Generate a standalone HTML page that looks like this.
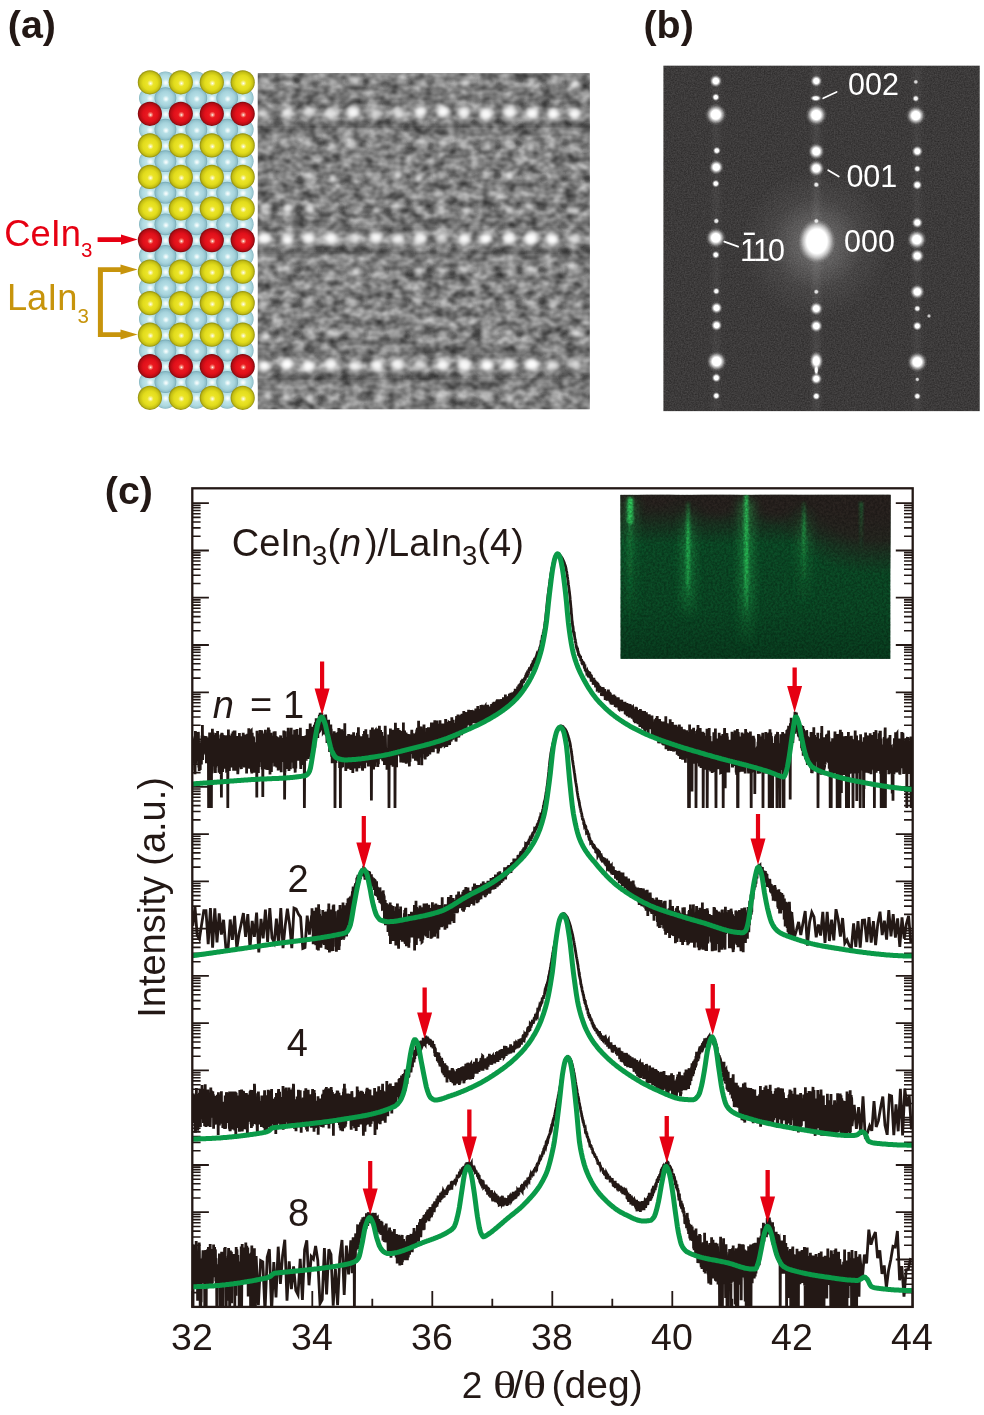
<!DOCTYPE html>
<html lang="en"><head><meta charset="utf-8"><title>CeIn3/LaIn3 superlattice figure</title>
<style>html,body{margin:0;padding:0;background:#fff}body{width:984px;height:1415px;overflow:hidden}svg{display:block;font-family:"Liberation Sans",sans-serif}</style>
</head><body>
<svg width="984" height="1415" viewBox="0 0 984 1415">
<defs>
<radialGradient id="gY" cx="0.5" cy="0.5" r="0.5" fx="0.53" fy="0.55">
<stop offset="0" stop-color="#ffffff"/><stop offset="0.1" stop-color="#f8f4a0"/><stop offset="0.26" stop-color="#ece52a"/><stop offset="0.6" stop-color="#e2dc1c"/><stop offset="0.85" stop-color="#c4bf14"/><stop offset="1" stop-color="#8f8c10"/></radialGradient>
<radialGradient id="gR" cx="0.5" cy="0.5" r="0.5" fx="0.53" fy="0.55">
<stop offset="0" stop-color="#ffffff"/><stop offset="0.1" stop-color="#f69080"/><stop offset="0.26" stop-color="#ea1a20"/><stop offset="0.6" stop-color="#e0101a"/><stop offset="0.85" stop-color="#b80c14"/><stop offset="1" stop-color="#7a0a0e"/></radialGradient>
<radialGradient id="gI" cx="0.5" cy="0.5" r="0.5" fx="0.53" fy="0.55">
<stop offset="0" stop-color="#ffffff"/><stop offset="0.13" stop-color="#e2f4f6"/><stop offset="0.3" stop-color="#b6dfe6"/><stop offset="0.65" stop-color="#a6d3dc"/><stop offset="0.88" stop-color="#8fc0cb"/><stop offset="1" stop-color="#74a6b2"/></radialGradient>
<radialGradient id="gIb" cx="0.5" cy="0.5" r="0.5" fx="0.52" fy="0.53">
<stop offset="0" stop-color="#ffffff"/><stop offset="0.14" stop-color="#eaf7f9"/><stop offset="0.34" stop-color="#c0e5ea"/><stop offset="0.7" stop-color="#afdae1"/><stop offset="0.9" stop-color="#9ccad3"/><stop offset="1" stop-color="#80b2bd"/></radialGradient>

<filter id="fTem" x="0" y="0" width="100%" height="100%" color-interpolation-filters="sRGB">
<feTurbulence type="fractalNoise" baseFrequency="0.085 0.11" numOctaves="2" seed="11"/>
<feColorMatrix type="matrix" values="0.7 0 0 0 0.14  0.7 0 0 0 0.14  0.7 0 0 0 0.14  0 0 0 0 1"/>
</filter>
<filter id="fBlur4" x="-5%" y="-5%" width="110%" height="110%"><feGaussianBlur stdDeviation="3.5"/></filter>
<filter id="fBlur2" x="-5%" y="-5%" width="110%" height="110%"><feGaussianBlur stdDeviation="1.9"/></filter>

<radialGradient id="gSpot"><stop offset="0" stop-color="#fff" stop-opacity="1"/><stop offset="0.42" stop-color="#fff" stop-opacity="1"/><stop offset="0.62" stop-color="#fff" stop-opacity="0.55"/><stop offset="0.82" stop-color="#fff" stop-opacity="0.15"/><stop offset="1" stop-color="#fff" stop-opacity="0"/></radialGradient>
<radialGradient id="gSpotC"><stop offset="0" stop-color="#fff" stop-opacity="1"/><stop offset="0.55" stop-color="#fff" stop-opacity="1"/><stop offset="0.72" stop-color="#fff" stop-opacity="0.6"/><stop offset="0.88" stop-color="#fff" stop-opacity="0.18"/><stop offset="1" stop-color="#fff" stop-opacity="0"/></radialGradient>
<radialGradient id="gGlow"><stop offset="0" stop-color="#fff" stop-opacity="0.5"/><stop offset="0.25" stop-color="#fff" stop-opacity="0.2"/><stop offset="0.6" stop-color="#fff" stop-opacity="0.06"/><stop offset="1" stop-color="#fff" stop-opacity="0"/></radialGradient>
<filter id="fDif" x="0" y="0" width="100%" height="100%" color-interpolation-filters="sRGB">
<feTurbulence type="fractalNoise" baseFrequency="0.7" numOctaves="3" seed="5"/>
<feColorMatrix type="matrix" values="0.5 0 0 0 0.0  0.5 0 0 0 0.0  0.5 0 0 0 0.0  0 0 0 0 1"/>
</filter>

<linearGradient id="gInsBase" x1="0" y1="0" x2="0" y2="1"><stop offset="0" stop-color="#0a3e20"/><stop offset="0.3" stop-color="#0c4e28"/><stop offset="0.7" stop-color="#0b4b26"/><stop offset="1" stop-color="#093f20"/></linearGradient>
<linearGradient id="gInsTop" x1="0" y1="0" x2="0" y2="1"><stop offset="0" stop-color="#2a2320" stop-opacity="1"/><stop offset="0.1" stop-color="#2a2320" stop-opacity="0.85"/><stop offset="0.3" stop-color="#2a2320" stop-opacity="0"/></linearGradient>
<radialGradient id="gInsDark"><stop offset="0" stop-color="#2a2320" stop-opacity="1"/><stop offset="0.55" stop-color="#2a2320" stop-opacity="0.85"/><stop offset="1" stop-color="#2a2320" stop-opacity="0"/></radialGradient>
<linearGradient id="gSt1" x1="0" y1="0" x2="0" y2="1"><stop offset="0" stop-color="#22b050" stop-opacity="0.9"/><stop offset="1" stop-color="#22b050" stop-opacity="0"/></linearGradient>
<linearGradient id="gSt2" x1="0" y1="0" x2="0" y2="1"><stop offset="0" stop-color="#28c058" stop-opacity="0.2"/><stop offset="0.3" stop-color="#28c058" stop-opacity="0.9"/><stop offset="0.8" stop-color="#28c058" stop-opacity="0.7"/><stop offset="1" stop-color="#28c058" stop-opacity="0"/></linearGradient>
<linearGradient id="gSt3" x1="0" y1="0" x2="0" y2="1"><stop offset="0" stop-color="#30d060" stop-opacity="0.9"/><stop offset="0.6" stop-color="#2cc85c" stop-opacity="0.85"/><stop offset="1" stop-color="#28c058" stop-opacity="0"/></linearGradient>
<linearGradient id="gSt4" x1="0" y1="0" x2="0" y2="1"><stop offset="0" stop-color="#22a84c" stop-opacity="0.2"/><stop offset="0.3" stop-color="#22a84c" stop-opacity="0.8"/><stop offset="1" stop-color="#22a84c" stop-opacity="0"/></linearGradient>
<linearGradient id="gSt5" x1="0" y1="0" x2="0" y2="1"><stop offset="0" stop-color="#1c8840" stop-opacity="0.6"/><stop offset="1" stop-color="#1c8840" stop-opacity="0"/></linearGradient>
<filter id="fBlurS" x="-5%" y="-5%" width="110%" height="110%"><feGaussianBlur stdDeviation="1.1"/></filter>
<filter id="fBlurW" x="-5%" y="-5%" width="110%" height="110%"><feGaussianBlur stdDeviation="5"/></filter>
<filter id="fIns" x="0" y="0" width="100%" height="100%" color-interpolation-filters="sRGB">
<feTurbulence type="fractalNoise" baseFrequency="0.45" numOctaves="2" seed="9"/>
<feColorMatrix type="matrix" values="0 0 0 0 0  0 0 0 0 0  0 0 0 0 0  2.4 0 0 0 -0.75"/>
</filter>
</defs>
<rect width="984" height="1415" fill="#fff"/>
<g fill="#231815" font-weight="bold" font-size="39.4"><text x="7.8" y="38">(a)</text><text x="643.5" y="38">(b)</text><text x="104.8" y="504.2">(c)</text></g>
<g id="lattice">
<circle cx="165.4" cy="82.3" r="10.9" fill="url(#gIb)"/>
<circle cx="196.3" cy="82.3" r="10.9" fill="url(#gIb)"/>
<circle cx="227.2" cy="82.3" r="10.9" fill="url(#gIb)"/>
<circle cx="165.4" cy="113.8" r="10.9" fill="url(#gIb)"/>
<circle cx="196.3" cy="113.8" r="10.9" fill="url(#gIb)"/>
<circle cx="227.2" cy="113.8" r="10.9" fill="url(#gIb)"/>
<circle cx="165.4" cy="145.4" r="10.9" fill="url(#gIb)"/>
<circle cx="196.3" cy="145.4" r="10.9" fill="url(#gIb)"/>
<circle cx="227.2" cy="145.4" r="10.9" fill="url(#gIb)"/>
<circle cx="165.4" cy="176.9" r="10.9" fill="url(#gIb)"/>
<circle cx="196.3" cy="176.9" r="10.9" fill="url(#gIb)"/>
<circle cx="227.2" cy="176.9" r="10.9" fill="url(#gIb)"/>
<circle cx="165.4" cy="208.5" r="10.9" fill="url(#gIb)"/>
<circle cx="196.3" cy="208.5" r="10.9" fill="url(#gIb)"/>
<circle cx="227.2" cy="208.5" r="10.9" fill="url(#gIb)"/>
<circle cx="165.4" cy="240.1" r="10.9" fill="url(#gIb)"/>
<circle cx="196.3" cy="240.1" r="10.9" fill="url(#gIb)"/>
<circle cx="227.2" cy="240.1" r="10.9" fill="url(#gIb)"/>
<circle cx="165.4" cy="271.6" r="10.9" fill="url(#gIb)"/>
<circle cx="196.3" cy="271.6" r="10.9" fill="url(#gIb)"/>
<circle cx="227.2" cy="271.6" r="10.9" fill="url(#gIb)"/>
<circle cx="165.4" cy="303.1" r="10.9" fill="url(#gIb)"/>
<circle cx="196.3" cy="303.1" r="10.9" fill="url(#gIb)"/>
<circle cx="227.2" cy="303.1" r="10.9" fill="url(#gIb)"/>
<circle cx="165.4" cy="334.7" r="10.9" fill="url(#gIb)"/>
<circle cx="196.3" cy="334.7" r="10.9" fill="url(#gIb)"/>
<circle cx="227.2" cy="334.7" r="10.9" fill="url(#gIb)"/>
<circle cx="165.4" cy="366.2" r="10.9" fill="url(#gIb)"/>
<circle cx="196.3" cy="366.2" r="10.9" fill="url(#gIb)"/>
<circle cx="227.2" cy="366.2" r="10.9" fill="url(#gIb)"/>
<circle cx="165.4" cy="397.8" r="10.9" fill="url(#gIb)"/>
<circle cx="196.3" cy="397.8" r="10.9" fill="url(#gIb)"/>
<circle cx="227.2" cy="397.8" r="10.9" fill="url(#gIb)"/>
<circle cx="149.9" cy="98.1" r="10.9" fill="url(#gIb)"/>
<circle cx="180.8" cy="98.1" r="10.9" fill="url(#gIb)"/>
<circle cx="211.8" cy="98.1" r="10.9" fill="url(#gIb)"/>
<circle cx="242.7" cy="98.1" r="10.9" fill="url(#gIb)"/>
<circle cx="149.9" cy="129.6" r="10.9" fill="url(#gIb)"/>
<circle cx="180.8" cy="129.6" r="10.9" fill="url(#gIb)"/>
<circle cx="211.8" cy="129.6" r="10.9" fill="url(#gIb)"/>
<circle cx="242.7" cy="129.6" r="10.9" fill="url(#gIb)"/>
<circle cx="149.9" cy="161.2" r="10.9" fill="url(#gIb)"/>
<circle cx="180.8" cy="161.2" r="10.9" fill="url(#gIb)"/>
<circle cx="211.8" cy="161.2" r="10.9" fill="url(#gIb)"/>
<circle cx="242.7" cy="161.2" r="10.9" fill="url(#gIb)"/>
<circle cx="149.9" cy="192.7" r="10.9" fill="url(#gIb)"/>
<circle cx="180.8" cy="192.7" r="10.9" fill="url(#gIb)"/>
<circle cx="211.8" cy="192.7" r="10.9" fill="url(#gIb)"/>
<circle cx="242.7" cy="192.7" r="10.9" fill="url(#gIb)"/>
<circle cx="149.9" cy="224.3" r="10.9" fill="url(#gIb)"/>
<circle cx="180.8" cy="224.3" r="10.9" fill="url(#gIb)"/>
<circle cx="211.8" cy="224.3" r="10.9" fill="url(#gIb)"/>
<circle cx="242.7" cy="224.3" r="10.9" fill="url(#gIb)"/>
<circle cx="149.9" cy="255.8" r="10.9" fill="url(#gIb)"/>
<circle cx="180.8" cy="255.8" r="10.9" fill="url(#gIb)"/>
<circle cx="211.8" cy="255.8" r="10.9" fill="url(#gIb)"/>
<circle cx="242.7" cy="255.8" r="10.9" fill="url(#gIb)"/>
<circle cx="149.9" cy="287.4" r="10.9" fill="url(#gIb)"/>
<circle cx="180.8" cy="287.4" r="10.9" fill="url(#gIb)"/>
<circle cx="211.8" cy="287.4" r="10.9" fill="url(#gIb)"/>
<circle cx="242.7" cy="287.4" r="10.9" fill="url(#gIb)"/>
<circle cx="149.9" cy="318.9" r="10.9" fill="url(#gIb)"/>
<circle cx="180.8" cy="318.9" r="10.9" fill="url(#gIb)"/>
<circle cx="211.8" cy="318.9" r="10.9" fill="url(#gIb)"/>
<circle cx="242.7" cy="318.9" r="10.9" fill="url(#gIb)"/>
<circle cx="149.9" cy="350.5" r="10.9" fill="url(#gIb)"/>
<circle cx="180.8" cy="350.5" r="10.9" fill="url(#gIb)"/>
<circle cx="211.8" cy="350.5" r="10.9" fill="url(#gIb)"/>
<circle cx="242.7" cy="350.5" r="10.9" fill="url(#gIb)"/>
<circle cx="149.9" cy="382.0" r="10.9" fill="url(#gIb)"/>
<circle cx="180.8" cy="382.0" r="10.9" fill="url(#gIb)"/>
<circle cx="211.8" cy="382.0" r="10.9" fill="url(#gIb)"/>
<circle cx="242.7" cy="382.0" r="10.9" fill="url(#gIb)"/>
<circle cx="165.4" cy="98.1" r="10.9" fill="url(#gI)"/>
<circle cx="196.3" cy="98.1" r="10.9" fill="url(#gI)"/>
<circle cx="227.2" cy="98.1" r="10.9" fill="url(#gI)"/>
<circle cx="165.4" cy="129.6" r="10.9" fill="url(#gI)"/>
<circle cx="196.3" cy="129.6" r="10.9" fill="url(#gI)"/>
<circle cx="227.2" cy="129.6" r="10.9" fill="url(#gI)"/>
<circle cx="165.4" cy="161.2" r="10.9" fill="url(#gI)"/>
<circle cx="196.3" cy="161.2" r="10.9" fill="url(#gI)"/>
<circle cx="227.2" cy="161.2" r="10.9" fill="url(#gI)"/>
<circle cx="165.4" cy="192.7" r="10.9" fill="url(#gI)"/>
<circle cx="196.3" cy="192.7" r="10.9" fill="url(#gI)"/>
<circle cx="227.2" cy="192.7" r="10.9" fill="url(#gI)"/>
<circle cx="165.4" cy="224.3" r="10.9" fill="url(#gI)"/>
<circle cx="196.3" cy="224.3" r="10.9" fill="url(#gI)"/>
<circle cx="227.2" cy="224.3" r="10.9" fill="url(#gI)"/>
<circle cx="165.4" cy="255.8" r="10.9" fill="url(#gI)"/>
<circle cx="196.3" cy="255.8" r="10.9" fill="url(#gI)"/>
<circle cx="227.2" cy="255.8" r="10.9" fill="url(#gI)"/>
<circle cx="165.4" cy="287.4" r="10.9" fill="url(#gI)"/>
<circle cx="196.3" cy="287.4" r="10.9" fill="url(#gI)"/>
<circle cx="227.2" cy="287.4" r="10.9" fill="url(#gI)"/>
<circle cx="165.4" cy="318.9" r="10.9" fill="url(#gI)"/>
<circle cx="196.3" cy="318.9" r="10.9" fill="url(#gI)"/>
<circle cx="227.2" cy="318.9" r="10.9" fill="url(#gI)"/>
<circle cx="165.4" cy="350.5" r="10.9" fill="url(#gI)"/>
<circle cx="196.3" cy="350.5" r="10.9" fill="url(#gI)"/>
<circle cx="227.2" cy="350.5" r="10.9" fill="url(#gI)"/>
<circle cx="165.4" cy="382.0" r="10.9" fill="url(#gI)"/>
<circle cx="196.3" cy="382.0" r="10.9" fill="url(#gI)"/>
<circle cx="227.2" cy="382.0" r="10.9" fill="url(#gI)"/>
<circle cx="149.9" cy="82.3" r="12.1" fill="url(#gY)"/>
<circle cx="180.8" cy="82.3" r="12.1" fill="url(#gY)"/>
<circle cx="211.8" cy="82.3" r="12.1" fill="url(#gY)"/>
<circle cx="242.7" cy="82.3" r="12.1" fill="url(#gY)"/>
<circle cx="149.9" cy="113.8" r="12.1" fill="url(#gR)"/>
<circle cx="180.8" cy="113.8" r="12.1" fill="url(#gR)"/>
<circle cx="211.8" cy="113.8" r="12.1" fill="url(#gR)"/>
<circle cx="242.7" cy="113.8" r="12.1" fill="url(#gR)"/>
<circle cx="149.9" cy="145.4" r="12.1" fill="url(#gY)"/>
<circle cx="180.8" cy="145.4" r="12.1" fill="url(#gY)"/>
<circle cx="211.8" cy="145.4" r="12.1" fill="url(#gY)"/>
<circle cx="242.7" cy="145.4" r="12.1" fill="url(#gY)"/>
<circle cx="149.9" cy="176.9" r="12.1" fill="url(#gY)"/>
<circle cx="180.8" cy="176.9" r="12.1" fill="url(#gY)"/>
<circle cx="211.8" cy="176.9" r="12.1" fill="url(#gY)"/>
<circle cx="242.7" cy="176.9" r="12.1" fill="url(#gY)"/>
<circle cx="149.9" cy="208.5" r="12.1" fill="url(#gY)"/>
<circle cx="180.8" cy="208.5" r="12.1" fill="url(#gY)"/>
<circle cx="211.8" cy="208.5" r="12.1" fill="url(#gY)"/>
<circle cx="242.7" cy="208.5" r="12.1" fill="url(#gY)"/>
<circle cx="149.9" cy="240.1" r="12.1" fill="url(#gR)"/>
<circle cx="180.8" cy="240.1" r="12.1" fill="url(#gR)"/>
<circle cx="211.8" cy="240.1" r="12.1" fill="url(#gR)"/>
<circle cx="242.7" cy="240.1" r="12.1" fill="url(#gR)"/>
<circle cx="149.9" cy="271.6" r="12.1" fill="url(#gY)"/>
<circle cx="180.8" cy="271.6" r="12.1" fill="url(#gY)"/>
<circle cx="211.8" cy="271.6" r="12.1" fill="url(#gY)"/>
<circle cx="242.7" cy="271.6" r="12.1" fill="url(#gY)"/>
<circle cx="149.9" cy="303.1" r="12.1" fill="url(#gY)"/>
<circle cx="180.8" cy="303.1" r="12.1" fill="url(#gY)"/>
<circle cx="211.8" cy="303.1" r="12.1" fill="url(#gY)"/>
<circle cx="242.7" cy="303.1" r="12.1" fill="url(#gY)"/>
<circle cx="149.9" cy="334.7" r="12.1" fill="url(#gY)"/>
<circle cx="180.8" cy="334.7" r="12.1" fill="url(#gY)"/>
<circle cx="211.8" cy="334.7" r="12.1" fill="url(#gY)"/>
<circle cx="242.7" cy="334.7" r="12.1" fill="url(#gY)"/>
<circle cx="149.9" cy="366.2" r="12.1" fill="url(#gR)"/>
<circle cx="180.8" cy="366.2" r="12.1" fill="url(#gR)"/>
<circle cx="211.8" cy="366.2" r="12.1" fill="url(#gR)"/>
<circle cx="242.7" cy="366.2" r="12.1" fill="url(#gR)"/>
<circle cx="149.9" cy="397.8" r="12.1" fill="url(#gY)"/>
<circle cx="180.8" cy="397.8" r="12.1" fill="url(#gY)"/>
<circle cx="211.8" cy="397.8" r="12.1" fill="url(#gY)"/>
<circle cx="242.7" cy="397.8" r="12.1" fill="url(#gY)"/>
</g>
<text x="4.3" y="245.9" font-size="36.3" fill="#e60012">CeIn<tspan font-size="20.5" dy="11.3">3</tspan></text>
<text x="6.9" y="310.1" font-size="36.3" fill="#c7940c">LaIn<tspan font-size="20.5" dy="12.5">3</tspan></text>
<path d="M97.6 237.3H121V234.4L137.6 239.6L121 244.8V241.9H97.6Z" fill="#e60012"/>
<path d="M97.9 267.3H120.5V264.6L137.6 269.6L120.5 274.6V271.9H102.9V332.3H120.5V329.6L137.6 334.6L120.5 339.6V336.9H97.9Z" fill="#c7940c"/>
<clipPath id="cTem"><rect x="257.8" y="73.2" width="331.9" height="336.1"/></clipPath>
<g clip-path="url(#cTem)">
<rect x="257.8" y="73.2" width="331.9" height="336.1" fill="#7d7d7d"/>
<rect x="257.8" y="73.2" width="331.9" height="336.1" filter="url(#fTem)"/>
<g filter="url(#fBlur4)">
<rect x="247.8" y="107.5" width="351.9" height="11" fill="#fff" opacity="0.1"/>
<rect x="247.8" y="120.0" width="351.9" height="11" fill="#000" opacity="0.2"/>
<rect x="247.8" y="96.0" width="351.9" height="9" fill="#000" opacity="0.1"/>
<rect x="247.8" y="135.0" width="351.9" height="12" fill="#fff" opacity="0.08"/>
<rect x="247.8" y="233.1" width="351.9" height="11" fill="#fff" opacity="0.1"/>
<rect x="247.8" y="245.6" width="351.9" height="11" fill="#000" opacity="0.2"/>
<rect x="247.8" y="221.6" width="351.9" height="9" fill="#000" opacity="0.1"/>
<rect x="247.8" y="260.6" width="351.9" height="12" fill="#fff" opacity="0.08"/>
<rect x="247.8" y="359.7" width="351.9" height="11" fill="#fff" opacity="0.1"/>
<rect x="247.8" y="372.2" width="351.9" height="11" fill="#000" opacity="0.2"/>
<rect x="247.8" y="348.2" width="351.9" height="9" fill="#000" opacity="0.1"/>
<rect x="247.8" y="387.2" width="351.9" height="12" fill="#fff" opacity="0.08"/>
</g>
<g filter="url(#fBlur2)">
<ellipse cx="265.6" cy="80.6" rx="4.0" ry="3.4" fill="#fff" opacity="0.30"/>
<ellipse cx="285.3" cy="82.0" rx="3.3" ry="3.1" fill="#fff" opacity="0.18"/>
<ellipse cx="307.8" cy="81.2" rx="4.1" ry="4.1" fill="#fff" opacity="0.34"/>
<ellipse cx="333.4" cy="80.5" rx="4.4" ry="3.3" fill="#fff" opacity="0.41"/>
<ellipse cx="354.9" cy="81.0" rx="4.0" ry="3.8" fill="#fff" opacity="0.69"/>
<ellipse cx="374.1" cy="80.5" rx="3.5" ry="3.8" fill="#fff" opacity="0.32"/>
<ellipse cx="398.4" cy="82.1" rx="3.6" ry="4.0" fill="#fff" opacity="0.34"/>
<ellipse cx="420.5" cy="82.4" rx="4.4" ry="3.9" fill="#fff" opacity="0.46"/>
<ellipse cx="440.8" cy="82.0" rx="4.3" ry="3.2" fill="#fff" opacity="0.28"/>
<ellipse cx="465.6" cy="82.6" rx="4.4" ry="3.4" fill="#fff" opacity="0.80"/>
<ellipse cx="487.0" cy="82.1" rx="4.4" ry="4.1" fill="#fff" opacity="0.46"/>
<ellipse cx="507.1" cy="83.1" rx="4.1" ry="4.2" fill="#fff" opacity="0.36"/>
<ellipse cx="530.6" cy="83.0" rx="3.2" ry="3.6" fill="#fff" opacity="0.52"/>
<ellipse cx="554.3" cy="80.8" rx="3.5" ry="3.5" fill="#fff" opacity="0.62"/>
<ellipse cx="575.6" cy="83.8" rx="4.3" ry="4.0" fill="#fff" opacity="0.73"/>
<circle cx="275.7" cy="81.5" r="4.3" fill="#222" opacity="0.28"/>
<circle cx="296.9" cy="80.4" r="3.3" fill="#222" opacity="0.58"/>
<circle cx="320.4" cy="82.8" r="3.4" fill="#222" opacity="0.26"/>
<circle cx="342.3" cy="81.5" r="3.8" fill="#222" opacity="0.15"/>
<circle cx="365.5" cy="82.4" r="3.9" fill="#222" opacity="0.58"/>
<circle cx="385.2" cy="84.7" r="4.2" fill="#222" opacity="0.45"/>
<circle cx="410.3" cy="81.7" r="3.6" fill="#222" opacity="0.54"/>
<circle cx="431.8" cy="79.7" r="3.1" fill="#222" opacity="0.20"/>
<circle cx="452.1" cy="81.3" r="3.1" fill="#222" opacity="0.24"/>
<circle cx="474.2" cy="79.9" r="3.5" fill="#222" opacity="0.15"/>
<circle cx="499.3" cy="83.0" r="3.2" fill="#222" opacity="0.16"/>
<circle cx="519.3" cy="81.5" r="3.2" fill="#222" opacity="0.26"/>
<circle cx="544.1" cy="82.1" r="3.7" fill="#222" opacity="0.53"/>
<circle cx="562.7" cy="81.4" r="3.4" fill="#222" opacity="0.19"/>
<circle cx="585.1" cy="79.4" r="4.4" fill="#222" opacity="0.52"/>
<ellipse cx="265.2" cy="143.5" rx="3.9" ry="4.2" fill="#fff" opacity="0.39"/>
<ellipse cx="286.2" cy="144.9" rx="3.4" ry="3.9" fill="#fff" opacity="0.54"/>
<ellipse cx="308.7" cy="144.3" rx="4.3" ry="4.2" fill="#fff" opacity="0.39"/>
<ellipse cx="332.8" cy="146.4" rx="3.5" ry="3.6" fill="#fff" opacity="0.53"/>
<ellipse cx="352.8" cy="144.4" rx="4.2" ry="4.1" fill="#fff" opacity="0.61"/>
<ellipse cx="377.8" cy="147.2" rx="3.7" ry="3.3" fill="#fff" opacity="0.35"/>
<ellipse cx="396.8" cy="145.9" rx="4.5" ry="4.0" fill="#fff" opacity="0.25"/>
<ellipse cx="421.4" cy="143.7" rx="4.1" ry="4.1" fill="#fff" opacity="0.37"/>
<ellipse cx="442.3" cy="144.1" rx="4.3" ry="3.4" fill="#fff" opacity="0.50"/>
<ellipse cx="464.1" cy="145.0" rx="4.5" ry="3.9" fill="#fff" opacity="0.51"/>
<ellipse cx="488.3" cy="146.6" rx="3.4" ry="4.0" fill="#fff" opacity="0.65"/>
<ellipse cx="508.3" cy="145.6" rx="3.4" ry="3.0" fill="#fff" opacity="0.59"/>
<ellipse cx="531.1" cy="147.1" rx="3.8" ry="4.0" fill="#fff" opacity="0.59"/>
<ellipse cx="552.2" cy="144.6" rx="3.5" ry="3.7" fill="#fff" opacity="0.52"/>
<ellipse cx="573.9" cy="147.0" rx="3.7" ry="3.5" fill="#fff" opacity="0.27"/>
<circle cx="277.7" cy="144.9" r="4.4" fill="#222" opacity="0.41"/>
<circle cx="298.4" cy="145.5" r="3.0" fill="#222" opacity="0.38"/>
<circle cx="319.2" cy="142.4" r="4.2" fill="#222" opacity="0.35"/>
<circle cx="342.5" cy="146.8" r="3.8" fill="#222" opacity="0.23"/>
<circle cx="364.8" cy="145.7" r="4.2" fill="#222" opacity="0.30"/>
<circle cx="387.2" cy="143.9" r="3.4" fill="#222" opacity="0.20"/>
<circle cx="409.1" cy="145.8" r="4.1" fill="#222" opacity="0.50"/>
<circle cx="431.0" cy="146.1" r="3.8" fill="#222" opacity="0.56"/>
<circle cx="454.2" cy="145.1" r="3.8" fill="#222" opacity="0.38"/>
<circle cx="477.4" cy="146.6" r="4.3" fill="#222" opacity="0.37"/>
<circle cx="496.8" cy="145.8" r="4.4" fill="#222" opacity="0.57"/>
<circle cx="518.5" cy="143.1" r="3.7" fill="#222" opacity="0.53"/>
<circle cx="541.1" cy="142.8" r="4.0" fill="#222" opacity="0.18"/>
<circle cx="565.9" cy="143.3" r="4.1" fill="#222" opacity="0.50"/>
<circle cx="585.0" cy="147.7" r="4.5" fill="#222" opacity="0.45"/>
<ellipse cx="264.6" cy="176.9" rx="4.6" ry="4.0" fill="#fff" opacity="0.25"/>
<ellipse cx="287.2" cy="176.3" rx="3.5" ry="3.4" fill="#fff" opacity="0.22"/>
<ellipse cx="309.1" cy="175.0" rx="3.7" ry="3.7" fill="#fff" opacity="0.77"/>
<ellipse cx="332.7" cy="178.8" rx="3.3" ry="3.3" fill="#fff" opacity="0.90"/>
<ellipse cx="352.8" cy="175.5" rx="3.8" ry="4.1" fill="#fff" opacity="0.17"/>
<ellipse cx="374.4" cy="178.6" rx="4.0" ry="3.8" fill="#fff" opacity="0.52"/>
<ellipse cx="397.7" cy="175.2" rx="4.5" ry="3.8" fill="#fff" opacity="0.81"/>
<ellipse cx="418.5" cy="178.4" rx="3.8" ry="3.4" fill="#fff" opacity="0.86"/>
<ellipse cx="441.4" cy="175.5" rx="3.9" ry="3.3" fill="#fff" opacity="0.40"/>
<ellipse cx="462.7" cy="175.8" rx="3.6" ry="3.4" fill="#fff" opacity="0.20"/>
<ellipse cx="486.7" cy="175.7" rx="3.7" ry="3.0" fill="#fff" opacity="0.49"/>
<ellipse cx="509.1" cy="175.7" rx="3.9" ry="4.1" fill="#fff" opacity="0.82"/>
<ellipse cx="530.8" cy="176.9" rx="4.4" ry="3.5" fill="#fff" opacity="0.20"/>
<ellipse cx="555.1" cy="176.3" rx="4.4" ry="3.8" fill="#fff" opacity="0.38"/>
<ellipse cx="574.8" cy="175.2" rx="3.4" ry="3.1" fill="#fff" opacity="0.44"/>
<circle cx="275.1" cy="174.9" r="3.1" fill="#222" opacity="0.48"/>
<circle cx="299.7" cy="178.0" r="3.4" fill="#222" opacity="0.53"/>
<circle cx="319.6" cy="176.7" r="3.2" fill="#222" opacity="0.26"/>
<circle cx="341.6" cy="179.7" r="4.5" fill="#222" opacity="0.35"/>
<circle cx="363.7" cy="179.7" r="3.5" fill="#222" opacity="0.40"/>
<circle cx="384.9" cy="176.2" r="3.7" fill="#222" opacity="0.31"/>
<circle cx="407.9" cy="177.0" r="3.0" fill="#222" opacity="0.38"/>
<circle cx="429.6" cy="176.3" r="3.1" fill="#222" opacity="0.27"/>
<circle cx="452.7" cy="175.3" r="3.9" fill="#222" opacity="0.16"/>
<circle cx="476.6" cy="177.9" r="4.1" fill="#222" opacity="0.39"/>
<circle cx="497.3" cy="175.9" r="4.5" fill="#222" opacity="0.55"/>
<circle cx="520.9" cy="177.8" r="3.1" fill="#222" opacity="0.22"/>
<circle cx="543.7" cy="177.7" r="4.1" fill="#222" opacity="0.53"/>
<circle cx="562.9" cy="177.1" r="3.8" fill="#222" opacity="0.52"/>
<circle cx="587.7" cy="178.9" r="3.9" fill="#222" opacity="0.53"/>
<ellipse cx="265.8" cy="207.4" rx="3.2" ry="3.2" fill="#fff" opacity="0.55"/>
<ellipse cx="287.4" cy="209.0" rx="4.1" ry="3.8" fill="#fff" opacity="0.85"/>
<ellipse cx="310.3" cy="208.5" rx="3.9" ry="3.8" fill="#fff" opacity="0.84"/>
<ellipse cx="330.5" cy="206.8" rx="3.6" ry="3.9" fill="#fff" opacity="0.18"/>
<ellipse cx="355.6" cy="208.5" rx="3.7" ry="3.6" fill="#fff" opacity="0.24"/>
<ellipse cx="376.3" cy="209.1" rx="3.3" ry="3.2" fill="#fff" opacity="0.46"/>
<ellipse cx="397.2" cy="208.8" rx="3.2" ry="3.1" fill="#fff" opacity="0.26"/>
<ellipse cx="421.0" cy="209.2" rx="3.6" ry="3.6" fill="#fff" opacity="0.27"/>
<ellipse cx="440.8" cy="210.1" rx="3.5" ry="4.2" fill="#fff" opacity="0.36"/>
<ellipse cx="465.8" cy="210.4" rx="3.8" ry="3.3" fill="#fff" opacity="0.74"/>
<ellipse cx="485.5" cy="208.8" rx="3.4" ry="3.6" fill="#fff" opacity="0.24"/>
<ellipse cx="508.9" cy="210.0" rx="4.2" ry="3.3" fill="#fff" opacity="0.85"/>
<ellipse cx="529.1" cy="206.5" rx="3.9" ry="3.5" fill="#fff" opacity="0.55"/>
<ellipse cx="552.6" cy="207.8" rx="4.4" ry="3.0" fill="#fff" opacity="0.29"/>
<ellipse cx="573.9" cy="210.2" rx="4.2" ry="4.1" fill="#fff" opacity="0.49"/>
<circle cx="275.6" cy="207.9" r="4.5" fill="#222" opacity="0.28"/>
<circle cx="297.7" cy="208.1" r="3.4" fill="#222" opacity="0.42"/>
<circle cx="318.8" cy="210.5" r="3.4" fill="#222" opacity="0.17"/>
<circle cx="341.6" cy="207.1" r="3.8" fill="#222" opacity="0.57"/>
<circle cx="364.3" cy="211.2" r="4.3" fill="#222" opacity="0.24"/>
<circle cx="387.5" cy="211.0" r="4.4" fill="#222" opacity="0.52"/>
<circle cx="410.0" cy="205.8" r="4.1" fill="#222" opacity="0.40"/>
<circle cx="432.3" cy="209.4" r="3.4" fill="#222" opacity="0.35"/>
<circle cx="455.2" cy="206.3" r="3.7" fill="#222" opacity="0.17"/>
<circle cx="474.8" cy="209.9" r="4.5" fill="#222" opacity="0.30"/>
<circle cx="498.4" cy="207.3" r="3.8" fill="#222" opacity="0.27"/>
<circle cx="518.6" cy="206.5" r="3.3" fill="#222" opacity="0.33"/>
<circle cx="542.1" cy="206.8" r="4.4" fill="#222" opacity="0.56"/>
<circle cx="564.1" cy="206.3" r="3.3" fill="#222" opacity="0.60"/>
<circle cx="585.8" cy="206.0" r="3.4" fill="#222" opacity="0.19"/>
<ellipse cx="266.5" cy="272.6" rx="3.8" ry="3.5" fill="#fff" opacity="0.27"/>
<ellipse cx="286.5" cy="269.8" rx="3.6" ry="4.2" fill="#fff" opacity="0.39"/>
<ellipse cx="309.9" cy="273.1" rx="3.5" ry="3.3" fill="#fff" opacity="0.21"/>
<ellipse cx="331.3" cy="273.4" rx="4.4" ry="4.0" fill="#fff" opacity="0.26"/>
<ellipse cx="355.3" cy="271.5" rx="4.0" ry="3.0" fill="#fff" opacity="0.81"/>
<ellipse cx="377.2" cy="273.0" rx="4.6" ry="3.3" fill="#fff" opacity="0.33"/>
<ellipse cx="398.1" cy="272.3" rx="4.5" ry="3.9" fill="#fff" opacity="0.20"/>
<ellipse cx="420.0" cy="271.8" rx="3.3" ry="3.9" fill="#fff" opacity="0.44"/>
<ellipse cx="442.9" cy="270.8" rx="3.4" ry="3.3" fill="#fff" opacity="0.25"/>
<ellipse cx="463.0" cy="269.9" rx="3.9" ry="3.7" fill="#fff" opacity="0.44"/>
<ellipse cx="487.1" cy="269.6" rx="3.6" ry="3.6" fill="#fff" opacity="0.32"/>
<ellipse cx="510.4" cy="271.5" rx="3.5" ry="3.3" fill="#fff" opacity="0.58"/>
<ellipse cx="530.3" cy="269.7" rx="3.9" ry="3.8" fill="#fff" opacity="0.58"/>
<ellipse cx="553.9" cy="273.3" rx="3.5" ry="3.0" fill="#fff" opacity="0.34"/>
<ellipse cx="576.1" cy="270.4" rx="4.3" ry="3.9" fill="#fff" opacity="0.30"/>
<circle cx="274.9" cy="274.4" r="3.5" fill="#222" opacity="0.38"/>
<circle cx="297.2" cy="269.9" r="4.1" fill="#222" opacity="0.52"/>
<circle cx="322.2" cy="271.6" r="3.3" fill="#222" opacity="0.28"/>
<circle cx="342.3" cy="272.6" r="4.4" fill="#222" opacity="0.25"/>
<circle cx="364.3" cy="269.9" r="4.5" fill="#222" opacity="0.22"/>
<circle cx="385.1" cy="269.0" r="3.6" fill="#222" opacity="0.21"/>
<circle cx="410.6" cy="273.0" r="4.5" fill="#222" opacity="0.55"/>
<circle cx="430.6" cy="269.7" r="4.4" fill="#222" opacity="0.57"/>
<circle cx="451.6" cy="272.6" r="3.6" fill="#222" opacity="0.49"/>
<circle cx="474.9" cy="269.6" r="3.0" fill="#222" opacity="0.32"/>
<circle cx="497.2" cy="274.3" r="3.2" fill="#222" opacity="0.28"/>
<circle cx="518.8" cy="270.7" r="4.2" fill="#222" opacity="0.58"/>
<circle cx="541.9" cy="268.9" r="3.7" fill="#222" opacity="0.52"/>
<circle cx="566.0" cy="269.8" r="3.5" fill="#222" opacity="0.32"/>
<circle cx="584.6" cy="271.1" r="4.2" fill="#222" opacity="0.55"/>
<ellipse cx="263.3" cy="304.8" rx="3.6" ry="3.9" fill="#fff" opacity="0.61"/>
<ellipse cx="286.3" cy="305.0" rx="4.1" ry="3.3" fill="#fff" opacity="0.55"/>
<ellipse cx="308.4" cy="301.2" rx="4.3" ry="4.1" fill="#fff" opacity="0.47"/>
<ellipse cx="329.6" cy="302.1" rx="3.9" ry="4.1" fill="#fff" opacity="0.44"/>
<ellipse cx="352.7" cy="302.9" rx="3.9" ry="4.1" fill="#fff" opacity="0.58"/>
<ellipse cx="376.8" cy="304.4" rx="4.3" ry="3.7" fill="#fff" opacity="0.23"/>
<ellipse cx="397.5" cy="304.3" rx="3.3" ry="3.2" fill="#fff" opacity="0.30"/>
<ellipse cx="418.4" cy="301.3" rx="4.0" ry="3.4" fill="#fff" opacity="0.49"/>
<ellipse cx="444.3" cy="302.2" rx="3.3" ry="3.1" fill="#fff" opacity="0.59"/>
<ellipse cx="464.3" cy="302.1" rx="3.8" ry="3.7" fill="#fff" opacity="0.37"/>
<ellipse cx="488.1" cy="303.8" rx="3.4" ry="4.0" fill="#fff" opacity="0.45"/>
<ellipse cx="508.4" cy="304.1" rx="3.5" ry="3.3" fill="#fff" opacity="0.28"/>
<ellipse cx="532.6" cy="303.5" rx="3.7" ry="3.5" fill="#fff" opacity="0.26"/>
<ellipse cx="552.1" cy="304.4" rx="4.1" ry="4.2" fill="#fff" opacity="0.60"/>
<ellipse cx="576.7" cy="304.5" rx="4.5" ry="3.0" fill="#fff" opacity="0.20"/>
<circle cx="274.6" cy="301.3" r="4.5" fill="#222" opacity="0.28"/>
<circle cx="300.0" cy="302.4" r="4.3" fill="#222" opacity="0.41"/>
<circle cx="319.5" cy="304.8" r="4.4" fill="#222" opacity="0.35"/>
<circle cx="343.0" cy="303.9" r="3.3" fill="#222" opacity="0.20"/>
<circle cx="363.3" cy="301.4" r="3.4" fill="#222" opacity="0.32"/>
<circle cx="387.5" cy="301.4" r="3.0" fill="#222" opacity="0.42"/>
<circle cx="409.8" cy="301.3" r="3.5" fill="#222" opacity="0.30"/>
<circle cx="432.5" cy="303.4" r="3.1" fill="#222" opacity="0.24"/>
<circle cx="453.0" cy="303.5" r="4.0" fill="#222" opacity="0.20"/>
<circle cx="474.3" cy="304.3" r="3.6" fill="#222" opacity="0.19"/>
<circle cx="497.0" cy="305.9" r="3.5" fill="#222" opacity="0.28"/>
<circle cx="519.4" cy="302.6" r="4.3" fill="#222" opacity="0.40"/>
<circle cx="541.6" cy="301.3" r="4.1" fill="#222" opacity="0.60"/>
<circle cx="562.3" cy="305.6" r="3.6" fill="#222" opacity="0.24"/>
<circle cx="586.1" cy="305.4" r="3.7" fill="#222" opacity="0.52"/>
<ellipse cx="265.6" cy="336.3" rx="3.3" ry="3.7" fill="#fff" opacity="0.77"/>
<ellipse cx="285.8" cy="333.8" rx="3.9" ry="4.1" fill="#fff" opacity="0.32"/>
<ellipse cx="310.6" cy="336.6" rx="3.5" ry="3.2" fill="#fff" opacity="0.20"/>
<ellipse cx="331.4" cy="332.9" rx="4.5" ry="3.5" fill="#fff" opacity="0.57"/>
<ellipse cx="355.0" cy="333.3" rx="4.3" ry="3.3" fill="#fff" opacity="0.56"/>
<ellipse cx="377.2" cy="333.4" rx="3.5" ry="3.5" fill="#fff" opacity="0.33"/>
<ellipse cx="396.5" cy="333.7" rx="4.2" ry="4.1" fill="#fff" opacity="0.38"/>
<ellipse cx="421.2" cy="332.9" rx="4.4" ry="3.1" fill="#fff" opacity="0.17"/>
<ellipse cx="442.9" cy="333.9" rx="3.8" ry="3.7" fill="#fff" opacity="0.42"/>
<ellipse cx="464.3" cy="334.5" rx="3.2" ry="3.7" fill="#fff" opacity="0.34"/>
<ellipse cx="487.8" cy="335.8" rx="3.8" ry="3.2" fill="#fff" opacity="0.37"/>
<ellipse cx="508.6" cy="333.1" rx="3.8" ry="3.6" fill="#fff" opacity="0.64"/>
<ellipse cx="529.4" cy="335.6" rx="4.3" ry="3.6" fill="#fff" opacity="0.17"/>
<ellipse cx="552.7" cy="336.5" rx="3.4" ry="4.0" fill="#fff" opacity="0.17"/>
<ellipse cx="576.6" cy="333.5" rx="4.6" ry="3.6" fill="#fff" opacity="0.60"/>
<circle cx="277.7" cy="332.7" r="4.2" fill="#222" opacity="0.58"/>
<circle cx="296.5" cy="333.8" r="4.1" fill="#222" opacity="0.57"/>
<circle cx="322.0" cy="333.3" r="4.2" fill="#222" opacity="0.22"/>
<circle cx="342.6" cy="337.2" r="3.3" fill="#222" opacity="0.21"/>
<circle cx="364.8" cy="333.6" r="3.1" fill="#222" opacity="0.27"/>
<circle cx="385.6" cy="337.3" r="4.0" fill="#222" opacity="0.23"/>
<circle cx="407.8" cy="336.4" r="3.2" fill="#222" opacity="0.55"/>
<circle cx="431.8" cy="333.9" r="4.3" fill="#222" opacity="0.39"/>
<circle cx="453.8" cy="337.0" r="3.2" fill="#222" opacity="0.40"/>
<circle cx="476.1" cy="334.1" r="4.2" fill="#222" opacity="0.60"/>
<circle cx="499.7" cy="335.2" r="3.5" fill="#222" opacity="0.27"/>
<circle cx="519.7" cy="332.8" r="4.1" fill="#222" opacity="0.49"/>
<circle cx="543.4" cy="333.2" r="4.0" fill="#222" opacity="0.17"/>
<circle cx="564.6" cy="335.7" r="3.5" fill="#222" opacity="0.59"/>
<circle cx="584.6" cy="332.6" r="3.9" fill="#222" opacity="0.15"/>
<ellipse cx="266.6" cy="396.3" rx="3.5" ry="3.8" fill="#fff" opacity="0.34"/>
<ellipse cx="285.6" cy="397.2" rx="3.5" ry="3.7" fill="#fff" opacity="0.71"/>
<ellipse cx="309.8" cy="397.7" rx="3.4" ry="4.1" fill="#fff" opacity="0.42"/>
<ellipse cx="329.9" cy="398.4" rx="4.4" ry="3.9" fill="#fff" opacity="0.26"/>
<ellipse cx="351.7" cy="398.4" rx="4.0" ry="3.4" fill="#fff" opacity="0.33"/>
<ellipse cx="377.6" cy="398.7" rx="3.5" ry="4.1" fill="#fff" opacity="0.44"/>
<ellipse cx="397.6" cy="396.8" rx="3.3" ry="3.9" fill="#fff" opacity="0.17"/>
<ellipse cx="422.0" cy="396.4" rx="3.5" ry="3.7" fill="#fff" opacity="0.16"/>
<ellipse cx="443.6" cy="396.5" rx="3.6" ry="3.4" fill="#fff" opacity="0.38"/>
<ellipse cx="465.7" cy="398.7" rx="3.2" ry="4.0" fill="#fff" opacity="0.17"/>
<ellipse cx="487.7" cy="397.6" rx="3.5" ry="3.1" fill="#fff" opacity="0.49"/>
<ellipse cx="509.9" cy="398.6" rx="4.4" ry="3.9" fill="#fff" opacity="0.70"/>
<ellipse cx="530.8" cy="399.0" rx="3.9" ry="3.3" fill="#fff" opacity="0.27"/>
<ellipse cx="552.1" cy="399.3" rx="3.2" ry="3.3" fill="#fff" opacity="0.44"/>
<ellipse cx="577.2" cy="398.8" rx="3.7" ry="4.1" fill="#fff" opacity="0.26"/>
<circle cx="275.0" cy="400.2" r="3.9" fill="#222" opacity="0.30"/>
<circle cx="298.9" cy="400.7" r="3.7" fill="#222" opacity="0.46"/>
<circle cx="321.2" cy="399.9" r="3.7" fill="#222" opacity="0.53"/>
<circle cx="342.9" cy="396.6" r="3.3" fill="#222" opacity="0.48"/>
<circle cx="363.1" cy="400.3" r="3.2" fill="#222" opacity="0.43"/>
<circle cx="385.4" cy="400.4" r="3.5" fill="#222" opacity="0.16"/>
<circle cx="407.2" cy="395.0" r="4.0" fill="#222" opacity="0.21"/>
<circle cx="432.1" cy="399.2" r="3.1" fill="#222" opacity="0.44"/>
<circle cx="452.9" cy="399.7" r="4.2" fill="#222" opacity="0.42"/>
<circle cx="473.9" cy="400.0" r="4.4" fill="#222" opacity="0.55"/>
<circle cx="496.2" cy="396.0" r="3.2" fill="#222" opacity="0.57"/>
<circle cx="521.3" cy="399.7" r="4.0" fill="#222" opacity="0.17"/>
<circle cx="542.7" cy="396.5" r="3.1" fill="#222" opacity="0.52"/>
<circle cx="565.3" cy="396.0" r="3.5" fill="#222" opacity="0.19"/>
<circle cx="584.5" cy="396.3" r="3.4" fill="#222" opacity="0.34"/>
<circle cx="275.6" cy="97.4" r="4.0" fill="#fff" opacity="0.30"/>
<circle cx="299.7" cy="98.6" r="3.0" fill="#fff" opacity="0.23"/>
<circle cx="320.2" cy="99.2" r="3.3" fill="#fff" opacity="0.19"/>
<circle cx="342.7" cy="97.0" r="3.9" fill="#fff" opacity="0.30"/>
<circle cx="366.0" cy="96.8" r="3.0" fill="#fff" opacity="0.08"/>
<circle cx="388.0" cy="100.0" r="3.0" fill="#fff" opacity="0.12"/>
<circle cx="409.1" cy="99.3" r="3.2" fill="#fff" opacity="0.22"/>
<circle cx="430.7" cy="99.4" r="3.3" fill="#fff" opacity="0.22"/>
<circle cx="452.6" cy="97.0" r="3.7" fill="#fff" opacity="0.38"/>
<circle cx="474.1" cy="98.6" r="3.1" fill="#fff" opacity="0.22"/>
<circle cx="498.6" cy="99.2" r="3.6" fill="#fff" opacity="0.33"/>
<circle cx="519.6" cy="97.7" r="3.9" fill="#fff" opacity="0.17"/>
<circle cx="543.7" cy="96.2" r="3.2" fill="#fff" opacity="0.08"/>
<circle cx="565.9" cy="98.1" r="3.4" fill="#fff" opacity="0.14"/>
<circle cx="585.4" cy="97.9" r="3.5" fill="#fff" opacity="0.36"/>
<circle cx="277.1" cy="130.2" r="3.3" fill="#fff" opacity="0.31"/>
<circle cx="296.9" cy="131.0" r="3.7" fill="#fff" opacity="0.16"/>
<circle cx="319.1" cy="129.4" r="3.8" fill="#fff" opacity="0.31"/>
<circle cx="341.1" cy="129.5" r="3.9" fill="#fff" opacity="0.25"/>
<circle cx="363.5" cy="128.9" r="3.7" fill="#fff" opacity="0.13"/>
<circle cx="385.6" cy="128.3" r="3.2" fill="#fff" opacity="0.35"/>
<circle cx="409.2" cy="128.3" r="3.3" fill="#fff" opacity="0.16"/>
<circle cx="433.2" cy="130.6" r="3.1" fill="#fff" opacity="0.12"/>
<circle cx="451.9" cy="129.2" r="4.0" fill="#fff" opacity="0.39"/>
<circle cx="476.5" cy="129.4" r="3.2" fill="#fff" opacity="0.33"/>
<circle cx="496.2" cy="128.5" r="3.4" fill="#fff" opacity="0.27"/>
<circle cx="519.6" cy="130.8" r="3.7" fill="#fff" opacity="0.06"/>
<circle cx="542.7" cy="129.5" r="3.1" fill="#fff" opacity="0.23"/>
<circle cx="563.9" cy="130.6" r="3.9" fill="#fff" opacity="0.26"/>
<circle cx="586.8" cy="130.6" r="3.4" fill="#fff" opacity="0.20"/>
<circle cx="277.0" cy="162.7" r="3.8" fill="#fff" opacity="0.13"/>
<circle cx="299.7" cy="161.9" r="3.6" fill="#fff" opacity="0.30"/>
<circle cx="319.7" cy="161.7" r="3.1" fill="#fff" opacity="0.21"/>
<circle cx="343.7" cy="162.1" r="3.6" fill="#fff" opacity="0.20"/>
<circle cx="364.5" cy="161.0" r="3.6" fill="#fff" opacity="0.14"/>
<circle cx="387.6" cy="162.9" r="3.2" fill="#fff" opacity="0.19"/>
<circle cx="410.2" cy="160.8" r="3.5" fill="#fff" opacity="0.28"/>
<circle cx="429.4" cy="161.4" r="3.2" fill="#fff" opacity="0.39"/>
<circle cx="455.2" cy="161.3" r="3.1" fill="#fff" opacity="0.32"/>
<circle cx="475.8" cy="162.1" r="3.5" fill="#fff" opacity="0.25"/>
<circle cx="499.1" cy="161.3" r="3.4" fill="#fff" opacity="0.27"/>
<circle cx="518.8" cy="161.9" r="3.4" fill="#fff" opacity="0.38"/>
<circle cx="540.6" cy="163.1" r="3.4" fill="#fff" opacity="0.32"/>
<circle cx="563.4" cy="160.8" r="3.0" fill="#fff" opacity="0.07"/>
<circle cx="586.1" cy="162.0" r="3.4" fill="#fff" opacity="0.20"/>
<circle cx="275.0" cy="193.7" r="3.9" fill="#fff" opacity="0.14"/>
<circle cx="297.1" cy="194.0" r="3.4" fill="#fff" opacity="0.23"/>
<circle cx="318.9" cy="193.9" r="3.8" fill="#fff" opacity="0.12"/>
<circle cx="342.5" cy="193.0" r="3.2" fill="#fff" opacity="0.27"/>
<circle cx="364.2" cy="193.3" r="3.8" fill="#fff" opacity="0.39"/>
<circle cx="386.8" cy="191.9" r="3.5" fill="#fff" opacity="0.34"/>
<circle cx="410.4" cy="192.2" r="3.9" fill="#fff" opacity="0.09"/>
<circle cx="430.8" cy="191.8" r="3.4" fill="#fff" opacity="0.14"/>
<circle cx="451.5" cy="193.6" r="3.3" fill="#fff" opacity="0.12"/>
<circle cx="474.8" cy="192.7" r="3.4" fill="#fff" opacity="0.14"/>
<circle cx="498.4" cy="192.2" r="3.9" fill="#fff" opacity="0.27"/>
<circle cx="518.2" cy="194.1" r="3.9" fill="#fff" opacity="0.35"/>
<circle cx="540.7" cy="194.1" r="3.6" fill="#fff" opacity="0.32"/>
<circle cx="562.3" cy="194.6" r="3.7" fill="#fff" opacity="0.06"/>
<circle cx="584.9" cy="191.3" r="3.2" fill="#fff" opacity="0.14"/>
<circle cx="275.5" cy="222.9" r="3.9" fill="#fff" opacity="0.32"/>
<circle cx="296.9" cy="225.9" r="3.6" fill="#fff" opacity="0.33"/>
<circle cx="321.1" cy="225.9" r="3.8" fill="#fff" opacity="0.32"/>
<circle cx="341.4" cy="225.1" r="3.5" fill="#fff" opacity="0.34"/>
<circle cx="364.5" cy="225.8" r="3.6" fill="#fff" opacity="0.31"/>
<circle cx="385.9" cy="222.9" r="3.5" fill="#fff" opacity="0.14"/>
<circle cx="409.0" cy="222.9" r="3.5" fill="#fff" opacity="0.07"/>
<circle cx="431.4" cy="225.8" r="3.0" fill="#fff" opacity="0.22"/>
<circle cx="453.3" cy="224.6" r="3.7" fill="#fff" opacity="0.34"/>
<circle cx="475.1" cy="224.0" r="4.0" fill="#fff" opacity="0.34"/>
<circle cx="498.3" cy="224.8" r="3.0" fill="#fff" opacity="0.08"/>
<circle cx="520.7" cy="226.0" r="3.3" fill="#fff" opacity="0.26"/>
<circle cx="542.2" cy="224.2" r="3.9" fill="#fff" opacity="0.39"/>
<circle cx="565.2" cy="224.8" r="3.3" fill="#fff" opacity="0.06"/>
<circle cx="585.9" cy="224.2" r="3.5" fill="#fff" opacity="0.35"/>
<circle cx="274.9" cy="255.6" r="3.4" fill="#fff" opacity="0.32"/>
<circle cx="299.6" cy="255.0" r="3.8" fill="#fff" opacity="0.24"/>
<circle cx="320.4" cy="254.9" r="3.5" fill="#fff" opacity="0.19"/>
<circle cx="343.2" cy="257.0" r="3.3" fill="#fff" opacity="0.39"/>
<circle cx="364.0" cy="256.2" r="3.6" fill="#fff" opacity="0.16"/>
<circle cx="385.1" cy="256.7" r="3.9" fill="#fff" opacity="0.32"/>
<circle cx="407.3" cy="255.1" r="3.0" fill="#fff" opacity="0.24"/>
<circle cx="433.0" cy="256.3" r="3.7" fill="#fff" opacity="0.12"/>
<circle cx="455.1" cy="256.3" r="3.6" fill="#fff" opacity="0.33"/>
<circle cx="476.4" cy="256.2" r="3.7" fill="#fff" opacity="0.27"/>
<circle cx="498.5" cy="255.7" r="3.8" fill="#fff" opacity="0.12"/>
<circle cx="518.7" cy="254.0" r="3.8" fill="#fff" opacity="0.09"/>
<circle cx="542.7" cy="255.3" r="3.8" fill="#fff" opacity="0.37"/>
<circle cx="564.5" cy="254.9" r="3.3" fill="#fff" opacity="0.33"/>
<circle cx="585.7" cy="255.6" r="3.6" fill="#fff" opacity="0.20"/>
<circle cx="274.3" cy="287.7" r="3.0" fill="#fff" opacity="0.38"/>
<circle cx="299.5" cy="287.7" r="3.9" fill="#fff" opacity="0.09"/>
<circle cx="318.5" cy="286.9" r="3.6" fill="#fff" opacity="0.21"/>
<circle cx="344.5" cy="287.3" r="3.4" fill="#fff" opacity="0.38"/>
<circle cx="365.3" cy="286.2" r="3.2" fill="#fff" opacity="0.09"/>
<circle cx="385.0" cy="288.1" r="3.1" fill="#fff" opacity="0.06"/>
<circle cx="407.5" cy="288.9" r="3.1" fill="#fff" opacity="0.39"/>
<circle cx="432.2" cy="286.4" r="3.7" fill="#fff" opacity="0.06"/>
<circle cx="451.6" cy="288.5" r="3.7" fill="#fff" opacity="0.12"/>
<circle cx="476.5" cy="285.7" r="3.6" fill="#fff" opacity="0.35"/>
<circle cx="497.6" cy="289.1" r="3.3" fill="#fff" opacity="0.30"/>
<circle cx="520.8" cy="285.4" r="3.0" fill="#fff" opacity="0.39"/>
<circle cx="543.4" cy="285.7" r="3.3" fill="#fff" opacity="0.28"/>
<circle cx="563.0" cy="288.8" r="3.5" fill="#fff" opacity="0.31"/>
<circle cx="585.9" cy="287.7" r="3.4" fill="#fff" opacity="0.07"/>
<circle cx="274.7" cy="320.1" r="3.4" fill="#fff" opacity="0.29"/>
<circle cx="298.8" cy="318.6" r="3.4" fill="#fff" opacity="0.28"/>
<circle cx="322.2" cy="320.1" r="3.6" fill="#fff" opacity="0.33"/>
<circle cx="340.8" cy="320.8" r="3.7" fill="#fff" opacity="0.15"/>
<circle cx="364.1" cy="319.4" r="4.0" fill="#fff" opacity="0.34"/>
<circle cx="387.3" cy="318.2" r="3.4" fill="#fff" opacity="0.34"/>
<circle cx="408.6" cy="319.7" r="3.6" fill="#fff" opacity="0.36"/>
<circle cx="432.5" cy="318.1" r="3.0" fill="#fff" opacity="0.36"/>
<circle cx="453.1" cy="319.3" r="3.8" fill="#fff" opacity="0.14"/>
<circle cx="473.8" cy="320.3" r="3.8" fill="#fff" opacity="0.36"/>
<circle cx="498.1" cy="318.0" r="3.9" fill="#fff" opacity="0.35"/>
<circle cx="520.7" cy="320.6" r="3.3" fill="#fff" opacity="0.33"/>
<circle cx="542.3" cy="320.1" r="3.2" fill="#fff" opacity="0.08"/>
<circle cx="566.0" cy="317.9" r="3.6" fill="#fff" opacity="0.31"/>
<circle cx="586.3" cy="317.8" r="3.3" fill="#fff" opacity="0.29"/>
<circle cx="277.3" cy="350.3" r="3.1" fill="#fff" opacity="0.31"/>
<circle cx="299.3" cy="349.4" r="3.6" fill="#fff" opacity="0.33"/>
<circle cx="322.0" cy="350.6" r="3.5" fill="#fff" opacity="0.36"/>
<circle cx="341.4" cy="349.3" r="3.2" fill="#fff" opacity="0.26"/>
<circle cx="364.2" cy="350.8" r="3.4" fill="#fff" opacity="0.30"/>
<circle cx="385.5" cy="348.7" r="4.0" fill="#fff" opacity="0.23"/>
<circle cx="407.5" cy="351.0" r="3.8" fill="#fff" opacity="0.18"/>
<circle cx="431.7" cy="349.9" r="3.5" fill="#fff" opacity="0.10"/>
<circle cx="451.6" cy="352.5" r="3.9" fill="#fff" opacity="0.06"/>
<circle cx="475.9" cy="349.5" r="3.8" fill="#fff" opacity="0.22"/>
<circle cx="499.6" cy="351.6" r="3.8" fill="#fff" opacity="0.20"/>
<circle cx="519.0" cy="348.7" r="3.2" fill="#fff" opacity="0.39"/>
<circle cx="540.5" cy="348.7" r="3.6" fill="#fff" opacity="0.11"/>
<circle cx="564.1" cy="352.3" r="3.9" fill="#fff" opacity="0.35"/>
<circle cx="586.9" cy="350.1" r="3.1" fill="#fff" opacity="0.07"/>
<circle cx="275.1" cy="382.3" r="3.6" fill="#fff" opacity="0.39"/>
<circle cx="298.9" cy="381.6" r="3.4" fill="#fff" opacity="0.38"/>
<circle cx="322.3" cy="384.0" r="3.2" fill="#fff" opacity="0.11"/>
<circle cx="341.6" cy="381.5" r="3.9" fill="#fff" opacity="0.06"/>
<circle cx="366.1" cy="380.2" r="3.8" fill="#fff" opacity="0.37"/>
<circle cx="387.5" cy="384.0" r="3.1" fill="#fff" opacity="0.30"/>
<circle cx="410.1" cy="383.8" r="3.7" fill="#fff" opacity="0.10"/>
<circle cx="431.6" cy="383.1" r="3.1" fill="#fff" opacity="0.15"/>
<circle cx="452.5" cy="380.5" r="3.5" fill="#fff" opacity="0.16"/>
<circle cx="474.6" cy="380.6" r="3.7" fill="#fff" opacity="0.11"/>
<circle cx="498.7" cy="380.8" r="3.0" fill="#fff" opacity="0.05"/>
<circle cx="518.8" cy="383.8" r="3.9" fill="#fff" opacity="0.37"/>
<circle cx="540.7" cy="381.8" r="3.1" fill="#fff" opacity="0.36"/>
<circle cx="565.7" cy="382.6" r="3.5" fill="#fff" opacity="0.38"/>
<circle cx="587.8" cy="382.0" r="3.6" fill="#fff" opacity="0.17"/>
<ellipse cx="263.9" cy="113.5" rx="5.4" ry="4.8" fill="#fff" opacity="0.66"/>
<circle cx="276.3" cy="124.1" r="4.8" fill="#1a1a1a" opacity="0.41"/>
<circle cx="275.7" cy="100.6" r="3.8" fill="#1a1a1a" opacity="0.40"/>
<ellipse cx="287.1" cy="112.6" rx="5.4" ry="4.8" fill="#fff" opacity="0.71"/>
<circle cx="299.9" cy="124.0" r="5.0" fill="#1a1a1a" opacity="0.32"/>
<circle cx="299.8" cy="102.7" r="3.7" fill="#1a1a1a" opacity="0.29"/>
<ellipse cx="308.6" cy="112.7" rx="5.5" ry="4.9" fill="#fff" opacity="0.70"/>
<circle cx="322.4" cy="127.5" r="4.9" fill="#1a1a1a" opacity="0.34"/>
<circle cx="319.6" cy="103.6" r="3.6" fill="#1a1a1a" opacity="0.37"/>
<ellipse cx="330.3" cy="113.7" rx="6.2" ry="5.6" fill="#fff" opacity="0.70"/>
<circle cx="342.0" cy="124.1" r="3.5" fill="#1a1a1a" opacity="0.63"/>
<circle cx="342.7" cy="100.7" r="3.9" fill="#1a1a1a" opacity="0.42"/>
<ellipse cx="352.8" cy="112.2" rx="6.6" ry="6.0" fill="#fff" opacity="0.92"/>
<circle cx="365.8" cy="126.3" r="3.8" fill="#1a1a1a" opacity="0.33"/>
<circle cx="363.1" cy="102.4" r="4.0" fill="#1a1a1a" opacity="0.23"/>
<ellipse cx="376.3" cy="113.7" rx="5.8" ry="5.2" fill="#fff" opacity="0.68"/>
<circle cx="387.3" cy="124.3" r="3.6" fill="#1a1a1a" opacity="0.59"/>
<circle cx="386.6" cy="102.9" r="3.6" fill="#1a1a1a" opacity="0.39"/>
<ellipse cx="398.9" cy="113.0" rx="6.0" ry="5.4" fill="#fff" opacity="0.71"/>
<circle cx="407.2" cy="127.1" r="4.2" fill="#1a1a1a" opacity="0.65"/>
<circle cx="408.2" cy="100.7" r="4.3" fill="#1a1a1a" opacity="0.26"/>
<ellipse cx="420.4" cy="111.8" rx="6.4" ry="5.8" fill="#fff" opacity="0.92"/>
<circle cx="431.4" cy="125.3" r="4.3" fill="#1a1a1a" opacity="0.35"/>
<circle cx="432.1" cy="103.3" r="4.4" fill="#1a1a1a" opacity="0.25"/>
<ellipse cx="443.0" cy="111.9" rx="6.4" ry="5.8" fill="#fff" opacity="0.97"/>
<circle cx="454.9" cy="127.3" r="4.2" fill="#1a1a1a" opacity="0.51"/>
<circle cx="453.6" cy="102.1" r="3.5" fill="#1a1a1a" opacity="0.44"/>
<ellipse cx="463.6" cy="112.4" rx="6.2" ry="5.6" fill="#fff" opacity="0.92"/>
<circle cx="476.9" cy="123.6" r="3.6" fill="#1a1a1a" opacity="0.58"/>
<circle cx="474.4" cy="100.1" r="4.1" fill="#1a1a1a" opacity="0.32"/>
<ellipse cx="485.7" cy="113.9" rx="6.7" ry="6.1" fill="#fff" opacity="0.95"/>
<circle cx="498.7" cy="123.7" r="3.7" fill="#1a1a1a" opacity="0.50"/>
<circle cx="497.8" cy="101.1" r="3.6" fill="#1a1a1a" opacity="0.27"/>
<ellipse cx="509.7" cy="112.2" rx="6.6" ry="6.0" fill="#fff" opacity="0.91"/>
<circle cx="520.2" cy="126.5" r="3.7" fill="#1a1a1a" opacity="0.63"/>
<circle cx="521.7" cy="101.6" r="3.9" fill="#1a1a1a" opacity="0.40"/>
<ellipse cx="532.1" cy="113.7" rx="6.4" ry="5.8" fill="#fff" opacity="0.95"/>
<circle cx="541.5" cy="124.5" r="4.0" fill="#1a1a1a" opacity="0.47"/>
<circle cx="544.0" cy="103.2" r="4.4" fill="#1a1a1a" opacity="0.39"/>
<ellipse cx="553.3" cy="114.1" rx="6.1" ry="5.5" fill="#fff" opacity="0.98"/>
<circle cx="566.0" cy="124.5" r="4.1" fill="#1a1a1a" opacity="0.55"/>
<circle cx="563.8" cy="102.1" r="3.6" fill="#1a1a1a" opacity="0.28"/>
<ellipse cx="574.5" cy="114.1" rx="6.0" ry="5.4" fill="#fff" opacity="0.95"/>
<circle cx="587.6" cy="127.2" r="4.4" fill="#1a1a1a" opacity="0.62"/>
<circle cx="588.0" cy="103.5" r="3.5" fill="#1a1a1a" opacity="0.34"/>
<ellipse cx="264.5" cy="238.7" rx="6.7" ry="6.1" fill="#fff" opacity="0.93"/>
<circle cx="277.8" cy="251.6" r="3.9" fill="#1a1a1a" opacity="0.51"/>
<circle cx="275.8" cy="229.4" r="3.8" fill="#1a1a1a" opacity="0.24"/>
<ellipse cx="287.4" cy="239.7" rx="6.1" ry="5.5" fill="#fff" opacity="0.96"/>
<circle cx="298.3" cy="250.2" r="4.2" fill="#1a1a1a" opacity="0.51"/>
<circle cx="296.8" cy="226.1" r="3.6" fill="#1a1a1a" opacity="0.24"/>
<ellipse cx="308.7" cy="237.6" rx="6.3" ry="5.7" fill="#fff" opacity="0.94"/>
<circle cx="320.6" cy="252.5" r="4.4" fill="#1a1a1a" opacity="0.53"/>
<circle cx="321.0" cy="226.4" r="4.2" fill="#1a1a1a" opacity="0.29"/>
<ellipse cx="331.4" cy="238.1" rx="6.6" ry="6.0" fill="#fff" opacity="0.95"/>
<circle cx="341.6" cy="250.0" r="4.3" fill="#1a1a1a" opacity="0.45"/>
<circle cx="342.9" cy="225.6" r="3.9" fill="#1a1a1a" opacity="0.41"/>
<ellipse cx="353.7" cy="238.1" rx="5.8" ry="5.2" fill="#fff" opacity="0.69"/>
<circle cx="366.7" cy="250.3" r="4.7" fill="#1a1a1a" opacity="0.36"/>
<circle cx="363.0" cy="229.1" r="3.9" fill="#1a1a1a" opacity="0.17"/>
<ellipse cx="376.4" cy="237.7" rx="6.4" ry="5.8" fill="#fff" opacity="0.94"/>
<circle cx="385.8" cy="252.9" r="4.6" fill="#1a1a1a" opacity="0.36"/>
<circle cx="386.3" cy="227.0" r="4.2" fill="#1a1a1a" opacity="0.33"/>
<ellipse cx="398.1" cy="239.2" rx="6.0" ry="5.4" fill="#fff" opacity="0.86"/>
<circle cx="410.1" cy="252.1" r="4.2" fill="#1a1a1a" opacity="0.61"/>
<circle cx="409.9" cy="229.3" r="3.6" fill="#1a1a1a" opacity="0.41"/>
<ellipse cx="420.4" cy="238.6" rx="6.8" ry="6.2" fill="#fff" opacity="0.90"/>
<circle cx="433.1" cy="251.4" r="4.1" fill="#1a1a1a" opacity="0.61"/>
<circle cx="432.8" cy="228.0" r="3.9" fill="#1a1a1a" opacity="0.29"/>
<ellipse cx="441.9" cy="238.3" rx="5.9" ry="5.3" fill="#fff" opacity="0.75"/>
<circle cx="453.7" cy="250.6" r="4.0" fill="#1a1a1a" opacity="0.61"/>
<circle cx="454.8" cy="227.6" r="3.9" fill="#1a1a1a" opacity="0.21"/>
<ellipse cx="464.7" cy="238.8" rx="6.1" ry="5.5" fill="#fff" opacity="0.93"/>
<circle cx="474.0" cy="252.8" r="4.0" fill="#1a1a1a" opacity="0.64"/>
<circle cx="477.0" cy="229.4" r="3.7" fill="#1a1a1a" opacity="0.28"/>
<ellipse cx="485.6" cy="238.8" rx="6.0" ry="5.4" fill="#fff" opacity="0.99"/>
<circle cx="497.8" cy="252.8" r="4.7" fill="#1a1a1a" opacity="0.52"/>
<circle cx="499.8" cy="227.7" r="4.0" fill="#1a1a1a" opacity="0.36"/>
<ellipse cx="509.1" cy="238.2" rx="6.4" ry="5.8" fill="#fff" opacity="0.94"/>
<circle cx="521.7" cy="251.8" r="4.3" fill="#1a1a1a" opacity="0.34"/>
<circle cx="519.5" cy="227.2" r="4.1" fill="#1a1a1a" opacity="0.32"/>
<ellipse cx="531.0" cy="238.5" rx="7.0" ry="6.4" fill="#fff" opacity="0.99"/>
<circle cx="542.6" cy="253.1" r="4.0" fill="#1a1a1a" opacity="0.51"/>
<circle cx="543.4" cy="226.3" r="3.8" fill="#1a1a1a" opacity="0.44"/>
<ellipse cx="552.3" cy="239.5" rx="6.5" ry="5.9" fill="#fff" opacity="0.98"/>
<circle cx="565.1" cy="252.4" r="5.0" fill="#1a1a1a" opacity="0.66"/>
<circle cx="564.0" cy="226.2" r="3.8" fill="#1a1a1a" opacity="0.30"/>
<ellipse cx="574.6" cy="238.9" rx="5.4" ry="4.8" fill="#fff" opacity="0.76"/>
<circle cx="586.9" cy="250.5" r="5.0" fill="#1a1a1a" opacity="0.55"/>
<circle cx="584.6" cy="227.2" r="4.3" fill="#1a1a1a" opacity="0.24"/>
<ellipse cx="264.5" cy="366.0" rx="6.0" ry="5.4" fill="#fff" opacity="0.97"/>
<circle cx="276.4" cy="378.4" r="3.8" fill="#1a1a1a" opacity="0.50"/>
<circle cx="276.3" cy="353.3" r="4.1" fill="#1a1a1a" opacity="0.31"/>
<ellipse cx="287.0" cy="364.3" rx="6.6" ry="6.0" fill="#fff" opacity="1.00"/>
<circle cx="296.9" cy="378.7" r="3.7" fill="#1a1a1a" opacity="0.34"/>
<circle cx="296.9" cy="354.3" r="4.3" fill="#1a1a1a" opacity="0.33"/>
<ellipse cx="308.2" cy="365.8" rx="6.1" ry="5.5" fill="#fff" opacity="0.98"/>
<circle cx="319.7" cy="378.6" r="4.0" fill="#1a1a1a" opacity="0.37"/>
<circle cx="319.5" cy="352.6" r="4.4" fill="#1a1a1a" opacity="0.32"/>
<ellipse cx="331.2" cy="364.1" rx="6.4" ry="5.8" fill="#fff" opacity="0.93"/>
<circle cx="344.2" cy="378.0" r="4.9" fill="#1a1a1a" opacity="0.48"/>
<circle cx="343.1" cy="353.2" r="3.5" fill="#1a1a1a" opacity="0.43"/>
<ellipse cx="354.6" cy="366.0" rx="5.5" ry="4.9" fill="#fff" opacity="0.86"/>
<circle cx="364.0" cy="378.1" r="4.9" fill="#1a1a1a" opacity="0.50"/>
<circle cx="366.6" cy="353.2" r="3.9" fill="#1a1a1a" opacity="0.37"/>
<ellipse cx="376.8" cy="365.2" rx="6.3" ry="5.7" fill="#fff" opacity="0.92"/>
<circle cx="388.1" cy="376.7" r="3.8" fill="#1a1a1a" opacity="0.44"/>
<circle cx="385.7" cy="356.1" r="3.8" fill="#1a1a1a" opacity="0.32"/>
<ellipse cx="397.7" cy="365.0" rx="6.5" ry="5.9" fill="#fff" opacity="0.91"/>
<circle cx="407.4" cy="376.2" r="4.7" fill="#1a1a1a" opacity="0.44"/>
<circle cx="408.1" cy="353.0" r="3.8" fill="#1a1a1a" opacity="0.22"/>
<ellipse cx="419.8" cy="364.4" rx="5.9" ry="5.3" fill="#fff" opacity="0.63"/>
<circle cx="432.1" cy="376.1" r="3.9" fill="#1a1a1a" opacity="0.63"/>
<circle cx="429.8" cy="354.0" r="4.3" fill="#1a1a1a" opacity="0.39"/>
<ellipse cx="442.9" cy="364.9" rx="6.4" ry="5.8" fill="#fff" opacity="0.92"/>
<circle cx="455.3" cy="376.5" r="4.9" fill="#1a1a1a" opacity="0.50"/>
<circle cx="452.4" cy="354.0" r="3.6" fill="#1a1a1a" opacity="0.36"/>
<ellipse cx="464.7" cy="364.9" rx="6.9" ry="6.3" fill="#fff" opacity="0.93"/>
<circle cx="474.6" cy="378.1" r="3.8" fill="#1a1a1a" opacity="0.65"/>
<circle cx="474.1" cy="354.3" r="4.0" fill="#1a1a1a" opacity="0.23"/>
<ellipse cx="487.1" cy="365.4" rx="6.4" ry="5.8" fill="#fff" opacity="0.98"/>
<circle cx="497.0" cy="377.3" r="3.6" fill="#1a1a1a" opacity="0.37"/>
<circle cx="499.2" cy="353.5" r="4.2" fill="#1a1a1a" opacity="0.18"/>
<ellipse cx="508.9" cy="364.7" rx="6.4" ry="5.8" fill="#fff" opacity="0.96"/>
<circle cx="518.2" cy="376.9" r="3.8" fill="#1a1a1a" opacity="0.35"/>
<circle cx="520.8" cy="353.3" r="3.9" fill="#1a1a1a" opacity="0.42"/>
<ellipse cx="531.9" cy="364.3" rx="6.9" ry="6.3" fill="#fff" opacity="0.98"/>
<circle cx="541.2" cy="375.8" r="4.5" fill="#1a1a1a" opacity="0.57"/>
<circle cx="541.5" cy="353.9" r="4.2" fill="#1a1a1a" opacity="0.36"/>
<ellipse cx="552.9" cy="365.5" rx="6.0" ry="5.4" fill="#fff" opacity="0.69"/>
<circle cx="563.0" cy="376.2" r="4.9" fill="#1a1a1a" opacity="0.59"/>
<circle cx="565.1" cy="352.4" r="3.5" fill="#1a1a1a" opacity="0.20"/>
<ellipse cx="575.1" cy="364.1" rx="5.5" ry="4.9" fill="#fff" opacity="0.68"/>
<circle cx="585.7" cy="378.3" r="3.8" fill="#1a1a1a" opacity="0.64"/>
<circle cx="586.7" cy="355.1" r="3.8" fill="#1a1a1a" opacity="0.28"/>
</g>
</g>
<clipPath id="cDif"><rect x="663.3" y="65.6" width="316.5" height="345.6"/></clipPath>
<g clip-path="url(#cDif)">
<rect x="663.3" y="65.6" width="316.5" height="345.6" fill="#3b3938"/>
<rect x="663.3" y="65.6" width="316.5" height="345.6" filter="url(#fDif)" opacity="0.32"/>
<circle cx="816.3" cy="244" r="75" fill="url(#gGlow)"/>
<g filter="url(#fBlur2)" fill="#fff">
<rect x="713.9" y="65.6" width="4.4" height="345.6" opacity="0.05"/>
<rect x="710.1" y="65.6" width="12" height="345.6" opacity="0.017"/>
<rect x="814.1" y="65.6" width="4.4" height="345.6" opacity="0.07"/>
<rect x="810.3" y="65.6" width="12" height="345.6" opacity="0.025"/>
<rect x="914.8" y="65.6" width="4.4" height="345.6" opacity="0.05"/>
<rect x="911.0" y="65.6" width="12" height="345.6" opacity="0.017"/>
</g>
<circle cx="715.8" cy="81.0" r="6.5" fill="url(#gSpot)"/>
<circle cx="715.8" cy="97.2" r="4.1" fill="url(#gSpot)"/>
<circle cx="715.8" cy="114.6" r="10.9" fill="url(#gSpot)"/>
<circle cx="716.8" cy="150.6" r="4.1" fill="url(#gSpot)"/>
<circle cx="716.3" cy="167.2" r="7.5" fill="url(#gSpot)"/>
<circle cx="715.8" cy="183.6" r="4.1" fill="url(#gSpot)"/>
<circle cx="716.3" cy="221.0" r="3.2" fill="url(#gSpot)" opacity="0.88"/>
<circle cx="715.8" cy="237.8" r="10.2" fill="url(#gSpot)"/>
<circle cx="715.8" cy="254.8" r="4.1" fill="url(#gSpot)"/>
<circle cx="716.3" cy="291.2" r="3.7" fill="url(#gSpot)" opacity="0.97"/>
<circle cx="716.6" cy="307.9" r="6.1" fill="url(#gSpot)"/>
<circle cx="716.6" cy="325.3" r="5.8" fill="url(#gSpot)"/>
<circle cx="716.6" cy="361.4" r="10.2" fill="url(#gSpot)"/>
<circle cx="716.3" cy="377.8" r="4.8" fill="url(#gSpot)"/>
<circle cx="716.3" cy="395.8" r="3.9" fill="url(#gSpot)"/>
<circle cx="816.3" cy="81.0" r="6.1" fill="url(#gSpot)"/>
<circle cx="816.3" cy="115.0" r="10.9" fill="url(#gSpot)"/>
<circle cx="816.3" cy="151.4" r="8.3" fill="url(#gSpot)"/>
<circle cx="816.3" cy="168.4" r="8.3" fill="url(#gSpot)"/>
<circle cx="816.3" cy="184.7" r="3.2" fill="url(#gSpot)" opacity="0.88"/>
<circle cx="816.3" cy="221.0" r="2.9" fill="url(#gSpot)" opacity="0.83"/>
<circle cx="816.3" cy="291.8" r="2.9" fill="url(#gSpot)" opacity="0.83"/>
<circle cx="816.3" cy="308.6" r="6.8" fill="url(#gSpot)"/>
<circle cx="816.3" cy="326.0" r="6.6" fill="url(#gSpot)"/>
<circle cx="816.3" cy="378.8" r="6.0" fill="url(#gSpot)"/>
<circle cx="816.3" cy="396.2" r="4.1" fill="url(#gSpot)"/>
<circle cx="915.8" cy="81.9" r="2.7" fill="url(#gSpot)" opacity="0.80"/>
<circle cx="915.8" cy="98.5" r="3.6" fill="url(#gSpot)" opacity="0.94"/>
<circle cx="915.8" cy="115.6" r="9.9" fill="url(#gSpot)"/>
<circle cx="917.3" cy="151.3" r="5.8" fill="url(#gSpot)"/>
<circle cx="917.3" cy="168.8" r="3.7" fill="url(#gSpot)" opacity="0.97"/>
<circle cx="917.3" cy="185.0" r="5.1" fill="url(#gSpot)"/>
<circle cx="917.3" cy="222.6" r="5.8" fill="url(#gSpot)"/>
<circle cx="916.8" cy="239.6" r="9.9" fill="url(#gSpot)"/>
<circle cx="917.3" cy="255.9" r="7.1" fill="url(#gSpot)"/>
<circle cx="917.3" cy="291.8" r="7.5" fill="url(#gSpot)"/>
<circle cx="917.3" cy="308.6" r="3.6" fill="url(#gSpot)" opacity="0.94"/>
<circle cx="917.3" cy="326.0" r="4.8" fill="url(#gSpot)"/>
<circle cx="917.3" cy="362.0" r="10.2" fill="url(#gSpot)"/>
<circle cx="917.3" cy="379.4" r="2.5" fill="url(#gSpot)" opacity="0.77"/>
<circle cx="917.3" cy="396.2" r="3.7" fill="url(#gSpot)" opacity="0.97"/>
<circle cx="929.0" cy="316.0" r="2.4" fill="url(#gSpot)" opacity="0.74"/>
<ellipse cx="815.8" cy="98.2" rx="6" ry="3.4" fill="url(#gSpot)"/>
<ellipse cx="816.3" cy="361" rx="7.2" ry="10" fill="url(#gSpot)"/>
<ellipse cx="816.3" cy="370" rx="2.6" ry="6" fill="url(#gSpot)"/>
<ellipse cx="816.9" cy="241.2" rx="18.5" ry="22" fill="url(#gSpotC)"/>
<g fill="#fff" font-size="30.5">
<text x="848.1" y="94.9">002</text>
<text x="846.4" y="186.5">001</text>
<text x="844.1" y="252">000</text>
<text y="260.6"><tspan x="740.1">1</tspan><tspan x="752.9">1</tspan><tspan x="768.1">0</tspan></text>
</g>
<g stroke="#fff" stroke-width="1.7" stroke-linecap="round">
<path d="M823.2 98.3L836.6 91.9M828.2 170.2L838.8 176.5M724.3 241.6L738.2 246.6" fill="none"/>
<path d="M743.9 233.8H754.8" stroke-width="2.4" stroke-linecap="butt"/>
</g>
</g>
<clipPath id="cPlot"><rect x="192.3" y="488.3" width="720.4" height="818.6"/></clipPath>
<path d="M192.3 503.2H208.9M912.7 503.2H895.8M192.3 550.5H208.9M912.7 550.5H895.8M192.3 597.7H208.9M912.7 597.7H895.8M192.3 645.0H208.9M912.7 645.0H895.8M192.3 692.3H208.9M912.7 692.3H895.8M192.3 739.5H208.9M912.7 739.5H895.8M192.3 786.8H208.9M912.7 786.8H895.8M192.3 834.1H208.9M912.7 834.1H895.8M192.3 881.4H208.9M912.7 881.4H895.8M192.3 928.6H208.9M912.7 928.6H895.8M192.3 975.9H208.9M912.7 975.9H895.8M192.3 1023.2H208.9M912.7 1023.2H895.8M192.3 1070.4H208.9M912.7 1070.4H895.8M192.3 1117.7H208.9M912.7 1117.7H895.8M192.3 1165.0H208.9M912.7 1165.0H895.8M192.3 1212.2H208.9M912.7 1212.2H895.8M192.3 1259.5H208.9M912.7 1259.5H895.8" stroke="#231815" stroke-width="1.8" fill="none"/>
<path d="M192.3 536.2H200.6M912.7 536.2H904.0M192.3 527.9H200.6M912.7 527.9H904.0M192.3 522.0H200.6M912.7 522.0H904.0M192.3 517.4H200.6M912.7 517.4H904.0M192.3 513.7H200.6M912.7 513.7H904.0M192.3 510.5H200.6M912.7 510.5H904.0M192.3 507.8H200.6M912.7 507.8H904.0M192.3 505.4H200.6M912.7 505.4H904.0M192.3 583.5H200.6M912.7 583.5H904.0M192.3 575.2H200.6M912.7 575.2H904.0M192.3 569.3H200.6M912.7 569.3H904.0M192.3 564.7H200.6M912.7 564.7H904.0M192.3 561.0H200.6M912.7 561.0H904.0M192.3 557.8H200.6M912.7 557.8H904.0M192.3 555.1H200.6M912.7 555.1H904.0M192.3 552.6H200.6M912.7 552.6H904.0M192.3 630.8H200.6M912.7 630.8H904.0M192.3 622.5H200.6M912.7 622.5H904.0M192.3 616.6H200.6M912.7 616.6H904.0M192.3 612.0H200.6M912.7 612.0H904.0M192.3 608.2H200.6M912.7 608.2H904.0M192.3 605.1H200.6M912.7 605.1H904.0M192.3 602.3H200.6M912.7 602.3H904.0M192.3 599.9H200.6M912.7 599.9H904.0M192.3 678.1H200.6M912.7 678.1H904.0M192.3 669.7H200.6M912.7 669.7H904.0M192.3 663.8H200.6M912.7 663.8H904.0M192.3 659.2H200.6M912.7 659.2H904.0M192.3 655.5H200.6M912.7 655.5H904.0M192.3 652.3H200.6M912.7 652.3H904.0M192.3 649.6H200.6M912.7 649.6H904.0M192.3 647.2H200.6M912.7 647.2H904.0M192.3 725.3H200.6M912.7 725.3H904.0M192.3 717.0H200.6M912.7 717.0H904.0M192.3 711.1H200.6M912.7 711.1H904.0M192.3 706.5H200.6M912.7 706.5H904.0M192.3 702.8H200.6M912.7 702.8H904.0M192.3 699.6H200.6M912.7 699.6H904.0M192.3 696.9H200.6M912.7 696.9H904.0M192.3 694.4H200.6M912.7 694.4H904.0M192.3 772.6H200.6M912.7 772.6H904.0M192.3 764.3H200.6M912.7 764.3H904.0M192.3 758.4H200.6M912.7 758.4H904.0M192.3 753.8H200.6M912.7 753.8H904.0M192.3 750.0H200.6M912.7 750.0H904.0M192.3 746.9H200.6M912.7 746.9H904.0M192.3 744.1H200.6M912.7 744.1H904.0M192.3 741.7H200.6M912.7 741.7H904.0M192.3 819.9H200.6M912.7 819.9H904.0M192.3 811.5H200.6M912.7 811.5H904.0M192.3 805.6H200.6M912.7 805.6H904.0M192.3 801.0H200.6M912.7 801.0H904.0M192.3 797.3H200.6M912.7 797.3H904.0M192.3 794.1H200.6M912.7 794.1H904.0M192.3 791.4H200.6M912.7 791.4H904.0M192.3 789.0H200.6M912.7 789.0H904.0M192.3 867.1H200.6M912.7 867.1H904.0M192.3 858.8H200.6M912.7 858.8H904.0M192.3 852.9H200.6M912.7 852.9H904.0M192.3 848.3H200.6M912.7 848.3H904.0M192.3 844.6H200.6M912.7 844.6H904.0M192.3 841.4H200.6M912.7 841.4H904.0M192.3 838.7H200.6M912.7 838.7H904.0M192.3 836.3H200.6M912.7 836.3H904.0M192.3 914.4H200.6M912.7 914.4H904.0M192.3 906.1H200.6M912.7 906.1H904.0M192.3 900.2H200.6M912.7 900.2H904.0M192.3 895.6H200.6M912.7 895.6H904.0M192.3 891.8H200.6M912.7 891.8H904.0M192.3 888.7H200.6M912.7 888.7H904.0M192.3 885.9H200.6M912.7 885.9H904.0M192.3 883.5H200.6M912.7 883.5H904.0M192.3 961.7H200.6M912.7 961.7H904.0M192.3 953.3H200.6M912.7 953.3H904.0M192.3 947.4H200.6M912.7 947.4H904.0M192.3 942.9H200.6M912.7 942.9H904.0M192.3 939.1H200.6M912.7 939.1H904.0M192.3 936.0H200.6M912.7 936.0H904.0M192.3 933.2H200.6M912.7 933.2H904.0M192.3 930.8H200.6M912.7 930.8H904.0M192.3 1008.9H200.6M912.7 1008.9H904.0M192.3 1000.6H200.6M912.7 1000.6H904.0M192.3 994.7H200.6M912.7 994.7H904.0M192.3 990.1H200.6M912.7 990.1H904.0M192.3 986.4H200.6M912.7 986.4H904.0M192.3 983.2H200.6M912.7 983.2H904.0M192.3 980.5H200.6M912.7 980.5H904.0M192.3 978.1H200.6M912.7 978.1H904.0M192.3 1056.2H200.6M912.7 1056.2H904.0M192.3 1047.9H200.6M912.7 1047.9H904.0M192.3 1042.0H200.6M912.7 1042.0H904.0M192.3 1037.4H200.6M912.7 1037.4H904.0M192.3 1033.7H200.6M912.7 1033.7H904.0M192.3 1030.5H200.6M912.7 1030.5H904.0M192.3 1027.8H200.6M912.7 1027.8H904.0M192.3 1025.3H200.6M912.7 1025.3H904.0M192.3 1103.5H200.6M912.7 1103.5H904.0M192.3 1095.2H200.6M912.7 1095.2H904.0M192.3 1089.3H200.6M912.7 1089.3H904.0M192.3 1084.7H200.6M912.7 1084.7H904.0M192.3 1080.9H200.6M912.7 1080.9H904.0M192.3 1077.8H200.6M912.7 1077.8H904.0M192.3 1075.0H200.6M912.7 1075.0H904.0M192.3 1072.6H200.6M912.7 1072.6H904.0M192.3 1150.8H200.6M912.7 1150.8H904.0M192.3 1142.4H200.6M912.7 1142.4H904.0M192.3 1136.5H200.6M912.7 1136.5H904.0M192.3 1131.9H200.6M912.7 1131.9H904.0M192.3 1128.2H200.6M912.7 1128.2H904.0M192.3 1125.0H200.6M912.7 1125.0H904.0M192.3 1122.3H200.6M912.7 1122.3H904.0M192.3 1119.9H200.6M912.7 1119.9H904.0M192.3 1198.0H200.6M912.7 1198.0H904.0M192.3 1189.7H200.6M912.7 1189.7H904.0M192.3 1183.8H200.6M912.7 1183.8H904.0M192.3 1179.2H200.6M912.7 1179.2H904.0M192.3 1175.5H200.6M912.7 1175.5H904.0M192.3 1172.3H200.6M912.7 1172.3H904.0M192.3 1169.6H200.6M912.7 1169.6H904.0M192.3 1167.1H200.6M912.7 1167.1H904.0M192.3 1245.3H200.6M912.7 1245.3H904.0M192.3 1237.0H200.6M912.7 1237.0H904.0M192.3 1231.1H200.6M912.7 1231.1H904.0M192.3 1226.5H200.6M912.7 1226.5H904.0M192.3 1222.7H200.6M912.7 1222.7H904.0M192.3 1219.6H200.6M912.7 1219.6H904.0M192.3 1216.8H200.6M912.7 1216.8H904.0M192.3 1214.4H200.6M912.7 1214.4H904.0M192.3 1292.6H200.6M912.7 1292.6H904.0M192.3 1284.2H200.6M912.7 1284.2H904.0M192.3 1278.3H200.6M912.7 1278.3H904.0M192.3 1273.7H200.6M912.7 1273.7H904.0M192.3 1270.0H200.6M912.7 1270.0H904.0M192.3 1266.8H200.6M912.7 1266.8H904.0M192.3 1264.1H200.6M912.7 1264.1H904.0M192.3 1261.7H200.6M912.7 1261.7H904.0" stroke="#231815" stroke-width="1.6" fill="none"/>
<path d="M192.3 1306.9V1291.1M252.3 1306.9V1298.7M312.3 1306.9V1291.1M372.3 1306.9V1298.7M432.3 1306.9V1291.1M492.3 1306.9V1298.7M552.3 1306.9V1291.1M612.3 1306.9V1298.7M672.3 1306.9V1291.1M732.3 1306.9V1298.7M792.3 1306.9V1291.1M852.3 1306.9V1298.7M912.3 1306.9V1291.1" stroke="#231815" stroke-width="1.8" fill="none"/>
<clipPath id="cIns"><rect x="620.3" y="494.7" width="270.3" height="164.2"/></clipPath>
<g clip-path="url(#cIns)">
<rect x="620.3" y="494.7" width="270.3" height="164.2" fill="url(#gInsBase)"/>
<rect x="620.3" y="494.7" width="270.3" height="164.2" fill="url(#gInsTop)"/>
<ellipse cx="880" cy="500" rx="110" ry="75" fill="url(#gInsDark)"/>
<ellipse cx="717" cy="492" rx="26" ry="30" fill="url(#gInsDark)"/>
<ellipse cx="775" cy="492" rx="26" ry="34" fill="url(#gInsDark)"/>
<ellipse cx="659" cy="490" rx="22" ry="22" fill="url(#gInsDark)"/>
<g filter="url(#fBlurS)">
<rect x="627.2" y="497" width="6" height="27" rx="3" fill="#35d060"/>
<rect x="628" y="520" width="4.5" height="100" fill="url(#gSt1)" opacity="0.35"/>
<rect x="686.3" y="502" width="3.6" height="95" fill="url(#gSt2)"/>
<rect x="744.4" y="495" width="3.8" height="125" fill="url(#gSt3)"/>
<rect x="802.2" y="502" width="3.4" height="85" fill="url(#gSt4)"/>
<rect x="859.5" y="502" width="3.4" height="50" fill="url(#gSt5)"/>
</g>
<g filter="url(#fBlurW)" opacity="0.42">
<rect x="623" y="500" width="14" height="130" fill="url(#gSt1)"/>
<rect x="681" y="510" width="14" height="110" fill="url(#gSt2)"/>
<rect x="739" y="500" width="15" height="150" fill="url(#gSt3)"/>
<rect x="797" y="510" width="14" height="100" fill="url(#gSt4)"/>
</g>
<rect x="620.3" y="494.7" width="270.3" height="164.2" filter="url(#fIns)" opacity="0.28"/>
</g>
<g clip-path="url(#cPlot)" fill="none" stroke-linejoin="miter">
<path d="M192.8 738.8L193.0 746.8L193.2 763.6L193.4 754.1L193.6 747.9L193.8 747.7L194.0 757.5L194.2 740.2L194.4 756.0L194.6 770.6L194.8 736.4L195.0 774.3L195.2 762.7L195.4 731.0L195.6 747.5L195.8 763.8L196.0 757.2L196.2 742.5L196.4 757.5L196.6 738.0L196.8 735.4L197.0 735.9L197.2 746.5L197.4 749.1L197.6 741.6L197.8 760.7L198.0 740.9L198.2 732.1L198.4 732.8L198.6 751.5L198.8 767.5L199.0 752.3L199.2 771.0L199.4 766.3L199.6 767.3L199.8 762.5L200.0 756.0L200.2 770.1L200.4 752.7L200.6 742.8L200.8 752.5L201.0 761.1L201.2 743.8L201.4 764.5L201.6 740.7L201.8 746.7L202.0 735.5L202.2 745.5L202.4 725.0L202.6 759.9L202.8 747.5L203.0 735.6L203.2 754.8L203.4 739.9L203.6 746.9L203.8 753.7L204.0 740.7L204.2 742.5L204.4 747.2L204.6 749.9L204.8 742.3L205.0 742.8L205.2 736.1L205.4 740.6L205.6 748.4L205.8 739.7L206.0 752.0L206.2 736.2L206.4 763.2L206.6 738.2L206.8 763.3L207.0 737.5L207.2 759.2L207.4 753.7L207.6 741.5L207.8 761.7L208.0 738.9L208.2 738.2L208.4 755.2L208.6 808.0L208.8 756.8L209.0 746.4L209.2 742.4L209.4 761.5L209.6 732.4L209.8 769.4L210.0 751.5L210.2 752.7L210.4 744.6L210.6 742.5L210.8 735.9L211.0 739.7L211.2 773.6L211.4 808.0L211.6 751.8L211.8 747.7L212.0 738.6L212.2 773.2L212.4 728.8L212.6 745.4L212.8 737.0L213.0 736.7L213.2 766.5L213.4 737.4L213.6 749.7L213.8 746.4L214.0 751.5L214.2 741.0L214.4 740.4L214.6 744.7L214.8 736.2L215.0 745.8L215.2 770.2L215.4 772.9L215.6 734.7L215.8 767.4L216.0 733.0L216.2 761.4L216.4 766.0L216.6 736.5L216.8 742.4L217.0 745.3L217.2 743.3L217.4 752.0L217.6 731.0L217.8 747.2L218.0 765.5L218.2 738.6L218.4 753.3L218.6 751.9L218.8 760.5L219.0 772.7L219.2 759.5L219.4 743.5L219.6 759.1L219.8 752.3L220.0 762.6L220.2 755.6L220.4 774.1L220.6 770.1L220.8 736.1L221.0 734.7L221.2 763.7L221.4 797.5L221.6 739.8L221.8 732.8L222.0 764.2L222.2 733.4L222.4 736.7L222.6 772.0L222.8 767.4L223.0 767.4L223.2 741.8L223.4 736.2L223.6 750.3L223.8 748.9L224.0 735.6L224.2 736.0L224.4 744.9L224.6 767.4L224.8 767.4L225.0 760.3L225.2 762.3L225.4 760.4L225.6 751.7L225.8 735.6L226.0 762.9L226.2 764.7L226.4 756.6L226.6 772.8L226.8 770.4L227.0 755.3L227.2 761.4L227.4 753.1L227.6 735.3L227.8 808.0L228.0 736.7L228.2 761.2L228.4 729.5L228.6 753.7L228.8 735.1L229.0 736.4L229.2 736.0L229.4 771.0L229.6 754.4L229.8 738.1L230.0 767.4L230.2 750.5L230.4 742.4L230.6 745.0L230.8 757.6L231.0 736.7L231.2 764.4L231.4 767.4L231.6 749.0L231.8 748.4L232.0 733.4L232.2 750.1L232.4 764.6L232.6 744.6L232.8 760.3L233.0 731.6L233.2 741.6L233.4 738.5L233.6 770.7L233.8 733.9L234.0 736.1L234.2 730.5L234.4 753.3L234.6 758.9L234.8 743.8L235.0 730.5L235.2 746.7L235.4 739.0L235.6 748.7L235.8 745.0L236.0 737.8L236.2 770.7L236.4 763.5L236.6 746.4L236.8 750.3L237.0 736.1L237.2 756.2L237.4 752.4L237.6 764.0L237.8 774.3L238.0 770.1L238.2 766.6L238.4 750.8L238.6 746.1L238.8 748.1L239.0 753.9L239.2 764.3L239.4 733.1L239.6 753.7L239.8 766.1L240.0 737.5L240.2 741.0L240.4 767.2L240.6 756.1L240.8 765.7L241.0 761.2L241.2 768.1L241.4 768.9L241.6 759.0L241.8 739.5L242.0 736.3L242.2 766.5L242.4 742.8L242.6 758.6L242.8 749.6L243.0 748.0L243.2 732.8L243.4 760.3L243.6 739.8L243.8 745.3L244.0 734.4L244.2 759.3L244.4 767.4L244.6 752.7L244.8 752.2L245.0 763.1L245.2 734.4L245.4 752.4L245.6 761.8L245.8 743.7L246.0 766.4L246.2 751.5L246.4 736.3L246.6 773.4L246.8 747.7L247.0 760.6L247.2 734.5L247.4 761.5L247.6 733.7L247.8 737.0L248.0 740.6L248.2 750.3L248.4 750.6L248.6 746.6L248.8 728.2L249.0 758.5L249.2 760.9L249.4 768.4L249.6 748.7L249.8 765.4L250.0 768.7L250.2 742.4L250.4 729.9L250.6 737.8L250.8 761.8L251.0 730.9L251.2 730.7L251.4 771.8L251.6 752.4L251.8 773.4L252.0 743.6L252.2 732.8L252.4 740.9L252.6 769.0L252.8 741.2L253.0 764.1L253.2 736.3L253.4 769.3L253.6 737.3L253.8 749.5L254.0 743.1L254.2 772.6L254.4 764.0L254.6 744.1L254.8 751.5L255.0 755.5L255.2 764.0L255.4 762.7L255.6 754.7L255.8 753.6L256.0 766.9L256.2 743.1L256.4 742.3L256.6 746.6L256.8 797.5L257.0 730.8L257.2 746.3L257.4 738.5L257.6 739.8L257.8 733.6L258.0 761.3L258.2 747.7L258.4 773.0L258.6 745.8L258.8 751.3L259.0 744.1L259.2 767.1L259.4 738.8L259.6 745.0L259.8 745.0L260.0 730.1L260.2 760.6L260.4 746.3L260.6 739.6L260.8 755.4L261.0 750.5L261.2 752.6L261.4 762.3L261.6 730.3L261.8 749.8L262.0 731.5L262.2 769.5L262.4 756.5L262.6 737.5L262.8 796.9L263.0 733.6L263.2 746.9L263.4 736.2L263.6 750.8L263.8 755.2L264.0 735.9L264.2 759.8L264.4 746.0L264.6 762.7L264.8 738.1L265.0 769.3L265.2 753.0L265.4 729.8L265.6 753.0L265.8 732.7L266.0 755.2L266.2 742.0L266.4 759.8L266.6 769.8L266.8 742.2L267.0 760.4L267.2 747.3L267.4 744.8L267.6 758.8L267.8 769.9L268.0 755.0L268.2 736.9L268.4 727.6L268.6 738.6L268.8 739.7L269.0 734.1L269.2 729.8L269.4 767.4L269.6 736.6L269.8 741.9L270.0 774.5L270.2 755.9L270.4 755.3L270.6 743.2L270.8 762.1L271.0 732.8L271.2 742.9L271.4 772.1L271.6 757.8L271.8 750.9L272.0 748.6L272.2 761.3L272.4 743.2L272.6 747.5L272.8 752.1L273.0 758.3L273.2 750.8L273.4 755.3L273.6 735.8L273.8 762.7L274.0 731.6L274.2 760.6L274.4 750.9L274.6 766.5L274.8 742.2L275.0 758.8L275.2 731.2L275.4 746.0L275.6 736.0L275.8 756.5L276.0 735.9L276.2 751.8L276.4 739.3L276.6 738.3L276.8 767.5L277.0 738.4L277.2 736.7L277.4 745.4L277.6 740.9L277.8 759.4L278.0 754.4L278.2 770.4L278.4 762.0L278.6 737.6L278.8 765.6L279.0 739.4L279.2 762.1L279.4 741.9L279.6 769.8L279.8 751.1L280.0 750.3L280.2 748.1L280.4 744.2L280.6 735.4L280.8 750.6L281.0 745.2L281.2 772.2L281.4 738.1L281.6 752.3L281.8 752.4L282.0 757.0L282.2 759.7L282.4 748.3L282.6 759.7L282.8 758.5L283.0 748.4L283.2 749.4L283.4 743.0L283.6 761.9L283.8 730.6L284.0 760.3L284.2 756.0L284.4 743.8L284.6 799.6L284.8 770.6L285.0 772.9L285.2 731.3L285.4 749.2L285.6 767.5L285.8 737.1L286.0 745.2L286.2 749.6L286.4 737.0L286.6 755.8L286.8 753.8L287.0 764.5L287.2 737.4L287.4 760.0L287.6 745.4L287.8 769.0L288.0 764.3L288.2 727.7L288.4 745.4L288.6 735.6L288.8 753.4L289.0 771.0L289.2 750.4L289.4 734.7L289.6 762.6L289.8 736.5L290.0 745.1L290.2 756.1L290.4 769.3L290.6 745.7L290.8 760.2L291.0 733.5L291.2 727.7L291.4 747.7L291.6 748.8L291.8 744.3L292.0 761.9L292.2 745.8L292.4 741.0L292.6 758.8L292.8 757.7L293.0 762.4L293.2 734.5L293.4 741.1L293.6 768.3L293.8 740.4L294.0 768.6L294.2 754.9L294.4 753.1L294.6 729.7L294.8 754.3L295.0 764.7L295.2 772.6L295.4 749.2L295.6 739.0L295.8 768.4L296.0 746.5L296.2 750.7L296.4 747.7L296.6 750.7L296.8 735.8L297.0 729.1L297.2 757.8L297.4 758.7L297.6 748.3L297.8 760.4L298.0 759.3L298.2 745.2L298.4 745.7L298.6 737.0L298.8 734.8L299.0 755.2L299.2 757.4L299.4 754.6L299.6 741.1L299.8 755.3L300.0 747.1L300.2 748.3L300.4 727.8L300.6 763.4L300.8 769.0L301.0 736.0L301.2 742.8L301.4 752.6L301.6 747.5L301.8 739.5L302.0 761.4L302.2 760.8L302.4 745.4L302.6 758.1L302.8 757.5L303.0 747.8L303.2 736.8L303.4 765.0L303.6 736.1L303.8 758.7L304.0 759.7L304.2 739.2L304.4 808.0L304.6 774.9L304.8 742.9L305.0 753.0L305.2 744.5L305.4 743.9L305.6 759.1L305.8 750.5L306.0 735.3L306.2 760.6L306.4 749.5L306.6 737.4L306.8 754.1L307.0 759.1L307.2 729.0L307.4 732.6L307.6 744.4L307.8 736.3L308.0 749.9L308.2 733.1L308.4 759.0L308.6 751.2L308.8 740.9L309.0 731.4L309.2 729.6L309.4 756.8L309.6 746.7L309.8 746.3L310.0 738.7L310.2 723.6L310.4 753.6L310.6 735.6L310.8 738.3L311.0 732.3L311.2 745.0L311.4 740.6L311.6 729.1L311.8 751.8L312.0 726.7L312.2 730.2L312.4 748.4L312.6 735.6L312.8 755.2L313.0 748.6L313.2 735.3L313.4 728.2L313.6 730.7L313.8 739.9L314.0 731.8L314.2 733.7L314.4 724.8L314.6 734.0L314.8 747.8L315.0 735.5L315.2 726.2L315.4 722.3L315.6 733.2L315.8 732.5L316.0 736.0L316.2 718.3L316.4 720.7L316.6 730.8L316.8 731.3L317.0 733.8L317.2 735.3L317.4 733.1L317.6 726.8L317.8 738.1L318.0 723.7L318.2 723.7L318.4 720.6L318.6 729.5L318.8 718.5L319.0 723.4L319.2 717.8L319.4 714.8L319.6 731.0L319.8 730.7L320.0 717.8L320.2 712.7L320.4 722.5L320.6 716.7L320.8 725.7L321.0 719.2L321.2 730.4L321.4 717.4L321.6 722.2L321.8 712.6L322.0 720.5L322.2 729.3L322.4 715.2L322.6 729.2L322.8 721.7L323.0 722.5L323.2 732.2L323.4 731.9L323.6 720.5L323.8 734.6L324.0 719.2L324.2 719.5L324.4 727.0L324.6 727.7L324.8 727.3L325.0 718.8L325.2 726.6L325.4 728.1L325.6 714.6L325.8 717.6L326.0 718.8L326.2 735.7L326.4 730.9L326.6 727.0L326.8 734.2L327.0 743.0L327.2 720.3L327.4 721.3L327.6 725.0L327.8 729.9L328.0 726.4L328.2 742.6L328.4 736.5L328.6 719.8L328.8 730.2L329.0 732.9L329.2 740.9L329.4 736.4L329.6 751.9L329.8 731.1L330.0 740.7L330.2 745.4L330.4 735.2L330.6 728.7L330.8 724.6L331.0 740.8L331.2 728.7L331.4 742.2L331.6 755.9L331.8 756.3L332.0 748.2L332.2 763.3L332.4 744.8L332.6 733.6L332.8 746.4L333.0 747.4L333.2 748.4L333.4 735.5L333.6 748.3L333.8 745.5L334.0 759.1L334.2 731.2L334.4 747.1L334.6 758.8L334.8 733.2L335.0 808.0L335.2 763.1L335.4 756.7L335.6 755.6L335.8 735.7L336.0 763.1L336.2 732.8L336.4 741.2L336.6 733.5L336.8 744.3L337.0 755.9L337.2 747.2L337.4 736.5L337.6 752.8L337.8 755.9L338.0 732.0L338.2 744.5L338.4 735.5L338.6 748.5L338.8 728.1L339.0 746.8L339.2 728.6L339.4 743.2L339.6 768.0L339.8 730.5L340.0 732.9L340.2 738.0L340.4 808.0L340.6 731.9L340.8 764.7L341.0 756.8L341.2 768.1L341.4 761.2L341.6 751.9L341.8 729.3L342.0 763.0L342.2 754.1L342.4 735.0L342.6 767.2L342.8 736.9L343.0 737.5L343.2 756.4L343.4 761.7L343.6 731.2L343.8 743.4L344.0 750.6L344.2 747.2L344.4 750.9L344.6 745.5L344.8 723.3L345.0 761.7L345.2 751.2L345.4 757.3L345.6 763.4L345.8 771.0L346.0 754.3L346.2 746.6L346.4 755.9L346.6 737.2L346.8 753.7L347.0 765.5L347.2 751.0L347.4 760.0L347.6 735.7L347.8 762.5L348.0 768.6L348.2 765.2L348.4 745.7L348.6 734.1L348.8 752.8L349.0 746.9L349.2 756.6L349.4 744.0L349.6 756.3L349.8 740.8L350.0 751.7L350.2 767.6L350.4 749.8L350.6 734.9L350.8 769.9L351.0 734.4L351.2 747.2L351.4 761.4L351.6 735.9L351.8 763.0L352.0 752.7L352.2 759.1L352.4 745.0L352.6 741.8L352.8 773.0L353.0 764.1L353.2 751.9L353.4 745.1L353.6 732.3L353.8 735.5L354.0 740.7L354.2 763.4L354.4 740.9L354.6 738.4L354.8 750.7L355.0 763.4L355.2 768.4L355.4 766.9L355.6 752.8L355.8 757.2L356.0 747.1L356.2 737.2L356.4 758.1L356.6 735.7L356.8 771.5L357.0 742.1L357.2 755.3L357.4 732.8L357.6 757.6L357.8 738.9L358.0 755.8L358.2 762.2L358.4 727.3L358.6 742.6L358.8 735.2L359.0 743.7L359.2 745.7L359.4 768.2L359.6 742.8L359.8 753.7L360.0 742.7L360.2 740.1L360.4 747.5L360.6 756.9L360.8 755.3L361.0 745.7L361.2 736.3L361.4 760.8L361.6 750.6L361.8 755.0L362.0 765.6L362.2 737.1L362.4 768.9L362.6 770.7L362.8 762.2L363.0 759.0L363.2 738.0L363.4 755.3L363.6 734.0L363.8 753.3L364.0 760.7L364.2 749.5L364.4 730.9L364.6 760.8L364.8 768.3L365.0 759.7L365.2 753.8L365.4 733.0L365.6 739.9L365.8 729.3L366.0 742.0L366.2 752.5L366.4 762.7L366.6 740.1L366.8 744.5L367.0 737.3L367.2 734.3L367.4 755.0L367.6 743.9L367.8 752.0L368.0 756.2L368.2 737.8L368.4 766.5L368.6 749.0L368.8 751.0L369.0 759.5L369.2 742.0L369.4 757.6L369.6 744.2L369.8 761.4L370.0 757.5L370.2 763.9L370.4 745.5L370.6 756.9L370.8 729.7L371.0 762.0L371.2 751.6L371.4 800.6L371.6 760.3L371.8 741.8L372.0 748.2L372.2 756.4L372.4 727.6L372.6 750.0L372.8 733.0L373.0 764.6L373.2 737.8L373.4 752.7L373.6 769.5L373.8 741.8L374.0 729.4L374.2 746.0L374.4 753.1L374.6 753.5L374.8 766.8L375.0 731.3L375.2 731.0L375.4 746.4L375.6 742.6L375.8 760.1L376.0 735.5L376.2 731.3L376.4 755.8L376.6 743.9L376.8 731.9L377.0 762.5L377.2 728.4L377.4 742.1L377.6 743.4L377.8 766.9L378.0 740.6L378.2 736.3L378.4 764.2L378.6 747.4L378.8 730.3L379.0 733.6L379.2 754.0L379.4 725.8L379.6 744.5L379.8 755.3L380.0 759.3L380.2 751.7L380.4 736.5L380.6 730.0L380.8 756.2L381.0 743.6L381.2 752.9L381.4 733.0L381.6 732.8L381.8 732.1L382.0 752.3L382.2 736.7L382.4 735.8L382.6 760.3L382.8 742.3L383.0 761.2L383.2 748.2L383.4 749.5L383.6 744.5L383.8 752.6L384.0 741.8L384.2 748.6L384.4 764.9L384.6 750.7L384.8 753.9L385.0 751.2L385.2 725.7L385.4 734.8L385.6 747.5L385.8 761.2L386.0 757.8L386.2 758.3L386.4 752.2L386.6 763.5L386.8 748.4L387.0 769.7L387.2 767.1L387.4 757.6L387.6 748.9L387.8 759.1L388.0 763.7L388.2 749.7L388.4 754.7L388.6 734.4L388.8 753.9L389.0 808.0L389.2 760.1L389.4 741.5L389.6 752.7L389.8 755.3L390.0 765.3L390.2 759.0L390.4 728.5L390.6 763.6L390.8 758.4L391.0 734.9L391.2 760.4L391.4 765.1L391.6 740.8L391.8 747.8L392.0 737.3L392.2 746.7L392.4 747.5L392.6 747.4L392.8 734.3L393.0 766.7L393.2 729.7L393.4 737.8L393.6 736.4L393.8 738.4L394.0 733.4L394.2 745.1L394.4 739.7L394.6 734.8L394.8 730.4L395.0 808.0L395.2 756.8L395.4 722.8L395.6 732.5L395.8 754.8L396.0 733.6L396.2 740.8L396.4 747.1L396.6 767.2L396.8 734.7L397.0 739.4L397.2 755.8L397.4 751.4L397.6 744.9L397.8 746.6L398.0 727.9L398.2 743.1L398.4 755.1L398.6 732.4L398.8 748.0L399.0 737.4L399.2 730.1L399.4 736.0L399.6 732.2L399.8 730.5L400.0 739.8L400.2 756.4L400.4 751.5L400.6 755.3L400.8 762.4L401.0 757.4L401.2 731.1L401.4 739.5L401.6 737.5L401.8 758.4L402.0 753.2L402.2 756.4L402.4 756.7L402.6 737.3L402.8 737.9L403.0 751.7L403.2 759.4L403.4 722.6L403.6 762.8L403.8 736.6L404.0 736.5L404.2 755.5L404.4 760.2L404.6 730.6L404.8 743.3L405.0 753.9L405.2 744.9L405.4 750.9L405.6 751.6L405.8 752.3L406.0 732.4L406.2 763.8L406.4 735.8L406.6 741.3L406.8 761.3L407.0 736.8L407.2 741.0L407.4 754.5L407.6 741.4L407.8 739.0L408.0 746.0L408.2 741.5L408.4 750.3L408.6 734.9L408.8 734.2L409.0 762.7L409.2 759.1L409.4 766.4L409.6 746.2L409.8 736.4L410.0 761.7L410.2 744.2L410.4 745.7L410.6 754.0L410.8 736.6L411.0 744.9L411.2 753.5L411.4 746.8L411.6 735.2L411.8 729.7L412.0 741.3L412.2 746.1L412.4 733.0L412.6 742.4L412.8 735.9L413.0 737.8L413.2 758.5L413.4 756.3L413.6 753.5L413.8 735.7L414.0 747.3L414.2 740.5L414.4 736.0L414.6 735.7L414.8 752.1L415.0 740.5L415.2 750.1L415.4 760.7L415.6 753.0L415.8 757.0L416.0 758.0L416.2 754.7L416.4 740.0L416.6 733.5L416.8 729.6L417.0 737.4L417.2 731.5L417.4 727.8L417.6 737.4L417.8 738.2L418.0 761.6L418.2 729.4L418.4 743.2L418.6 720.8L418.8 765.1L419.0 726.3L419.2 737.5L419.4 739.1L419.6 757.1L419.8 744.4L420.0 737.6L420.2 750.8L420.4 735.3L420.6 757.4L420.8 751.2L421.0 726.4L421.2 753.1L421.4 755.1L421.6 730.4L421.8 765.2L422.0 736.7L422.2 758.2L422.4 742.4L422.6 737.2L422.8 736.2L423.0 750.4L423.2 752.2L423.4 751.9L423.6 750.6L423.8 730.1L424.0 724.5L424.2 734.6L424.4 736.2L424.6 740.4L424.8 745.6L425.0 735.2L425.2 759.6L425.4 735.5L425.6 734.6L425.8 737.1L426.0 739.2L426.2 741.8L426.4 732.3L426.6 737.7L426.8 756.8L427.0 727.9L427.2 749.5L427.4 733.2L427.6 733.0L427.8 756.0L428.0 737.6L428.2 753.2L428.4 727.3L428.6 738.5L428.8 728.5L429.0 740.4L429.2 748.5L429.4 728.9L429.6 728.8L429.8 754.4L430.0 749.0L430.2 743.4L430.4 744.2L430.6 732.0L430.8 740.6L431.0 749.8L431.2 734.2L431.4 722.5L431.6 752.0L431.8 750.1L432.0 722.6L432.2 735.5L432.4 729.2L432.6 749.9L432.8 742.8L433.0 749.5L433.2 737.8L433.4 752.3L433.6 723.6L433.8 729.0L434.0 748.4L434.2 742.9L434.4 748.4L434.6 735.1L434.8 720.2L435.0 732.7L435.2 725.2L435.4 727.3L435.6 728.7L435.8 729.2L436.0 730.6L436.2 742.2L436.4 748.8L436.6 724.3L436.8 720.5L437.0 733.3L437.2 733.5L437.4 723.8L437.6 744.8L437.8 726.0L438.0 753.4L438.2 743.2L438.4 725.3L438.6 751.4L438.8 731.4L439.0 744.6L439.2 742.0L439.4 727.3L439.6 737.5L439.8 728.1L440.0 720.3L440.2 732.3L440.4 748.1L440.6 742.9L440.8 743.5L441.0 734.7L441.2 747.4L441.4 736.5L441.6 741.7L441.8 746.6L442.0 727.6L442.2 723.6L442.4 737.4L442.6 737.5L442.8 739.3L443.0 726.6L443.2 724.6L443.4 729.6L443.6 731.0L443.8 734.9L444.0 728.6L444.2 746.8L444.4 731.5L444.6 734.3L444.8 723.6L445.0 729.9L445.2 745.3L445.4 745.1L445.6 719.0L445.8 746.9L446.0 732.1L446.2 742.5L446.4 725.4L446.6 721.8L446.8 746.9L447.0 733.0L447.2 725.4L447.4 727.2L447.6 727.5L447.8 728.3L448.0 725.9L448.2 735.5L448.4 744.9L448.6 734.0L448.8 733.2L449.0 722.7L449.2 722.9L449.4 744.2L449.6 744.9L449.8 741.8L450.0 723.4L450.2 721.1L450.4 729.7L450.6 728.6L450.8 734.6L451.0 737.9L451.2 741.6L451.4 727.8L451.6 737.4L451.8 717.2L452.0 722.1L452.2 724.8L452.4 726.1L452.6 737.7L452.8 725.6L453.0 739.8L453.2 719.7L453.4 725.2L453.6 727.6L453.8 730.0L454.0 734.2L454.2 734.7L454.4 724.7L454.6 723.1L454.8 734.3L455.0 733.9L455.2 731.1L455.4 723.9L455.6 724.4L455.8 723.9L456.0 741.5L456.2 739.4L456.4 720.1L456.6 716.1L456.8 724.3L457.0 717.2L457.2 731.3L457.4 737.5L457.6 730.6L457.8 722.2L458.0 714.5L458.2 731.4L458.4 732.6L458.6 736.1L458.8 737.5L459.0 735.1L459.2 728.0L459.4 721.2L459.6 722.4L459.8 732.5L460.0 728.1L460.2 735.1L460.4 731.6L460.6 716.0L460.8 717.5L461.0 714.8L461.2 716.0L461.4 721.5L461.6 735.3L461.8 717.9L462.0 713.7L462.2 732.5L462.4 722.1L462.6 724.3L462.8 728.0L463.0 714.4L463.2 722.3L463.4 717.8L463.6 717.9L463.8 711.1L464.0 722.2L464.2 712.2L464.4 713.6L464.6 725.1L464.8 725.6L465.0 729.4L465.2 730.5L465.4 722.5L465.6 726.9L465.8 714.9L466.0 720.3L466.2 731.4L466.4 712.2L466.6 724.8L466.8 713.1L467.0 712.4L467.2 721.5L467.4 725.4L467.6 719.2L467.8 715.0L468.0 716.7L468.2 714.0L468.4 719.0L468.6 709.9L468.8 713.4L469.0 724.8L469.2 713.5L469.4 723.6L469.6 718.5L469.8 710.1L470.0 715.7L470.2 714.9L470.4 722.1L470.6 729.0L470.8 721.4L471.0 721.7L471.2 727.9L471.4 710.3L471.6 710.8L471.8 712.8L472.0 717.2L472.2 722.5L472.4 710.3L472.6 721.8L472.8 718.5L473.0 722.9L473.2 721.2L473.4 710.6L473.6 723.3L473.8 712.6L474.0 719.0L474.2 718.8L474.4 714.4L474.6 711.4L474.8 714.9L475.0 719.6L475.2 721.3L475.4 715.0L475.6 723.3L475.8 708.4L476.0 723.6L476.2 713.9L476.4 708.7L476.6 716.9L476.8 718.2L477.0 715.4L477.2 715.7L477.4 720.1L477.6 722.2L477.8 706.1L478.0 716.8L478.2 724.6L478.4 713.4L478.6 722.2L478.8 713.6L479.0 717.8L479.2 712.3L479.4 717.2L479.6 715.6L479.8 710.2L480.0 709.0L480.2 714.4L480.4 709.1L480.6 718.5L480.8 716.7L481.0 705.0L481.2 720.3L481.4 719.4L481.6 722.1L481.8 705.5L482.0 708.6L482.2 707.9L482.4 704.8L482.6 717.0L482.8 721.4L483.0 716.6L483.2 707.1L483.4 718.8L483.6 710.1L483.8 713.4L484.0 717.7L484.2 713.7L484.4 719.4L484.6 707.9L484.8 708.9L485.0 706.4L485.2 706.1L485.4 712.3L485.6 707.8L485.8 717.6L486.0 717.1L486.2 717.4L486.4 719.2L486.6 711.7L486.8 715.0L487.0 708.0L487.2 717.5L487.4 717.1L487.6 712.3L487.8 704.8L488.0 711.4L488.2 708.9L488.4 706.4L488.6 710.1L488.8 714.2L489.0 717.5L489.2 709.0L489.4 707.2L489.6 709.2L489.8 712.4L490.0 711.8L490.2 708.7L490.4 716.8L490.6 709.4L490.8 710.9L491.0 714.9L491.2 716.1L491.4 707.4L491.6 704.1L491.8 713.5L492.0 706.4L492.2 710.7L492.4 714.4L492.6 711.6L492.8 714.6L493.0 708.7L493.2 702.5L493.4 707.1L493.6 712.8L493.8 704.1L494.0 715.6L494.2 701.7L494.4 711.3L494.6 713.6L494.8 703.1L495.0 711.2L495.2 713.0L495.4 704.7L495.6 704.2L495.8 705.3L496.0 708.3L496.2 712.1L496.4 705.3L496.6 712.9L496.8 709.6L497.0 706.8L497.2 707.3L497.4 713.2L497.6 699.3L497.8 706.3L498.0 706.3L498.2 711.2L498.4 704.1L498.6 704.0L498.8 699.2L499.0 710.9L499.2 700.3L499.4 706.0L499.6 712.0L499.8 707.8L500.0 709.9L500.2 706.1L500.4 707.5L500.6 705.3L500.8 703.2L501.0 709.2L501.2 701.9L501.4 700.6L501.6 699.3L501.8 700.7L502.0 706.6L502.2 701.3L502.4 708.6L502.6 700.1L502.8 703.4L503.0 707.4L503.2 704.8L503.4 697.4L503.6 707.9L503.8 710.0L504.0 698.3L504.2 707.8L504.4 702.8L504.6 697.5L504.8 707.3L505.0 708.6L505.2 705.5L505.4 694.5L505.6 704.2L505.8 701.2L506.0 698.3L506.2 706.2L506.4 696.8L506.6 697.5L506.8 702.9L507.0 702.4L507.2 704.4L507.4 698.7L507.6 702.3L507.8 703.5L508.0 705.6L508.2 705.6L508.4 701.3L508.6 696.1L508.8 697.9L509.0 696.5L509.2 699.9L509.4 694.1L509.6 700.8L509.8 693.6L510.0 701.5L510.2 697.1L510.4 698.1L510.6 702.2L510.8 700.6L511.0 692.7L511.2 701.0L511.4 697.4L511.6 699.7L511.8 697.0L512.0 697.9L512.2 699.6L512.4 697.0L512.6 692.5L512.8 698.4L513.0 694.6L513.2 694.8L513.4 695.8L513.6 694.0L513.8 697.8L514.0 698.1L514.2 700.1L514.4 691.2L514.6 696.8L514.8 693.3L515.0 697.1L515.2 688.8L515.4 692.1L515.6 692.4L515.8 695.1L516.0 690.7L516.2 694.8L516.4 688.9L516.6 692.8L516.8 696.8L517.0 692.3L517.2 693.2L517.4 693.6L517.6 686.6L517.8 689.8L518.0 691.5L518.2 689.6L518.4 687.0L518.6 693.6L518.8 685.1L519.0 685.8L519.2 684.6L519.4 687.6L519.6 691.5L519.8 689.3L520.0 691.5L520.2 683.2L520.4 689.9L520.6 688.5L520.8 689.0L521.0 685.1L521.2 681.7L521.4 687.0L521.6 680.6L521.8 687.7L522.0 680.0L522.2 684.2L522.4 682.5L522.6 680.2L522.8 680.2L523.0 681.6L523.2 680.1L523.4 681.2L523.6 681.2L523.8 681.3L524.0 680.7L524.2 679.8L524.4 679.9L524.6 680.7L524.8 677.3L525.0 680.3L525.2 679.2L525.4 678.7L525.6 676.0L525.8 675.4L526.0 677.0L526.2 673.5L526.4 674.7L526.6 675.2L526.8 672.3L527.0 674.8L527.2 677.5L527.4 676.5L527.6 670.5L527.8 674.3L528.0 672.1L528.2 675.2L528.4 672.6L528.6 673.8L528.8 669.1L529.0 671.8L529.2 669.9L529.4 670.1L529.6 670.4L529.8 670.2L530.0 669.5L530.2 671.0L530.4 668.6L530.6 666.6L530.8 667.9L531.0 670.5L531.2 669.7L531.4 665.2L531.6 664.9L531.8 664.9L532.0 664.5L532.2 668.4L532.4 666.6L532.6 666.0L532.8 666.8L533.0 663.3L533.2 663.5L533.4 662.8L533.6 662.8L533.8 661.0L534.0 662.4L534.2 661.2L534.4 661.5L534.6 662.4L534.8 662.6L535.0 659.9L535.2 657.8L535.4 661.6L535.6 657.4L535.8 660.6L536.0 656.4L536.2 657.4L536.4 656.0L536.6 655.3L536.8 656.0L537.0 655.9L537.2 656.2L537.4 655.2L537.6 656.2L537.8 653.9L538.0 653.4L538.2 654.1L538.4 653.5L538.6 650.6L538.8 652.1L539.0 652.0L539.2 650.0L539.4 649.0L539.6 647.7L539.8 648.3L540.0 647.0L540.2 646.5L540.4 646.6L540.6 646.1L540.8 645.5L541.0 643.1L541.2 643.3L541.4 640.5L541.6 642.4L541.8 640.3L542.0 638.6L542.2 638.9L542.4 637.2L542.6 636.9L542.8 635.6L543.0 635.3L543.2 633.2L543.4 631.7L543.6 632.6L543.8 631.4L544.0 629.3L544.2 628.5L544.4 627.5L544.6 626.3L544.8 625.1L545.0 622.4L545.2 621.3L545.4 620.1L545.6 618.6L545.8 616.6L546.0 614.0L546.2 612.2L546.4 610.7L546.6 608.9L546.8 606.4L547.0 604.3L547.2 602.0L547.4 600.1L547.6 598.6L547.8 597.1L548.0 595.0L548.2 593.5L548.4 592.4L548.6 590.8L548.8 589.2L549.0 587.5L549.2 586.2L549.4 584.5L549.6 582.9L549.8 581.7L550.0 580.1L550.2 578.6L550.4 577.5L550.6 576.2L550.8 574.3L551.0 573.2L551.2 572.2L551.4 571.2L551.6 569.8L551.8 568.6L552.0 567.6L552.2 566.8L552.4 565.9L552.6 564.9L552.8 564.2L553.0 563.6L553.2 562.6L553.4 561.8L553.6 561.0L553.8 560.3L554.0 559.6L554.2 558.9L554.4 558.4L554.6 558.0L554.8 557.3L555.0 556.8L555.2 556.5L555.4 556.3L555.6 555.9L555.8 555.7L556.0 555.4L556.2 555.1L556.4 554.9L556.6 554.6L556.8 554.3L557.0 554.2L557.2 554.0L557.4 553.9L557.6 554.0L557.8 553.9L558.0 553.8L558.2 553.6L558.4 553.7L558.6 554.0L558.8 553.9L559.0 554.1L559.2 554.1L559.4 554.6L559.6 554.8L559.8 555.0L560.0 555.1L560.2 555.3L560.4 555.7L560.6 556.1L560.8 556.1L561.0 556.3L561.2 556.9L561.4 557.1L561.6 557.3L561.8 557.6L562.0 557.9L562.2 558.2L562.4 558.5L562.6 558.9L562.8 559.5L563.0 559.8L563.2 560.2L563.4 560.8L563.6 561.0L563.8 561.6L564.0 562.2L564.2 562.6L564.4 563.0L564.6 563.5L564.8 564.2L565.0 564.7L565.2 565.3L565.4 566.0L565.6 566.7L565.8 567.7L566.0 568.3L566.2 569.4L566.4 570.5L566.6 571.3L566.8 572.5L567.0 574.0L567.2 575.1L567.4 576.5L567.6 577.6L567.8 579.7L568.0 580.7L568.2 582.6L568.4 584.4L568.6 585.4L568.8 587.6L569.0 588.6L569.2 590.3L569.4 591.8L569.6 593.4L569.8 595.3L570.0 597.0L570.2 599.7L570.4 601.3L570.6 603.8L570.8 606.0L571.0 608.5L571.2 610.1L571.4 613.6L571.6 614.7L571.8 617.6L572.0 620.3L572.2 621.2L572.4 622.9L572.6 626.0L572.8 626.9L573.0 626.9L573.2 628.5L573.4 631.3L573.6 632.7L573.8 632.9L574.0 634.5L574.2 634.8L574.4 634.6L574.6 636.6L574.8 637.6L575.0 639.9L575.2 638.8L575.4 640.7L575.6 643.4L575.8 642.5L576.0 644.2L576.2 645.3L576.4 646.7L576.6 647.9L576.8 648.5L577.0 648.4L577.2 650.4L577.4 648.3L577.6 648.6L577.8 651.5L578.0 651.6L578.2 651.7L578.4 653.6L578.6 655.0L578.8 655.7L579.0 654.8L579.2 655.3L579.4 655.9L579.6 655.8L579.8 656.3L580.0 655.8L580.2 658.2L580.4 657.6L580.6 655.9L580.8 661.0L581.0 659.9L581.2 660.6L581.4 661.5L581.6 659.2L581.8 661.0L582.0 664.0L582.2 661.0L582.4 662.2L582.6 665.1L582.8 662.4L583.0 662.2L583.2 662.3L583.4 662.6L583.6 663.9L583.8 662.6L584.0 664.2L584.2 666.7L584.4 667.8L584.6 668.1L584.8 667.3L585.0 667.1L585.2 669.9L585.4 669.9L585.6 669.9L585.8 670.4L586.0 669.9L586.2 672.5L586.4 670.6L586.6 672.0L586.8 671.6L587.0 674.1L587.2 671.8L587.4 669.8L587.6 672.9L587.8 671.0L588.0 674.6L588.2 676.1L588.4 676.1L588.6 674.4L588.8 673.0L589.0 677.5L589.2 671.9L589.4 676.6L589.6 672.7L589.8 672.8L590.0 678.1L590.2 673.9L590.4 675.2L590.6 676.7L590.8 675.4L591.0 679.7L591.2 681.5L591.4 674.7L591.6 681.0L591.8 677.7L592.0 679.4L592.2 678.6L592.4 679.1L592.6 679.8L592.8 681.9L593.0 679.3L593.2 684.8L593.4 683.3L593.6 678.8L593.8 677.8L594.0 679.5L594.2 680.3L594.4 679.5L594.6 683.7L594.8 680.1L595.0 681.5L595.2 681.6L595.4 685.0L595.6 687.5L595.8 684.5L596.0 683.4L596.2 683.3L596.4 684.1L596.6 684.0L596.8 687.4L597.0 681.9L597.2 689.8L597.4 689.7L597.6 684.4L597.8 683.1L598.0 690.2L598.2 683.9L598.4 687.0L598.6 685.3L598.8 688.6L599.0 692.7L599.2 687.1L599.4 690.2L599.6 689.2L599.8 685.7L600.0 690.2L600.2 691.5L600.4 689.6L600.6 688.1L600.8 692.7L601.0 691.4L601.2 687.0L601.4 694.9L601.6 695.5L601.8 693.3L602.0 690.5L602.2 696.0L602.4 694.3L602.6 687.2L602.8 694.7L603.0 692.9L603.2 687.5L603.4 689.4L603.6 690.1L603.8 694.2L604.0 690.8L604.2 690.7L604.4 689.0L604.6 694.1L604.8 689.5L605.0 691.3L605.2 700.0L605.4 696.9L605.6 692.0L605.8 698.1L606.0 693.0L606.2 691.8L606.4 696.0L606.6 695.5L606.8 696.3L607.0 700.6L607.2 694.1L607.4 697.1L607.6 691.6L607.8 696.8L608.0 696.5L608.2 694.9L608.4 689.6L608.6 693.3L608.8 692.5L609.0 698.0L609.2 694.2L609.4 691.8L609.6 697.4L609.8 697.1L610.0 692.5L610.2 702.5L610.4 693.4L610.6 696.7L610.8 695.9L611.0 704.3L611.2 703.9L611.4 696.1L611.6 703.7L611.8 700.2L612.0 696.3L612.2 703.0L612.4 702.2L612.6 695.1L612.8 704.8L613.0 700.6L613.2 701.7L613.4 698.9L613.6 700.4L613.8 694.6L614.0 702.7L614.2 701.7L614.4 704.1L614.6 697.9L614.8 703.9L615.0 695.8L615.2 707.0L615.4 703.9L615.6 699.5L615.8 703.3L616.0 697.4L616.2 701.3L616.4 707.4L616.6 704.9L616.8 704.5L617.0 705.2L617.2 699.1L617.4 699.2L617.6 704.3L617.8 698.1L618.0 700.0L618.2 697.4L618.4 699.1L618.6 706.6L618.8 706.9L619.0 709.3L619.2 709.5L619.4 708.5L619.6 708.6L619.8 709.9L620.0 706.3L620.2 704.3L620.4 705.2L620.6 709.5L620.8 699.8L621.0 707.2L621.2 705.4L621.4 705.1L621.6 703.1L621.8 699.7L622.0 711.2L622.2 707.5L622.4 701.9L622.6 703.7L622.8 705.3L623.0 702.4L623.2 705.6L623.4 704.5L623.6 710.3L623.8 709.7L624.0 710.3L624.2 706.4L624.4 708.3L624.6 704.1L624.8 705.5L625.0 701.7L625.2 714.3L625.4 705.4L625.6 704.7L625.8 707.7L626.0 714.8L626.2 710.6L626.4 714.5L626.6 704.5L626.8 705.9L627.0 703.0L627.2 716.2L627.4 712.1L627.6 710.5L627.8 709.2L628.0 713.2L628.2 714.9L628.4 711.9L628.6 715.4L628.8 703.9L629.0 706.1L629.2 717.4L629.4 716.6L629.6 708.0L629.8 710.1L630.0 704.3L630.2 705.0L630.4 711.6L630.6 705.2L630.8 716.9L631.0 712.9L631.2 713.0L631.4 717.2L631.6 707.0L631.8 706.3L632.0 710.8L632.2 718.8L632.4 707.3L632.6 707.1L632.8 713.4L633.0 717.5L633.2 710.1L633.4 714.6L633.6 714.5L633.8 720.2L634.0 718.3L634.2 721.0L634.4 721.5L634.6 708.7L634.8 712.9L635.0 716.7L635.2 723.2L635.4 710.5L635.6 712.2L635.8 706.7L636.0 718.7L636.2 721.5L636.4 707.7L636.6 708.3L636.8 723.1L637.0 716.1L637.2 713.4L637.4 720.0L637.6 715.8L637.8 719.8L638.0 724.1L638.2 709.9L638.4 721.9L638.6 723.2L638.8 713.4L639.0 723.3L639.2 716.2L639.4 714.0L639.6 720.0L639.8 725.3L640.0 726.9L640.2 724.1L640.4 709.1L640.6 723.8L640.8 718.1L641.0 724.5L641.2 724.7L641.4 712.2L641.6 722.5L641.8 710.9L642.0 719.7L642.2 711.4L642.4 728.6L642.6 724.1L642.8 724.4L643.0 720.5L643.2 717.0L643.4 715.5L643.6 716.3L643.8 718.1L644.0 728.9L644.2 714.4L644.4 729.6L644.6 711.1L644.8 732.9L645.0 727.9L645.2 728.8L645.4 728.3L645.6 726.7L645.8 726.3L646.0 715.4L646.2 728.5L646.4 712.2L646.6 718.7L646.8 729.0L647.0 722.8L647.2 725.0L647.4 714.6L647.6 730.3L647.8 717.1L648.0 724.0L648.2 734.5L648.4 721.2L648.6 726.5L648.8 723.1L649.0 726.2L649.2 714.3L649.4 716.3L649.6 718.9L649.8 729.2L650.0 717.7L650.2 718.1L650.4 728.8L650.6 719.0L650.8 728.6L651.0 718.5L651.2 718.6L651.4 727.7L651.6 721.1L651.8 721.6L652.0 715.6L652.2 736.3L652.4 730.6L652.6 730.7L652.8 735.1L653.0 736.5L653.2 730.8L653.4 736.1L653.6 728.8L653.8 725.5L654.0 721.6L654.2 723.6L654.4 729.3L654.6 722.8L654.8 739.2L655.0 719.2L655.2 739.3L655.4 730.9L655.6 722.9L655.8 722.3L656.0 719.4L656.2 719.1L656.4 718.3L656.6 719.7L656.8 736.9L657.0 719.2L657.2 716.1L657.4 727.3L657.6 726.9L657.8 727.7L658.0 721.0L658.2 726.6L658.4 722.9L658.6 743.3L658.8 741.0L659.0 725.8L659.2 741.8L659.4 732.2L659.6 718.9L659.8 742.8L660.0 725.0L660.2 731.5L660.4 733.9L660.6 721.2L660.8 731.9L661.0 726.1L661.2 724.2L661.4 725.5L661.6 743.4L661.8 735.8L662.0 729.3L662.2 726.8L662.4 726.8L662.6 721.7L662.8 744.8L663.0 727.6L663.2 731.8L663.4 721.6L663.6 745.3L663.8 733.6L664.0 745.4L664.2 725.8L664.4 726.9L664.6 736.8L664.8 729.4L665.0 738.8L665.2 736.9L665.4 743.0L665.6 742.5L665.8 716.3L666.0 749.3L666.2 724.2L666.4 731.4L666.6 733.2L666.8 745.3L667.0 729.1L667.2 723.4L667.4 725.1L667.6 739.2L667.8 726.8L668.0 740.1L668.2 739.7L668.4 748.7L668.6 750.8L668.8 729.7L669.0 743.2L669.2 730.8L669.4 727.7L669.6 732.5L669.8 725.4L670.0 750.6L670.2 719.3L670.4 746.7L670.6 742.0L670.8 739.3L671.0 731.1L671.2 729.7L671.4 751.0L671.6 743.2L671.8 726.3L672.0 738.9L672.2 747.5L672.4 722.1L672.6 731.7L672.8 745.3L673.0 735.0L673.2 733.0L673.4 751.6L673.6 744.3L673.8 747.1L674.0 744.6L674.2 728.2L674.4 726.6L674.6 741.9L674.8 734.8L675.0 725.7L675.2 724.8L675.4 748.1L675.6 748.3L675.8 751.1L676.0 724.7L676.2 738.3L676.4 727.8L676.6 749.3L676.8 747.3L677.0 726.4L677.2 754.7L677.4 729.9L677.6 751.0L677.8 732.8L678.0 750.6L678.2 738.9L678.4 741.1L678.6 737.0L678.8 755.9L679.0 755.2L679.2 752.0L679.4 724.5L679.6 743.1L679.8 740.2L680.0 731.0L680.2 744.3L680.4 759.0L680.6 751.5L680.8 747.4L681.0 734.8L681.2 747.7L681.4 726.7L681.6 731.4L681.8 749.1L682.0 746.3L682.2 730.8L682.4 738.1L682.6 759.8L682.8 736.4L683.0 737.0L683.2 743.9L683.4 738.5L683.6 743.6L683.8 729.2L684.0 750.8L684.2 736.8L684.4 729.5L684.6 749.9L684.8 748.7L685.0 739.8L685.2 734.4L685.4 762.8L685.6 750.3L685.8 736.6L686.0 752.4L686.2 742.1L686.4 748.0L686.6 730.2L686.8 735.1L687.0 734.1L687.2 758.2L687.4 732.2L687.6 743.8L687.8 733.1L688.0 751.7L688.2 734.4L688.4 743.0L688.6 808.0L688.8 751.3L689.0 758.6L689.2 765.0L689.4 808.0L689.6 724.5L689.8 754.8L690.0 752.1L690.2 759.6L690.4 753.4L690.6 730.7L690.8 764.6L691.0 735.9L691.2 758.4L691.4 734.4L691.6 729.4L691.8 737.6L692.0 791.6L692.2 745.9L692.4 735.5L692.6 763.2L692.8 757.8L693.0 761.3L693.2 754.5L693.4 735.2L693.6 727.9L693.8 735.8L694.0 736.6L694.2 735.6L694.4 740.8L694.6 763.5L694.8 761.4L695.0 756.8L695.2 739.1L695.4 737.4L695.6 751.1L695.8 740.0L696.0 808.0L696.2 765.0L696.4 750.9L696.6 730.9L696.8 753.6L697.0 742.0L697.2 763.3L697.4 729.6L697.6 756.5L697.8 761.3L698.0 725.1L698.2 762.3L698.4 742.2L698.6 761.0L698.8 760.9L699.0 752.2L699.2 757.9L699.4 766.4L699.6 733.6L699.8 752.4L700.0 743.6L700.2 728.1L700.4 735.8L700.6 740.9L700.8 763.4L701.0 768.0L701.2 742.8L701.4 762.7L701.6 748.4L701.8 759.3L702.0 758.9L702.2 742.2L702.4 759.9L702.6 758.4L702.8 733.1L703.0 731.7L703.2 808.0L703.4 762.1L703.6 746.9L703.8 733.0L704.0 753.1L704.2 761.0L704.4 765.1L704.6 755.1L704.8 769.7L705.0 753.1L705.2 749.8L705.4 763.7L705.6 737.9L705.8 743.6L706.0 760.4L706.2 759.8L706.4 752.1L706.6 735.8L706.8 750.2L707.0 728.8L707.2 808.0L707.4 772.2L707.6 734.6L707.8 747.4L708.0 767.9L708.2 769.8L708.4 752.3L708.6 743.9L708.8 756.7L709.0 746.4L709.2 727.9L709.4 753.7L709.6 749.8L709.8 747.3L710.0 736.1L710.2 757.9L710.4 741.3L710.6 771.5L710.8 751.8L711.0 766.1L711.2 763.2L711.4 742.5L711.6 766.3L711.8 765.8L712.0 754.6L712.2 773.0L712.4 752.4L712.6 741.2L712.8 748.5L713.0 761.0L713.2 759.0L713.4 751.4L713.6 767.0L713.8 733.6L714.0 733.6L714.2 750.6L714.4 759.5L714.6 771.9L714.8 744.1L715.0 758.7L715.2 742.4L715.4 728.6L715.6 768.2L715.8 770.2L716.0 808.0L716.2 752.0L716.4 760.1L716.6 765.9L716.8 744.4L717.0 747.1L717.2 749.7L717.4 743.7L717.6 760.4L717.8 738.5L718.0 749.8L718.2 752.9L718.4 769.2L718.6 759.4L718.8 744.9L719.0 760.4L719.2 732.8L719.4 746.3L719.6 755.5L719.8 761.8L720.0 745.7L720.2 764.5L720.4 740.4L720.6 772.7L720.8 772.6L721.0 747.9L721.2 735.5L721.4 756.2L721.6 769.1L721.8 753.9L722.0 773.1L722.2 749.1L722.4 758.5L722.6 754.8L722.8 734.1L723.0 744.6L723.2 808.0L723.4 752.6L723.6 768.5L723.8 765.0L724.0 738.1L724.2 734.8L724.4 735.8L724.6 728.1L724.8 744.8L725.0 756.1L725.2 788.3L725.4 741.5L725.6 766.9L725.8 743.2L726.0 771.8L726.2 735.6L726.4 739.9L726.6 735.0L726.8 734.0L727.0 733.2L727.2 772.5L727.4 736.6L727.6 771.6L727.8 748.5L728.0 743.9L728.2 739.7L728.4 757.3L728.6 763.0L728.8 772.5L729.0 755.3L729.2 752.2L729.4 760.9L729.6 744.6L729.8 746.9L730.0 763.3L730.2 739.8L730.4 741.0L730.6 760.8L730.8 754.5L731.0 743.1L731.2 744.5L731.4 747.3L731.6 742.8L731.8 758.8L732.0 731.8L732.2 743.8L732.4 766.1L732.6 766.1L732.8 742.2L733.0 739.2L733.2 744.1L733.4 749.4L733.6 737.6L733.8 752.2L734.0 742.4L734.2 757.6L734.4 747.4L734.6 743.0L734.8 736.2L735.0 730.4L735.2 765.9L735.4 739.1L735.6 737.0L735.8 749.2L736.0 756.1L736.2 772.4L736.4 739.7L736.6 774.7L736.8 745.6L737.0 735.8L737.2 774.2L737.4 729.1L737.6 808.0L737.8 739.5L738.0 808.0L738.2 732.0L738.4 735.9L738.6 750.5L738.8 765.1L739.0 772.3L739.2 764.7L739.4 748.8L739.6 761.8L739.8 771.7L740.0 758.8L740.2 764.4L740.4 754.1L740.6 736.6L740.8 747.9L741.0 767.1L741.2 740.7L741.4 741.6L741.6 750.6L741.8 747.0L742.0 732.4L742.2 770.2L742.4 761.6L742.6 771.7L742.8 733.4L743.0 737.7L743.2 750.4L743.4 767.5L743.6 745.5L743.8 737.0L744.0 733.4L744.2 750.5L744.4 749.7L744.6 769.9L744.8 751.2L745.0 748.3L745.2 773.6L745.4 754.6L745.6 729.0L745.8 733.0L746.0 749.8L746.2 741.0L746.4 763.2L746.6 757.3L746.8 746.7L747.0 732.2L747.2 749.1L747.4 760.0L747.6 758.7L747.8 732.9L748.0 735.4L748.2 756.5L748.4 770.7L748.6 773.5L748.8 766.4L749.0 734.8L749.2 764.0L749.4 744.5L749.6 771.5L749.8 745.9L750.0 748.6L750.2 769.6L750.4 731.6L750.6 745.5L750.8 736.2L751.0 757.9L751.2 808.0L751.4 752.5L751.6 772.8L751.8 754.8L752.0 770.1L752.2 771.3L752.4 744.8L752.6 768.8L752.8 769.9L753.0 768.4L753.2 766.4L753.4 735.7L753.6 754.8L753.8 737.4L754.0 751.6L754.2 738.8L754.4 772.3L754.6 753.4L754.8 793.9L755.0 764.0L755.2 758.2L755.4 747.5L755.6 756.3L755.8 754.7L756.0 749.6L756.2 765.2L756.4 756.3L756.6 752.3L756.8 770.3L757.0 759.7L757.2 758.5L757.4 748.6L757.6 748.7L757.8 748.5L758.0 741.8L758.2 773.8L758.4 733.9L758.6 765.9L758.8 763.5L759.0 737.2L759.2 734.6L759.4 751.0L759.6 749.5L759.8 773.6L760.0 751.4L760.2 751.8L760.4 771.4L760.6 764.2L760.8 763.4L761.0 736.9L761.2 758.5L761.4 736.5L761.6 741.1L761.8 762.3L762.0 746.8L762.2 755.4L762.4 753.2L762.6 736.5L762.8 732.8L763.0 808.0L763.2 744.3L763.4 745.7L763.6 756.1L763.8 772.5L764.0 767.8L764.2 748.2L764.4 761.6L764.6 742.6L764.8 770.4L765.0 739.2L765.2 745.1L765.4 769.6L765.6 772.6L765.8 732.0L766.0 773.5L766.2 736.3L766.4 768.2L766.6 749.2L766.8 738.1L767.0 760.1L767.2 767.7L767.4 751.7L767.6 745.5L767.8 733.3L768.0 765.6L768.2 770.2L768.4 754.3L768.6 754.0L768.8 758.7L769.0 732.5L769.2 808.0L769.4 752.4L769.6 747.0L769.8 740.3L770.0 729.2L770.2 757.7L770.4 758.2L770.6 744.7L770.8 732.5L771.0 761.6L771.2 760.4L771.4 736.1L771.6 739.1L771.8 808.0L772.0 747.0L772.2 760.1L772.4 755.9L772.6 808.0L772.8 753.9L773.0 764.4L773.2 753.0L773.4 767.5L773.6 758.9L773.8 754.4L774.0 742.9L774.2 771.9L774.4 770.1L774.6 766.1L774.8 761.3L775.0 750.5L775.2 740.8L775.4 736.3L775.6 756.6L775.8 772.3L776.0 734.2L776.2 740.8L776.4 772.4L776.6 755.2L776.8 766.4L777.0 808.0L777.2 748.0L777.4 733.2L777.6 732.1L777.8 766.5L778.0 767.2L778.2 743.2L778.4 763.9L778.6 745.7L778.8 759.6L779.0 747.5L779.2 763.7L779.4 773.2L779.6 748.1L779.8 771.1L780.0 808.0L780.2 761.2L780.4 769.0L780.6 743.1L780.8 734.4L781.0 744.5L781.2 742.0L781.4 760.5L781.6 737.5L781.8 743.3L782.0 759.3L782.2 746.0L782.4 769.9L782.6 732.0L782.8 737.8L783.0 734.3L783.2 760.8L783.4 808.0L783.6 762.3L783.8 747.2L784.0 808.0L784.2 733.4L784.4 752.2L784.6 763.3L784.8 737.2L785.0 735.9L785.2 745.7L785.4 766.2L785.6 767.1L785.8 758.6L786.0 770.4L786.2 736.1L786.4 755.1L786.6 750.0L786.8 731.2L787.0 731.1L787.2 750.3L787.4 741.6L787.6 742.9L787.8 737.4L788.0 728.7L788.2 754.4L788.4 740.1L788.6 725.8L788.8 741.6L789.0 734.7L789.2 737.4L789.4 751.8L789.6 751.1L789.8 737.8L790.0 728.1L790.2 799.6L790.4 723.2L790.6 740.1L790.8 734.7L791.0 728.6L791.2 717.9L791.4 728.7L791.6 720.9L791.8 740.9L792.0 724.8L792.2 739.7L792.4 738.1L792.6 737.1L792.8 743.0L793.0 739.1L793.2 731.3L793.4 728.4L793.6 727.5L793.8 728.4L794.0 724.8L794.2 719.3L794.4 722.7L794.6 731.9L794.8 717.4L795.0 711.8L795.2 733.6L795.4 726.5L795.6 725.6L795.8 718.9L796.0 719.8L796.2 719.6L796.4 712.6L796.6 725.1L796.8 720.3L797.0 729.9L797.2 731.8L797.4 726.7L797.6 721.6L797.8 729.8L798.0 718.1L798.2 731.4L798.4 736.5L798.6 733.9L798.8 721.8L799.0 726.1L799.2 737.6L799.4 729.3L799.6 729.9L799.8 729.1L800.0 740.8L800.2 738.9L800.4 731.3L800.6 728.6L800.8 736.6L801.0 727.6L801.2 725.2L801.4 726.1L801.6 748.3L801.8 736.2L802.0 736.0L802.2 749.4L802.4 750.4L802.6 743.6L802.8 725.9L803.0 743.7L803.2 755.7L803.4 733.2L803.6 728.7L803.8 753.4L804.0 738.1L804.2 742.0L804.4 731.3L804.6 750.5L804.8 742.3L805.0 738.6L805.2 731.4L805.4 757.1L805.6 759.0L805.8 739.0L806.0 741.2L806.2 753.5L806.4 759.9L806.6 730.2L806.8 732.3L807.0 754.0L807.2 761.7L807.4 764.8L807.6 739.0L807.8 746.2L808.0 749.3L808.2 761.7L808.4 753.6L808.6 740.6L808.8 738.9L809.0 739.2L809.2 755.0L809.4 757.8L809.6 758.0L809.8 750.7L810.0 742.9L810.2 764.5L810.4 740.8L810.6 744.8L810.8 768.2L811.0 732.1L811.2 754.5L811.4 755.1L811.6 773.0L811.8 739.4L812.0 749.5L812.2 773.2L812.4 744.6L812.6 761.7L812.8 771.6L813.0 759.5L813.2 732.7L813.4 742.2L813.6 754.2L813.8 727.2L814.0 768.2L814.2 745.5L814.4 764.1L814.6 734.9L814.8 767.2L815.0 745.3L815.2 738.3L815.4 761.7L815.6 748.5L815.8 758.1L816.0 746.8L816.2 751.3L816.4 758.1L816.6 750.7L816.8 741.4L817.0 757.5L817.2 757.6L817.4 737.1L817.6 749.7L817.8 732.7L818.0 808.0L818.2 765.3L818.4 758.0L818.6 771.8L818.8 738.6L819.0 764.1L819.2 742.3L819.4 750.1L819.6 774.1L819.8 744.2L820.0 747.1L820.2 748.6L820.4 754.4L820.6 757.3L820.8 759.1L821.0 747.3L821.2 774.7L821.4 733.0L821.6 756.3L821.8 726.0L822.0 755.5L822.2 759.4L822.4 740.3L822.6 744.6L822.8 737.2L823.0 765.7L823.2 760.9L823.4 745.0L823.6 737.3L823.8 773.7L824.0 755.6L824.2 769.3L824.4 758.7L824.6 767.5L824.8 738.3L825.0 758.3L825.2 764.6L825.4 752.3L825.6 756.9L825.8 756.7L826.0 746.7L826.2 761.7L826.4 734.6L826.6 760.1L826.8 748.8L827.0 745.6L827.2 749.5L827.4 741.1L827.6 733.7L827.8 740.9L828.0 758.2L828.2 761.0L828.4 762.5L828.6 730.6L828.8 738.0L829.0 737.3L829.2 768.7L829.4 742.2L829.6 757.6L829.8 744.2L830.0 747.7L830.2 808.0L830.4 759.8L830.6 744.0L830.8 741.5L831.0 763.3L831.2 808.0L831.4 754.9L831.6 747.9L831.8 754.5L832.0 765.8L832.2 756.4L832.4 744.6L832.6 738.3L832.8 774.7L833.0 738.6L833.2 758.2L833.4 771.2L833.6 747.2L833.8 757.8L834.0 771.9L834.2 766.2L834.4 747.8L834.6 773.5L834.8 738.0L835.0 731.5L835.2 755.5L835.4 768.3L835.6 743.3L835.8 735.0L836.0 773.1L836.2 768.5L836.4 768.2L836.6 769.4L836.8 743.6L837.0 761.7L837.2 808.0L837.4 737.1L837.6 734.0L837.8 759.6L838.0 773.2L838.2 768.5L838.4 753.0L838.6 736.4L838.8 748.1L839.0 746.3L839.2 741.3L839.4 808.0L839.6 735.8L839.8 739.9L840.0 808.0L840.2 733.8L840.4 729.8L840.6 772.8L840.8 756.1L841.0 741.8L841.2 764.2L841.4 792.9L841.6 732.3L841.8 733.7L842.0 761.1L842.2 763.5L842.4 772.3L842.6 763.4L842.8 762.1L843.0 743.7L843.2 738.4L843.4 744.6L843.6 736.4L843.8 743.0L844.0 743.5L844.2 774.9L844.4 737.6L844.6 763.8L844.8 767.8L845.0 763.1L845.2 767.4L845.4 759.0L845.6 765.4L845.8 744.1L846.0 736.0L846.2 750.6L846.4 808.0L846.6 754.7L846.8 748.5L847.0 759.6L847.2 764.9L847.4 750.2L847.6 750.2L847.8 744.2L848.0 764.9L848.2 751.8L848.4 731.9L848.6 808.0L848.8 750.4L849.0 743.3L849.2 767.7L849.4 745.6L849.6 773.8L849.8 756.9L850.0 767.2L850.2 766.3L850.4 736.4L850.6 773.0L850.8 753.0L851.0 740.3L851.2 738.7L851.4 735.9L851.6 743.5L851.8 768.2L852.0 773.4L852.2 748.4L852.4 741.7L852.6 739.3L852.8 764.6L853.0 808.0L853.2 761.6L853.4 758.8L853.6 753.1L853.8 746.2L854.0 745.4L854.2 752.7L854.4 750.3L854.6 755.0L854.8 770.4L855.0 749.2L855.2 730.5L855.4 751.1L855.6 755.7L855.8 773.4L856.0 759.9L856.2 750.9L856.4 752.6L856.6 735.5L856.8 801.1L857.0 768.7L857.2 752.7L857.4 744.6L857.6 765.9L857.8 751.3L858.0 740.2L858.2 764.8L858.4 746.6L858.6 764.8L858.8 746.0L859.0 759.4L859.2 761.6L859.4 752.4L859.6 754.7L859.8 773.2L860.0 755.4L860.2 808.0L860.4 772.8L860.6 734.3L860.8 740.7L861.0 741.2L861.2 762.1L861.4 741.9L861.6 757.5L861.8 766.9L862.0 770.3L862.2 756.1L862.4 758.1L862.6 745.4L862.8 746.4L863.0 743.9L863.2 744.6L863.4 754.3L863.6 808.0L863.8 754.3L864.0 789.1L864.2 737.2L864.4 758.8L864.6 758.1L864.8 754.5L865.0 762.5L865.2 753.5L865.4 758.2L865.6 732.6L865.8 767.5L866.0 756.9L866.2 735.2L866.4 740.2L866.6 772.6L866.8 761.4L867.0 768.7L867.2 751.7L867.4 753.3L867.6 759.9L867.8 735.5L868.0 772.7L868.2 768.5L868.4 751.0L868.6 758.8L868.8 745.0L869.0 773.3L869.2 750.4L869.4 763.4L869.6 752.7L869.8 746.6L870.0 753.6L870.2 733.3L870.4 766.9L870.6 735.3L870.8 754.8L871.0 774.2L871.2 756.3L871.4 770.3L871.6 741.1L871.8 735.1L872.0 767.3L872.2 768.5L872.4 764.8L872.6 764.3L872.8 764.8L873.0 761.6L873.2 759.7L873.4 747.0L873.6 751.0L873.8 761.2L874.0 762.8L874.2 732.0L874.4 808.0L874.6 751.5L874.8 747.3L875.0 741.1L875.2 743.6L875.4 757.2L875.6 741.6L875.8 733.5L876.0 730.2L876.2 772.7L876.4 753.5L876.6 749.0L876.8 750.8L877.0 761.5L877.2 744.2L877.4 746.3L877.6 752.4L877.8 745.7L878.0 748.8L878.2 768.8L878.4 765.3L878.6 771.0L878.8 738.9L879.0 747.5L879.2 733.2L879.4 739.1L879.6 740.6L879.8 755.1L880.0 730.8L880.2 768.9L880.4 730.7L880.6 773.8L880.8 760.3L881.0 738.4L881.2 808.0L881.4 744.6L881.6 808.0L881.8 760.3L882.0 755.1L882.2 753.4L882.4 771.9L882.6 755.7L882.8 794.2L883.0 774.1L883.2 772.3L883.4 808.0L883.6 753.8L883.8 774.6L884.0 764.6L884.2 737.1L884.4 762.1L884.6 760.0L884.8 766.4L885.0 732.4L885.2 727.6L885.4 808.0L885.6 748.5L885.8 747.8L886.0 761.6L886.2 750.9L886.4 758.1L886.6 768.2L886.8 758.6L887.0 769.9L887.2 755.5L887.4 752.9L887.6 769.6L887.8 738.5L888.0 744.3L888.2 746.4L888.4 741.8L888.6 745.8L888.8 774.3L889.0 737.5L889.2 749.2L889.4 741.8L889.6 763.7L889.8 766.4L890.0 735.0L890.2 773.5L890.4 746.8L890.6 744.8L890.8 760.9L891.0 752.5L891.2 752.6L891.4 773.6L891.6 756.1L891.8 765.9L892.0 747.6L892.2 793.6L892.4 748.1L892.6 763.1L892.8 765.1L893.0 800.7L893.2 748.1L893.4 757.7L893.6 744.3L893.8 773.4L894.0 774.2L894.2 746.7L894.4 738.3L894.6 740.1L894.8 756.1L895.0 751.6L895.2 739.3L895.4 753.3L895.6 732.3L895.8 751.0L896.0 765.4L896.2 770.5L896.4 758.6L896.6 772.5L896.8 733.7L897.0 733.4L897.2 745.9L897.4 761.4L897.6 752.5L897.8 768.4L898.0 746.5L898.2 757.0L898.4 769.2L898.6 739.4L898.8 752.1L899.0 764.6L899.2 769.1L899.4 769.7L899.6 773.6L899.8 754.1L900.0 774.8L900.2 765.9L900.4 739.4L900.6 756.1L900.8 751.9L901.0 748.7L901.2 749.4L901.4 760.2L901.6 766.1L901.8 731.9L902.0 744.2L902.2 740.4L902.4 751.4L902.6 768.2L902.8 732.9L903.0 735.1L903.2 763.5L903.4 745.4L903.6 774.1L903.8 744.8L904.0 773.4L904.2 741.5L904.4 740.6L904.6 753.2L904.8 748.9L905.0 769.0L905.2 758.0L905.4 740.2L905.6 757.5L905.8 759.3L906.0 762.3L906.2 738.2L906.4 753.4L906.6 739.1L906.8 808.0L907.0 755.3L907.2 742.0L907.4 736.9L907.6 763.8L907.8 771.0L908.0 737.3L908.2 756.2L908.4 771.7L908.6 765.1L908.8 741.6L909.0 766.3L909.2 762.2L909.4 745.0L909.6 773.9L909.8 744.6L910.0 773.3L910.2 757.7L910.4 773.0L910.6 764.2L910.8 761.7L911.0 736.5L911.2 808.0L911.4 746.8L911.6 808.0L911.8 736.9L912.0 774.3L912.2 758.5" stroke="#231815" stroke-width="2.8"/>
<path d="M191.4 784.0L192.4 783.9L193.4 783.9L194.4 783.8L195.4 783.7L196.4 783.6L197.4 783.6L198.4 783.5L199.4 783.4L200.4 783.3L201.4 783.3L202.4 783.2L203.4 783.1L204.4 783.0L205.4 783.0L206.4 782.9L207.4 782.8L208.4 782.8L209.4 782.7L210.4 782.6L211.4 782.5L212.4 782.5L213.4 782.4L214.4 782.3L215.4 782.2L216.4 782.2L217.4 782.1L218.4 782.0L219.4 782.0L220.4 781.9L221.4 781.8L222.4 781.7L223.4 781.7L224.4 781.6L225.4 781.5L226.4 781.4L227.4 781.4L228.4 781.3L229.4 781.2L230.4 781.1L231.4 781.1L232.4 781.0L233.4 780.9L234.4 780.8L235.4 780.8L236.4 780.7L237.4 780.6L238.4 780.6L239.4 780.5L240.4 780.4L241.4 780.3L242.4 780.3L243.4 780.2L244.4 780.1L245.4 780.0L246.4 780.0L247.4 779.9L248.4 779.8L249.4 779.7L250.4 779.7L251.4 779.6L252.4 779.5L253.4 779.5L254.4 779.4L255.4 779.4L256.4 779.3L257.4 779.2L258.4 779.2L259.4 779.2L260.4 779.1L261.4 779.1L262.4 779.0L263.4 779.0L264.4 778.9L265.4 778.9L266.4 778.9L267.4 778.8L268.4 778.8L269.4 778.8L270.4 778.7L271.4 778.7L272.4 778.6L273.4 778.6L274.4 778.6L275.4 778.5L276.4 778.5L277.4 778.4L278.4 778.4L279.4 778.3L280.4 778.3L281.4 778.2L282.4 778.2L283.4 778.1L284.4 778.0L285.4 778.0L286.4 777.9L287.4 777.8L288.4 777.8L289.4 777.7L290.4 777.6L291.4 777.5L292.4 777.4L293.4 777.3L294.4 777.2L295.4 777.1L296.4 777.0L297.4 776.8L298.4 776.7L299.4 776.6L300.4 776.4L301.4 776.3L302.4 776.1L303.4 776.0L304.4 775.8L305.4 775.6L306.4 775.2L307.4 774.3L308.4 773.1L309.4 771.5L310.4 768.3L311.4 762.7L312.4 756.6L313.4 750.3L314.4 743.3L315.4 736.8L316.4 731.2L317.4 725.9L318.4 722.0L319.4 719.7L320.4 717.9L321.4 717.0L322.4 717.3L323.4 719.2L324.4 721.7L325.4 724.8L326.4 729.3L327.4 734.0L328.4 738.2L329.4 742.6L330.4 746.7L331.4 750.0L332.4 752.2L333.4 754.1L334.4 755.7L335.4 757.0L336.4 757.8L337.4 758.3L338.4 758.7L339.4 759.0L340.4 759.3L341.4 759.5L342.4 759.7L343.4 759.8L344.4 759.9L345.4 759.9L346.4 759.9L347.4 759.9L348.4 759.8L349.4 759.8L350.4 759.8L351.4 759.7L352.4 759.6L353.4 759.6L354.4 759.5L355.4 759.4L356.4 759.3L357.4 759.2L358.4 759.1L359.4 759.0L360.4 758.9L361.4 758.8L362.4 758.6L363.4 758.5L364.4 758.4L365.4 758.2L366.4 758.1L367.4 757.9L368.4 757.8L369.4 757.6L370.4 757.5L371.4 757.3L372.4 757.2L373.4 757.0L374.4 756.9L375.4 756.7L376.4 756.6L377.4 756.4L378.4 756.2L379.4 756.1L380.4 755.9L381.4 755.8L382.4 755.6L383.4 755.4L384.4 755.2L385.4 755.0L386.4 754.8L387.4 754.6L388.4 754.4L389.4 754.2L390.4 753.9L391.4 753.7L392.4 753.4L393.4 753.2L394.4 752.9L395.4 752.7L396.4 752.4L397.4 752.2L398.4 751.9L399.4 751.6L400.4 751.4L401.4 751.1L402.4 750.8L403.4 750.6L404.4 750.3L405.4 750.1L406.4 749.8L407.4 749.6L408.4 749.3L409.4 749.1L410.4 748.8L411.4 748.6L412.4 748.3L413.4 748.1L414.4 747.8L415.4 747.6L416.4 747.3L417.4 747.1L418.4 746.8L419.4 746.6L420.4 746.3L421.4 746.1L422.4 745.8L423.4 745.6L424.4 745.3L425.4 745.0L426.4 744.8L427.4 744.5L428.4 744.2L429.4 744.0L430.4 743.7L431.4 743.4L432.4 743.1L433.4 742.8L434.4 742.5L435.4 742.2L436.4 741.9L437.4 741.6L438.4 741.3L439.4 741.0L440.4 740.7L441.4 740.3L442.4 740.0L443.4 739.7L444.4 739.3L445.4 738.9L446.4 738.6L447.4 738.2L448.4 737.8L449.4 737.4L450.4 737.0L451.4 736.6L452.4 736.2L453.4 735.8L454.4 735.4L455.4 735.0L456.4 734.6L457.4 734.1L458.4 733.7L459.4 733.3L460.4 732.8L461.4 732.4L462.4 732.0L463.4 731.5L464.4 731.1L465.4 730.6L466.4 730.2L467.4 729.8L468.4 729.3L469.4 728.9L470.4 728.4L471.4 728.0L472.4 727.5L473.4 727.0L474.4 726.6L475.4 726.1L476.4 725.7L477.4 725.2L478.4 724.7L479.4 724.2L480.4 723.7L481.4 723.2L482.4 722.7L483.4 722.2L484.4 721.7L485.4 721.2L486.4 720.6L487.4 720.1L488.4 719.5L489.4 719.0L490.4 718.4L491.4 717.8L492.4 717.2L493.4 716.6L494.4 716.0L495.4 715.4L496.4 714.8L497.4 714.2L498.4 713.5L499.4 712.8L500.4 712.2L501.4 711.5L502.4 710.8L503.4 710.1L504.4 709.3L505.4 708.6L506.4 707.8L507.4 707.0L508.4 706.2L509.4 705.4L510.4 704.5L511.4 703.6L512.4 702.7L513.4 701.8L514.4 700.8L515.4 699.8L516.4 698.8L517.4 697.7L518.4 696.5L519.4 695.4L520.4 694.1L521.4 692.9L522.4 691.5L523.4 690.1L524.4 688.7L525.4 687.2L526.4 685.7L527.4 684.1L528.4 682.4L529.4 680.7L530.4 678.9L531.4 677.0L532.4 675.0L533.4 672.9L534.4 670.7L535.4 668.3L536.4 665.7L537.4 663.0L538.4 660.1L539.4 656.9L540.4 653.6L541.4 649.9L542.4 645.5L543.4 640.6L544.4 635.1L545.4 629.1L546.4 622.1L547.4 613.2L548.4 603.6L549.4 594.5L550.4 586.2L551.4 577.9L552.4 570.6L553.4 564.8L554.4 560.0L555.4 556.7L556.4 554.8L557.4 553.7L558.4 554.2L559.4 555.9L560.4 558.6L561.4 563.2L562.4 568.7L563.4 575.5L564.4 583.4L565.4 591.9L566.4 601.6L567.4 612.7L568.4 623.0L569.4 630.9L570.4 637.8L571.4 644.0L572.4 649.3L573.4 653.6L574.4 657.1L575.4 660.4L576.4 663.3L577.4 666.0L578.4 668.5L579.4 670.8L580.4 673.0L581.4 675.0L582.4 677.0L583.4 678.9L584.4 680.7L585.4 682.6L586.4 684.3L587.4 686.0L588.4 687.6L589.4 689.2L590.4 690.7L591.4 692.2L592.4 693.6L593.4 695.0L594.4 696.3L595.4 697.6L596.4 698.8L597.4 700.0L598.4 701.1L599.4 702.2L600.4 703.3L601.4 704.3L602.4 705.3L603.4 706.3L604.4 707.3L605.4 708.3L606.4 709.2L607.4 710.1L608.4 711.0L609.4 711.8L610.4 712.7L611.4 713.5L612.4 714.3L613.4 715.1L614.4 715.9L615.4 716.6L616.4 717.4L617.4 718.1L618.4 718.8L619.4 719.5L620.4 720.2L621.4 720.8L622.4 721.5L623.4 722.1L624.4 722.8L625.4 723.4L626.4 724.0L627.4 724.6L628.4 725.2L629.4 725.8L630.4 726.4L631.4 726.9L632.4 727.5L633.4 728.0L634.4 728.6L635.4 729.1L636.4 729.6L637.4 730.1L638.4 730.6L639.4 731.1L640.4 731.6L641.4 732.1L642.4 732.6L643.4 733.0L644.4 733.5L645.4 733.9L646.4 734.4L647.4 734.8L648.4 735.3L649.4 735.7L650.4 736.1L651.4 736.5L652.4 736.9L653.4 737.3L654.4 737.7L655.4 738.1L656.4 738.5L657.4 738.9L658.4 739.3L659.4 739.6L660.4 740.0L661.4 740.4L662.4 740.7L663.4 741.1L664.4 741.5L665.4 741.8L666.4 742.2L667.4 742.5L668.4 742.8L669.4 743.2L670.4 743.5L671.4 743.9L672.4 744.2L673.4 744.5L674.4 744.9L675.4 745.2L676.4 745.5L677.4 745.9L678.4 746.2L679.4 746.5L680.4 746.8L681.4 747.2L682.4 747.5L683.4 747.8L684.4 748.1L685.4 748.4L686.4 748.7L687.4 749.0L688.4 749.3L689.4 749.6L690.4 749.9L691.4 750.2L692.4 750.5L693.4 750.8L694.4 751.1L695.4 751.4L696.4 751.6L697.4 751.9L698.4 752.2L699.4 752.5L700.4 752.8L701.4 753.1L702.4 753.4L703.4 753.7L704.4 754.0L705.4 754.3L706.4 754.6L707.4 754.9L708.4 755.1L709.4 755.4L710.4 755.7L711.4 756.0L712.4 756.3L713.4 756.6L714.4 756.9L715.4 757.1L716.4 757.4L717.4 757.7L718.4 758.0L719.4 758.2L720.4 758.5L721.4 758.8L722.4 759.1L723.4 759.3L724.4 759.6L725.4 759.8L726.4 760.1L727.4 760.4L728.4 760.6L729.4 760.9L730.4 761.1L731.4 761.4L732.4 761.7L733.4 761.9L734.4 762.2L735.4 762.4L736.4 762.7L737.4 762.9L738.4 763.2L739.4 763.5L740.4 763.7L741.4 764.0L742.4 764.2L743.4 764.5L744.4 764.7L745.4 765.0L746.4 765.3L747.4 765.5L748.4 765.8L749.4 766.1L750.4 766.3L751.4 766.6L752.4 766.9L753.4 767.2L754.4 767.4L755.4 767.7L756.4 768.0L757.4 768.3L758.4 768.6L759.4 768.9L760.4 769.2L761.4 769.5L762.4 769.8L763.4 770.1L764.4 770.4L765.4 770.7L766.4 771.0L767.4 771.3L768.4 771.6L769.4 772.0L770.4 772.3L771.4 772.7L772.4 773.1L773.4 773.5L774.4 773.9L775.4 774.3L776.4 774.7L777.4 775.1L778.4 775.4L779.4 775.8L780.4 776.1L781.4 776.5L782.4 776.8L783.4 777.0L784.4 776.2L785.4 774.0L786.4 771.0L787.4 767.0L788.4 761.5L789.4 755.4L790.4 748.5L791.4 741.1L792.4 734.4L793.4 727.5L794.4 721.0L795.4 716.9L796.4 716.9L797.4 718.9L798.4 721.8L799.4 725.3L800.4 730.8L801.4 736.5L802.4 741.4L803.4 746.2L804.4 750.7L805.4 754.3L806.4 757.3L807.4 759.9L808.4 762.0L809.4 763.6L810.4 764.9L811.4 766.1L812.4 767.0L813.4 767.8L814.4 768.4L815.4 769.0L816.4 769.5L817.4 770.0L818.4 770.5L819.4 770.9L820.4 771.3L821.4 771.7L822.4 772.1L823.4 772.4L824.4 772.8L825.4 773.1L826.4 773.4L827.4 773.7L828.4 774.0L829.4 774.3L830.4 774.6L831.4 774.9L832.4 775.3L833.4 775.6L834.4 775.9L835.4 776.2L836.4 776.4L837.4 776.7L838.4 777.0L839.4 777.3L840.4 777.6L841.4 777.8L842.4 778.1L843.4 778.3L844.4 778.6L845.4 778.8L846.4 779.1L847.4 779.3L848.4 779.5L849.4 779.7L850.4 780.0L851.4 780.2L852.4 780.4L853.4 780.6L854.4 780.8L855.4 781.0L856.4 781.2L857.4 781.3L858.4 781.5L859.4 781.7L860.4 781.9L861.4 782.1L862.4 782.3L863.4 782.5L864.4 782.7L865.4 782.9L866.4 783.1L867.4 783.3L868.4 783.4L869.4 783.6L870.4 783.8L871.4 784.0L872.4 784.2L873.4 784.3L874.4 784.5L875.4 784.7L876.4 784.9L877.4 785.0L878.4 785.2L879.4 785.4L880.4 785.5L881.4 785.7L882.4 785.9L883.4 786.0L884.4 786.2L885.4 786.3L886.4 786.5L887.4 786.6L888.4 786.8L889.4 786.9L890.4 787.0L891.4 787.2L892.4 787.3L893.4 787.5L894.4 787.6L895.4 787.7L896.4 787.8L897.4 788.0L898.4 788.1L899.4 788.2L900.4 788.3L901.4 788.4L902.4 788.5L903.4 788.6L904.4 788.7L905.4 788.8L906.4 788.9L907.4 789.0L908.4 789.1L909.4 789.2L910.4 789.2L911.4 789.3L912.4 789.4" stroke="#0a9a48" stroke-width="5" stroke-linejoin="round" stroke-linecap="butt"/>
<path d="M192.8 925.8L195.0 906.9L197.2 935.3L199.4 939.1L201.6 924.6L203.8 910.7L206.0 910.6L208.2 944.2L210.4 908.1L212.6 947.6L214.8 908.4L217.0 942.3L219.2 913.3L221.4 934.5L223.6 919.8L225.8 947.5L228.0 949.8L230.2 919.5L232.4 939.8L234.6 915.8L236.8 948.5L239.0 934.0L241.2 923.7L243.4 913.1L245.6 936.8L247.8 914.1L250.0 948.5L252.2 920.9L254.4 936.8L256.6 912.6L258.8 952.5L261.0 918.9L263.2 938.4L265.4 909.5L267.6 941.9L269.8 908.1L272.0 938.0L274.2 942.6L276.4 918.7L278.6 944.6L280.8 908.0L283.0 948.1L285.2 925.8L287.4 908.7L289.6 924.4L291.8 948.2L294.0 908.1L296.2 909.0L298.4 914.0L300.6 917.1L302.8 948.4L305.0 947.5L307.2 915.6L309.4 934.7L311.6 915.3L311.8 923.3L312.0 908.2L312.2 926.5L312.4 922.0L312.6 913.1L312.8 917.2L313.0 925.0L313.2 944.2L313.4 920.4L313.6 931.8L313.8 930.2L314.0 931.2L314.2 918.3L314.4 919.0L314.6 922.6L314.8 910.7L315.0 942.2L315.2 921.6L315.4 943.7L315.6 936.5L315.8 945.3L316.0 937.0L316.2 907.6L316.4 928.3L316.6 931.5L316.8 926.2L317.0 921.1L317.2 949.8L317.4 933.0L317.6 944.7L317.8 942.3L318.0 931.4L318.2 932.7L318.4 950.6L318.6 904.2L318.8 938.0L319.0 909.6L319.2 910.1L319.4 921.3L319.6 914.1L319.8 921.1L320.0 920.7L320.2 947.4L320.4 932.9L320.6 929.9L320.8 933.3L321.0 947.8L321.2 915.7L321.4 943.8L321.6 924.9L321.8 939.7L322.0 939.7L322.2 940.5L322.4 921.7L322.6 928.9L322.8 910.0L323.0 921.3L323.2 925.3L323.4 932.6L323.6 936.8L323.8 936.6L324.0 941.8L324.2 944.8L324.4 943.9L324.6 911.8L324.8 940.2L325.0 941.1L325.2 944.1L325.4 934.0L325.6 915.6L325.8 930.7L326.0 949.3L326.2 921.1L326.4 911.6L326.6 917.8L326.8 947.8L327.0 918.6L327.2 919.9L327.4 928.4L327.6 915.9L327.8 941.9L328.0 950.0L328.2 909.2L328.4 941.5L328.6 940.1L328.8 903.4L329.0 949.7L329.2 934.0L329.4 952.5L329.6 926.9L329.8 927.2L330.0 914.7L330.2 925.6L330.4 927.1L330.6 921.3L330.8 909.6L331.0 939.6L331.2 951.2L331.4 930.8L331.6 927.9L331.8 933.9L332.0 913.3L332.2 921.7L332.4 944.1L332.6 945.1L332.8 916.1L333.0 951.0L333.2 905.5L333.4 946.8L333.6 920.0L333.8 904.6L334.0 917.1L334.2 919.4L334.4 920.0L334.6 935.9L334.8 923.1L335.0 911.3L335.2 927.1L335.4 926.1L335.6 926.4L335.8 923.7L336.0 920.2L336.2 928.5L336.4 951.8L336.6 937.5L336.8 918.0L337.0 932.8L337.2 943.8L337.4 926.3L337.6 940.9L337.8 923.8L338.0 910.7L338.2 920.9L338.4 937.8L338.6 909.7L338.8 946.7L339.0 949.9L339.2 928.7L339.4 946.3L339.6 937.7L339.8 938.7L340.0 905.1L340.2 925.3L340.4 918.5L340.6 940.0L340.8 927.2L341.0 908.4L341.2 921.7L341.4 928.8L341.6 924.3L341.8 913.0L342.0 918.7L342.2 925.3L342.4 927.8L342.6 930.3L342.8 923.1L343.0 902.4L343.2 939.2L343.4 919.4L343.6 939.7L343.8 931.3L344.0 938.6L344.2 910.1L344.4 910.0L344.6 934.2L344.8 930.6L345.0 921.3L345.2 914.9L345.4 905.3L345.6 908.1L345.8 928.0L346.0 918.2L346.2 921.7L346.4 905.8L346.6 936.6L346.8 912.3L347.0 905.1L347.2 905.2L347.4 924.8L347.6 925.7L347.8 922.2L348.0 898.4L348.2 919.5L348.4 913.7L348.6 917.3L348.8 921.8L349.0 897.8L349.2 903.1L349.4 899.0L349.6 898.7L349.8 899.4L350.0 898.8L350.2 909.7L350.4 897.9L350.6 912.0L350.8 915.8L351.0 912.4L351.2 912.3L351.4 912.1L351.6 906.8L351.8 906.9L352.0 894.6L352.2 896.8L352.4 891.2L352.6 905.6L352.8 900.9L353.0 889.2L353.2 886.7L353.4 894.1L353.6 899.0L353.8 903.2L354.0 894.1L354.2 888.1L354.4 895.5L354.6 900.6L354.8 895.8L355.0 885.2L355.2 889.8L355.4 883.4L355.6 890.7L355.8 893.8L356.0 889.8L356.2 889.7L356.4 881.9L356.6 886.9L356.8 877.7L357.0 885.5L357.2 888.4L357.4 876.8L357.6 884.0L357.8 876.9L358.0 874.9L358.2 884.5L358.4 876.6L358.6 880.8L358.8 881.5L359.0 881.4L359.2 878.7L359.4 873.1L359.6 882.1L359.8 875.5L360.0 874.0L360.2 877.1L360.4 871.3L360.6 879.0L360.8 875.9L361.0 873.3L361.2 871.3L361.4 873.7L361.6 872.5L361.8 870.1L362.0 868.8L362.2 870.4L362.4 870.9L362.6 872.1L362.8 871.6L363.0 875.9L363.2 872.8L363.4 870.2L363.6 867.7L363.8 867.8L364.0 869.9L364.2 872.6L364.4 867.7L364.6 877.7L364.8 876.5L365.0 879.7L365.2 874.9L365.4 873.6L365.6 872.9L365.8 873.0L366.0 872.0L366.2 870.6L366.4 872.7L366.6 879.2L366.8 875.8L367.0 870.0L367.2 874.5L367.4 875.0L367.6 872.0L367.8 875.6L368.0 874.9L368.2 872.7L368.4 879.7L368.6 871.0L368.8 876.3L369.0 877.8L369.2 882.8L369.4 874.1L369.6 871.5L369.8 874.9L370.0 881.2L370.2 875.1L370.4 876.7L370.6 874.4L370.8 879.7L371.0 883.7L371.2 877.7L371.4 874.3L371.6 886.4L371.8 880.8L372.0 876.9L372.2 878.1L372.4 882.1L372.6 886.2L372.8 880.8L373.0 879.2L373.2 883.2L373.4 882.0L373.6 880.3L373.8 888.0L374.0 883.7L374.2 890.0L374.4 886.0L374.6 881.1L374.8 885.7L375.0 880.4L375.2 880.6L375.4 894.4L375.6 894.5L375.8 885.9L376.0 883.1L376.2 888.1L376.4 888.6L376.6 881.4L376.8 891.2L377.0 889.9L377.2 891.7L377.4 886.8L377.6 892.4L377.8 897.1L378.0 894.4L378.2 888.4L378.4 900.1L378.6 898.1L378.8 887.7L379.0 894.2L379.2 892.8L379.4 892.7L379.6 895.8L379.8 902.7L380.0 887.4L380.2 897.7L380.4 896.8L380.6 897.7L380.8 903.1L381.0 898.8L381.2 898.9L381.4 898.7L381.6 904.1L381.8 891.5L382.0 899.4L382.2 901.4L382.4 910.6L382.6 897.7L382.8 906.9L383.0 906.6L383.2 890.4L383.4 900.2L383.6 896.8L383.8 896.9L384.0 896.1L384.2 896.8L384.4 917.0L384.6 921.1L384.8 903.1L385.0 914.4L385.2 900.0L385.4 925.3L385.6 905.0L385.8 912.7L386.0 911.0L386.2 922.8L386.4 902.9L386.6 915.0L386.8 908.6L387.0 909.8L387.2 913.0L387.4 907.2L387.6 904.6L387.8 907.9L388.0 932.1L388.2 913.0L388.4 922.6L388.6 904.3L388.8 911.9L389.0 927.7L389.2 916.1L389.4 919.1L389.6 935.8L389.8 923.4L390.0 935.9L390.2 902.6L390.4 944.0L390.6 938.4L390.8 920.7L391.0 921.7L391.2 905.1L391.4 938.3L391.6 910.0L391.8 937.7L392.0 915.7L392.2 914.5L392.4 941.0L392.6 918.0L392.8 924.5L393.0 906.1L393.2 926.0L393.4 911.0L393.6 920.4L393.8 924.1L394.0 928.7L394.2 929.3L394.4 940.9L394.6 926.9L394.8 938.1L395.0 915.0L395.2 911.1L395.4 931.7L395.6 914.5L395.8 945.4L396.0 906.6L396.2 938.1L396.4 939.8L396.6 920.7L396.8 925.4L397.0 939.4L397.2 938.7L397.4 903.5L397.6 911.2L397.8 943.4L398.0 928.4L398.2 940.3L398.4 943.5L398.6 948.8L398.8 909.0L399.0 938.7L399.2 935.2L399.4 915.4L399.6 940.0L399.8 926.2L400.0 933.1L400.2 938.6L400.4 928.1L400.6 906.6L400.8 926.9L401.0 928.5L401.2 919.8L401.4 921.8L401.6 922.2L401.8 924.9L402.0 924.6L402.2 941.7L402.4 923.9L402.6 928.8L402.8 919.8L403.0 931.0L403.2 940.6L403.4 919.8L403.6 924.6L403.8 940.8L404.0 930.0L404.2 920.3L404.4 913.2L404.6 927.8L404.8 910.0L405.0 942.7L405.2 942.8L405.4 908.5L405.6 925.2L405.8 907.7L406.0 940.1L406.2 935.7L406.4 946.1L406.6 940.4L406.8 935.5L407.0 921.8L407.2 935.7L407.4 932.4L407.6 928.7L407.8 928.9L408.0 938.0L408.2 918.7L408.4 943.1L408.6 921.3L408.8 947.8L409.0 914.0L409.2 942.8L409.4 920.5L409.6 928.1L409.8 917.6L410.0 932.4L410.2 919.1L410.4 930.7L410.6 930.9L410.8 933.2L411.0 931.4L411.2 933.1L411.4 911.8L411.6 921.0L411.8 920.1L412.0 937.6L412.2 918.8L412.4 930.8L412.6 922.9L412.8 933.2L413.0 912.8L413.2 937.3L413.4 936.1L413.6 922.3L413.8 916.4L414.0 918.9L414.2 919.8L414.4 904.9L414.6 950.6L414.8 907.6L415.0 929.8L415.2 910.6L415.4 919.5L415.6 914.6L415.8 930.0L416.0 900.8L416.2 930.2L416.4 944.9L416.6 921.1L416.8 907.0L417.0 931.1L417.2 935.9L417.4 915.5L417.6 918.7L417.8 935.6L418.0 921.9L418.2 908.2L418.4 925.9L418.6 938.5L418.8 928.4L419.0 929.8L419.2 915.5L419.4 917.8L419.6 928.0L419.8 927.2L420.0 905.5L420.2 938.4L420.4 919.4L420.6 922.9L420.8 941.3L421.0 912.3L421.2 907.2L421.4 930.2L421.6 937.2L421.8 915.0L422.0 942.0L422.2 941.8L422.4 923.8L422.6 927.5L422.8 939.8L423.0 927.7L423.2 910.0L423.4 914.8L423.6 922.7L423.8 924.7L424.0 903.4L424.2 919.5L424.4 935.5L424.6 911.3L424.8 932.1L425.0 916.8L425.2 916.3L425.4 930.1L425.6 928.3L425.8 907.4L426.0 921.0L426.2 936.6L426.4 934.2L426.6 903.4L426.8 913.5L427.0 931.0L427.2 933.5L427.4 934.1L427.6 921.6L427.8 937.9L428.0 913.8L428.2 920.4L428.4 914.1L428.6 929.9L428.8 904.8L429.0 930.8L429.2 918.8L429.4 916.1L429.6 912.9L429.8 919.6L430.0 907.9L430.2 921.3L430.4 927.5L430.6 910.3L430.8 915.1L431.0 938.7L431.2 936.3L431.4 934.7L431.6 923.9L431.8 913.9L432.0 937.8L432.2 918.7L432.4 902.3L432.6 929.8L432.8 916.9L433.0 904.8L433.2 907.8L433.4 905.8L433.6 908.6L433.8 905.3L434.0 914.8L434.2 910.3L434.4 932.0L434.6 936.7L434.8 932.2L435.0 907.4L435.2 909.4L435.4 909.4L435.6 906.4L435.8 903.6L436.0 906.1L436.2 933.4L436.4 920.6L436.6 910.9L436.8 908.7L437.0 929.7L437.2 909.7L437.4 929.0L437.6 904.8L437.8 938.5L438.0 918.3L438.2 919.1L438.4 910.7L438.6 926.7L438.8 909.7L439.0 929.7L439.2 918.8L439.4 912.0L439.6 905.1L439.8 912.0L440.0 914.5L440.2 915.1L440.4 918.4L440.6 908.0L440.8 916.3L441.0 919.8L441.2 919.2L441.4 910.2L441.6 927.2L441.8 914.6L442.0 925.4L442.2 897.2L442.4 922.6L442.6 910.9L442.8 918.0L443.0 925.5L443.2 908.7L443.4 926.0L443.6 925.6L443.8 913.6L444.0 926.5L444.2 909.7L444.4 916.6L444.6 908.4L444.8 925.2L445.0 929.8L445.2 905.6L445.4 904.4L445.6 913.9L445.8 927.9L446.0 926.0L446.2 916.5L446.4 916.1L446.6 920.0L446.8 928.2L447.0 904.6L447.2 919.5L447.4 909.9L447.6 911.9L447.8 923.2L448.0 924.2L448.2 903.6L448.4 897.0L448.6 899.2L448.8 909.4L449.0 901.6L449.2 907.0L449.4 902.8L449.6 916.0L449.8 917.3L450.0 924.5L450.2 903.0L450.4 905.4L450.6 897.2L450.8 898.3L451.0 895.0L451.2 920.7L451.4 904.3L451.6 914.2L451.8 921.3L452.0 910.2L452.2 906.0L452.4 917.4L452.6 913.9L452.8 902.3L453.0 899.0L453.2 898.1L453.4 907.0L453.6 906.2L453.8 901.9L454.0 923.0L454.2 910.5L454.4 913.3L454.6 899.8L454.8 905.2L455.0 908.7L455.2 903.1L455.4 905.9L455.6 904.4L455.8 906.1L456.0 910.4L456.2 912.8L456.4 903.9L456.6 894.9L456.8 910.7L457.0 906.9L457.2 913.2L457.4 907.8L457.6 912.0L457.8 894.5L458.0 909.0L458.2 905.1L458.4 903.6L458.6 891.5L458.8 899.1L459.0 900.5L459.2 895.9L459.4 897.1L459.6 901.8L459.8 903.1L460.0 901.1L460.2 907.9L460.4 902.9L460.6 899.8L460.8 902.7L461.0 894.5L461.2 903.0L461.4 898.7L461.6 896.8L461.8 908.2L462.0 907.2L462.2 901.0L462.4 910.4L462.6 899.4L462.8 891.8L463.0 907.0L463.2 907.5L463.4 899.0L463.6 911.7L463.8 890.1L464.0 903.5L464.2 899.7L464.4 909.8L464.6 902.8L464.8 889.6L465.0 904.1L465.2 907.1L465.4 905.1L465.6 903.5L465.8 887.0L466.0 905.3L466.2 903.8L466.4 897.8L466.6 896.2L466.8 906.6L467.0 902.8L467.2 906.9L467.4 902.2L467.6 895.5L467.8 903.0L468.0 887.5L468.2 903.9L468.4 895.4L468.6 907.1L468.8 900.2L469.0 899.8L469.2 902.7L469.4 905.7L469.6 895.0L469.8 894.9L470.0 894.1L470.2 900.2L470.4 890.8L470.6 893.3L470.8 897.6L471.0 900.9L471.2 894.6L471.4 899.2L471.6 903.0L471.8 903.6L472.0 902.4L472.2 894.9L472.4 900.2L472.6 901.2L472.8 892.0L473.0 886.8L473.2 889.6L473.4 887.2L473.6 901.2L473.8 905.5L474.0 892.9L474.2 891.6L474.4 885.0L474.6 885.0L474.8 889.8L475.0 892.6L475.2 889.9L475.4 899.3L475.6 887.7L475.8 897.0L476.0 891.7L476.2 887.1L476.4 900.1L476.6 884.9L476.8 899.4L477.0 903.1L477.2 896.5L477.4 888.2L477.6 897.0L477.8 885.4L478.0 896.8L478.2 902.3L478.4 888.6L478.6 885.2L478.8 897.6L479.0 886.2L479.2 896.0L479.4 885.1L479.6 894.5L479.8 898.4L480.0 898.2L480.2 893.1L480.4 890.7L480.6 893.2L480.8 890.9L481.0 899.2L481.2 885.5L481.4 883.6L481.6 886.2L481.8 886.3L482.0 887.8L482.2 893.6L482.4 887.1L482.6 891.0L482.8 892.3L483.0 895.3L483.2 881.4L483.4 883.8L483.6 887.2L483.8 883.5L484.0 892.4L484.2 894.0L484.4 885.8L484.6 890.2L484.8 883.4L485.0 888.0L485.2 897.1L485.4 891.2L485.6 894.3L485.8 894.5L486.0 895.6L486.2 882.8L486.4 894.4L486.6 894.2L486.8 888.1L487.0 885.9L487.2 890.8L487.4 885.2L487.6 888.2L487.8 882.4L488.0 880.8L488.2 887.7L488.4 882.6L488.6 881.1L488.8 893.1L489.0 890.8L489.2 891.2L489.4 893.6L489.6 884.1L489.8 886.2L490.0 893.3L490.2 883.9L490.4 885.9L490.6 890.1L490.8 887.3L491.0 878.0L491.2 888.0L491.4 882.4L491.6 889.1L491.8 881.4L492.0 886.2L492.2 880.2L492.4 878.9L492.6 881.1L492.8 877.9L493.0 887.1L493.2 882.7L493.4 889.6L493.6 876.9L493.8 878.6L494.0 879.7L494.2 881.4L494.4 886.6L494.6 883.6L494.8 887.1L495.0 888.8L495.2 886.5L495.4 874.6L495.6 879.6L495.8 880.1L496.0 886.8L496.2 884.2L496.4 878.3L496.6 877.4L496.8 887.1L497.0 884.2L497.2 884.6L497.4 886.8L497.6 878.6L497.8 877.0L498.0 885.4L498.2 872.2L498.4 879.8L498.6 879.5L498.8 885.5L499.0 880.8L499.2 876.9L499.4 880.5L499.6 884.8L499.8 871.3L500.0 880.5L500.2 883.0L500.4 878.1L500.6 876.0L500.8 875.7L501.0 876.1L501.2 882.4L501.4 881.9L501.6 875.4L501.8 874.7L502.0 880.1L502.2 873.2L502.4 881.2L502.6 878.1L502.8 880.3L503.0 881.1L503.2 872.9L503.4 874.3L503.6 877.4L503.8 877.5L504.0 876.4L504.2 879.1L504.4 878.1L504.6 867.4L504.8 874.1L505.0 877.3L505.2 872.8L505.4 874.3L505.6 879.5L505.8 872.7L506.0 875.2L506.2 876.1L506.4 874.4L506.6 871.4L506.8 871.4L507.0 871.9L507.2 868.1L507.4 867.3L507.6 874.6L507.8 868.1L508.0 868.6L508.2 865.8L508.4 869.9L508.6 872.0L508.8 865.1L509.0 873.4L509.2 866.6L509.4 870.1L509.6 872.1L509.8 869.9L510.0 871.6L510.2 869.9L510.4 868.7L510.6 865.7L510.8 866.6L511.0 872.9L511.2 865.6L511.4 862.8L511.6 868.7L511.8 869.3L512.0 864.0L512.2 868.4L512.4 870.2L512.6 862.0L512.8 862.8L513.0 867.9L513.2 868.7L513.4 865.0L513.6 867.4L513.8 859.9L514.0 859.9L514.2 866.1L514.4 859.8L514.6 865.2L514.8 865.1L515.0 866.3L515.2 860.0L515.4 861.2L515.6 863.0L515.8 858.5L516.0 859.3L516.2 862.8L516.4 860.0L516.6 860.5L516.8 862.7L517.0 859.3L517.2 860.7L517.4 861.1L517.6 862.5L517.8 857.8L518.0 855.2L518.2 857.0L518.4 857.1L518.6 854.8L518.8 858.3L519.0 858.0L519.2 856.6L519.4 857.9L519.6 855.4L519.8 858.1L520.0 856.3L520.2 856.6L520.4 854.0L520.6 858.6L520.8 852.8L521.0 851.2L521.2 855.6L521.4 855.2L521.6 851.3L521.8 855.3L522.0 850.9L522.2 854.0L522.4 855.1L522.6 854.1L522.8 849.3L523.0 852.4L523.2 849.3L523.4 852.6L523.6 848.4L523.8 852.4L524.0 847.2L524.2 851.4L524.4 852.3L524.6 851.5L524.8 849.1L525.0 850.5L525.2 846.8L525.4 847.3L525.6 844.1L525.8 844.3L526.0 847.6L526.2 847.3L526.4 843.5L526.6 843.5L526.8 844.8L527.0 844.8L527.2 843.0L527.4 843.8L527.6 843.3L527.8 841.8L528.0 843.4L528.2 844.2L528.4 844.9L528.6 842.0L528.8 840.5L529.0 843.1L529.2 838.7L529.4 840.7L529.6 840.4L529.8 839.3L530.0 839.7L530.2 840.3L530.4 838.7L530.6 840.5L530.8 840.0L531.0 836.8L531.2 838.6L531.4 839.1L531.6 835.2L531.8 836.5L532.0 834.4L532.2 837.3L532.4 836.3L532.6 832.5L532.8 835.1L533.0 835.7L533.2 831.9L533.4 832.9L533.6 832.8L533.8 833.6L534.0 831.0L534.2 833.6L534.4 831.2L534.6 831.6L534.8 831.3L535.0 828.8L535.2 828.0L535.4 827.8L535.6 828.5L535.8 828.6L536.0 827.2L536.2 828.8L536.4 828.2L536.6 827.8L536.8 827.2L537.0 826.5L537.2 824.8L537.4 824.8L537.6 826.1L537.8 824.0L538.0 822.6L538.2 824.0L538.4 823.3L538.6 822.7L538.8 820.2L539.0 822.9L539.2 821.2L539.4 819.5L539.6 818.7L539.8 818.9L540.0 818.5L540.2 818.6L540.4 818.3L540.6 816.5L540.8 816.9L541.0 815.8L541.2 814.4L541.4 814.4L541.6 814.5L541.8 812.7L542.0 813.3L542.2 813.0L542.4 812.2L542.6 810.7L542.8 809.0L543.0 809.7L543.2 808.7L543.4 805.9L543.6 805.7L543.8 805.5L544.0 803.7L544.2 802.3L544.4 801.5L544.6 800.8L544.8 800.4L545.0 799.9L545.2 798.4L545.4 797.1L545.6 795.7L545.8 795.0L546.0 792.9L546.2 792.2L546.4 791.3L546.6 790.2L546.8 788.2L547.0 786.6L547.2 785.9L547.4 783.7L547.6 783.2L547.8 780.5L548.0 778.9L548.2 777.1L548.4 775.6L548.6 773.3L548.8 771.7L549.0 769.7L549.2 767.2L549.4 765.9L549.6 763.4L549.8 761.5L550.0 760.0L550.2 758.3L550.4 756.9L550.6 755.6L550.8 753.7L551.0 752.9L551.2 751.6L551.4 750.5L551.6 749.6L551.8 748.6L552.0 747.9L552.2 746.6L552.4 745.9L552.6 745.0L552.8 744.2L553.0 743.2L553.2 742.4L553.4 741.6L553.6 740.8L553.8 739.8L554.0 739.4L554.2 738.6L554.4 737.8L554.6 737.2L554.8 736.6L555.0 736.0L555.2 735.5L555.4 734.8L555.6 734.4L555.8 734.1L556.0 733.2L556.2 733.2L556.4 732.6L556.6 732.2L556.8 731.7L557.0 731.4L557.2 730.9L557.4 730.6L557.6 730.4L557.8 730.1L558.0 729.6L558.2 729.4L558.4 729.2L558.6 729.0L558.8 728.5L559.0 728.4L559.2 728.3L559.4 728.1L559.6 728.0L559.8 727.9L560.0 727.5L560.2 727.4L560.4 727.2L560.6 727.3L560.8 726.9L561.0 727.1L561.2 726.7L561.4 726.9L561.6 726.5L561.8 726.7L562.0 726.6L562.2 726.6L562.4 726.5L562.6 726.8L562.8 726.7L563.0 727.0L563.2 727.0L563.4 727.4L563.6 727.4L563.8 727.7L564.0 727.9L564.2 728.0L564.4 728.5L564.6 728.7L564.8 728.8L565.0 728.9L565.2 729.2L565.4 729.4L565.6 729.7L565.8 730.2L566.0 730.5L566.2 731.0L566.4 731.2L566.6 732.0L566.8 732.5L567.0 732.7L567.2 733.3L567.4 733.9L567.6 734.5L567.8 735.3L568.0 735.6L568.2 736.4L568.4 737.2L568.6 738.0L568.8 738.3L569.0 739.2L569.2 739.8L569.4 740.6L569.6 741.5L569.8 742.1L570.0 743.1L570.2 744.1L570.4 745.3L570.6 746.6L570.8 748.0L571.0 748.9L571.2 750.2L571.4 751.8L571.6 753.1L571.8 754.5L572.0 756.3L572.2 757.6L572.4 759.4L572.6 760.5L572.8 762.1L573.0 763.3L573.2 764.8L573.4 765.8L573.6 767.2L573.8 768.6L574.0 769.9L574.2 771.4L574.4 772.8L574.6 773.7L574.8 775.2L575.0 777.0L575.2 778.5L575.4 780.0L575.6 781.3L575.8 782.5L576.0 783.5L576.2 784.5L576.4 786.3L576.6 786.9L576.8 788.3L577.0 790.7L577.2 791.6L577.4 793.0L577.6 794.1L577.8 795.4L578.0 796.4L578.2 797.8L578.4 798.3L578.6 799.4L578.8 800.6L579.0 800.8L579.2 802.4L579.4 803.2L579.6 805.2L579.8 805.8L580.0 806.8L580.2 808.6L580.4 807.8L580.6 809.6L580.8 810.1L581.0 812.6L581.2 811.8L581.4 813.0L581.6 813.4L581.8 814.2L582.0 817.1L582.2 816.2L582.4 818.8L582.6 819.0L582.8 819.2L583.0 818.4L583.2 820.9L583.4 819.9L583.6 822.0L583.8 821.8L584.0 822.4L584.2 824.1L584.4 825.5L584.6 825.1L584.8 825.8L585.0 827.2L585.2 825.7L585.4 827.4L585.6 826.2L585.8 826.5L586.0 830.8L586.2 829.9L586.4 831.8L586.6 831.5L586.8 830.6L587.0 833.0L587.2 830.8L587.4 831.1L587.6 831.6L587.8 834.8L588.0 832.3L588.2 835.2L588.4 833.8L588.6 837.3L588.8 836.3L589.0 836.1L589.2 839.7L589.4 836.7L589.6 840.6L589.8 837.9L590.0 840.1L590.2 841.0L590.4 839.9L590.6 842.5L590.8 842.3L591.0 840.1L591.2 843.0L591.4 841.0L591.6 843.8L591.8 841.6L592.0 845.0L592.2 843.2L592.4 844.6L592.6 846.4L592.8 843.3L593.0 846.0L593.2 846.5L593.4 848.2L593.6 846.6L593.8 844.1L594.0 847.8L594.2 847.9L594.4 845.3L594.6 848.5L594.8 848.9L595.0 849.2L595.2 847.1L595.4 850.2L595.6 847.6L595.8 853.0L596.0 852.1L596.2 851.1L596.4 851.7L596.6 850.4L596.8 853.1L597.0 853.6L597.2 848.9L597.4 854.2L597.6 851.3L597.8 855.9L598.0 855.5L598.2 852.4L598.4 854.4L598.6 850.8L598.8 851.0L599.0 855.5L599.2 857.2L599.4 853.1L599.6 853.0L599.8 854.9L600.0 855.6L600.2 854.8L600.4 856.1L600.6 857.4L600.8 858.0L601.0 853.4L601.2 856.3L601.4 858.4L601.6 855.5L601.8 861.1L602.0 858.2L602.2 858.6L602.4 862.5L602.6 861.0L602.8 859.5L603.0 859.5L603.2 859.5L603.4 861.7L603.6 859.5L603.8 858.5L604.0 858.6L604.2 860.6L604.4 857.9L604.6 859.9L604.8 864.3L605.0 861.4L605.2 858.4L605.4 865.2L605.6 863.0L605.8 861.1L606.0 863.9L606.2 866.0L606.4 861.5L606.6 861.5L606.8 861.3L607.0 865.5L607.2 864.7L607.4 868.8L607.6 868.6L607.8 862.7L608.0 864.3L608.2 860.6L608.4 867.2L608.6 861.3L608.8 867.2L609.0 866.0L609.2 871.5L609.4 869.6L609.6 865.5L609.8 863.7L610.0 866.1L610.2 867.0L610.4 869.3L610.6 864.2L610.8 866.5L611.0 873.0L611.2 866.2L611.4 865.9L611.6 871.2L611.8 874.5L612.0 868.8L612.2 867.5L612.4 867.7L612.6 868.2L612.8 866.3L613.0 870.0L613.2 875.0L613.4 866.8L613.6 873.4L613.8 870.4L614.0 874.5L614.2 873.1L614.4 871.5L614.6 871.3L614.8 870.1L615.0 872.9L615.2 870.1L615.4 877.1L615.6 878.5L615.8 876.7L616.0 878.7L616.2 873.4L616.4 874.0L616.6 871.1L616.8 878.1L617.0 876.2L617.2 877.1L617.4 880.1L617.6 879.3L617.8 878.5L618.0 873.9L618.2 873.9L618.4 871.4L618.6 878.2L618.8 878.8L619.0 870.7L619.2 883.3L619.4 873.6L619.6 875.4L619.8 876.8L620.0 873.1L620.2 872.4L620.4 875.5L620.6 877.7L620.8 878.0L621.0 882.3L621.2 879.6L621.4 876.1L621.6 884.2L621.8 882.4L622.0 877.4L622.2 874.0L622.4 886.2L622.6 880.1L622.8 884.4L623.0 872.5L623.2 886.0L623.4 877.0L623.6 876.4L623.8 886.3L624.0 879.7L624.2 877.1L624.4 882.0L624.6 879.9L624.8 879.1L625.0 888.5L625.2 878.1L625.4 885.0L625.6 888.1L625.8 880.5L626.0 879.4L626.2 876.6L626.4 883.7L626.6 881.3L626.8 880.4L627.0 883.0L627.2 886.3L627.4 889.4L627.6 883.6L627.8 887.9L628.0 892.1L628.2 882.9L628.4 880.4L628.6 878.7L628.8 881.5L629.0 888.0L629.2 887.6L629.4 888.6L629.6 887.9L629.8 889.1L630.0 887.8L630.2 882.4L630.4 881.4L630.6 892.4L630.8 891.0L631.0 895.3L631.2 886.1L631.4 897.4L631.6 888.6L631.8 881.4L632.0 897.7L632.2 890.1L632.4 892.7L632.6 891.8L632.8 883.3L633.0 895.4L633.2 880.6L633.4 891.0L633.6 891.4L633.8 891.3L634.0 884.4L634.2 895.6L634.4 891.1L634.6 892.9L634.8 896.5L635.0 886.5L635.2 895.4L635.4 887.6L635.6 893.7L635.8 899.8L636.0 890.6L636.2 896.9L636.4 894.9L636.6 888.2L636.8 891.2L637.0 888.7L637.2 897.3L637.4 893.9L637.6 892.6L637.8 887.5L638.0 897.8L638.2 895.5L638.4 889.4L638.6 901.4L638.8 901.9L639.0 890.6L639.2 904.9L639.4 899.3L639.6 900.5L639.8 896.0L640.0 896.3L640.2 897.7L640.4 897.3L640.6 887.9L640.8 900.1L641.0 890.4L641.2 896.1L641.4 890.0L641.6 895.4L641.8 906.1L642.0 892.1L642.2 903.6L642.4 903.9L642.6 896.2L642.8 897.0L643.0 893.4L643.2 889.3L643.4 888.5L643.6 899.9L643.8 903.1L644.0 892.3L644.2 901.0L644.4 906.4L644.6 896.7L644.8 896.6L645.0 897.5L645.2 890.2L645.4 900.5L645.6 908.7L645.8 896.6L646.0 908.1L646.2 910.7L646.4 890.5L646.6 908.5L646.8 908.7L647.0 892.5L647.2 889.8L647.4 898.7L647.6 903.8L647.8 915.9L648.0 895.9L648.2 895.3L648.4 910.7L648.6 893.3L648.8 906.2L649.0 897.8L649.2 910.9L649.4 910.4L649.6 911.3L649.8 903.5L650.0 909.5L650.2 892.6L650.4 897.5L650.6 904.3L650.8 908.5L651.0 898.9L651.2 899.1L651.4 912.4L651.6 901.5L651.8 914.0L652.0 898.3L652.2 898.7L652.4 908.5L652.6 905.5L652.8 906.5L653.0 913.2L653.2 898.6L653.4 914.6L653.6 910.1L653.8 909.0L654.0 920.8L654.2 904.7L654.4 901.3L654.6 901.4L654.8 914.2L655.0 915.9L655.2 909.1L655.4 905.1L655.6 901.7L655.8 911.6L656.0 909.6L656.2 906.8L656.4 913.8L656.6 897.4L656.8 913.8L657.0 903.7L657.2 903.7L657.4 922.0L657.6 906.6L657.8 912.7L658.0 926.4L658.2 903.5L658.4 899.9L658.6 909.4L658.8 924.5L659.0 913.6L659.2 902.6L659.4 928.1L659.6 916.7L659.8 909.3L660.0 907.1L660.2 927.4L660.4 923.9L660.6 924.9L660.8 922.1L661.0 900.0L661.2 908.8L661.4 908.5L661.6 907.4L661.8 903.3L662.0 909.8L662.2 904.8L662.4 906.6L662.6 922.2L662.8 908.2L663.0 918.6L663.2 925.0L663.4 909.2L663.6 928.4L663.8 914.7L664.0 911.9L664.2 901.3L664.4 921.7L664.6 922.5L664.8 928.0L665.0 930.9L665.2 900.7L665.4 921.3L665.6 934.8L665.8 909.6L666.0 924.3L666.2 928.4L666.4 925.2L666.6 929.8L666.8 933.0L667.0 914.6L667.2 930.8L667.4 927.5L667.6 918.2L667.8 922.6L668.0 912.2L668.2 919.5L668.4 932.1L668.6 924.1L668.8 929.8L669.0 908.2L669.2 919.8L669.4 928.2L669.6 938.0L669.8 929.2L670.0 909.9L670.2 899.8L670.4 914.8L670.6 916.7L670.8 929.5L671.0 932.6L671.2 929.4L671.4 931.7L671.6 917.6L671.8 918.4L672.0 933.8L672.2 922.8L672.4 935.2L672.6 906.1L672.8 920.0L673.0 925.1L673.2 933.4L673.4 915.8L673.6 936.1L673.8 929.6L674.0 929.1L674.2 933.5L674.4 924.3L674.6 920.2L674.8 932.0L675.0 910.9L675.2 915.3L675.4 943.2L675.6 920.5L675.8 927.1L676.0 918.9L676.2 908.8L676.4 932.1L676.6 907.7L676.8 919.7L677.0 942.0L677.2 935.1L677.4 938.2L677.6 906.1L677.8 918.2L678.0 913.0L678.2 914.2L678.4 936.8L678.6 917.8L678.8 910.6L679.0 930.0L679.2 936.9L679.4 918.7L679.6 912.4L679.8 926.1L680.0 936.1L680.2 938.5L680.4 923.8L680.6 932.2L680.8 942.0L681.0 927.0L681.2 932.5L681.4 931.6L681.6 936.4L681.8 916.9L682.0 936.0L682.2 924.1L682.4 913.4L682.6 944.9L682.8 907.4L683.0 925.7L683.2 930.9L683.4 939.1L683.6 942.0L683.8 917.2L684.0 935.0L684.2 910.3L684.4 907.3L684.6 923.1L684.8 918.1L685.0 939.9L685.2 918.0L685.4 929.9L685.6 936.1L685.8 937.4L686.0 923.3L686.2 914.4L686.4 921.2L686.6 919.9L686.8 941.9L687.0 918.4L687.2 917.8L687.4 919.2L687.6 930.5L687.8 945.3L688.0 939.3L688.2 943.2L688.4 944.0L688.6 941.6L688.8 915.0L689.0 911.0L689.2 919.6L689.4 910.0L689.6 921.0L689.8 939.6L690.0 918.8L690.2 922.3L690.4 904.6L690.6 937.7L690.8 924.9L691.0 908.6L691.2 942.6L691.4 934.6L691.6 930.9L691.8 914.8L692.0 913.5L692.2 913.4L692.4 934.6L692.6 936.2L692.8 929.5L693.0 942.8L693.2 932.4L693.4 904.4L693.6 915.3L693.8 921.8L694.0 912.6L694.2 920.1L694.4 947.6L694.6 939.4L694.8 917.7L695.0 931.5L695.2 936.9L695.4 942.4L695.6 922.4L695.8 917.0L696.0 941.9L696.2 918.4L696.4 913.3L696.6 906.1L696.8 940.4L697.0 925.3L697.2 936.5L697.4 938.0L697.6 935.5L697.8 927.5L698.0 947.5L698.2 921.5L698.4 934.5L698.6 909.9L698.8 937.2L699.0 913.6L699.2 950.2L699.4 909.9L699.6 929.7L699.8 907.7L700.0 949.2L700.2 921.9L700.4 934.7L700.6 921.5L700.8 947.3L701.0 921.2L701.2 920.9L701.4 912.6L701.6 926.1L701.8 938.5L702.0 918.6L702.2 939.7L702.4 902.5L702.6 941.1L702.8 946.3L703.0 949.7L703.2 937.7L703.4 928.7L703.6 925.2L703.8 940.5L704.0 926.0L704.2 942.3L704.4 934.8L704.6 909.0L704.8 923.3L705.0 947.4L705.2 915.7L705.4 944.5L705.6 938.1L705.8 950.8L706.0 942.3L706.2 935.5L706.4 934.4L706.6 951.1L706.8 914.8L707.0 933.7L707.2 908.3L707.4 934.1L707.6 910.4L707.8 943.6L708.0 919.4L708.2 919.3L708.4 914.0L708.6 930.7L708.8 934.3L709.0 931.8L709.2 936.5L709.4 931.1L709.6 914.4L709.8 921.2L710.0 921.7L710.2 922.4L710.4 936.2L710.6 921.0L710.8 914.9L711.0 941.8L711.2 920.6L711.4 940.3L711.6 928.4L711.8 942.9L712.0 915.5L712.2 951.3L712.4 925.7L712.6 923.3L712.8 927.9L713.0 940.6L713.2 915.2L713.4 949.0L713.6 945.8L713.8 922.7L714.0 907.1L714.2 950.8L714.4 935.0L714.6 907.8L714.8 945.1L715.0 920.6L715.2 929.6L715.4 932.2L715.6 948.6L715.8 950.4L716.0 909.8L716.2 931.9L716.4 928.5L716.6 910.5L716.8 931.4L717.0 943.9L717.2 930.4L717.4 930.2L717.6 934.6L717.8 939.8L718.0 935.0L718.2 913.8L718.4 934.6L718.6 937.3L718.8 911.4L719.0 938.9L719.2 952.2L719.4 917.6L719.6 929.3L719.8 943.8L720.0 925.2L720.2 912.4L720.4 914.7L720.6 926.2L720.8 913.2L721.0 948.4L721.2 924.5L721.4 944.5L721.6 925.1L721.8 949.7L722.0 909.8L722.2 928.2L722.4 909.6L722.6 936.6L722.8 912.8L723.0 935.3L723.2 926.4L723.4 936.6L723.6 947.7L723.8 933.5L724.0 930.2L724.2 918.3L724.4 925.9L724.6 946.7L724.8 946.0L725.0 949.6L725.2 927.9L725.4 906.7L725.6 916.9L725.8 933.9L726.0 920.8L726.2 928.7L726.4 916.7L726.6 914.8L726.8 924.6L727.0 929.9L727.2 932.9L727.4 925.9L727.6 914.5L727.8 912.4L728.0 915.5L728.2 919.8L728.4 921.8L728.6 910.0L728.8 925.4L729.0 915.5L729.2 927.4L729.4 948.2L729.6 941.4L729.8 932.5L730.0 914.4L730.2 940.8L730.4 931.6L730.6 917.9L730.8 924.7L731.0 908.8L731.2 910.3L731.4 941.4L731.6 911.6L731.8 948.0L732.0 946.2L732.2 925.4L732.4 941.0L732.6 914.3L732.8 948.4L733.0 948.5L733.2 952.1L733.4 929.8L733.6 949.4L733.8 915.9L734.0 943.7L734.2 940.7L734.4 922.0L734.6 919.2L734.8 942.3L735.0 934.5L735.2 943.5L735.4 942.0L735.6 935.9L735.8 910.4L736.0 915.8L736.2 924.3L736.4 923.9L736.6 920.7L736.8 925.6L737.0 945.0L737.2 930.0L737.4 929.7L737.6 938.2L737.8 936.6L738.0 947.2L738.2 936.7L738.4 941.7L738.6 911.2L738.8 931.3L739.0 926.5L739.2 932.1L739.4 909.9L739.6 937.6L739.8 928.5L740.0 931.1L740.2 919.5L740.4 929.1L740.6 913.9L740.8 947.5L741.0 951.1L741.2 926.8L741.4 949.0L741.6 932.5L741.8 908.2L742.0 947.6L742.2 942.9L742.4 943.4L742.6 928.6L742.8 943.5L743.0 939.9L743.2 952.2L743.4 920.8L743.6 913.8L743.8 922.2L744.0 925.5L744.2 918.2L744.4 917.7L744.6 907.6L744.8 919.7L745.0 923.4L745.2 940.0L745.4 942.9L745.6 936.5L745.8 934.9L746.0 928.2L746.2 913.9L746.4 925.0L746.6 912.5L746.8 930.3L747.0 924.6L747.2 929.9L747.4 938.8L747.6 910.3L747.8 926.7L748.0 907.1L748.2 923.5L748.4 930.5L748.6 908.8L748.8 932.1L749.0 924.6L749.2 907.0L749.4 925.3L749.6 904.0L749.8 900.8L750.0 913.2L750.2 919.5L750.4 910.2L750.6 910.0L750.8 901.1L751.0 894.6L751.2 914.7L751.4 911.9L751.6 912.5L751.8 911.3L752.0 895.3L752.2 901.3L752.4 888.8L752.6 897.7L752.8 891.6L753.0 899.4L753.2 893.9L753.4 887.5L753.6 894.2L753.8 882.7L754.0 890.0L754.2 887.2L754.4 885.6L754.6 878.0L754.8 881.8L755.0 881.7L755.2 887.4L755.4 874.8L755.6 878.0L755.8 880.1L756.0 883.6L756.2 875.1L756.4 874.3L756.6 873.7L756.8 874.2L757.0 878.4L757.2 869.2L757.4 873.9L757.6 872.7L757.8 873.6L758.0 866.6L758.2 872.5L758.4 868.9L758.6 868.2L758.8 869.6L759.0 865.2L759.2 865.9L759.4 863.8L759.6 868.8L759.8 865.5L760.0 865.3L760.2 870.3L760.4 869.8L760.6 871.9L760.8 866.7L761.0 869.9L761.2 869.7L761.4 868.4L761.6 873.3L761.8 875.5L762.0 876.2L762.2 874.2L762.4 867.1L762.6 871.7L762.8 875.6L763.0 872.7L763.2 872.7L763.4 870.9L763.6 876.2L763.8 878.3L764.0 870.6L764.2 872.2L764.4 878.1L764.6 879.2L764.8 878.4L765.0 879.2L765.2 876.2L765.4 871.0L765.6 881.6L765.8 877.0L766.0 875.1L766.2 875.0L766.4 877.0L766.6 883.2L766.8 876.2L767.0 874.1L767.2 887.0L767.4 877.9L767.6 883.3L767.8 881.6L768.0 882.4L768.2 884.5L768.4 882.9L768.6 883.8L768.8 879.7L769.0 882.5L769.2 880.9L769.4 878.8L769.6 888.0L769.8 879.0L770.0 883.9L770.2 884.4L770.4 890.9L770.6 891.7L770.8 889.9L771.0 892.7L771.2 884.0L771.4 890.7L771.6 893.5L771.8 889.3L772.0 891.2L772.2 887.0L772.4 887.3L772.6 894.8L772.8 895.9L773.0 890.3L773.2 900.7L773.4 888.0L773.6 888.8L773.8 894.9L774.0 888.5L774.2 889.9L774.4 896.8L774.6 896.6L774.8 885.0L775.0 888.3L775.2 892.6L775.4 887.4L775.6 901.2L775.8 893.0L776.0 892.0L776.2 891.9L776.4 900.1L776.6 895.7L776.8 895.2L777.0 897.0L777.2 897.9L777.4 898.7L777.6 898.8L777.8 907.0L778.0 897.6L778.2 908.8L778.4 891.4L778.6 902.4L778.8 889.2L779.0 901.5L779.2 899.3L779.4 900.3L779.6 913.5L779.8 898.9L780.0 892.3L780.2 893.0L780.4 900.9L780.6 913.4L780.8 909.1L781.0 907.6L781.2 902.0L781.4 909.9L781.6 908.2L781.8 893.0L782.0 898.1L782.2 901.1L782.4 896.6L782.6 904.9L782.8 907.0L783.0 894.9L783.2 902.9L783.4 907.0L783.6 907.2L783.8 907.7L784.0 908.8L784.2 919.5L784.4 898.6L784.6 915.5L784.8 914.6L785.0 908.7L785.2 926.4L785.4 921.8L785.6 919.9L785.8 907.1L786.0 901.8L786.2 905.9L786.4 922.2L786.6 902.6L786.8 923.7L787.0 918.1L787.2 928.0L787.4 905.2L787.6 920.3L787.8 903.0L788.0 932.2L788.2 909.0L788.4 930.8L788.6 908.5L788.8 912.9L789.0 935.1L789.2 910.0L789.4 901.9L789.6 907.6L789.8 917.3L790.0 915.9L790.2 915.1L790.4 911.3L790.6 926.6L790.8 928.7L791.0 928.5L791.2 936.7L791.4 918.5L791.6 920.2L791.8 912.0L792.0 915.1L794.2 937.9L796.4 930.3L798.6 921.9L800.8 935.1L803.0 922.9L805.2 911.1L807.4 945.7L809.6 922.2L811.8 912.2L814.0 916.8L816.2 937.3L818.4 924.6L820.6 935.5L822.8 911.9L825.0 942.8L827.2 911.9L829.4 941.0L831.6 919.7L833.8 940.3L836.0 909.2L838.2 919.4L840.4 936.5L842.6 918.0L844.8 943.3L847.0 939.8L849.2 945.6L851.4 948.0L853.6 923.3L855.8 946.8L858.0 921.0L860.2 947.7L862.4 920.3L864.6 920.0L866.8 942.1L869.0 917.1L871.2 942.7L873.4 921.2L875.6 945.0L877.8 923.4L880.0 911.7L882.2 935.0L884.4 920.7L886.6 939.6L888.8 910.1L891.0 936.4L893.2 914.1L895.4 937.6L897.6 918.4L899.8 946.9L902.0 917.3L904.2 938.7L906.4 923.9L908.6 915.8L910.8 942.2" stroke="#231815" stroke-width="2.8"/>
<path d="M191.4 955.9L192.4 955.8L193.4 955.6L194.4 955.5L195.4 955.3L196.4 955.2L197.4 955.0L198.4 954.9L199.4 954.7L200.4 954.6L201.4 954.5L202.4 954.3L203.4 954.2L204.4 954.0L205.4 953.9L206.4 953.7L207.4 953.6L208.4 953.4L209.4 953.3L210.4 953.2L211.4 953.0L212.4 952.9L213.4 952.7L214.4 952.6L215.4 952.4L216.4 952.3L217.4 952.1L218.4 952.0L219.4 951.9L220.4 951.7L221.4 951.6L222.4 951.4L223.4 951.3L224.4 951.1L225.4 951.0L226.4 950.8L227.4 950.7L228.4 950.6L229.4 950.4L230.4 950.3L231.4 950.1L232.4 950.0L233.4 949.8L234.4 949.7L235.4 949.5L236.4 949.4L237.4 949.2L238.4 949.1L239.4 949.0L240.4 948.8L241.4 948.7L242.4 948.5L243.4 948.4L244.4 948.2L245.4 948.1L246.4 947.9L247.4 947.8L248.4 947.6L249.4 947.5L250.4 947.4L251.4 947.2L252.4 947.1L253.4 946.9L254.4 946.8L255.4 946.6L256.4 946.5L257.4 946.3L258.4 946.2L259.4 946.0L260.4 945.9L261.4 945.8L262.4 945.6L263.4 945.5L264.4 945.3L265.4 945.2L266.4 945.0L267.4 944.9L268.4 944.7L269.4 944.6L270.4 944.4L271.4 944.3L272.4 944.2L273.4 944.0L274.4 943.9L275.4 943.7L276.4 943.6L277.4 943.5L278.4 943.3L279.4 943.2L280.4 943.1L281.4 942.9L282.4 942.8L283.4 942.7L284.4 942.5L285.4 942.4L286.4 942.3L287.4 942.2L288.4 942.0L289.4 941.9L290.4 941.8L291.4 941.7L292.4 941.5L293.4 941.4L294.4 941.3L295.4 941.2L296.4 941.0L297.4 940.9L298.4 940.8L299.4 940.7L300.4 940.5L301.4 940.4L302.4 940.3L303.4 940.2L304.4 940.0L305.4 939.9L306.4 939.8L307.4 939.6L308.4 939.5L309.4 939.4L310.4 939.2L311.4 939.1L312.4 938.9L313.4 938.8L314.4 938.7L315.4 938.5L316.4 938.4L317.4 938.2L318.4 938.1L319.4 937.9L320.4 937.8L321.4 937.6L322.4 937.5L323.4 937.3L324.4 937.1L325.4 937.0L326.4 936.8L327.4 936.6L328.4 936.5L329.4 936.3L330.4 936.1L331.4 935.9L332.4 935.7L333.4 935.5L334.4 935.3L335.4 935.1L336.4 934.9L337.4 934.7L338.4 934.5L339.4 934.3L340.4 934.1L341.4 933.9L342.4 933.7L343.4 933.4L344.4 933.1L345.4 932.7L346.4 932.2L347.4 931.1L348.4 929.5L349.4 927.4L350.4 924.8L351.4 920.3L352.4 914.5L353.4 908.4L354.4 902.9L355.4 897.4L356.4 891.9L357.4 886.8L358.4 882.2L359.4 877.7L360.4 873.9L361.4 871.8L362.4 870.4L363.4 869.6L364.4 869.8L365.4 871.0L366.4 872.8L367.4 875.8L368.4 880.5L369.4 885.5L370.4 890.6L371.4 896.2L372.4 901.4L373.4 905.5L374.4 909.2L375.4 912.5L376.4 915.0L377.4 916.6L378.4 918.0L379.4 919.2L380.4 920.0L381.4 920.4L382.4 920.8L383.4 921.0L384.4 921.3L385.4 921.5L386.4 921.6L387.4 921.7L388.4 921.7L389.4 921.7L390.4 921.6L391.4 921.6L392.4 921.5L393.4 921.4L394.4 921.3L395.4 921.2L396.4 921.0L397.4 920.9L398.4 920.7L399.4 920.5L400.4 920.3L401.4 920.2L402.4 920.0L403.4 919.8L404.4 919.6L405.4 919.4L406.4 919.2L407.4 919.0L408.4 918.8L409.4 918.6L410.4 918.4L411.4 918.2L412.4 918.1L413.4 917.9L414.4 917.7L415.4 917.5L416.4 917.3L417.4 917.1L418.4 916.9L419.4 916.7L420.4 916.5L421.4 916.3L422.4 916.1L423.4 915.9L424.4 915.7L425.4 915.5L426.4 915.2L427.4 915.0L428.4 914.8L429.4 914.5L430.4 914.3L431.4 914.0L432.4 913.7L433.4 913.5L434.4 913.2L435.4 912.9L436.4 912.6L437.4 912.3L438.4 912.0L439.4 911.7L440.4 911.3L441.4 911.0L442.4 910.6L443.4 910.2L444.4 909.7L445.4 909.2L446.4 908.7L447.4 908.2L448.4 907.7L449.4 907.1L450.4 906.6L451.4 906.0L452.4 905.4L453.4 904.8L454.4 904.1L455.4 903.5L456.4 902.9L457.4 902.3L458.4 901.6L459.4 901.0L460.4 900.4L461.4 899.7L462.4 899.1L463.4 898.5L464.4 897.9L465.4 897.4L466.4 896.8L467.4 896.3L468.4 895.7L469.4 895.2L470.4 894.6L471.4 894.1L472.4 893.6L473.4 893.1L474.4 892.6L475.4 892.0L476.4 891.5L477.4 891.0L478.4 890.5L479.4 890.0L480.4 889.4L481.4 888.9L482.4 888.4L483.4 887.8L484.4 887.3L485.4 886.7L486.4 886.2L487.4 885.6L488.4 885.0L489.4 884.4L490.4 883.8L491.4 883.2L492.4 882.6L493.4 881.9L494.4 881.3L495.4 880.6L496.4 879.9L497.4 879.2L498.4 878.6L499.4 877.9L500.4 877.2L501.4 876.5L502.4 875.7L503.4 875.0L504.4 874.2L505.4 873.5L506.4 872.7L507.4 871.9L508.4 871.1L509.4 870.3L510.4 869.5L511.4 868.6L512.4 867.7L513.4 866.8L514.4 865.9L515.4 865.0L516.4 864.1L517.4 863.1L518.4 862.1L519.4 861.1L520.4 860.1L521.4 859.0L522.4 857.9L523.4 856.8L524.4 855.7L525.4 854.5L526.4 853.3L527.4 852.0L528.4 850.7L529.4 849.3L530.4 847.9L531.4 846.3L532.4 844.7L533.4 843.1L534.4 841.3L535.4 839.4L536.4 837.4L537.4 835.3L538.4 832.9L539.4 830.4L540.4 827.6L541.4 824.5L542.4 821.2L543.4 817.6L544.4 813.6L545.4 808.8L546.4 802.7L547.4 795.8L548.4 788.4L549.4 780.8L550.4 772.6L551.4 763.0L552.4 753.6L553.4 746.0L554.4 740.7L555.4 736.1L556.4 732.4L557.4 730.0L558.4 728.4L559.4 727.3L560.4 727.0L561.4 727.7L562.4 729.0L563.4 730.9L564.4 734.4L565.4 739.5L566.4 745.6L567.4 754.9L568.4 766.9L569.4 778.3L570.4 788.2L571.4 797.9L572.4 806.7L573.4 813.6L574.4 819.0L575.4 823.9L576.4 828.3L577.4 832.2L578.4 835.6L579.4 838.5L580.4 840.9L581.4 843.1L582.4 845.1L583.4 847.0L584.4 848.7L585.4 850.4L586.4 851.9L587.4 853.3L588.4 854.7L589.4 856.0L590.4 857.3L591.4 858.5L592.4 859.7L593.4 860.8L594.4 862.0L595.4 863.2L596.4 864.4L597.4 865.6L598.4 866.8L599.4 868.0L600.4 869.1L601.4 870.2L602.4 871.4L603.4 872.5L604.4 873.6L605.4 874.6L606.4 875.7L607.4 876.7L608.4 877.7L609.4 878.7L610.4 879.7L611.4 880.6L612.4 881.5L613.4 882.4L614.4 883.3L615.4 884.2L616.4 885.0L617.4 885.8L618.4 886.6L619.4 887.4L620.4 888.1L621.4 888.9L622.4 889.6L623.4 890.3L624.4 891.0L625.4 891.7L626.4 892.4L627.4 893.0L628.4 893.7L629.4 894.3L630.4 895.0L631.4 895.6L632.4 896.2L633.4 896.8L634.4 897.4L635.4 898.0L636.4 898.6L637.4 899.1L638.4 899.7L639.4 900.3L640.4 900.8L641.4 901.3L642.4 901.8L643.4 902.4L644.4 902.9L645.4 903.3L646.4 903.8L647.4 904.3L648.4 904.8L649.4 905.2L650.4 905.7L651.4 906.1L652.4 906.5L653.4 906.9L654.4 907.4L655.4 907.8L656.4 908.1L657.4 908.5L658.4 908.9L659.4 909.3L660.4 909.6L661.4 910.0L662.4 910.3L663.4 910.7L664.4 911.0L665.4 911.3L666.4 911.7L667.4 912.0L668.4 912.3L669.4 912.6L670.4 913.0L671.4 913.3L672.4 913.6L673.4 913.9L674.4 914.2L675.4 914.5L676.4 914.9L677.4 915.2L678.4 915.5L679.4 915.8L680.4 916.1L681.4 916.4L682.4 916.7L683.4 917.1L684.4 917.4L685.4 917.7L686.4 918.0L687.4 918.3L688.4 918.6L689.4 918.9L690.4 919.2L691.4 919.5L692.4 919.7L693.4 920.0L694.4 920.3L695.4 920.6L696.4 920.9L697.4 921.2L698.4 921.5L699.4 921.7L700.4 922.0L701.4 922.3L702.4 922.6L703.4 922.9L704.4 923.2L705.4 923.5L706.4 923.8L707.4 924.2L708.4 924.5L709.4 924.8L710.4 925.2L711.4 925.5L712.4 925.9L713.4 926.2L714.4 926.5L715.4 926.9L716.4 927.2L717.4 927.5L718.4 927.9L719.4 928.2L720.4 928.5L721.4 928.8L722.4 929.2L723.4 929.5L724.4 929.7L725.4 930.0L726.4 930.3L727.4 930.6L728.4 930.8L729.4 931.1L730.4 931.3L731.4 931.5L732.4 931.7L733.4 931.9L734.4 932.0L735.4 932.2L736.4 932.3L737.4 932.4L738.4 932.5L739.4 932.6L740.4 932.7L741.4 932.7L742.4 932.7L743.4 932.5L744.4 931.9L745.4 931.1L746.4 929.3L747.4 926.0L748.4 921.6L749.4 914.9L750.4 907.3L751.4 900.3L752.4 893.1L753.4 886.2L754.4 880.5L755.4 875.7L756.4 871.2L757.4 867.9L758.4 867.0L759.4 868.2L760.4 870.6L761.4 873.7L762.4 878.5L763.4 885.6L764.4 892.4L765.4 897.9L766.4 903.1L767.4 907.8L768.4 912.0L769.4 915.8L770.4 919.3L771.4 922.2L772.4 924.2L773.4 926.0L774.4 927.5L775.4 928.8L776.4 929.9L777.4 930.8L778.4 931.6L779.4 932.3L780.4 932.9L781.4 933.4L782.4 934.0L783.4 934.4L784.4 934.9L785.4 935.3L786.4 935.7L787.4 936.1L788.4 936.4L789.4 936.8L790.4 937.1L791.4 937.5L792.4 937.9L793.4 938.2L794.4 938.5L795.4 938.9L796.4 939.2L797.4 939.5L798.4 939.9L799.4 940.2L800.4 940.5L801.4 940.8L802.4 941.1L803.4 941.4L804.4 941.7L805.4 942.0L806.4 942.3L807.4 942.6L808.4 942.8L809.4 943.1L810.4 943.4L811.4 943.6L812.4 943.9L813.4 944.1L814.4 944.3L815.4 944.6L816.4 944.8L817.4 945.0L818.4 945.2L819.4 945.4L820.4 945.6L821.4 945.8L822.4 946.0L823.4 946.2L824.4 946.3L825.4 946.5L826.4 946.7L827.4 946.8L828.4 947.0L829.4 947.2L830.4 947.3L831.4 947.5L832.4 947.7L833.4 947.8L834.4 948.0L835.4 948.2L836.4 948.3L837.4 948.5L838.4 948.6L839.4 948.8L840.4 949.0L841.4 949.1L842.4 949.3L843.4 949.4L844.4 949.6L845.4 949.8L846.4 949.9L847.4 950.1L848.4 950.2L849.4 950.4L850.4 950.5L851.4 950.7L852.4 950.8L853.4 951.0L854.4 951.1L855.4 951.3L856.4 951.4L857.4 951.5L858.4 951.7L859.4 951.8L860.4 952.0L861.4 952.1L862.4 952.2L863.4 952.4L864.4 952.5L865.4 952.6L866.4 952.7L867.4 952.9L868.4 953.0L869.4 953.1L870.4 953.2L871.4 953.4L872.4 953.5L873.4 953.6L874.4 953.7L875.4 953.8L876.4 953.9L877.4 954.0L878.4 954.1L879.4 954.2L880.4 954.3L881.4 954.4L882.4 954.5L883.4 954.6L884.4 954.7L885.4 954.8L886.4 954.9L887.4 954.9L888.4 955.0L889.4 955.1L890.4 955.2L891.4 955.2L892.4 955.3L893.4 955.4L894.4 955.4L895.4 955.5L896.4 955.6L897.4 955.6L898.4 955.7L899.4 955.7L900.4 955.7L901.4 955.8L902.4 955.8L903.4 955.9L904.4 955.9L905.4 955.9L906.4 955.9L907.4 956.0L908.4 956.0L909.4 956.0L910.4 956.0L911.4 956.0L912.4 956.0" stroke="#0a9a48" stroke-width="5" stroke-linejoin="round" stroke-linecap="butt"/>
<path d="M192.8 1096.2L193.0 1094.4L193.2 1093.5L193.4 1123.0L193.6 1100.1L193.8 1095.4L194.0 1113.2L194.2 1117.9L194.4 1110.2L194.6 1095.6L194.8 1117.8L195.0 1101.5L195.2 1122.0L195.4 1132.7L195.6 1125.3L195.8 1097.0L196.0 1107.9L196.2 1102.8L196.4 1087.9L196.6 1117.1L196.8 1101.6L197.0 1122.3L197.2 1104.3L197.4 1113.0L197.6 1115.0L197.8 1130.8L198.0 1105.0L198.2 1118.0L198.4 1095.7L198.6 1097.1L198.8 1127.1L199.0 1094.0L199.2 1110.7L199.4 1092.7L199.6 1119.4L199.8 1109.2L200.0 1089.1L200.2 1126.3L200.4 1126.9L200.6 1106.3L200.8 1118.8L201.0 1102.9L201.2 1114.7L201.4 1107.8L201.6 1103.6L201.8 1099.9L202.0 1084.9L202.2 1108.2L202.4 1089.5L202.6 1088.9L202.8 1093.1L203.0 1100.8L203.2 1104.2L203.4 1123.1L203.6 1102.0L203.8 1093.5L204.0 1108.2L204.2 1097.0L204.4 1095.8L204.6 1126.2L204.8 1090.5L205.0 1122.3L205.2 1084.2L205.4 1100.7L205.6 1109.7L205.8 1124.2L206.0 1126.9L206.2 1099.5L206.4 1103.2L206.6 1117.1L206.8 1091.3L207.0 1113.9L207.2 1100.0L207.4 1122.8L207.6 1097.5L207.8 1089.4L208.0 1111.2L208.2 1126.2L208.4 1105.1L208.6 1111.2L208.8 1098.6L209.0 1112.6L209.2 1096.5L209.4 1106.6L209.6 1101.6L209.8 1101.9L210.0 1093.0L210.2 1126.9L210.4 1117.5L210.6 1094.7L210.8 1087.5L211.0 1117.5L211.2 1114.8L211.4 1090.6L211.6 1108.1L211.8 1112.6L212.0 1105.0L212.2 1117.8L212.4 1104.8L212.6 1109.3L212.8 1091.2L213.0 1098.3L213.2 1099.4L213.4 1094.2L213.6 1128.7L213.8 1096.9L214.0 1096.1L214.2 1109.6L214.4 1110.7L214.6 1095.8L214.8 1118.9L215.0 1105.7L215.2 1119.7L215.4 1104.5L215.6 1099.0L215.8 1113.5L216.0 1097.1L216.2 1123.7L216.4 1124.3L216.6 1117.5L216.8 1108.7L217.0 1109.4L217.2 1107.1L217.4 1094.7L217.6 1119.7L217.8 1124.2L218.0 1112.5L218.2 1135.0L218.4 1092.2L218.6 1121.4L218.8 1114.5L219.0 1123.6L219.2 1108.7L219.4 1125.6L219.6 1098.1L219.8 1117.0L220.0 1097.0L220.2 1107.4L220.4 1094.5L220.6 1113.3L220.8 1097.8L221.0 1104.6L221.2 1105.2L221.4 1091.3L221.6 1123.8L221.8 1106.7L222.0 1115.0L222.2 1123.1L222.4 1114.0L222.6 1106.9L222.8 1128.0L223.0 1126.9L223.2 1114.2L223.4 1114.4L223.6 1121.2L223.8 1101.7L224.0 1106.4L224.2 1112.0L224.4 1106.8L224.6 1129.0L224.8 1111.6L225.0 1116.0L225.2 1095.4L225.4 1107.5L225.6 1128.7L225.8 1124.1L226.0 1107.0L226.2 1116.1L226.4 1092.2L226.6 1093.7L226.8 1103.4L227.0 1123.1L227.2 1097.4L227.4 1100.4L227.6 1095.3L227.8 1098.0L228.0 1101.7L228.2 1092.8L228.4 1107.3L228.6 1102.0L228.8 1105.3L229.0 1118.4L229.2 1114.1L229.4 1128.8L229.6 1091.4L229.8 1129.9L230.0 1130.1L230.2 1131.1L230.4 1124.8L230.6 1104.4L230.8 1096.3L231.0 1126.6L231.2 1115.0L231.4 1108.5L231.6 1114.3L231.8 1121.5L232.0 1129.5L232.2 1106.2L232.4 1091.4L232.6 1116.6L232.8 1093.9L233.0 1100.2L233.2 1119.1L233.4 1098.3L233.6 1113.5L233.8 1125.7L234.0 1128.3L234.2 1112.1L234.4 1107.5L234.6 1108.3L234.8 1130.6L235.0 1091.4L235.2 1112.4L235.4 1092.0L235.6 1118.8L235.8 1135.8L236.0 1116.9L236.2 1092.7L236.4 1122.0L236.6 1098.3L236.8 1128.1L237.0 1113.0L237.2 1123.0L237.4 1115.6L237.6 1095.6L237.8 1109.7L238.0 1104.2L238.2 1108.3L238.4 1125.6L238.6 1111.0L238.8 1122.6L239.0 1114.6L239.2 1097.0L239.4 1131.8L239.6 1113.5L239.8 1090.1L240.0 1120.9L240.2 1112.2L240.4 1125.9L240.6 1093.4L240.8 1091.7L241.0 1104.1L241.2 1114.8L241.4 1099.4L241.6 1089.6L241.8 1114.8L242.0 1102.3L242.2 1131.2L242.4 1129.8L242.6 1119.2L242.8 1112.1L243.0 1090.8L243.2 1115.6L243.4 1119.3L243.6 1091.2L243.8 1127.5L244.0 1107.8L244.2 1098.4L244.4 1099.9L244.6 1128.9L244.8 1128.4L245.0 1125.6L245.2 1114.7L245.4 1116.4L245.6 1111.9L245.8 1120.0L246.0 1094.1L246.2 1103.0L246.4 1093.1L246.6 1107.4L246.8 1119.8L247.0 1120.6L247.2 1123.0L247.4 1135.8L247.6 1105.6L247.8 1116.8L248.0 1095.8L248.2 1115.9L248.4 1107.1L248.6 1094.5L248.8 1098.3L249.0 1120.8L249.2 1102.7L249.4 1112.7L249.6 1117.6L249.8 1121.7L250.0 1093.4L250.2 1091.0L250.4 1100.9L250.6 1094.5L250.8 1089.9L251.0 1124.2L251.2 1091.7L251.4 1127.9L251.6 1107.0L251.8 1102.2L252.0 1122.8L252.2 1124.2L252.4 1126.2L252.6 1121.7L252.8 1113.8L253.0 1089.9L253.2 1111.2L253.4 1100.0L253.6 1120.8L253.8 1109.5L254.0 1124.0L254.2 1120.8L254.4 1083.8L254.6 1086.3L254.8 1096.0L255.0 1123.3L255.2 1099.7L255.4 1093.2L255.6 1111.1L255.8 1099.5L256.0 1121.8L256.2 1124.5L256.4 1106.9L256.6 1100.2L256.8 1116.9L257.0 1120.9L257.2 1129.9L257.4 1134.6L257.6 1099.0L257.8 1101.0L258.0 1097.0L258.2 1098.8L258.4 1091.5L258.6 1097.6L258.8 1108.4L259.0 1110.6L259.2 1105.0L259.4 1120.8L259.6 1124.3L259.8 1104.8L260.0 1101.8L260.2 1101.4L260.4 1109.2L260.6 1116.6L260.8 1107.3L261.0 1108.9L261.2 1114.3L261.4 1126.9L261.6 1103.5L261.8 1095.6L262.0 1119.1L262.2 1112.0L262.4 1124.2L262.6 1107.9L262.8 1126.6L263.0 1112.5L263.2 1111.7L263.4 1114.5L263.6 1105.1L263.8 1097.7L264.0 1127.9L264.2 1111.3L264.4 1098.0L264.6 1090.3L264.8 1108.5L265.0 1130.0L265.2 1095.6L265.4 1123.4L265.6 1112.7L265.8 1097.1L266.0 1118.3L266.2 1123.1L266.4 1104.5L266.6 1114.6L266.8 1132.1L267.0 1126.8L267.2 1111.7L267.4 1096.0L267.6 1118.7L267.8 1095.1L268.0 1114.6L268.2 1089.7L268.4 1127.2L268.6 1122.9L268.8 1117.0L269.0 1091.0L269.2 1105.3L269.4 1090.6L269.6 1105.8L269.8 1122.9L270.0 1124.9L270.2 1103.1L270.4 1129.3L270.6 1115.1L270.8 1103.7L271.0 1128.1L271.2 1100.4L271.4 1111.0L271.6 1089.1L271.8 1115.0L272.0 1120.5L272.2 1102.5L272.4 1113.6L272.6 1099.6L272.8 1101.8L273.0 1123.8L273.2 1117.7L273.4 1124.0L273.6 1121.2L273.8 1099.1L274.0 1119.1L274.2 1128.4L274.4 1113.5L274.6 1127.9L274.8 1129.7L275.0 1098.2L275.2 1111.0L275.4 1106.4L275.6 1097.1L275.8 1134.1L276.0 1102.0L276.2 1128.0L276.4 1092.9L276.6 1122.5L276.8 1125.1L277.0 1119.0L277.2 1123.3L277.4 1099.2L277.6 1115.6L277.8 1109.2L278.0 1123.7L278.2 1119.0L278.4 1092.3L278.6 1089.0L278.8 1108.1L279.0 1099.4L279.2 1113.6L279.4 1103.9L279.6 1091.7L279.8 1103.8L280.0 1113.8L280.2 1115.6L280.4 1117.0L280.6 1127.3L280.8 1097.0L281.0 1098.7L281.2 1121.5L281.4 1106.5L281.6 1126.3L281.8 1114.4L282.0 1103.2L282.2 1128.8L282.4 1103.4L282.6 1109.6L282.8 1119.5L283.0 1085.9L283.2 1129.7L283.4 1103.0L283.6 1128.1L283.8 1123.6L284.0 1089.1L284.2 1091.9L284.4 1122.9L284.6 1113.9L284.8 1101.6L285.0 1127.5L285.2 1125.8L285.4 1117.5L285.6 1109.4L285.8 1099.2L286.0 1087.6L286.2 1120.5L286.4 1107.5L286.6 1113.0L286.8 1090.8L287.0 1122.2L287.2 1098.7L287.4 1110.4L287.6 1117.2L287.8 1092.6L288.0 1105.9L288.2 1094.5L288.4 1127.7L288.6 1121.2L288.8 1097.5L289.0 1087.5L289.2 1114.8L289.4 1105.7L289.6 1103.6L289.8 1123.1L290.0 1116.3L290.2 1101.4L290.4 1126.1L290.6 1104.4L290.8 1089.5L291.0 1108.0L291.2 1091.0L291.4 1115.1L291.6 1119.5L291.8 1112.0L292.0 1113.1L292.2 1111.5L292.4 1113.6L292.6 1092.8L292.8 1095.3L293.0 1087.9L293.2 1123.2L293.4 1083.8L293.6 1085.5L293.8 1101.1L294.0 1104.8L294.2 1126.9L294.4 1128.6L294.6 1115.2L294.8 1117.3L295.0 1109.0L295.2 1108.0L295.4 1124.4L295.6 1111.0L295.8 1114.9L296.0 1131.3L296.2 1123.4L296.4 1099.3L296.6 1120.1L296.8 1120.1L297.0 1120.1L297.2 1096.4L297.4 1111.2L297.6 1125.8L297.8 1096.4L298.0 1122.8L298.2 1120.9L298.4 1089.7L298.6 1117.9L298.8 1127.1L299.0 1126.0L299.2 1092.5L299.4 1097.3L299.6 1105.2L299.8 1092.2L300.0 1126.0L300.2 1090.3L300.4 1108.6L300.6 1107.6L300.8 1098.9L301.0 1117.2L301.2 1132.7L301.4 1114.5L301.6 1121.6L301.8 1107.5L302.0 1118.6L302.2 1098.7L302.4 1111.5L302.6 1113.1L302.8 1119.1L303.0 1111.9L303.2 1097.5L303.4 1109.6L303.6 1110.6L303.8 1103.0L304.0 1104.4L304.2 1113.2L304.4 1122.9L304.6 1090.8L304.8 1123.9L305.0 1113.4L305.2 1124.3L305.4 1127.1L305.6 1100.0L305.8 1088.3L306.0 1101.7L306.2 1101.4L306.4 1120.7L306.6 1129.8L306.8 1127.2L307.0 1123.5L307.2 1118.1L307.4 1131.4L307.6 1106.8L307.8 1095.0L308.0 1127.3L308.2 1089.7L308.4 1101.2L308.6 1125.3L308.8 1096.0L309.0 1109.5L309.2 1118.1L309.4 1094.2L309.6 1103.5L309.8 1101.7L310.0 1122.9L310.2 1105.1L310.4 1106.4L310.6 1118.0L310.8 1099.7L311.0 1115.5L311.2 1119.1L311.4 1127.8L311.6 1116.6L311.8 1111.1L312.0 1113.0L312.2 1095.7L312.4 1095.7L312.6 1089.0L312.8 1104.3L313.0 1100.0L313.2 1125.2L313.4 1096.9L313.6 1105.1L313.8 1091.3L314.0 1131.8L314.2 1090.1L314.4 1128.6L314.6 1092.9L314.8 1116.3L315.0 1127.9L315.2 1103.4L315.4 1127.8L315.6 1122.1L315.8 1102.6L316.0 1109.3L316.2 1116.1L316.4 1103.8L316.6 1119.4L316.8 1100.9L317.0 1101.3L317.2 1120.0L317.4 1125.8L317.6 1119.8L317.8 1124.0L318.0 1096.3L318.2 1134.8L318.4 1122.1L318.6 1111.7L318.8 1120.8L319.0 1104.1L319.2 1121.6L319.4 1125.7L319.6 1104.5L319.8 1107.3L320.0 1100.8L320.2 1100.9L320.4 1114.7L320.6 1098.6L320.8 1104.1L321.0 1108.5L321.2 1100.8L321.4 1103.6L321.6 1126.9L321.8 1104.1L322.0 1117.9L322.2 1125.2L322.4 1095.1L322.6 1116.7L322.8 1093.8L323.0 1105.7L323.2 1127.4L323.4 1124.8L323.6 1107.6L323.8 1089.8L324.0 1091.4L324.2 1111.1L324.4 1125.0L324.6 1113.0L324.8 1118.5L325.0 1119.5L325.2 1122.2L325.4 1096.6L325.6 1088.5L325.8 1112.5L326.0 1103.4L326.2 1124.8L326.4 1086.9L326.6 1121.8L326.8 1124.3L327.0 1100.8L327.2 1105.7L327.4 1123.5L327.6 1122.5L327.8 1121.8L328.0 1116.1L328.2 1096.8L328.4 1117.6L328.6 1097.0L328.8 1089.1L329.0 1128.5L329.2 1089.3L329.4 1088.5L329.6 1100.1L329.8 1100.4L330.0 1112.6L330.2 1117.8L330.4 1115.0L330.6 1122.4L330.8 1122.3L331.0 1096.5L331.2 1087.1L331.4 1100.9L331.6 1090.1L331.8 1119.4L332.0 1096.8L332.2 1101.7L332.4 1092.1L332.6 1102.5L332.8 1106.3L333.0 1113.2L333.2 1099.5L333.4 1135.8L333.6 1095.9L333.8 1117.2L334.0 1102.6L334.2 1121.7L334.4 1098.8L334.6 1093.9L334.8 1104.8L335.0 1106.8L335.2 1093.7L335.4 1120.2L335.6 1106.4L335.8 1119.0L336.0 1100.2L336.2 1097.0L336.4 1093.4L336.6 1103.9L336.8 1099.7L337.0 1097.2L337.2 1090.5L337.4 1113.6L337.6 1096.1L337.8 1090.9L338.0 1097.8L338.2 1099.5L338.4 1123.0L338.6 1118.7L338.8 1109.4L339.0 1092.8L339.2 1108.1L339.4 1125.1L339.6 1104.1L339.8 1098.5L340.0 1126.5L340.2 1128.0L340.4 1117.1L340.6 1124.0L340.8 1130.5L341.0 1117.1L341.2 1112.9L341.4 1095.2L341.6 1122.3L341.8 1127.0L342.0 1096.5L342.2 1114.3L342.4 1102.1L342.6 1131.3L342.8 1120.7L343.0 1106.1L343.2 1111.7L343.4 1091.8L343.6 1117.1L343.8 1088.6L344.0 1120.5L344.2 1128.3L344.4 1083.8L344.6 1120.0L344.8 1109.5L345.0 1088.4L345.2 1112.1L345.4 1126.8L345.6 1111.4L345.8 1124.2L346.0 1104.3L346.2 1116.3L346.4 1103.4L346.6 1116.6L346.8 1095.3L347.0 1097.3L347.2 1095.7L347.4 1095.0L347.6 1093.6L347.8 1114.5L348.0 1096.4L348.2 1117.1L348.4 1112.6L348.6 1103.1L348.8 1108.5L349.0 1107.0L349.2 1096.4L349.4 1095.7L349.6 1093.8L349.8 1117.3L350.0 1114.2L350.2 1094.6L350.4 1111.0L350.6 1097.6L350.8 1095.9L351.0 1125.6L351.2 1129.7L351.4 1118.0L351.6 1107.3L351.8 1091.2L352.0 1094.0L352.2 1108.5L352.4 1126.0L352.6 1100.9L352.8 1124.1L353.0 1112.8L353.2 1117.9L353.4 1098.9L353.6 1115.5L353.8 1119.0L354.0 1098.1L354.2 1097.3L354.4 1113.8L354.6 1128.3L354.8 1109.2L355.0 1111.2L355.2 1101.4L355.4 1102.7L355.6 1110.5L355.8 1104.7L356.0 1106.3L356.2 1130.9L356.4 1114.0L356.6 1118.9L356.8 1096.3L357.0 1126.1L357.2 1086.5L357.4 1109.7L357.6 1106.1L357.8 1090.2L358.0 1092.8L358.2 1100.7L358.4 1127.1L358.6 1091.4L358.8 1110.8L359.0 1106.3L359.2 1103.6L359.4 1118.4L359.6 1105.9L359.8 1112.7L360.0 1102.3L360.2 1096.8L360.4 1104.4L360.6 1124.4L360.8 1110.8L361.0 1113.2L361.2 1103.9L361.4 1090.7L361.6 1100.6L361.8 1112.5L362.0 1115.3L362.2 1100.2L362.4 1110.9L362.6 1091.8L362.8 1117.1L363.0 1102.2L363.2 1119.2L363.4 1135.8L363.6 1098.0L363.8 1108.3L364.0 1101.5L364.2 1100.1L364.4 1120.3L364.6 1126.1L364.8 1103.8L365.0 1131.8L365.2 1113.0L365.4 1093.8L365.6 1124.7L365.8 1124.4L366.0 1099.6L366.2 1097.6L366.4 1091.9L366.6 1104.3L366.8 1088.7L367.0 1114.7L367.2 1087.8L367.4 1121.1L367.6 1104.5L367.8 1094.3L368.0 1089.1L368.2 1112.3L368.4 1100.5L368.6 1124.4L368.8 1110.8L369.0 1115.1L369.2 1109.8L369.4 1103.9L369.6 1094.1L369.8 1098.1L370.0 1089.5L370.2 1126.8L370.4 1102.3L370.6 1095.5L370.8 1112.7L371.0 1118.2L371.2 1123.9L371.4 1095.2L371.6 1101.8L371.8 1113.5L372.0 1099.5L372.2 1112.1L372.4 1110.7L372.6 1095.7L372.8 1104.4L373.0 1110.9L373.2 1099.6L373.4 1097.2L373.6 1118.0L373.8 1119.0L374.0 1120.2L374.2 1120.3L374.4 1101.2L374.6 1088.1L374.8 1105.8L375.0 1135.1L375.2 1115.9L375.4 1124.4L375.6 1114.8L375.8 1107.0L376.0 1097.4L376.2 1091.5L376.4 1123.5L376.6 1129.4L376.8 1104.7L377.0 1115.1L377.2 1115.0L377.4 1117.8L377.6 1121.8L377.8 1123.4L378.0 1108.4L378.2 1111.1L378.4 1105.8L378.6 1090.6L378.8 1086.2L379.0 1114.1L379.2 1122.4L379.4 1118.1L379.6 1098.3L379.8 1110.0L380.0 1096.7L380.2 1124.3L380.4 1118.1L380.6 1094.9L380.8 1089.9L381.0 1105.3L381.2 1121.1L381.4 1105.8L381.6 1117.3L381.8 1094.9L382.0 1115.6L382.2 1104.1L382.4 1091.9L382.6 1083.7L382.8 1120.0L383.0 1102.5L383.2 1090.8L383.4 1101.1L383.6 1098.8L383.8 1114.2L384.0 1099.8L384.2 1120.8L384.4 1106.1L384.6 1103.2L384.8 1098.4L385.0 1091.5L385.2 1122.7L385.4 1117.3L385.6 1112.6L385.8 1113.6L386.0 1106.8L386.2 1110.3L386.4 1102.7L386.6 1102.1L386.8 1080.9L387.0 1099.0L387.2 1089.9L387.4 1104.2L387.6 1094.8L387.8 1116.3L388.0 1101.4L388.2 1084.6L388.4 1107.9L388.6 1094.8L388.8 1104.6L389.0 1089.8L389.2 1090.4L389.4 1088.8L389.6 1096.3L389.8 1110.3L390.0 1086.8L390.2 1094.2L390.4 1083.5L390.6 1107.0L390.8 1087.6L391.0 1093.9L391.2 1098.6L391.4 1105.8L391.6 1087.2L391.8 1113.5L392.0 1101.4L392.2 1095.0L392.4 1094.1L392.6 1099.7L392.8 1092.3L393.0 1086.1L393.2 1106.6L393.4 1104.8L393.6 1106.9L393.8 1086.5L394.0 1096.6L394.2 1092.9L394.4 1092.9L394.6 1102.3L394.8 1100.4L395.0 1091.1L395.2 1097.3L395.4 1107.2L395.6 1101.1L395.8 1082.6L396.0 1083.8L396.2 1093.2L396.4 1095.8L396.6 1084.3L396.8 1096.9L397.0 1082.5L397.2 1094.5L397.4 1088.8L397.6 1082.8L397.8 1088.8L398.0 1090.1L398.2 1095.4L398.4 1089.7L398.6 1085.5L398.8 1100.2L399.0 1079.0L399.2 1095.7L399.4 1099.1L399.6 1082.7L399.8 1078.1L400.0 1098.8L400.2 1095.3L400.4 1080.7L400.6 1082.9L400.8 1082.7L401.0 1090.4L401.2 1099.0L401.4 1078.2L401.6 1075.6L401.8 1083.2L402.0 1084.5L402.2 1077.1L402.4 1088.7L402.6 1087.6L402.8 1081.4L403.0 1077.6L403.2 1074.0L403.4 1086.4L403.6 1092.5L403.8 1079.3L404.0 1092.5L404.2 1078.0L404.4 1073.2L404.6 1080.8L404.8 1079.2L405.0 1091.0L405.2 1069.4L405.4 1078.8L405.6 1080.7L405.8 1082.7L406.0 1080.7L406.2 1071.9L406.4 1076.7L406.6 1083.5L406.8 1070.1L407.0 1083.9L407.2 1069.1L407.4 1075.4L407.6 1078.7L407.8 1069.4L408.0 1070.5L408.2 1068.3L408.4 1066.8L408.6 1077.5L408.8 1076.4L409.0 1076.2L409.2 1063.3L409.4 1072.4L409.6 1061.0L409.8 1071.7L410.0 1060.1L410.2 1068.7L410.4 1062.3L410.6 1060.6L410.8 1069.3L411.0 1072.5L411.2 1069.3L411.4 1065.6L411.6 1064.3L411.8 1063.4L412.0 1065.5L412.2 1065.7L412.4 1067.3L412.6 1060.6L412.8 1059.6L413.0 1058.5L413.2 1057.5L413.4 1061.1L413.6 1061.7L413.8 1057.5L414.0 1062.4L414.2 1059.2L414.4 1052.8L414.6 1049.8L414.8 1058.9L415.0 1050.2L415.2 1051.0L415.4 1052.0L415.6 1053.9L415.8 1054.5L416.0 1055.9L416.2 1045.6L416.4 1047.6L416.6 1052.1L416.8 1052.3L417.0 1046.1L417.2 1050.0L417.4 1049.5L417.6 1046.9L417.8 1045.0L418.0 1049.6L418.2 1048.7L418.4 1052.2L418.6 1051.3L418.8 1046.5L419.0 1046.0L419.2 1041.3L419.4 1042.7L419.6 1045.8L419.8 1048.8L420.0 1045.0L420.2 1043.8L420.4 1041.8L420.6 1044.8L420.8 1047.4L421.0 1040.5L421.2 1042.7L421.4 1043.5L421.6 1042.1L421.8 1045.4L422.0 1046.7L422.2 1046.2L422.4 1045.1L422.6 1044.9L422.8 1041.4L423.0 1044.4L423.2 1037.9L423.4 1044.8L423.6 1045.4L423.8 1045.8L424.0 1037.8L424.2 1043.3L424.4 1040.1L424.6 1041.3L424.8 1041.1L425.0 1044.2L425.2 1044.5L425.4 1035.8L425.6 1039.1L425.8 1035.6L426.0 1037.7L426.2 1039.7L426.4 1037.1L426.6 1041.2L426.8 1040.8L427.0 1036.8L427.2 1038.5L427.4 1036.6L427.6 1041.6L427.8 1037.9L428.0 1040.6L428.2 1037.9L428.4 1043.6L428.6 1041.7L428.8 1040.6L429.0 1042.4L429.2 1043.0L429.4 1040.8L429.6 1045.1L429.8 1038.7L430.0 1043.0L430.2 1039.7L430.4 1042.4L430.6 1039.6L430.8 1045.2L431.0 1040.5L431.2 1043.6L431.4 1045.7L431.6 1047.0L431.8 1044.3L432.0 1043.7L432.2 1046.8L432.4 1041.5L432.6 1040.8L432.8 1045.1L433.0 1048.4L433.2 1046.1L433.4 1046.3L433.6 1046.7L433.8 1047.0L434.0 1044.1L434.2 1047.2L434.4 1048.5L434.6 1052.9L434.8 1046.8L435.0 1056.0L435.2 1048.9L435.4 1049.1L435.6 1057.0L435.8 1053.2L436.0 1054.5L436.2 1055.8L436.4 1052.4L436.6 1054.2L436.8 1056.1L437.0 1052.2L437.2 1055.9L437.4 1061.2L437.6 1059.5L437.8 1059.8L438.0 1058.1L438.2 1059.5L438.4 1058.3L438.6 1062.8L438.8 1052.5L439.0 1056.2L439.2 1057.4L439.4 1057.4L439.6 1064.8L439.8 1056.2L440.0 1066.4L440.2 1063.4L440.4 1058.4L440.6 1059.9L440.8 1061.7L441.0 1060.7L441.2 1066.6L441.4 1061.3L441.6 1057.9L441.8 1059.7L442.0 1067.0L442.2 1069.6L442.4 1072.5L442.6 1061.0L442.8 1066.4L443.0 1073.4L443.2 1069.2L443.4 1064.4L443.6 1068.0L443.8 1071.2L444.0 1075.2L444.2 1071.5L444.4 1071.4L444.6 1072.8L444.8 1063.3L445.0 1067.1L445.2 1077.2L445.4 1066.9L445.6 1071.9L445.8 1069.4L446.0 1065.5L446.2 1066.0L446.4 1067.4L446.6 1075.5L446.8 1069.7L447.0 1082.4L447.2 1066.3L447.4 1073.9L447.6 1072.1L447.8 1072.2L448.0 1076.2L448.2 1071.3L448.4 1078.7L448.6 1073.6L448.8 1073.7L449.0 1070.2L449.2 1074.5L449.4 1072.4L449.6 1076.2L449.8 1076.9L450.0 1076.5L450.2 1070.5L450.4 1076.4L450.6 1079.0L450.8 1071.2L451.0 1081.9L451.2 1076.2L451.4 1077.0L451.6 1071.7L451.8 1078.4L452.0 1068.3L452.2 1070.2L452.4 1068.1L452.6 1082.3L452.8 1071.7L453.0 1083.3L453.2 1069.8L453.4 1070.6L453.6 1078.8L453.8 1078.5L454.0 1075.9L454.2 1081.7L454.4 1085.3L454.6 1073.6L454.8 1085.1L455.0 1082.1L455.2 1071.4L455.4 1081.1L455.6 1079.0L455.8 1075.0L456.0 1075.2L456.2 1079.4L456.4 1083.6L456.6 1079.7L456.8 1079.8L457.0 1081.3L457.2 1068.9L457.4 1075.8L457.6 1081.2L457.8 1074.5L458.0 1075.3L458.2 1072.7L458.4 1082.4L458.6 1071.2L458.8 1068.2L459.0 1071.3L459.2 1081.8L459.4 1084.9L459.6 1069.4L459.8 1075.0L460.0 1083.5L460.2 1077.8L460.4 1078.0L460.6 1072.3L460.8 1074.7L461.0 1080.4L461.2 1074.5L461.4 1076.8L461.6 1067.0L461.8 1068.5L462.0 1074.7L462.2 1077.9L462.4 1078.0L462.6 1076.5L462.8 1068.4L463.0 1066.5L463.2 1067.6L463.4 1076.3L463.6 1067.0L463.8 1082.5L464.0 1083.2L464.2 1073.1L464.4 1067.1L464.6 1080.7L464.8 1071.7L465.0 1076.8L465.2 1071.8L465.4 1074.9L465.6 1070.0L465.8 1063.8L466.0 1079.9L466.2 1075.0L466.4 1065.3L466.6 1071.0L466.8 1072.2L467.0 1063.5L467.2 1071.2L467.4 1071.6L467.6 1066.8L467.8 1062.7L468.0 1064.7L468.2 1079.4L468.4 1063.9L468.6 1070.3L468.8 1075.6L469.0 1066.4L469.2 1073.0L469.4 1068.5L469.6 1067.2L469.8 1065.5L470.0 1065.6L470.2 1075.3L470.4 1079.6L470.6 1064.2L470.8 1063.9L471.0 1069.8L471.2 1068.8L471.4 1069.2L471.6 1068.4L471.8 1065.2L472.0 1064.4L472.2 1063.8L472.4 1067.4L472.6 1078.9L472.8 1064.1L473.0 1065.1L473.2 1077.1L473.4 1068.3L473.6 1063.8L473.8 1066.0L474.0 1064.5L474.2 1068.3L474.4 1061.8L474.6 1071.2L474.8 1073.3L475.0 1072.0L475.2 1065.5L475.4 1073.6L475.6 1069.2L475.8 1066.3L476.0 1073.8L476.2 1067.3L476.4 1058.2L476.6 1073.2L476.8 1066.7L477.0 1068.6L477.2 1073.5L477.4 1071.4L477.6 1065.8L477.8 1067.0L478.0 1064.4L478.2 1065.3L478.4 1062.1L478.6 1062.9L478.8 1068.7L479.0 1071.9L479.2 1065.0L479.4 1070.6L479.6 1064.4L479.8 1067.8L480.0 1062.5L480.2 1060.9L480.4 1064.3L480.6 1064.0L480.8 1060.1L481.0 1058.2L481.2 1059.3L481.4 1061.3L481.6 1067.6L481.8 1069.9L482.0 1065.9L482.2 1056.9L482.4 1070.7L482.6 1056.0L482.8 1056.2L483.0 1070.6L483.2 1063.5L483.4 1062.3L483.6 1067.8L483.8 1059.3L484.0 1061.3L484.2 1059.9L484.4 1068.7L484.6 1064.0L484.8 1064.1L485.0 1068.6L485.2 1061.3L485.4 1058.7L485.6 1060.4L485.8 1064.0L486.0 1058.2L486.2 1062.9L486.4 1061.0L486.6 1065.2L486.8 1062.7L487.0 1069.6L487.2 1062.1L487.4 1058.8L487.6 1065.7L487.8 1056.8L488.0 1062.9L488.2 1066.7L488.4 1056.5L488.6 1058.1L488.8 1058.6L489.0 1064.4L489.2 1062.7L489.4 1053.8L489.6 1064.0L489.8 1056.1L490.0 1061.7L490.2 1061.3L490.4 1055.0L490.6 1064.4L490.8 1063.2L491.0 1061.1L491.2 1062.9L491.4 1062.2L491.6 1063.7L491.8 1064.7L492.0 1056.9L492.2 1062.9L492.4 1056.4L492.6 1056.1L492.8 1063.4L493.0 1060.7L493.2 1060.0L493.4 1054.8L493.6 1058.1L493.8 1056.8L494.0 1061.5L494.2 1062.9L494.4 1060.0L494.6 1059.0L494.8 1063.5L495.0 1054.7L495.2 1061.9L495.4 1059.4L495.6 1057.5L495.8 1054.9L496.0 1056.2L496.2 1055.0L496.4 1052.1L496.6 1056.5L496.8 1060.6L497.0 1059.6L497.2 1055.6L497.4 1051.4L497.6 1058.6L497.8 1060.3L498.0 1061.9L498.2 1055.0L498.4 1053.3L498.6 1059.4L498.8 1058.0L499.0 1057.5L499.2 1058.1L499.4 1051.7L499.6 1057.5L499.8 1050.4L500.0 1060.0L500.2 1050.1L500.4 1057.5L500.6 1055.1L500.8 1055.8L501.0 1049.6L501.2 1057.0L501.4 1054.0L501.6 1055.4L501.8 1055.1L502.0 1049.1L502.2 1050.6L502.4 1052.0L502.6 1050.9L502.8 1056.1L503.0 1057.8L503.2 1055.6L503.4 1053.0L503.6 1050.3L503.8 1054.2L504.0 1057.2L504.2 1056.9L504.4 1045.9L504.6 1053.2L504.8 1055.4L505.0 1046.8L505.2 1049.8L505.4 1054.9L505.6 1049.1L505.8 1055.2L506.0 1046.1L506.2 1056.0L506.4 1051.1L506.6 1048.7L506.8 1053.9L507.0 1052.3L507.2 1054.5L507.4 1047.9L507.6 1054.4L507.8 1047.5L508.0 1051.6L508.2 1054.1L508.4 1052.9L508.6 1052.5L508.8 1051.7L509.0 1052.1L509.2 1053.8L509.4 1047.8L509.6 1053.2L509.8 1052.4L510.0 1049.8L510.2 1048.5L510.4 1048.3L510.6 1044.4L510.8 1053.3L511.0 1050.5L511.2 1051.0L511.4 1045.8L511.6 1048.4L511.8 1049.7L512.0 1046.3L512.2 1051.1L512.4 1052.2L512.6 1048.0L512.8 1051.5L513.0 1049.5L513.2 1048.1L513.4 1050.6L513.6 1052.4L513.8 1049.0L514.0 1046.8L514.2 1045.4L514.4 1049.6L514.6 1046.1L514.8 1041.4L515.0 1046.6L515.2 1049.1L515.4 1046.9L515.6 1041.3L515.8 1046.7L516.0 1045.0L516.2 1045.7L516.4 1047.9L516.6 1042.6L516.8 1042.8L517.0 1045.0L517.2 1048.5L517.4 1043.2L517.6 1042.7L517.8 1047.9L518.0 1044.0L518.2 1043.1L518.4 1046.5L518.6 1047.8L518.8 1039.3L519.0 1044.1L519.2 1039.7L519.4 1041.7L519.6 1043.2L519.8 1043.5L520.0 1041.4L520.2 1038.8L520.4 1044.0L520.6 1042.6L520.8 1042.0L521.0 1039.9L521.2 1038.4L521.4 1044.6L521.6 1041.2L521.8 1041.2L522.0 1040.4L522.2 1038.8L522.4 1040.1L522.6 1037.8L522.8 1041.3L523.0 1035.3L523.2 1041.4L523.4 1034.3L523.6 1040.8L523.8 1040.8L524.0 1040.9L524.2 1037.4L524.4 1036.6L524.6 1034.6L524.8 1035.0L525.0 1032.9L525.2 1036.4L525.4 1036.2L525.6 1032.2L525.8 1035.7L526.0 1037.4L526.2 1032.8L526.4 1032.0L526.6 1034.4L526.8 1033.4L527.0 1035.3L527.2 1033.6L527.4 1030.3L527.6 1028.9L527.8 1027.5L528.0 1032.2L528.2 1027.8L528.4 1029.4L528.6 1032.1L528.8 1026.1L529.0 1030.1L529.2 1030.1L529.4 1029.4L529.6 1028.4L529.8 1030.8L530.0 1029.8L530.2 1024.5L530.4 1024.8L530.6 1024.6L530.8 1026.1L531.0 1027.6L531.2 1023.4L531.4 1023.2L531.6 1025.7L531.8 1022.3L532.0 1021.8L532.2 1023.6L532.4 1020.7L532.6 1020.0L532.8 1024.0L533.0 1021.5L533.2 1019.9L533.4 1023.7L533.6 1020.4L533.8 1022.2L534.0 1019.1L534.2 1017.6L534.4 1020.6L534.6 1017.2L534.8 1019.2L535.0 1016.5L535.2 1018.3L535.4 1015.6L535.6 1015.7L535.8 1016.1L536.0 1014.1L536.2 1016.4L536.4 1016.8L536.6 1015.5L536.8 1012.7L537.0 1015.0L537.2 1014.8L537.4 1015.2L537.6 1011.5L537.8 1011.8L538.0 1011.1L538.2 1010.8L538.4 1009.9L538.6 1010.2L538.8 1010.9L539.0 1009.9L539.2 1010.7L539.4 1007.5L539.6 1006.2L539.8 1006.7L540.0 1005.6L540.2 1005.1L540.4 1006.7L540.6 1005.0L540.8 1004.7L541.0 1004.3L541.2 1002.5L541.4 1002.1L541.6 1002.7L541.8 1002.6L542.0 1000.6L542.2 1000.8L542.4 999.3L542.6 998.3L542.8 998.2L543.0 997.9L543.2 998.3L543.4 998.9L543.6 996.2L543.8 996.1L544.0 995.8L544.2 995.7L544.4 994.5L544.6 993.1L544.8 991.8L545.0 992.1L545.2 991.8L545.4 990.2L545.6 990.5L545.8 989.1L546.0 987.9L546.2 988.1L546.4 986.2L546.6 986.3L546.8 985.3L547.0 984.0L547.2 983.8L547.4 982.6L547.6 982.3L547.8 981.4L548.0 980.8L548.2 979.4L548.4 978.9L548.6 976.3L548.8 975.7L549.0 975.0L549.2 974.6L549.4 973.8L549.6 971.9L549.8 970.8L550.0 970.2L550.2 970.0L550.4 967.8L550.6 967.7L550.8 965.6L551.0 964.1L551.2 964.1L551.4 962.8L551.6 961.2L551.8 959.4L552.0 958.2L552.2 957.6L552.4 955.5L552.6 954.3L552.8 952.9L553.0 952.3L553.2 950.9L553.4 949.7L553.6 948.2L553.8 947.5L554.0 946.6L554.2 945.8L554.4 944.9L554.6 943.6L554.8 942.9L555.0 941.6L555.2 940.7L555.4 939.9L555.6 938.3L555.8 937.7L556.0 936.9L556.2 935.7L556.4 934.8L556.6 934.2L556.8 933.4L557.0 932.3L557.2 931.6L557.4 930.8L557.6 930.0L557.8 929.1L558.0 928.2L558.2 927.6L558.4 926.7L558.6 926.2L558.8 925.1L559.0 924.6L559.2 924.1L559.4 923.3L559.6 922.4L559.8 921.9L560.0 921.1L560.2 920.3L560.4 920.0L560.6 919.1L560.8 918.6L561.0 918.2L561.2 917.4L561.4 917.1L561.6 916.7L561.8 916.1L562.0 916.0L562.2 915.6L562.4 915.3L562.6 915.1L562.8 915.1L563.0 914.7L563.2 914.7L563.4 914.2L563.6 914.4L563.8 913.9L564.0 914.0L564.2 914.2L564.4 913.9L564.6 914.0L564.8 914.4L565.0 914.3L565.2 914.5L565.4 914.9L565.6 915.1L565.8 915.4L566.0 915.5L566.2 915.7L566.4 916.2L566.6 916.5L566.8 916.6L567.0 916.8L567.2 917.4L567.4 917.8L567.6 918.1L567.8 918.5L568.0 919.0L568.2 919.5L568.4 920.0L568.6 920.6L568.8 921.1L569.0 921.8L569.2 922.1L569.4 922.8L569.6 923.2L569.8 924.0L570.0 925.0L570.2 925.6L570.4 926.1L570.6 927.0L570.8 927.6L571.0 928.6L571.2 929.5L571.4 929.9L571.6 931.0L571.8 931.5L572.0 932.2L572.2 933.4L572.4 933.9L572.6 934.8L572.8 936.1L573.0 937.0L573.2 937.9L573.4 938.9L573.6 940.2L573.8 941.1L574.0 942.2L574.2 943.1L574.4 944.3L574.6 945.3L574.8 947.1L575.0 947.7L575.2 949.2L575.4 950.7L575.6 951.5L575.8 952.8L576.0 954.1L576.2 955.4L576.4 956.6L576.6 957.4L576.8 958.5L577.0 959.4L577.2 961.1L577.4 961.8L577.6 963.6L577.8 964.2L578.0 965.4L578.2 967.2L578.4 968.5L578.6 970.1L578.8 971.1L579.0 973.0L579.2 974.3L579.4 974.2L579.6 976.0L579.8 977.2L580.0 978.4L580.2 979.0L580.4 979.9L580.6 981.4L580.8 983.9L581.0 984.5L581.2 984.6L581.4 986.6L581.6 986.7L581.8 987.1L582.0 989.2L582.2 990.6L582.4 991.5L582.6 991.9L582.8 992.2L583.0 993.5L583.2 995.3L583.4 994.2L583.6 995.6L583.8 997.3L584.0 997.5L584.2 1000.0L584.4 1000.7L584.6 999.2L584.8 1002.4L585.0 1003.6L585.2 1002.4L585.4 1002.3L585.6 1005.0L585.8 1003.9L586.0 1006.6L586.2 1005.5L586.4 1006.1L586.6 1007.5L586.8 1009.1L587.0 1009.1L587.2 1007.8L587.4 1010.5L587.6 1009.1L587.8 1011.2L588.0 1014.2L588.2 1013.0L588.4 1012.4L588.6 1015.8L588.8 1013.9L589.0 1015.8L589.2 1017.0L589.4 1017.0L589.6 1014.4L589.8 1018.4L590.0 1017.4L590.2 1016.6L590.4 1018.2L590.6 1020.3L590.8 1019.3L591.0 1020.8L591.2 1018.4L591.4 1021.7L591.6 1020.5L591.8 1019.8L592.0 1023.2L592.2 1024.1L592.4 1023.1L592.6 1022.8L592.8 1023.0L593.0 1025.8L593.2 1026.2L593.4 1025.7L593.6 1026.4L593.8 1027.6L594.0 1027.0L594.2 1025.8L594.4 1026.1L594.6 1029.6L594.8 1028.7L595.0 1027.1L595.2 1029.0L595.4 1031.0L595.6 1028.4L595.8 1029.2L596.0 1030.9L596.2 1028.5L596.4 1029.9L596.6 1031.7L596.8 1029.1L597.0 1033.8L597.2 1030.7L597.4 1034.1L597.6 1030.4L597.8 1032.9L598.0 1033.3L598.2 1033.2L598.4 1033.2L598.6 1036.1L598.8 1034.8L599.0 1031.8L599.2 1031.2L599.4 1033.8L599.6 1031.3L599.8 1037.6L600.0 1037.0L600.2 1033.2L600.4 1034.4L600.6 1034.5L600.8 1039.4L601.0 1038.6L601.2 1035.0L601.4 1037.8L601.6 1039.2L601.8 1038.0L602.0 1037.2L602.2 1041.0L602.4 1036.1L602.6 1039.3L602.8 1039.6L603.0 1035.7L603.2 1037.4L603.4 1042.3L603.6 1036.6L603.8 1041.4L604.0 1036.5L604.2 1041.1L604.4 1037.7L604.6 1036.3L604.8 1041.0L605.0 1040.4L605.2 1037.0L605.4 1036.8L605.6 1037.6L605.8 1044.4L606.0 1043.9L606.2 1043.1L606.4 1042.6L606.6 1042.1L606.8 1042.2L607.0 1042.7L607.2 1044.4L607.4 1040.6L607.6 1046.7L607.8 1042.8L608.0 1046.2L608.2 1040.0L608.4 1039.7L608.6 1044.6L608.8 1045.7L609.0 1042.3L609.2 1048.6L609.4 1043.0L609.6 1045.0L609.8 1044.1L610.0 1046.1L610.2 1047.1L610.4 1047.8L610.6 1043.2L610.8 1045.8L611.0 1042.3L611.2 1048.2L611.4 1046.8L611.6 1044.9L611.8 1050.1L612.0 1047.4L612.2 1052.2L612.4 1046.5L612.6 1047.2L612.8 1050.7L613.0 1052.7L613.2 1046.1L613.4 1045.5L613.6 1046.7L613.8 1045.2L614.0 1051.1L614.2 1049.8L614.4 1045.0L614.6 1045.9L614.8 1046.8L615.0 1050.3L615.2 1047.1L615.4 1050.2L615.6 1047.3L615.8 1049.8L616.0 1048.2L616.2 1049.4L616.4 1054.3L616.6 1051.5L616.8 1051.0L617.0 1051.8L617.2 1049.1L617.4 1055.8L617.6 1051.3L617.8 1051.0L618.0 1050.4L618.2 1053.9L618.4 1055.0L618.6 1050.6L618.8 1049.7L619.0 1051.5L619.2 1047.7L619.4 1050.0L619.6 1057.2L619.8 1057.1L620.0 1056.7L620.2 1058.5L620.4 1050.9L620.6 1054.4L620.8 1053.1L621.0 1059.9L621.2 1061.5L621.4 1058.6L621.6 1058.7L621.8 1052.6L622.0 1051.4L622.2 1056.6L622.4 1052.7L622.6 1062.1L622.8 1053.0L623.0 1056.2L623.2 1055.3L623.4 1060.9L623.6 1057.0L623.8 1052.8L624.0 1060.6L624.2 1062.3L624.4 1063.2L624.6 1060.1L624.8 1058.4L625.0 1064.9L625.2 1058.3L625.4 1058.1L625.6 1065.9L625.8 1056.1L626.0 1053.1L626.2 1053.9L626.4 1060.3L626.6 1053.2L626.8 1060.9L627.0 1054.9L627.2 1061.3L627.4 1058.1L627.6 1067.2L627.8 1061.8L628.0 1066.9L628.2 1054.5L628.4 1059.0L628.6 1058.0L628.8 1060.6L629.0 1055.6L629.2 1061.5L629.4 1057.4L629.6 1062.5L629.8 1060.4L630.0 1056.1L630.2 1064.3L630.4 1061.4L630.6 1067.9L630.8 1061.3L631.0 1063.2L631.2 1060.8L631.4 1067.4L631.6 1064.2L631.8 1064.6L632.0 1062.5L632.2 1057.4L632.4 1060.1L632.6 1062.6L632.8 1058.7L633.0 1068.1L633.2 1065.0L633.4 1066.7L633.6 1062.7L633.8 1061.1L634.0 1070.9L634.2 1071.6L634.4 1058.4L634.6 1065.6L634.8 1065.8L635.0 1067.0L635.2 1059.8L635.4 1061.0L635.6 1071.3L635.8 1063.6L636.0 1071.8L636.2 1072.2L636.4 1073.6L636.6 1071.9L636.8 1060.1L637.0 1072.3L637.2 1069.9L637.4 1067.2L637.6 1076.1L637.8 1069.1L638.0 1063.1L638.2 1073.5L638.4 1065.6L638.6 1070.8L638.8 1067.0L639.0 1077.4L639.2 1069.7L639.4 1062.9L639.6 1062.6L639.8 1072.7L640.0 1062.7L640.2 1069.0L640.4 1076.1L640.6 1078.0L640.8 1071.4L641.0 1071.8L641.2 1073.1L641.4 1069.1L641.6 1069.8L641.8 1071.2L642.0 1076.2L642.2 1062.3L642.4 1068.9L642.6 1066.5L642.8 1064.5L643.0 1076.1L643.2 1072.1L643.4 1065.3L643.6 1079.1L643.8 1070.5L644.0 1077.7L644.2 1077.7L644.4 1066.0L644.6 1070.4L644.8 1068.1L645.0 1070.9L645.2 1066.5L645.4 1065.2L645.6 1066.3L645.8 1078.2L646.0 1067.3L646.2 1076.5L646.4 1064.0L646.6 1065.2L646.8 1076.3L647.0 1083.6L647.2 1079.7L647.4 1072.1L647.6 1073.4L647.8 1071.5L648.0 1077.6L648.2 1076.7L648.4 1073.7L648.6 1073.4L648.8 1073.0L649.0 1074.9L649.2 1082.9L649.4 1081.4L649.6 1065.5L649.8 1076.5L650.0 1067.4L650.2 1080.2L650.4 1083.2L650.6 1075.2L650.8 1080.5L651.0 1075.5L651.2 1080.5L651.4 1080.6L651.6 1077.5L651.8 1069.6L652.0 1072.5L652.2 1070.4L652.4 1072.6L652.6 1085.3L652.8 1067.4L653.0 1078.9L653.2 1081.9L653.4 1083.7L653.6 1078.5L653.8 1075.6L654.0 1080.7L654.2 1079.9L654.4 1072.6L654.6 1078.0L654.8 1081.7L655.0 1082.4L655.2 1086.2L655.4 1068.9L655.6 1081.1L655.8 1074.1L656.0 1080.9L656.2 1070.0L656.4 1071.2L656.6 1082.8L656.8 1090.1L657.0 1082.4L657.2 1081.2L657.4 1075.9L657.6 1071.0L657.8 1087.7L658.0 1082.8L658.2 1076.2L658.4 1076.7L658.6 1083.2L658.8 1077.7L659.0 1076.0L659.2 1085.1L659.4 1087.9L659.6 1088.0L659.8 1073.0L660.0 1081.3L660.2 1078.8L660.4 1078.1L660.6 1071.9L660.8 1080.4L661.0 1084.3L661.2 1074.2L661.4 1084.2L661.6 1089.8L661.8 1082.2L662.0 1091.1L662.2 1086.4L662.4 1073.6L662.6 1077.8L662.8 1076.1L663.0 1088.5L663.2 1090.1L663.4 1071.8L663.6 1078.5L663.8 1078.6L664.0 1071.1L664.2 1080.4L664.4 1079.7L664.6 1074.9L664.8 1088.6L665.0 1087.1L665.2 1076.4L665.4 1077.6L665.6 1077.9L665.8 1077.2L666.0 1075.1L666.2 1087.3L666.4 1083.6L666.6 1092.1L666.8 1085.8L667.0 1079.4L667.2 1075.7L667.4 1091.7L667.6 1079.7L667.8 1084.4L668.0 1075.5L668.2 1092.9L668.4 1080.5L668.6 1080.1L668.8 1079.7L669.0 1090.7L669.2 1091.1L669.4 1077.7L669.6 1075.3L669.8 1090.2L670.0 1081.8L670.2 1088.8L670.4 1075.6L670.6 1087.2L670.8 1078.0L671.0 1083.7L671.2 1081.8L671.4 1077.3L671.6 1073.4L671.8 1084.0L672.0 1084.9L672.2 1080.7L672.4 1094.7L672.6 1079.5L672.8 1083.8L673.0 1083.9L673.2 1075.1L673.4 1086.9L673.6 1092.8L673.8 1093.1L674.0 1080.6L674.2 1090.6L674.4 1093.5L674.6 1080.4L674.8 1092.0L675.0 1087.4L675.2 1087.9L675.4 1093.6L675.6 1081.2L675.8 1094.1L676.0 1089.8L676.2 1096.5L676.4 1096.3L676.6 1094.0L676.8 1079.3L677.0 1087.3L677.2 1079.8L677.4 1077.4L677.6 1092.2L677.8 1076.1L678.0 1074.5L678.2 1082.6L678.4 1091.3L678.6 1079.5L678.8 1074.7L679.0 1092.3L679.2 1091.0L679.4 1071.8L679.6 1076.8L679.8 1079.8L680.0 1082.6L680.2 1075.6L680.4 1096.1L680.6 1095.4L680.8 1078.3L681.0 1094.3L681.2 1082.4L681.4 1091.1L681.6 1078.4L681.8 1075.2L682.0 1079.4L682.2 1081.8L682.4 1082.3L682.6 1087.6L682.8 1078.8L683.0 1082.1L683.2 1076.1L683.4 1076.6L683.6 1076.7L683.8 1086.0L684.0 1090.2L684.2 1077.9L684.4 1088.0L684.6 1090.2L684.8 1073.6L685.0 1072.9L685.2 1076.1L685.4 1081.5L685.6 1087.1L685.8 1090.2L686.0 1069.5L686.2 1089.5L686.4 1069.9L686.6 1082.8L686.8 1073.4L687.0 1071.6L687.2 1088.6L687.4 1079.8L687.6 1073.8L687.8 1083.5L688.0 1083.1L688.2 1076.4L688.4 1080.9L688.6 1088.9L688.8 1071.3L689.0 1068.4L689.2 1081.5L689.4 1084.2L689.6 1068.3L689.8 1085.3L690.0 1080.2L690.2 1079.3L690.4 1071.3L690.6 1081.0L690.8 1078.7L691.0 1081.0L691.2 1069.3L691.4 1077.6L691.6 1066.8L691.8 1074.4L692.0 1063.2L692.2 1072.9L692.4 1063.5L692.6 1073.1L692.8 1076.2L693.0 1073.2L693.2 1070.3L693.4 1061.5L693.6 1073.8L693.8 1064.7L694.0 1068.3L694.2 1060.7L694.4 1063.8L694.6 1070.3L694.8 1060.8L695.0 1059.4L695.2 1062.4L695.4 1064.3L695.6 1067.4L695.8 1059.1L696.0 1056.2L696.2 1065.5L696.4 1056.6L696.6 1051.7L696.8 1061.9L697.0 1057.7L697.2 1060.9L697.4 1060.4L697.6 1061.0L697.8 1058.0L698.0 1060.6L698.2 1056.7L698.4 1051.5L698.6 1058.0L698.8 1058.6L699.0 1054.9L699.2 1050.1L699.4 1049.9L699.6 1048.0L699.8 1054.2L700.0 1046.3L700.2 1051.9L700.4 1051.4L700.6 1050.9L700.8 1052.3L701.0 1051.3L701.2 1048.5L701.4 1045.8L701.6 1047.6L701.8 1045.8L702.0 1045.4L702.2 1047.0L702.4 1046.6L702.6 1043.2L702.8 1047.4L703.0 1048.2L703.2 1047.6L703.4 1044.8L703.6 1042.5L703.8 1041.2L704.0 1043.9L704.2 1043.4L704.4 1042.0L704.6 1040.1L704.8 1040.2L705.0 1047.6L705.2 1038.2L705.4 1043.0L705.6 1040.5L705.8 1038.3L706.0 1043.3L706.2 1043.1L706.4 1038.3L706.6 1041.8L706.8 1037.9L707.0 1038.4L707.2 1039.1L707.4 1041.0L707.6 1042.8L707.8 1039.4L708.0 1038.9L708.2 1041.0L708.4 1036.5L708.6 1041.7L708.8 1036.7L709.0 1036.4L709.2 1041.5L709.4 1036.7L709.6 1036.1L709.8 1039.6L710.0 1036.8L710.2 1034.7L710.4 1035.6L710.6 1037.1L710.8 1038.2L711.0 1039.0L711.2 1040.3L711.4 1041.2L711.6 1037.4L711.8 1034.8L712.0 1041.7L712.2 1040.5L712.4 1039.5L712.6 1037.8L712.8 1042.3L713.0 1041.1L713.2 1040.5L713.4 1042.7L713.6 1043.5L713.8 1045.0L714.0 1044.2L714.2 1039.8L714.4 1043.6L714.6 1039.6L714.8 1038.7L715.0 1044.1L715.2 1044.5L715.4 1047.6L715.6 1041.4L715.8 1044.4L716.0 1045.1L716.2 1044.0L716.4 1045.5L716.6 1046.9L716.8 1050.1L717.0 1047.0L717.2 1048.9L717.4 1055.1L717.6 1052.8L717.8 1054.9L718.0 1053.0L718.2 1056.4L718.4 1053.5L718.6 1059.2L718.8 1060.6L719.0 1060.5L719.2 1059.5L719.4 1055.3L719.6 1060.6L719.8 1063.9L720.0 1060.0L720.2 1057.5L720.4 1060.8L720.6 1059.4L720.8 1062.7L721.0 1068.4L721.2 1062.0L721.4 1061.5L721.6 1065.5L721.8 1072.2L722.0 1071.8L722.2 1062.5L722.4 1069.0L722.6 1064.0L722.8 1070.4L723.0 1062.5L723.2 1077.1L723.4 1072.1L723.6 1064.2L723.8 1078.1L724.0 1061.7L724.2 1079.8L724.4 1074.1L724.6 1081.1L724.8 1077.9L725.0 1081.7L725.2 1080.9L725.4 1083.5L725.6 1073.9L725.8 1069.7L726.0 1069.4L726.2 1073.5L726.4 1069.8L726.6 1084.1L726.8 1070.5L727.0 1088.9L727.2 1080.9L727.4 1076.2L727.6 1090.5L727.8 1076.3L728.0 1077.9L728.2 1071.8L728.4 1088.8L728.6 1080.5L728.8 1092.1L729.0 1078.5L729.2 1079.5L729.4 1079.9L729.6 1090.2L729.8 1091.7L730.0 1089.0L730.2 1077.9L730.4 1089.9L730.6 1092.4L730.8 1092.2L731.0 1084.7L731.2 1078.5L731.4 1092.1L731.6 1081.6L731.8 1093.7L732.0 1087.7L732.2 1098.5L732.4 1077.7L732.6 1088.2L732.8 1098.5L733.0 1081.0L733.2 1074.2L733.4 1101.2L733.6 1090.9L733.8 1084.4L734.0 1082.5L734.2 1106.9L734.4 1096.3L734.6 1103.1L734.8 1088.0L735.0 1102.4L735.2 1095.4L735.4 1086.7L735.6 1107.3L735.8 1086.4L736.0 1098.1L736.2 1091.9L736.4 1082.7L736.6 1106.9L736.8 1093.2L737.0 1090.7L737.2 1090.7L737.4 1089.2L737.6 1105.6L737.8 1085.5L738.0 1103.0L738.2 1107.8L738.4 1093.3L738.6 1094.8L738.8 1093.5L739.0 1092.0L739.2 1105.2L739.4 1087.9L739.6 1107.6L739.8 1114.2L740.0 1096.9L740.2 1113.6L740.4 1097.6L740.6 1087.3L740.8 1110.7L741.0 1087.5L741.2 1097.0L741.4 1102.2L741.6 1107.7L741.8 1109.5L742.0 1120.3L742.2 1098.4L742.4 1111.6L742.6 1104.8L742.8 1101.3L743.0 1111.3L743.2 1089.6L743.4 1083.6L743.6 1094.0L743.8 1091.9L744.0 1121.0L744.2 1100.1L744.4 1101.9L744.6 1117.3L744.8 1122.6L745.0 1082.5L745.2 1105.1L745.4 1086.8L745.6 1105.7L745.8 1115.0L746.0 1088.4L746.2 1088.6L746.4 1104.2L746.6 1109.0L746.8 1095.6L747.0 1110.3L747.2 1114.6L747.4 1096.9L747.6 1104.6L747.8 1117.4L748.0 1087.7L748.2 1099.2L748.4 1113.2L748.6 1100.7L748.8 1117.5L749.0 1107.2L749.2 1105.4L749.4 1091.2L749.6 1099.6L749.8 1106.5L750.0 1117.6L750.2 1103.5L750.4 1102.6L750.6 1114.3L750.8 1088.0L751.0 1112.3L751.2 1106.2L751.4 1116.8L751.6 1114.1L751.8 1115.5L752.0 1120.8L752.2 1103.7L752.4 1088.9L752.6 1102.6L752.8 1120.6L753.0 1110.7L753.2 1123.3L753.4 1114.1L753.6 1094.3L753.8 1114.9L754.0 1122.0L754.2 1097.5L754.4 1111.6L754.6 1110.6L754.8 1089.6L755.0 1114.9L755.2 1107.9L755.4 1097.3L755.6 1112.9L755.8 1118.5L756.0 1099.3L756.2 1105.0L756.4 1109.5L756.6 1122.5L756.8 1114.0L757.0 1110.1L757.2 1115.4L757.4 1105.8L757.6 1095.8L757.8 1123.6L758.0 1104.1L758.2 1116.4L758.4 1105.0L758.6 1117.6L758.8 1115.0L759.0 1104.9L759.2 1102.4L759.4 1100.1L759.6 1094.4L759.8 1119.4L760.0 1104.0L760.2 1106.0L760.4 1086.0L760.6 1126.8L760.8 1096.1L761.0 1116.0L761.2 1121.6L761.4 1122.1L761.6 1123.5L761.8 1102.3L762.0 1118.3L762.2 1122.6L762.4 1123.8L762.6 1090.1L762.8 1114.2L763.0 1090.0L763.2 1095.1L763.4 1109.0L763.6 1091.2L763.8 1095.3L764.0 1120.7L764.2 1113.0L764.4 1113.3L764.6 1118.6L764.8 1087.3L765.0 1090.2L765.2 1092.6L765.4 1098.8L765.6 1119.6L765.8 1102.4L766.0 1085.6L766.2 1088.9L766.4 1124.1L766.6 1114.2L766.8 1108.4L767.0 1119.0L767.2 1100.3L767.4 1098.4L767.6 1101.0L767.8 1121.8L768.0 1106.8L768.2 1089.0L768.4 1115.6L768.6 1108.2L768.8 1098.4L769.0 1115.8L769.2 1104.1L769.4 1104.1L769.6 1104.1L769.8 1094.8L770.0 1100.2L770.2 1084.8L770.4 1121.7L770.6 1095.0L770.8 1091.0L771.0 1121.3L771.2 1101.1L771.4 1105.9L771.6 1113.6L771.8 1105.4L772.0 1108.7L772.2 1119.9L772.4 1116.3L772.6 1094.4L772.8 1123.5L773.0 1102.5L773.2 1097.7L773.4 1120.2L773.6 1093.7L773.8 1119.7L774.0 1097.8L774.2 1100.9L774.4 1099.1L774.6 1109.7L774.8 1111.8L775.0 1108.4L775.2 1091.1L775.4 1096.7L775.6 1115.8L775.8 1088.2L776.0 1117.9L776.2 1115.5L776.4 1116.1L776.6 1103.2L776.8 1102.4L777.0 1098.0L777.2 1123.6L777.4 1097.6L777.6 1121.4L777.8 1127.9L778.0 1099.7L778.2 1087.4L778.4 1096.5L778.6 1093.4L778.8 1113.6L779.0 1111.9L779.2 1102.5L779.4 1091.2L779.6 1117.5L779.8 1105.8L780.0 1119.6L780.2 1090.4L780.4 1096.9L780.6 1113.2L780.8 1094.0L781.0 1088.2L781.2 1110.6L781.4 1106.1L781.6 1123.9L781.8 1122.1L782.0 1098.4L782.2 1094.6L782.4 1118.0L782.6 1088.4L782.8 1117.8L783.0 1103.3L783.2 1092.5L783.4 1093.5L783.6 1096.7L783.8 1119.3L784.0 1120.3L784.2 1110.4L784.4 1117.8L784.6 1113.7L784.8 1104.7L785.0 1113.0L785.2 1110.5L785.4 1102.1L785.6 1098.3L785.8 1114.3L786.0 1097.9L786.2 1128.5L786.4 1119.0L786.6 1126.0L786.8 1101.1L787.0 1117.1L787.2 1122.4L787.4 1118.0L787.6 1109.4L787.8 1114.0L788.0 1116.1L788.2 1111.7L788.4 1103.5L788.6 1112.4L788.8 1101.0L789.0 1095.1L789.2 1123.5L789.4 1094.3L789.6 1123.5L789.8 1092.8L790.0 1089.5L790.2 1110.5L790.4 1109.8L790.6 1125.0L790.8 1114.0L791.0 1112.7L791.2 1090.7L791.4 1112.4L791.6 1100.0L791.8 1100.9L792.0 1114.6L792.2 1115.8L792.4 1113.9L792.6 1093.7L792.8 1102.4L793.0 1098.1L793.2 1106.8L793.4 1106.9L793.6 1120.2L793.8 1111.3L794.0 1129.2L794.2 1130.7L794.4 1096.4L794.6 1114.8L794.8 1087.7L795.0 1097.6L795.2 1119.5L795.4 1117.7L795.6 1106.5L795.8 1129.3L796.0 1123.0L796.2 1108.9L796.4 1112.3L796.6 1094.5L796.8 1121.4L797.0 1118.0L797.2 1101.6L797.4 1099.0L797.6 1094.9L797.8 1111.9L798.0 1111.6L798.2 1102.9L798.4 1132.4L798.6 1109.2L798.8 1130.1L799.0 1094.6L799.2 1118.0L799.4 1128.0L799.6 1118.2L799.8 1120.5L800.0 1095.1L800.2 1126.9L800.4 1128.5L800.6 1093.1L800.8 1126.4L801.0 1106.7L801.2 1098.3L801.4 1125.8L801.6 1111.0L801.8 1110.7L802.0 1107.5L802.2 1121.3L802.4 1107.9L802.6 1112.9L802.8 1109.0L803.0 1112.6L803.2 1118.8L803.4 1117.4L803.6 1094.5L803.8 1121.3L804.0 1108.6L804.2 1105.4L804.4 1098.1L804.6 1120.5L804.8 1098.9L805.0 1100.1L805.2 1109.1L805.4 1087.2L805.6 1112.9L805.8 1111.2L806.0 1113.9L806.2 1128.2L806.4 1117.9L806.6 1097.5L806.8 1093.0L807.0 1094.6L807.2 1093.2L807.4 1130.2L807.6 1107.5L807.8 1127.2L808.0 1113.1L808.2 1125.8L808.4 1100.1L808.6 1109.5L808.8 1100.1L809.0 1091.0L809.2 1125.5L809.4 1130.5L809.6 1097.1L809.8 1118.5L810.0 1091.5L810.2 1093.2L810.4 1092.2L810.6 1103.3L810.8 1109.0L811.0 1126.9L811.2 1114.7L811.4 1130.1L811.6 1108.9L811.8 1117.2L812.0 1097.1L812.2 1111.8L812.4 1131.9L812.6 1099.4L812.8 1095.0L813.0 1086.9L813.2 1111.1L813.4 1114.8L813.6 1113.4L813.8 1126.6L814.0 1090.1L814.2 1102.6L814.4 1107.6L814.6 1124.7L814.8 1121.7L815.0 1132.8L815.2 1135.8L815.4 1098.4L815.6 1133.0L815.8 1115.9L816.0 1132.2L816.2 1129.3L816.4 1112.1L816.6 1113.7L816.8 1127.7L817.0 1102.7L817.2 1116.9L817.4 1119.7L817.6 1128.1L817.8 1090.0L818.0 1118.5L818.2 1106.3L818.4 1100.4L818.6 1096.6L818.8 1119.9L819.0 1121.5L819.2 1106.9L819.4 1118.1L819.6 1111.7L819.8 1095.0L820.0 1132.1L820.2 1095.8L820.4 1126.6L820.6 1094.3L820.8 1099.8L821.0 1089.5L821.2 1097.7L821.4 1103.5L821.6 1135.8L821.8 1122.2L822.0 1110.2L822.2 1131.8L822.4 1115.7L822.6 1105.9L822.8 1101.6L823.0 1112.8L823.2 1125.5L823.4 1095.5L823.6 1124.0L823.8 1114.3L824.0 1111.7L824.2 1122.9L824.4 1135.8L824.6 1125.0L824.8 1106.6L825.0 1111.6L825.2 1115.3L825.4 1106.1L825.6 1104.9L825.8 1121.4L826.0 1105.1L826.2 1112.4L826.4 1113.1L826.6 1120.2L826.8 1134.6L827.0 1123.9L827.2 1127.4L827.4 1093.7L827.6 1129.0L827.8 1131.8L828.0 1119.3L828.2 1124.0L828.4 1122.9L828.6 1124.9L828.8 1129.0L829.0 1123.8L829.2 1109.3L829.4 1120.2L829.6 1131.8L829.8 1106.6L830.0 1100.2L830.2 1109.1L830.4 1126.3L830.6 1132.4L830.8 1110.1L831.0 1094.1L831.2 1126.9L831.4 1132.2L831.6 1132.2L831.8 1104.7L832.0 1110.1L832.2 1121.9L832.4 1133.2L832.6 1132.5L832.8 1105.7L833.0 1119.5L833.2 1112.5L833.4 1120.2L833.6 1123.2L833.8 1112.4L834.0 1117.5L834.2 1106.2L834.4 1104.6L834.6 1100.3L834.8 1106.0L835.0 1127.0L835.2 1132.2L835.4 1106.2L835.6 1108.2L835.8 1133.5L836.0 1104.9L836.2 1134.5L836.4 1111.7L836.6 1124.4L836.8 1102.9L837.0 1122.0L837.2 1107.7L837.4 1120.7L837.6 1093.3L837.8 1123.1L838.0 1132.2L838.2 1095.7L838.4 1131.8L838.6 1124.6L838.8 1094.5L839.0 1120.1L839.2 1123.5L839.4 1109.4L839.6 1105.1L839.8 1097.8L840.0 1109.8L840.2 1093.5L840.4 1112.2L840.6 1107.4L840.8 1127.1L841.0 1095.3L841.2 1126.4L841.4 1133.8L841.6 1103.4L841.8 1098.3L842.0 1132.5L842.2 1116.2L842.4 1131.6L842.6 1135.8L842.8 1131.8L843.0 1100.5L843.2 1109.9L843.4 1130.0L843.6 1135.8L843.8 1123.8L844.0 1131.9L844.2 1132.8L844.4 1133.8L844.6 1101.1L844.8 1132.2L845.0 1121.8L845.2 1133.7L845.4 1130.4L845.6 1107.1L845.8 1108.1L846.0 1133.3L846.2 1119.5L846.4 1132.1L846.6 1134.7L846.8 1116.4L847.0 1091.4L847.2 1127.9L847.4 1103.4L847.6 1132.5L847.8 1129.4L848.0 1127.9L848.2 1101.4L848.4 1114.8L848.6 1122.9L848.8 1110.1L849.0 1106.1L849.2 1093.8L849.4 1113.2L849.6 1113.8L849.8 1117.2L850.0 1133.3L850.2 1090.2L850.4 1132.1L850.6 1114.9L850.8 1095.6L851.0 1102.2L851.2 1095.0L851.4 1105.8L851.6 1097.4L851.8 1101.4L852.0 1126.2L854.2 1104.8L856.4 1128.8L858.6 1107.2L860.8 1134.8L863.0 1096.3L865.2 1135.8L867.4 1133.1L869.6 1125.9L871.8 1130.8L874.0 1101.0L876.2 1127.0L878.4 1120.6L880.6 1107.8L882.8 1096.5L885.0 1125.4L887.2 1134.8L889.4 1095.1L891.6 1095.9L893.8 1135.1L896.0 1104.3L898.2 1131.3L900.4 1088.7L902.6 1135.4L904.8 1088.6L907.0 1106.3L909.2 1095.2L911.4 1129.4" stroke="#231815" stroke-width="2.8"/>
<path d="M191.4 1138.9L192.4 1138.9L193.4 1138.9L194.4 1138.9L195.4 1138.9L196.4 1138.9L197.4 1138.9L198.4 1138.8L199.4 1138.8L200.4 1138.8L201.4 1138.8L202.4 1138.7L203.4 1138.7L204.4 1138.7L205.4 1138.7L206.4 1138.6L207.4 1138.6L208.4 1138.5L209.4 1138.5L210.4 1138.4L211.4 1138.4L212.4 1138.3L213.4 1138.3L214.4 1138.2L215.4 1138.2L216.4 1138.1L217.4 1138.1L218.4 1138.0L219.4 1137.9L220.4 1137.9L221.4 1137.8L222.4 1137.7L223.4 1137.6L224.4 1137.5L225.4 1137.5L226.4 1137.4L227.4 1137.3L228.4 1137.2L229.4 1137.1L230.4 1137.0L231.4 1136.9L232.4 1136.8L233.4 1136.7L234.4 1136.6L235.4 1136.5L236.4 1136.4L237.4 1136.3L238.4 1136.2L239.4 1136.1L240.4 1135.9L241.4 1135.8L242.4 1135.7L243.4 1135.6L244.4 1135.5L245.4 1135.3L246.4 1135.2L247.4 1135.1L248.4 1134.9L249.4 1134.8L250.4 1134.6L251.4 1134.5L252.4 1134.4L253.4 1134.2L254.4 1134.1L255.4 1133.9L256.4 1133.8L257.4 1133.6L258.4 1133.4L259.4 1133.3L260.4 1133.1L261.4 1132.9L262.4 1132.8L263.4 1132.6L264.4 1132.4L265.4 1132.2L266.4 1131.9L267.4 1131.5L268.4 1131.0L269.4 1130.4L270.4 1129.4L271.4 1128.5L272.4 1127.9L273.4 1127.7L274.4 1127.5L275.4 1127.4L276.4 1127.3L277.4 1127.2L278.4 1127.2L279.4 1127.1L280.4 1127.0L281.4 1126.8L282.4 1126.7L283.4 1126.6L284.4 1126.5L285.4 1126.4L286.4 1126.3L287.4 1126.2L288.4 1126.1L289.4 1126.0L290.4 1125.8L291.4 1125.7L292.4 1125.6L293.4 1125.5L294.4 1125.4L295.4 1125.3L296.4 1125.2L297.4 1125.1L298.4 1125.0L299.4 1124.9L300.4 1124.8L301.4 1124.7L302.4 1124.6L303.4 1124.4L304.4 1124.3L305.4 1124.2L306.4 1124.1L307.4 1124.0L308.4 1123.9L309.4 1123.8L310.4 1123.7L311.4 1123.5L312.4 1123.4L313.4 1123.3L314.4 1123.2L315.4 1123.1L316.4 1123.0L317.4 1122.8L318.4 1122.7L319.4 1122.6L320.4 1122.5L321.4 1122.4L322.4 1122.2L323.4 1122.1L324.4 1122.0L325.4 1121.8L326.4 1121.7L327.4 1121.6L328.4 1121.4L329.4 1121.3L330.4 1121.2L331.4 1121.0L332.4 1120.9L333.4 1120.7L334.4 1120.6L335.4 1120.4L336.4 1120.3L337.4 1120.1L338.4 1120.0L339.4 1119.8L340.4 1119.7L341.4 1119.5L342.4 1119.3L343.4 1119.2L344.4 1119.0L345.4 1118.8L346.4 1118.7L347.4 1118.5L348.4 1118.4L349.4 1118.2L350.4 1118.0L351.4 1117.9L352.4 1117.7L353.4 1117.6L354.4 1117.4L355.4 1117.2L356.4 1117.1L357.4 1116.9L358.4 1116.7L359.4 1116.6L360.4 1116.4L361.4 1116.2L362.4 1116.0L363.4 1115.8L364.4 1115.7L365.4 1115.5L366.4 1115.3L367.4 1115.1L368.4 1114.8L369.4 1114.6L370.4 1114.4L371.4 1114.2L372.4 1113.9L373.4 1113.7L374.4 1113.4L375.4 1113.2L376.4 1112.9L377.4 1112.6L378.4 1112.4L379.4 1112.1L380.4 1111.8L381.4 1111.5L382.4 1111.1L383.4 1110.8L384.4 1110.5L385.4 1110.1L386.4 1109.7L387.4 1109.4L388.4 1109.0L389.4 1108.6L390.4 1108.2L391.4 1107.7L392.4 1107.3L393.4 1106.9L394.4 1106.4L395.4 1105.9L396.4 1105.1L397.4 1104.2L398.4 1103.1L399.4 1101.8L400.4 1100.4L401.4 1098.5L402.4 1096.1L403.4 1093.3L404.4 1090.0L405.4 1085.6L406.4 1079.8L407.4 1073.6L408.4 1067.6L409.4 1061.0L410.4 1054.6L411.4 1049.4L412.4 1045.4L413.4 1041.9L414.4 1039.7L415.4 1039.8L416.4 1041.2L417.4 1043.5L418.4 1046.3L419.4 1051.0L420.4 1056.7L421.4 1062.1L422.4 1067.3L423.4 1072.5L424.4 1077.5L425.4 1082.5L426.4 1087.1L427.4 1090.7L428.4 1093.4L429.4 1095.7L430.4 1097.4L431.4 1098.3L432.4 1099.0L433.4 1099.5L434.4 1099.9L435.4 1100.0L436.4 1100.0L437.4 1099.9L438.4 1099.7L439.4 1099.5L440.4 1099.3L441.4 1099.0L442.4 1098.7L443.4 1098.4L444.4 1098.0L445.4 1097.6L446.4 1097.3L447.4 1096.9L448.4 1096.5L449.4 1096.2L450.4 1095.9L451.4 1095.5L452.4 1095.2L453.4 1094.9L454.4 1094.5L455.4 1094.1L456.4 1093.8L457.4 1093.4L458.4 1093.0L459.4 1092.6L460.4 1092.2L461.4 1091.8L462.4 1091.4L463.4 1091.0L464.4 1090.5L465.4 1090.1L466.4 1089.7L467.4 1089.2L468.4 1088.8L469.4 1088.3L470.4 1087.9L471.4 1087.4L472.4 1086.9L473.4 1086.5L474.4 1086.0L475.4 1085.5L476.4 1085.0L477.4 1084.5L478.4 1084.0L479.4 1083.4L480.4 1082.9L481.4 1082.4L482.4 1081.8L483.4 1081.2L484.4 1080.7L485.4 1080.1L486.4 1079.5L487.4 1078.9L488.4 1078.3L489.4 1077.7L490.4 1077.0L491.4 1076.4L492.4 1075.8L493.4 1075.1L494.4 1074.4L495.4 1073.8L496.4 1073.1L497.4 1072.4L498.4 1071.7L499.4 1071.1L500.4 1070.3L501.4 1069.6L502.4 1068.9L503.4 1068.2L504.4 1067.4L505.4 1066.7L506.4 1065.9L507.4 1065.1L508.4 1064.3L509.4 1063.5L510.4 1062.7L511.4 1061.8L512.4 1060.9L513.4 1060.0L514.4 1059.1L515.4 1058.2L516.4 1057.3L517.4 1056.3L518.4 1055.3L519.4 1054.3L520.4 1053.3L521.4 1052.2L522.4 1051.1L523.4 1050.0L524.4 1048.8L525.4 1047.6L526.4 1046.3L527.4 1045.0L528.4 1043.7L529.4 1042.3L530.4 1040.8L531.4 1039.3L532.4 1037.8L533.4 1036.1L534.4 1034.4L535.4 1032.7L536.4 1030.8L537.4 1028.9L538.4 1026.8L539.4 1024.6L540.4 1022.2L541.4 1019.7L542.4 1017.0L543.4 1014.2L544.4 1011.1L545.4 1007.8L546.4 1004.2L547.4 1000.1L548.4 995.4L549.4 990.2L550.4 984.5L551.4 978.4L552.4 971.8L553.4 963.5L554.4 953.7L555.4 944.3L556.4 936.8L557.4 930.4L558.4 924.6L559.4 920.2L560.4 917.7L561.4 915.8L562.4 914.7L563.4 914.7L564.4 915.8L565.4 917.7L566.4 920.2L567.4 924.8L568.4 930.8L569.4 937.4L570.4 945.1L571.4 954.4L572.4 964.0L573.4 972.5L574.4 980.0L575.4 987.4L576.4 994.3L577.4 1000.4L578.4 1005.5L579.4 1009.6L580.4 1013.3L581.4 1016.7L582.4 1019.8L583.4 1022.7L584.4 1025.3L585.4 1027.8L586.4 1030.0L587.4 1032.0L588.4 1033.9L589.4 1035.7L590.4 1037.4L591.4 1039.1L592.4 1040.6L593.4 1042.1L594.4 1043.5L595.4 1044.8L596.4 1046.1L597.4 1047.4L598.4 1048.6L599.4 1049.7L600.4 1050.8L601.4 1051.9L602.4 1053.0L603.4 1054.0L604.4 1055.0L605.4 1056.0L606.4 1057.0L607.4 1057.9L608.4 1058.9L609.4 1059.8L610.4 1060.7L611.4 1061.6L612.4 1062.4L613.4 1063.3L614.4 1064.1L615.4 1064.9L616.4 1065.7L617.4 1066.5L618.4 1067.3L619.4 1068.0L620.4 1068.8L621.4 1069.5L622.4 1070.2L623.4 1070.9L624.4 1071.6L625.4 1072.3L626.4 1073.0L627.4 1073.7L628.4 1074.3L629.4 1075.0L630.4 1075.6L631.4 1076.3L632.4 1076.9L633.4 1077.6L634.4 1078.2L635.4 1078.8L636.4 1079.4L637.4 1080.0L638.4 1080.6L639.4 1081.2L640.4 1081.8L641.4 1082.4L642.4 1082.9L643.4 1083.5L644.4 1084.0L645.4 1084.6L646.4 1085.1L647.4 1085.6L648.4 1086.1L649.4 1086.7L650.4 1087.1L651.4 1087.6L652.4 1088.1L653.4 1088.6L654.4 1089.0L655.4 1089.5L656.4 1089.9L657.4 1090.3L658.4 1090.8L659.4 1091.2L660.4 1091.7L661.4 1092.1L662.4 1092.6L663.4 1093.0L664.4 1093.5L665.4 1093.9L666.4 1094.4L667.4 1094.8L668.4 1095.2L669.4 1095.6L670.4 1096.0L671.4 1096.4L672.4 1096.8L673.4 1097.1L674.4 1097.5L675.4 1097.8L676.4 1098.1L677.4 1098.3L678.4 1098.6L679.4 1098.8L680.4 1099.0L681.4 1099.1L682.4 1099.2L683.4 1099.3L684.4 1099.4L685.4 1099.5L686.4 1099.5L687.4 1099.6L688.4 1099.7L689.4 1099.7L690.4 1099.8L691.4 1099.8L692.4 1099.8L693.4 1099.8L694.4 1099.4L695.4 1098.8L696.4 1097.9L697.4 1096.8L698.4 1095.5L699.4 1093.4L700.4 1090.2L701.4 1086.4L702.4 1081.9L703.4 1076.4L704.4 1070.6L705.4 1064.2L706.4 1057.1L707.4 1050.8L708.4 1046.5L709.4 1042.7L710.4 1039.5L711.4 1037.5L712.4 1037.1L713.4 1038.8L714.4 1041.9L715.4 1045.6L716.4 1050.7L717.4 1057.8L718.4 1065.6L719.4 1072.5L720.4 1079.4L721.4 1086.1L722.4 1091.5L723.4 1095.8L724.4 1099.7L725.4 1102.9L726.4 1105.2L727.4 1106.8L728.4 1108.2L729.4 1109.3L730.4 1110.3L731.4 1111.1L732.4 1111.8L733.4 1112.4L734.4 1113.0L735.4 1113.6L736.4 1114.1L737.4 1114.5L738.4 1115.0L739.4 1115.4L740.4 1115.7L741.4 1116.1L742.4 1116.4L743.4 1116.8L744.4 1117.1L745.4 1117.4L746.4 1117.7L747.4 1118.0L748.4 1118.3L749.4 1118.6L750.4 1118.9L751.4 1119.2L752.4 1119.5L753.4 1119.8L754.4 1120.1L755.4 1120.3L756.4 1120.6L757.4 1120.9L758.4 1121.1L759.4 1121.4L760.4 1121.6L761.4 1121.9L762.4 1122.1L763.4 1122.4L764.4 1122.6L765.4 1122.8L766.4 1123.0L767.4 1123.3L768.4 1123.5L769.4 1123.7L770.4 1123.9L771.4 1124.1L772.4 1124.4L773.4 1124.6L774.4 1124.8L775.4 1125.0L776.4 1125.2L777.4 1125.4L778.4 1125.5L779.4 1125.7L780.4 1125.9L781.4 1126.1L782.4 1126.3L783.4 1126.5L784.4 1126.7L785.4 1126.8L786.4 1127.0L787.4 1127.2L788.4 1127.3L789.4 1127.5L790.4 1127.7L791.4 1127.9L792.4 1128.0L793.4 1128.2L794.4 1128.3L795.4 1128.5L796.4 1128.7L797.4 1128.8L798.4 1129.0L799.4 1129.2L800.4 1129.3L801.4 1129.5L802.4 1129.7L803.4 1129.8L804.4 1130.0L805.4 1130.2L806.4 1130.3L807.4 1130.5L808.4 1130.7L809.4 1130.8L810.4 1131.0L811.4 1131.2L812.4 1131.3L813.4 1131.5L814.4 1131.7L815.4 1131.8L816.4 1132.0L817.4 1132.2L818.4 1132.3L819.4 1132.5L820.4 1132.7L821.4 1132.8L822.4 1133.0L823.4 1133.1L824.4 1133.3L825.4 1133.4L826.4 1133.5L827.4 1133.7L828.4 1133.8L829.4 1134.0L830.4 1134.1L831.4 1134.2L832.4 1134.3L833.4 1134.4L834.4 1134.6L835.4 1134.7L836.4 1134.8L837.4 1134.9L838.4 1135.0L839.4 1135.0L840.4 1135.1L841.4 1135.2L842.4 1135.3L843.4 1135.3L844.4 1135.4L845.4 1135.4L846.4 1135.5L847.4 1135.5L848.4 1135.5L849.4 1135.6L850.4 1135.6L851.4 1135.6L852.4 1135.6L853.4 1135.5L854.4 1135.4L855.4 1135.2L856.4 1135.0L857.4 1134.7L858.4 1134.0L859.4 1133.1L860.4 1132.3L861.4 1131.8L862.4 1131.9L863.4 1132.3L864.4 1132.9L865.4 1134.3L866.4 1136.7L867.4 1139.2L868.4 1140.9L869.4 1141.6L870.4 1142.0L871.4 1142.4L872.4 1142.7L873.4 1142.9L874.4 1143.0L875.4 1143.2L876.4 1143.3L877.4 1143.4L878.4 1143.5L879.4 1143.6L880.4 1143.7L881.4 1143.8L882.4 1143.9L883.4 1144.0L884.4 1144.1L885.4 1144.1L886.4 1144.2L887.4 1144.3L888.4 1144.4L889.4 1144.4L890.4 1144.5L891.4 1144.6L892.4 1144.6L893.4 1144.7L894.4 1144.7L895.4 1144.8L896.4 1144.8L897.4 1144.9L898.4 1144.9L899.4 1145.0L900.4 1145.0L901.4 1145.0L902.4 1145.1L903.4 1145.1L904.4 1145.1L905.4 1145.1L906.4 1145.1L907.4 1145.2L908.4 1145.2L909.4 1145.2L910.4 1145.2L911.4 1145.2L912.4 1145.2" stroke="#0a9a48" stroke-width="5" stroke-linejoin="round" stroke-linecap="butt"/>
<path d="M192.8 1279.9L193.0 1312.0L193.2 1267.6L193.4 1284.1L193.6 1254.3L193.8 1246.8L194.0 1247.0L194.2 1281.9L194.4 1273.5L194.6 1263.0L194.8 1245.4L195.0 1252.8L195.2 1257.5L195.4 1284.0L195.6 1279.2L195.8 1272.2L196.0 1271.0L196.2 1241.1L196.4 1275.8L196.6 1279.0L196.8 1279.2L197.0 1284.7L197.2 1271.4L197.4 1269.3L197.6 1300.7L197.8 1252.3L198.0 1263.6L198.2 1281.0L198.4 1254.6L198.6 1272.2L198.8 1260.1L199.0 1255.0L199.2 1242.6L199.4 1251.2L199.6 1284.5L199.8 1278.7L200.0 1265.5L200.2 1312.0L200.4 1264.1L200.6 1270.6L200.8 1312.0L201.0 1259.7L201.2 1302.2L201.4 1263.1L201.6 1282.6L201.8 1282.4L202.0 1259.8L202.2 1266.1L202.4 1278.2L202.6 1259.8L202.8 1256.6L203.0 1250.2L203.2 1255.8L203.4 1253.4L203.6 1282.6L203.8 1280.9L204.0 1279.5L204.2 1277.5L204.4 1276.2L204.6 1283.5L204.8 1312.0L205.0 1275.9L205.2 1255.8L205.4 1285.3L205.6 1280.6L205.8 1250.0L206.0 1275.4L206.2 1312.0L206.4 1260.9L206.6 1282.0L206.8 1252.6L207.0 1285.3L207.2 1252.6L207.4 1271.1L207.6 1249.2L207.8 1249.7L208.0 1267.6L208.2 1251.9L208.4 1247.0L208.6 1273.1L208.8 1259.4L209.0 1266.8L209.2 1273.6L209.4 1276.0L209.6 1248.3L209.8 1284.7L210.0 1282.3L210.2 1243.9L210.4 1273.5L210.6 1285.8L210.8 1251.2L211.0 1249.1L211.2 1280.0L211.4 1264.6L211.6 1265.4L211.8 1284.0L212.0 1270.2L212.2 1253.6L212.4 1282.9L212.6 1270.7L212.8 1262.5L213.0 1262.3L213.2 1250.6L213.4 1276.2L213.6 1244.5L213.8 1277.3L214.0 1259.9L214.2 1260.3L214.4 1275.7L214.6 1247.1L214.8 1254.6L215.0 1266.1L215.2 1249.7L215.4 1250.5L215.6 1263.6L215.8 1281.3L216.0 1258.2L216.2 1285.1L216.4 1268.9L216.6 1274.0L216.8 1312.0L217.0 1268.4L217.2 1281.2L217.4 1273.4L217.6 1284.3L217.8 1277.0L218.0 1281.3L218.2 1283.9L218.4 1281.3L218.6 1284.6L218.8 1264.3L219.0 1284.7L219.2 1263.7L219.4 1253.6L219.6 1265.9L219.8 1276.8L220.0 1312.0L220.2 1284.6L220.4 1280.8L220.6 1274.2L220.8 1263.7L221.0 1312.0L221.2 1284.2L221.4 1275.8L221.6 1251.7L221.8 1268.1L222.0 1273.5L222.2 1270.3L222.4 1259.9L222.6 1252.1L222.8 1281.0L223.0 1312.0L223.2 1277.9L223.4 1278.2L223.6 1257.1L223.8 1283.5L224.0 1254.7L224.2 1279.8L224.4 1255.0L224.6 1248.1L224.8 1262.9L225.0 1276.6L225.2 1247.0L225.4 1280.0L225.6 1262.2L225.8 1284.9L226.0 1264.7L226.2 1312.0L226.4 1285.3L226.6 1281.1L226.8 1263.9L227.0 1264.4L227.2 1268.1L227.4 1257.7L227.6 1284.2L227.8 1300.7L228.0 1282.4L228.2 1256.0L228.4 1256.5L228.6 1248.0L228.8 1251.0L229.0 1264.5L229.2 1299.4L229.4 1284.8L229.6 1305.3L229.8 1305.0L230.0 1267.9L230.2 1285.6L230.4 1250.4L230.6 1265.8L230.8 1265.3L231.0 1252.1L231.2 1275.5L231.4 1251.8L231.6 1303.3L231.8 1270.2L232.0 1281.6L232.2 1270.1L232.4 1286.0L232.6 1259.6L232.8 1257.3L233.0 1283.7L233.2 1279.4L233.4 1254.1L233.6 1284.6L233.8 1262.4L234.0 1259.9L234.2 1285.6L234.4 1263.5L234.6 1282.0L234.8 1312.0L235.0 1258.2L235.2 1277.0L235.4 1256.0L235.6 1268.2L235.8 1280.6L236.0 1295.8L236.2 1246.9L236.4 1261.8L236.6 1254.5L236.8 1249.3L237.0 1251.3L237.2 1271.5L237.4 1282.4L237.6 1265.9L237.8 1255.1L238.0 1271.9L238.2 1283.8L238.4 1261.4L238.6 1285.3L238.8 1280.8L239.0 1273.9L239.2 1312.0L239.4 1262.7L239.6 1265.6L239.8 1266.5L240.0 1279.7L240.2 1263.6L240.4 1276.2L240.6 1261.4L240.8 1302.4L241.0 1262.6L241.2 1247.3L241.4 1247.2L241.6 1312.0L241.8 1285.1L242.0 1262.1L242.2 1243.9L242.4 1260.2L242.6 1250.7L242.8 1281.9L243.0 1255.8L243.2 1275.6L243.4 1276.5L243.6 1247.6L243.8 1257.5L244.0 1258.0L244.2 1252.9L244.4 1255.1L244.6 1255.4L244.8 1271.1L245.0 1263.6L245.2 1269.8L245.4 1283.9L245.6 1255.0L245.8 1242.5L246.0 1263.0L246.2 1273.5L246.4 1248.7L246.6 1268.8L246.8 1245.8L247.0 1270.3L247.2 1268.2L247.4 1263.5L247.6 1261.4L247.8 1247.6L248.0 1264.4L248.2 1296.4L248.4 1285.6L248.6 1283.7L248.8 1257.9L249.0 1257.8L249.2 1266.2L249.4 1261.6L249.6 1254.8L249.8 1253.5L250.0 1274.0L250.2 1259.1L250.4 1257.1L250.6 1312.0L250.8 1257.9L251.0 1284.2L251.2 1254.2L251.4 1252.6L251.6 1275.0L251.8 1245.6L252.0 1274.7L252.2 1312.0L252.4 1251.0L252.6 1284.1L252.8 1258.2L253.0 1257.2L253.2 1261.4L253.4 1284.2L253.6 1259.7L253.8 1283.8L254.0 1312.0L254.2 1303.8L254.4 1248.2L254.6 1304.4L254.8 1261.4L255.0 1285.8L255.2 1300.6L255.4 1312.0L255.6 1283.5L255.8 1283.7L256.0 1257.4L256.2 1257.4L258.4 1305.1L260.6 1260.6L262.8 1261.8L265.0 1311.6L267.2 1257.1L269.4 1249.2L271.6 1312.0L273.8 1262.1L276.0 1297.5L278.2 1246.7L280.4 1283.9L282.6 1255.4L284.8 1239.8L287.0 1300.7L289.2 1261.4L291.4 1289.1L293.6 1266.5L295.8 1290.3L298.0 1294.7L300.2 1258.9L302.4 1299.9L304.6 1249.7L306.8 1240.4L309.0 1285.3L311.2 1256.5L313.4 1259.0L315.6 1245.9L317.8 1260.3L320.0 1303.7L322.2 1299.6L324.4 1248.0L326.6 1294.4L328.8 1249.4L331.0 1254.4L333.2 1305.7L335.4 1268.8L337.6 1305.1L339.8 1257.2L342.0 1240.0L344.2 1295.0L346.4 1245.5L348.6 1274.3L350.8 1240.3L351.0 1244.7L351.2 1257.5L351.4 1243.2L351.6 1246.3L351.8 1244.1L352.0 1266.8L352.2 1273.1L352.4 1249.3L352.6 1249.6L352.8 1243.1L353.0 1240.1L353.2 1237.3L353.4 1247.4L353.6 1256.7L353.8 1247.0L354.0 1262.3L354.2 1271.4L354.4 1312.0L354.6 1267.8L354.8 1246.9L355.0 1251.4L355.2 1242.7L355.4 1263.0L355.6 1234.8L355.8 1233.6L356.0 1238.0L356.2 1250.4L356.4 1244.7L356.6 1242.0L356.8 1243.1L357.0 1242.7L357.2 1244.4L357.4 1234.7L357.6 1224.4L357.8 1249.1L358.0 1235.1L358.2 1248.7L358.4 1246.0L358.6 1234.4L358.8 1239.3L359.0 1242.0L359.2 1245.1L359.4 1232.0L359.6 1234.2L359.8 1230.5L360.0 1237.9L360.2 1236.1L360.4 1222.4L360.6 1233.8L360.8 1238.6L361.0 1221.8L361.2 1222.9L361.4 1236.1L361.6 1223.7L361.8 1219.5L362.0 1230.0L362.2 1225.9L362.4 1220.3L362.6 1225.2L362.8 1217.2L363.0 1233.1L363.2 1231.1L363.4 1220.9L363.6 1224.1L363.8 1226.2L364.0 1218.2L364.2 1220.5L364.4 1216.8L364.6 1221.8L364.8 1218.7L365.0 1225.4L365.2 1217.8L365.4 1222.8L365.6 1226.6L365.8 1219.8L366.0 1228.9L366.2 1227.0L366.4 1213.2L366.6 1215.5L366.8 1225.4L367.0 1221.0L367.2 1225.2L367.4 1215.1L367.6 1225.6L367.8 1225.1L368.0 1215.3L368.2 1212.7L368.4 1220.4L368.6 1212.3L368.8 1214.3L369.0 1221.4L369.2 1215.3L369.4 1222.9L369.6 1212.3L369.8 1221.2L370.0 1222.6L370.2 1218.1L370.4 1213.5L370.6 1219.9L370.8 1217.0L371.0 1223.2L371.2 1215.3L371.4 1219.0L371.6 1216.3L371.8 1216.3L372.0 1217.7L372.2 1216.3L372.4 1222.8L372.6 1216.3L372.8 1212.8L373.0 1215.8L373.2 1217.4L373.4 1213.0L373.6 1219.2L373.8 1216.5L374.0 1217.9L374.2 1222.1L374.4 1220.1L374.6 1226.3L374.8 1222.9L375.0 1228.3L375.2 1212.9L375.4 1215.0L375.6 1228.1L375.8 1225.4L376.0 1230.6L376.2 1216.0L376.4 1223.0L376.6 1216.6L376.8 1217.0L377.0 1221.8L377.2 1217.7L377.4 1217.5L377.6 1225.2L377.8 1225.1L378.0 1222.8L378.2 1232.1L378.4 1222.2L378.6 1222.3L378.8 1219.1L379.0 1222.9L379.2 1224.0L379.4 1222.1L379.6 1220.8L379.8 1233.7L380.0 1232.2L380.2 1233.6L380.4 1228.9L380.6 1220.7L380.8 1234.6L381.0 1220.7L381.2 1230.5L381.4 1234.6L381.6 1227.2L381.8 1235.0L382.0 1221.8L382.2 1233.0L382.4 1234.8L382.6 1227.1L382.8 1226.6L383.0 1240.6L383.2 1235.5L383.4 1239.4L383.6 1237.7L383.8 1230.1L384.0 1231.8L384.2 1241.8L384.4 1227.4L384.6 1233.7L384.8 1242.0L385.0 1225.2L385.2 1238.0L385.4 1241.2L385.6 1231.4L385.8 1242.5L386.0 1231.8L386.2 1223.5L386.4 1233.3L386.6 1236.3L386.8 1241.3L387.0 1233.8L387.2 1231.9L387.4 1239.8L387.6 1233.1L387.8 1238.0L388.0 1244.8L388.2 1252.1L388.4 1238.4L388.6 1230.4L388.8 1247.2L389.0 1237.7L389.2 1232.8L389.4 1230.5L389.6 1227.6L389.8 1241.8L390.0 1239.0L390.2 1230.1L390.4 1244.5L390.6 1240.0L390.8 1242.0L391.0 1257.7L391.2 1231.9L391.4 1240.1L391.6 1254.7L391.8 1242.5L392.0 1243.3L392.2 1231.5L392.4 1242.3L392.6 1236.3L392.8 1248.4L393.0 1237.0L393.2 1240.7L393.4 1252.0L393.6 1255.1L393.8 1253.3L394.0 1248.7L394.2 1241.7L394.4 1228.9L394.6 1246.6L394.8 1242.3L395.0 1253.3L395.2 1237.7L395.4 1238.4L395.6 1245.2L395.8 1234.8L396.0 1249.5L396.2 1257.4L396.4 1234.0L396.6 1242.2L396.8 1248.8L397.0 1244.3L397.2 1263.4L397.4 1246.3L397.6 1249.6L397.8 1252.2L398.0 1236.3L398.2 1244.6L398.4 1248.8L398.6 1249.0L398.8 1248.8L399.0 1234.7L399.2 1242.5L399.4 1259.4L399.6 1241.5L399.8 1265.5L400.0 1247.1L400.2 1237.0L400.4 1243.4L400.6 1236.0L400.8 1264.4L401.0 1250.6L401.2 1239.2L401.4 1257.2L401.6 1238.0L401.8 1265.1L402.0 1237.3L402.2 1234.9L402.4 1262.3L402.6 1252.6L402.8 1244.8L403.0 1258.9L403.2 1253.5L403.4 1255.8L403.6 1239.0L403.8 1246.9L404.0 1259.4L404.2 1246.4L404.4 1244.9L404.6 1260.3L404.8 1241.3L405.0 1247.0L405.2 1255.2L405.4 1258.8L405.6 1247.9L405.8 1253.9L406.0 1253.8L406.2 1258.1L406.4 1243.9L406.6 1248.5L406.8 1257.7L407.0 1236.2L407.2 1248.8L407.4 1260.3L407.6 1252.6L407.8 1234.9L408.0 1248.8L408.2 1257.3L408.4 1254.6L408.6 1251.9L408.8 1239.4L409.0 1238.2L409.2 1239.0L409.4 1251.9L409.6 1254.7L409.8 1235.1L410.0 1236.6L410.2 1249.0L410.4 1237.0L410.6 1242.7L410.8 1241.6L411.0 1233.9L411.2 1248.7L411.4 1250.9L411.6 1236.4L411.8 1239.7L412.0 1246.3L412.2 1252.2L412.4 1248.6L412.6 1241.0L412.8 1242.3L413.0 1241.5L413.2 1244.2L413.4 1242.8L413.6 1232.9L413.8 1245.8L414.0 1228.0L414.2 1236.0L414.4 1234.0L414.6 1246.4L414.8 1245.9L415.0 1232.8L415.2 1242.0L415.4 1231.7L415.6 1240.7L415.8 1240.9L416.0 1235.0L416.2 1236.2L416.4 1237.0L416.6 1233.9L416.8 1241.2L417.0 1230.8L417.2 1237.2L417.4 1225.1L417.6 1239.9L417.8 1233.8L418.0 1239.0L418.2 1233.7L418.4 1230.3L418.6 1241.8L418.8 1234.1L419.0 1235.5L419.2 1232.4L419.4 1223.3L419.6 1222.7L419.8 1233.9L420.0 1235.3L420.2 1223.7L420.4 1219.1L420.6 1222.5L420.8 1237.1L421.0 1232.8L421.2 1223.5L421.4 1225.3L421.6 1227.1L421.8 1228.3L422.0 1226.7L422.2 1219.5L422.4 1222.2L422.6 1226.8L422.8 1218.8L423.0 1218.0L423.2 1230.0L423.4 1228.0L423.6 1217.7L423.8 1221.9L424.0 1215.0L424.2 1229.8L424.4 1219.0L424.6 1221.2L424.8 1216.3L425.0 1221.9L425.2 1214.3L425.4 1218.7L425.6 1221.5L425.8 1221.4L426.0 1218.3L426.2 1219.6L426.4 1212.4L426.6 1216.1L426.8 1220.0L427.0 1212.5L427.2 1212.3L427.4 1212.1L427.6 1218.4L427.8 1209.5L428.0 1216.1L428.2 1214.1L428.4 1216.1L428.6 1214.8L428.8 1211.3L429.0 1221.2L429.2 1212.1L429.4 1218.0L429.6 1209.8L429.8 1218.1L430.0 1207.1L430.2 1213.0L430.4 1215.6L430.6 1216.4L430.8 1207.4L431.0 1217.2L431.2 1212.8L431.4 1216.2L431.6 1213.7L431.8 1214.0L432.0 1212.6L432.2 1214.7L432.4 1208.0L432.6 1210.5L432.8 1204.4L433.0 1211.1L433.2 1209.5L433.4 1209.1L433.6 1206.0L433.8 1205.0L434.0 1203.3L434.2 1212.2L434.4 1209.2L434.6 1201.5L434.8 1204.9L435.0 1201.4L435.2 1205.4L435.4 1207.7L435.6 1203.7L435.8 1206.8L436.0 1205.3L436.2 1206.5L436.4 1201.2L436.6 1206.4L436.8 1198.5L437.0 1206.8L437.2 1200.1L437.4 1201.0L437.6 1204.2L437.8 1201.8L438.0 1197.4L438.2 1195.6L438.4 1196.4L438.6 1196.7L438.8 1201.2L439.0 1195.6L439.2 1197.4L439.4 1198.3L439.6 1199.5L439.8 1202.0L440.0 1201.3L440.2 1195.4L440.4 1198.6L440.6 1192.9L440.8 1195.6L441.0 1200.0L441.2 1197.4L441.4 1193.6L441.6 1194.5L441.8 1198.8L442.0 1191.5L442.2 1198.7L442.4 1191.8L442.6 1192.8L442.8 1194.8L443.0 1192.0L443.2 1190.9L443.4 1191.4L443.6 1189.5L443.8 1197.5L444.0 1196.7L444.2 1197.2L444.4 1193.7L444.6 1195.5L444.8 1191.7L445.0 1194.4L445.2 1195.1L445.4 1190.0L445.6 1192.7L445.8 1193.9L446.0 1191.0L446.2 1192.0L446.4 1189.5L446.6 1194.7L446.8 1193.3L447.0 1189.5L447.2 1189.5L447.4 1192.7L447.6 1186.5L447.8 1187.4L448.0 1189.7L448.2 1189.3L448.4 1185.7L448.6 1188.8L448.8 1184.9L449.0 1189.9L449.2 1189.5L449.4 1187.5L449.6 1187.0L449.8 1184.5L450.0 1188.9L450.2 1185.3L450.4 1186.9L450.6 1188.6L450.8 1187.5L451.0 1187.5L451.2 1183.9L451.4 1184.1L451.6 1184.0L451.8 1189.6L452.0 1184.6L452.2 1186.4L452.4 1180.9L452.6 1181.8L452.8 1183.0L453.0 1182.6L453.2 1182.5L453.4 1181.9L453.6 1184.3L453.8 1183.4L454.0 1183.0L454.2 1183.8L454.4 1181.5L454.6 1180.4L454.8 1184.6L455.0 1182.9L455.2 1178.9L455.4 1182.6L455.6 1183.0L455.8 1182.4L456.0 1179.9L456.2 1178.6L456.4 1181.0L456.6 1180.8L456.8 1177.0L457.0 1178.8L457.2 1174.6L457.4 1178.1L457.6 1176.2L457.8 1178.3L458.0 1174.9L458.2 1176.7L458.4 1176.5L458.6 1176.1L458.8 1177.5L459.0 1176.0L459.2 1175.2L459.4 1171.7L459.6 1176.5L459.8 1172.9L460.0 1172.0L460.2 1174.0L460.4 1173.4L460.6 1171.6L460.8 1171.8L461.0 1172.7L461.2 1170.9L461.4 1169.8L461.6 1171.2L461.8 1171.4L462.0 1170.8L462.2 1168.2L462.4 1167.7L462.6 1170.2L462.8 1169.8L463.0 1169.8L463.2 1170.1L463.4 1169.1L463.6 1167.9L463.8 1168.0L464.0 1166.5L464.2 1167.7L464.4 1168.3L464.6 1165.9L464.8 1166.8L465.0 1168.5L465.2 1168.5L465.4 1165.5L465.6 1167.5L465.8 1163.6L466.0 1166.5L466.2 1165.3L466.4 1166.1L466.6 1163.6L466.8 1162.4L467.0 1163.1L467.2 1164.9L467.4 1165.8L467.6 1164.7L467.8 1166.2L468.0 1165.2L468.2 1162.9L468.4 1165.8L468.6 1163.0L468.8 1165.1L469.0 1163.2L469.2 1164.2L469.4 1163.5L469.6 1163.8L469.8 1163.0L470.0 1165.1L470.2 1165.5L470.4 1163.7L470.6 1165.5L470.8 1166.5L471.0 1163.9L471.2 1163.6L471.4 1163.2L471.6 1167.5L471.8 1164.9L472.0 1166.4L472.2 1165.0L472.4 1168.7L472.6 1169.3L472.8 1167.5L473.0 1167.9L473.2 1166.0L473.4 1169.5L473.6 1170.2L473.8 1168.4L474.0 1168.3L474.2 1169.1L474.4 1169.3L474.6 1168.8L474.8 1169.5L475.0 1170.7L475.2 1170.3L475.4 1170.6L475.6 1171.6L475.8 1172.0L476.0 1172.8L476.2 1170.5L476.4 1173.7L476.6 1172.7L476.8 1173.7L477.0 1172.9L477.2 1174.1L477.4 1175.8L477.6 1175.9L477.8 1174.9L478.0 1176.1L478.2 1175.8L478.4 1177.2L478.6 1177.9L478.8 1175.5L479.0 1175.6L479.2 1175.8L479.4 1179.3L479.6 1179.9L479.8 1181.5L480.0 1181.9L480.2 1179.5L480.4 1178.9L480.6 1180.6L480.8 1182.0L481.0 1179.8L481.2 1182.9L481.4 1183.3L481.6 1180.0L481.8 1184.1L482.0 1179.7L482.2 1181.3L482.4 1184.7L482.6 1184.4L482.8 1183.3L483.0 1180.4L483.2 1183.8L483.4 1183.7L483.6 1187.6L483.8 1187.4L484.0 1188.5L484.2 1186.0L484.4 1188.5L484.6 1185.6L484.8 1187.7L485.0 1187.8L485.2 1185.8L485.4 1185.9L485.6 1187.3L485.8 1186.0L486.0 1186.0L486.2 1191.1L486.4 1186.0L486.6 1187.3L486.8 1187.5L487.0 1192.0L487.2 1188.6L487.4 1189.5L487.6 1194.6L487.8 1187.8L488.0 1194.7L488.2 1193.2L488.4 1188.9L488.6 1188.6L488.8 1188.8L489.0 1194.0L489.2 1194.7L489.4 1196.2L489.6 1191.1L489.8 1191.5L490.0 1195.2L490.2 1193.7L490.4 1190.3L490.6 1197.8L490.8 1195.5L491.0 1196.9L491.2 1192.6L491.4 1190.5L491.6 1191.1L491.8 1196.4L492.0 1195.4L492.2 1198.1L492.4 1199.1L492.6 1200.3L492.8 1201.3L493.0 1192.9L493.2 1194.5L493.4 1198.5L493.6 1199.5L493.8 1197.9L494.0 1196.6L494.2 1200.1L494.4 1198.5L494.6 1195.1L494.8 1194.2L495.0 1194.6L495.2 1193.8L495.4 1196.3L495.6 1202.1L495.8 1195.7L496.0 1194.2L496.2 1194.9L496.4 1201.7L496.6 1196.0L496.8 1199.9L497.0 1197.1L497.2 1202.8L497.4 1197.0L497.6 1197.0L497.8 1202.2L498.0 1198.2L498.2 1199.0L498.4 1204.1L498.6 1201.8L498.8 1201.6L499.0 1200.7L499.2 1205.0L499.4 1204.9L499.6 1198.5L499.8 1201.4L500.0 1201.1L500.2 1202.5L500.4 1199.6L500.6 1196.5L500.8 1201.6L501.0 1203.3L501.2 1201.4L501.4 1203.1L501.6 1203.9L501.8 1203.3L502.0 1202.2L502.2 1198.7L502.4 1195.7L502.6 1204.4L502.8 1199.4L503.0 1206.5L503.2 1203.0L503.4 1202.8L503.6 1205.4L503.8 1200.7L504.0 1203.4L504.2 1197.8L504.4 1199.3L504.6 1203.6L504.8 1199.9L505.0 1204.6L505.2 1200.4L505.4 1198.0L505.6 1203.8L505.8 1198.4L506.0 1203.1L506.2 1201.7L506.4 1201.5L506.6 1200.0L506.8 1204.4L507.0 1205.8L507.2 1203.7L507.4 1201.2L507.6 1200.2L507.8 1202.3L508.0 1200.5L508.2 1205.0L508.4 1200.2L508.6 1196.6L508.8 1196.6L509.0 1195.6L509.2 1203.4L509.4 1197.3L509.6 1196.9L509.8 1198.8L510.0 1201.9L510.2 1200.2L510.4 1201.4L510.6 1195.3L510.8 1195.7L511.0 1196.7L511.2 1193.6L511.4 1196.7L511.6 1200.3L511.8 1199.9L512.0 1197.4L512.2 1200.6L512.4 1198.0L512.6 1196.6L512.8 1200.5L513.0 1197.7L513.2 1191.9L513.4 1194.2L513.6 1194.3L513.8 1194.9L514.0 1199.5L514.2 1193.8L514.4 1196.2L514.6 1197.4L514.8 1197.2L515.0 1193.2L515.2 1191.6L515.4 1197.5L515.6 1193.7L515.8 1197.5L516.0 1197.4L516.2 1190.5L516.4 1196.0L516.6 1196.8L516.8 1192.2L517.0 1191.3L517.2 1192.0L517.4 1194.7L517.6 1190.2L517.8 1190.5L518.0 1196.1L518.2 1189.3L518.4 1193.8L518.6 1189.8L518.8 1194.7L519.0 1188.0L519.2 1191.4L519.4 1192.1L519.6 1188.8L519.8 1188.8L520.0 1191.0L520.2 1189.9L520.4 1189.4L520.6 1187.8L520.8 1188.4L521.0 1191.3L521.2 1189.5L521.4 1186.2L521.6 1185.0L521.8 1186.8L522.0 1191.3L522.2 1191.6L522.4 1183.9L522.6 1187.3L522.8 1189.2L523.0 1188.5L523.2 1186.4L523.4 1189.1L523.6 1184.7L523.8 1188.7L524.0 1188.5L524.2 1185.9L524.4 1183.9L524.6 1181.6L524.8 1183.5L525.0 1182.6L525.2 1184.3L525.4 1186.2L525.6 1183.6L525.8 1180.3L526.0 1184.3L526.2 1183.5L526.4 1183.9L526.6 1180.9L526.8 1183.0L527.0 1184.9L527.2 1183.9L527.4 1183.1L527.6 1180.5L527.8 1177.6L528.0 1182.7L528.2 1180.8L528.4 1179.1L528.6 1181.5L528.8 1180.7L529.0 1181.0L529.2 1176.7L529.4 1178.4L529.6 1179.7L529.8 1178.9L530.0 1179.7L530.2 1178.4L530.4 1175.4L530.6 1174.6L530.8 1173.9L531.0 1174.5L531.2 1177.1L531.4 1174.8L531.6 1175.0L531.8 1175.2L532.0 1174.3L532.2 1176.5L532.4 1173.0L532.6 1172.7L532.8 1173.9L533.0 1173.9L533.2 1174.0L533.4 1171.2L533.6 1172.5L533.8 1173.1L534.0 1170.6L534.2 1172.8L534.4 1168.5L534.6 1170.4L534.8 1170.2L535.0 1170.7L535.2 1171.3L535.4 1166.9L535.6 1169.2L535.8 1170.8L536.0 1167.6L536.2 1168.2L536.4 1167.3L536.6 1167.6L536.8 1167.9L537.0 1165.9L537.2 1165.5L537.4 1163.7L537.6 1163.6L537.8 1162.8L538.0 1163.9L538.2 1163.4L538.4 1163.6L538.6 1164.3L538.8 1161.9L539.0 1160.7L539.2 1161.3L539.4 1159.9L539.6 1159.0L539.8 1159.2L540.0 1158.6L540.2 1157.8L540.4 1158.2L540.6 1159.2L540.8 1158.9L541.0 1156.3L541.2 1157.8L541.4 1156.9L541.6 1156.0L541.8 1156.8L542.0 1155.5L542.2 1154.7L542.4 1153.4L542.6 1154.2L542.8 1151.4L543.0 1152.5L543.2 1151.9L543.4 1152.1L543.6 1150.5L543.8 1150.6L544.0 1148.7L544.2 1148.3L544.4 1148.8L544.6 1147.8L544.8 1148.0L545.0 1148.7L545.2 1147.8L545.4 1146.1L545.6 1146.6L545.8 1145.1L546.0 1145.6L546.2 1144.5L546.4 1143.8L546.6 1143.9L546.8 1141.9L547.0 1140.9L547.2 1142.1L547.4 1140.4L547.6 1140.5L547.8 1140.8L548.0 1139.6L548.2 1137.5L548.4 1137.1L548.6 1138.2L548.8 1137.3L549.0 1136.3L549.2 1135.1L549.4 1134.9L549.6 1134.2L549.8 1134.0L550.0 1132.9L550.2 1131.2L550.4 1130.4L550.6 1130.7L550.8 1129.3L551.0 1128.8L551.2 1129.1L551.4 1127.5L551.6 1127.8L551.8 1126.3L552.0 1125.4L552.2 1124.7L552.4 1123.9L552.6 1122.8L552.8 1123.1L553.0 1121.2L553.2 1120.6L553.4 1119.6L553.6 1119.7L553.8 1118.9L554.0 1117.5L554.2 1117.0L554.4 1115.5L554.6 1115.2L554.8 1114.3L555.0 1113.0L555.2 1112.3L555.4 1110.6L555.6 1109.9L555.8 1109.5L556.0 1108.0L556.2 1107.5L556.4 1106.4L556.6 1104.8L556.8 1103.6L557.0 1102.9L557.2 1101.4L557.4 1100.7L557.6 1099.9L557.8 1098.6L558.0 1097.9L558.2 1096.3L558.4 1095.0L558.6 1094.4L558.8 1093.5L559.0 1092.3L559.2 1091.0L559.4 1090.1L559.6 1089.2L559.8 1087.8L560.0 1086.8L560.2 1085.8L560.4 1084.6L560.6 1083.3L560.8 1082.0L561.0 1081.1L561.2 1079.8L561.4 1079.0L561.6 1077.4L561.8 1076.4L562.0 1075.4L562.2 1074.4L562.4 1073.1L562.6 1072.2L562.8 1071.1L563.0 1070.3L563.2 1069.4L563.4 1068.3L563.6 1067.6L563.8 1066.8L564.0 1065.6L564.2 1064.8L564.4 1064.2L564.6 1063.1L564.8 1062.3L565.0 1061.6L565.2 1060.9L565.4 1060.4L565.6 1059.8L565.8 1059.2L566.0 1059.0L566.2 1058.7L566.4 1058.4L566.6 1058.1L566.8 1057.7L567.0 1057.6L567.2 1057.2L567.4 1057.1L567.6 1056.9L567.8 1056.8L568.0 1056.8L568.2 1056.9L568.4 1056.7L568.6 1056.9L568.8 1057.0L569.0 1057.2L569.2 1057.7L569.4 1057.7L569.6 1058.1L569.8 1058.4L570.0 1058.6L570.2 1059.0L570.4 1059.2L570.6 1059.5L570.8 1060.1L571.0 1060.7L571.2 1061.1L571.4 1061.8L571.6 1062.3L571.8 1063.0L572.0 1064.0L572.2 1064.7L572.4 1065.4L572.6 1066.3L572.8 1066.9L573.0 1068.1L573.2 1069.0L573.4 1069.7L573.6 1070.5L573.8 1071.8L574.0 1072.6L574.2 1074.1L574.4 1075.1L574.6 1076.1L574.8 1077.2L575.0 1078.4L575.2 1079.8L575.4 1081.2L575.6 1082.3L575.8 1083.4L576.0 1084.8L576.2 1085.8L576.4 1086.9L576.6 1088.1L576.8 1089.4L577.0 1090.3L577.2 1091.7L577.4 1092.9L577.6 1093.9L577.8 1095.0L578.0 1096.1L578.2 1096.7L578.4 1097.8L578.6 1099.2L578.8 1100.0L579.0 1101.5L579.2 1102.4L579.4 1103.0L579.6 1104.1L579.8 1105.9L580.0 1106.5L580.2 1107.2L580.4 1108.1L580.6 1109.5L580.8 1110.7L581.0 1111.8L581.2 1112.4L581.4 1112.9L581.6 1114.4L581.8 1116.0L582.0 1116.1L582.2 1117.6L582.4 1118.4L582.6 1119.4L582.8 1120.4L583.0 1120.2L583.2 1120.7L583.4 1121.7L583.6 1123.1L583.8 1123.6L584.0 1125.2L584.2 1125.5L584.4 1126.1L584.6 1126.9L584.8 1128.1L585.0 1127.4L585.2 1129.5L585.4 1129.1L585.6 1130.7L585.8 1131.9L586.0 1131.0L586.2 1131.8L586.4 1133.6L586.6 1133.7L586.8 1134.8L587.0 1134.7L587.2 1136.7L587.4 1137.0L587.6 1136.2L587.8 1137.3L588.0 1138.3L588.2 1138.8L588.4 1139.8L588.6 1139.6L588.8 1139.7L589.0 1142.2L589.2 1141.3L589.4 1141.5L589.6 1143.9L589.8 1145.0L590.0 1144.8L590.2 1144.9L590.4 1146.0L590.6 1144.8L590.8 1145.8L591.0 1146.3L591.2 1146.3L591.4 1148.4L591.6 1147.5L591.8 1149.6L592.0 1147.6L592.2 1149.0L592.4 1149.1L592.6 1150.4L592.8 1152.5L593.0 1152.7L593.2 1152.2L593.4 1153.8L593.6 1151.7L593.8 1153.0L594.0 1153.8L594.2 1154.1L594.4 1154.2L594.6 1156.0L594.8 1154.5L595.0 1155.3L595.2 1157.7L595.4 1157.1L595.6 1156.1L595.8 1157.9L596.0 1156.3L596.2 1157.3L596.4 1158.4L596.6 1158.9L596.8 1159.0L597.0 1159.9L597.2 1161.7L597.4 1160.9L597.6 1160.9L597.8 1163.4L598.0 1163.5L598.2 1163.5L598.4 1163.4L598.6 1163.9L598.8 1162.2L599.0 1162.9L599.2 1164.3L599.4 1164.4L599.6 1164.3L599.8 1164.5L600.0 1166.4L600.2 1165.9L600.4 1166.7L600.6 1166.7L600.8 1168.3L601.0 1167.9L601.2 1167.3L601.4 1169.9L601.6 1168.4L601.8 1168.5L602.0 1168.0L602.2 1170.2L602.4 1168.1L602.6 1168.9L602.8 1170.0L603.0 1171.3L603.2 1172.3L603.4 1171.3L603.6 1173.9L603.8 1172.1L604.0 1170.4L604.2 1173.2L604.4 1174.3L604.6 1174.4L604.8 1172.1L605.0 1172.2L605.2 1174.6L605.4 1173.6L605.6 1175.5L605.8 1173.9L606.0 1174.5L606.2 1177.8L606.4 1177.9L606.6 1173.3L606.8 1173.7L607.0 1178.4L607.2 1176.5L607.4 1174.9L607.6 1176.9L607.8 1176.4L608.0 1176.2L608.2 1178.0L608.4 1178.9L608.6 1177.2L608.8 1176.3L609.0 1175.8L609.2 1178.8L609.4 1176.3L609.6 1176.8L609.8 1179.8L610.0 1177.0L610.2 1182.5L610.4 1179.8L610.6 1178.8L610.8 1179.9L611.0 1182.3L611.2 1181.6L611.4 1178.3L611.6 1180.2L611.8 1178.9L612.0 1178.8L612.2 1178.1L612.4 1181.2L612.6 1180.6L612.8 1183.8L613.0 1180.8L613.2 1185.4L613.4 1185.5L613.6 1183.9L613.8 1186.0L614.0 1185.0L614.2 1180.8L614.4 1182.8L614.6 1185.7L614.8 1186.9L615.0 1185.5L615.2 1180.8L615.4 1188.1L615.6 1183.3L615.8 1184.7L616.0 1186.0L616.2 1187.8L616.4 1186.7L616.6 1185.0L616.8 1184.8L617.0 1183.6L617.2 1187.2L617.4 1183.3L617.6 1189.9L617.8 1188.8L618.0 1191.0L618.2 1189.2L618.4 1187.1L618.6 1188.0L618.8 1187.6L619.0 1188.4L619.2 1191.0L619.4 1186.2L619.6 1190.8L619.8 1185.5L620.0 1190.9L620.2 1187.9L620.4 1188.2L620.6 1187.7L620.8 1187.6L621.0 1191.2L621.2 1187.4L621.4 1188.1L621.6 1192.7L621.8 1186.9L622.0 1191.7L622.2 1187.1L622.4 1190.1L622.6 1191.8L622.8 1194.0L623.0 1190.0L623.2 1193.5L623.4 1192.3L623.6 1191.1L623.8 1190.8L624.0 1193.6L624.2 1189.9L624.4 1193.4L624.6 1193.5L624.8 1190.7L625.0 1190.5L625.2 1195.3L625.4 1190.8L625.6 1193.3L625.8 1191.4L626.0 1191.2L626.2 1193.3L626.4 1190.7L626.6 1191.6L626.8 1194.3L627.0 1198.6L627.2 1194.2L627.4 1197.3L627.6 1197.2L627.8 1193.9L628.0 1192.6L628.2 1199.4L628.4 1199.5L628.6 1201.9L628.8 1196.7L629.0 1198.4L629.2 1194.7L629.4 1201.3L629.6 1194.4L629.8 1195.3L630.0 1200.3L630.2 1198.7L630.4 1201.1L630.6 1196.3L630.8 1204.4L631.0 1201.6L631.2 1201.5L631.4 1195.6L631.6 1203.0L631.8 1202.3L632.0 1197.9L632.2 1198.6L632.4 1204.7L632.6 1204.2L632.8 1205.6L633.0 1199.6L633.2 1197.8L633.4 1205.5L633.6 1200.1L633.8 1199.8L634.0 1202.2L634.2 1198.8L634.4 1199.8L634.6 1204.8L634.8 1205.0L635.0 1204.9L635.2 1200.1L635.4 1207.5L635.6 1203.0L635.8 1204.9L636.0 1201.2L636.2 1209.2L636.4 1203.7L636.6 1199.8L636.8 1208.3L637.0 1211.3L637.2 1204.0L637.4 1205.0L637.6 1205.0L637.8 1208.4L638.0 1201.2L638.2 1202.5L638.4 1204.2L638.6 1205.3L638.8 1204.0L639.0 1207.2L639.2 1208.9L639.4 1211.1L639.6 1209.9L639.8 1201.8L640.0 1208.4L640.2 1204.9L640.4 1211.9L640.6 1204.1L640.8 1209.4L641.0 1203.3L641.2 1210.3L641.4 1209.1L641.6 1207.6L641.8 1205.7L642.0 1201.1L642.2 1206.5L642.4 1205.4L642.6 1210.2L642.8 1203.0L643.0 1204.4L643.2 1208.3L643.4 1205.4L643.6 1208.5L643.8 1208.8L644.0 1210.1L644.2 1205.3L644.4 1206.1L644.6 1200.7L644.8 1203.6L645.0 1203.0L645.2 1200.2L645.4 1200.4L645.6 1207.9L645.8 1206.4L646.0 1202.2L646.2 1202.8L646.4 1202.3L646.6 1203.7L646.8 1203.4L647.0 1205.2L647.2 1197.8L647.4 1201.7L647.6 1203.4L647.8 1204.9L648.0 1202.6L648.2 1198.8L648.4 1199.0L648.6 1197.3L648.8 1201.3L649.0 1196.2L649.2 1194.3L649.4 1193.0L649.6 1200.3L649.8 1198.9L650.0 1198.7L650.2 1200.7L650.4 1199.9L650.6 1192.8L650.8 1195.3L651.0 1199.2L651.2 1197.7L651.4 1193.7L651.6 1197.6L651.8 1196.9L652.0 1190.5L652.2 1189.6L652.4 1195.4L652.6 1196.3L652.8 1187.9L653.0 1194.2L653.2 1191.1L653.4 1187.2L653.6 1187.2L653.8 1191.7L654.0 1191.4L654.2 1189.2L654.4 1187.9L654.6 1187.9L654.8 1185.7L655.0 1187.4L655.2 1190.2L655.4 1186.2L655.6 1184.3L655.8 1183.9L656.0 1187.3L656.2 1185.1L656.4 1184.5L656.6 1182.3L656.8 1183.0L657.0 1179.3L657.2 1182.8L657.4 1178.5L657.6 1180.7L657.8 1180.8L658.0 1179.4L658.2 1181.1L658.4 1176.2L658.6 1180.2L658.8 1178.2L659.0 1178.0L659.2 1176.7L659.4 1178.2L659.6 1174.3L659.8 1177.1L660.0 1175.5L660.2 1174.5L660.4 1174.0L660.6 1175.4L660.8 1172.3L661.0 1172.3L661.2 1170.7L661.4 1169.2L661.6 1171.7L661.8 1172.7L662.0 1167.8L662.2 1170.4L662.4 1167.3L662.6 1167.8L662.8 1167.4L663.0 1169.9L663.2 1168.0L663.4 1169.4L663.6 1165.2L663.8 1164.6L664.0 1167.4L664.2 1166.0L664.4 1164.7L664.6 1167.4L664.8 1164.9L665.0 1165.6L665.2 1165.1L665.4 1163.9L665.6 1165.6L665.8 1164.3L666.0 1164.0L666.2 1165.7L666.4 1164.3L666.6 1162.5L666.8 1165.3L667.0 1164.2L667.2 1164.5L667.4 1162.4L667.6 1162.8L667.8 1164.6L668.0 1162.4L668.2 1162.6L668.4 1165.7L668.6 1166.6L668.8 1166.7L669.0 1165.4L669.2 1167.4L669.4 1168.8L669.6 1166.7L669.8 1166.6L670.0 1167.3L670.2 1167.2L670.4 1167.7L670.6 1166.6L670.8 1169.9L671.0 1170.3L671.2 1168.4L671.4 1171.4L671.6 1172.5L671.8 1169.2L672.0 1172.2L672.2 1173.4L672.4 1174.5L672.6 1173.6L672.8 1174.8L673.0 1174.2L673.2 1173.4L673.4 1177.5L673.6 1174.5L673.8 1176.4L674.0 1179.2L674.2 1178.6L674.4 1176.3L674.6 1180.2L674.8 1180.8L675.0 1180.6L675.2 1181.9L675.4 1184.3L675.6 1184.9L675.8 1180.7L676.0 1183.2L676.2 1188.4L676.4 1187.0L676.6 1184.3L676.8 1186.8L677.0 1184.4L677.2 1190.5L677.4 1188.0L677.6 1190.4L677.8 1188.3L678.0 1192.2L678.2 1190.0L678.4 1194.6L678.6 1196.4L678.8 1196.7L679.0 1200.4L679.2 1197.3L679.4 1193.6L679.6 1200.1L679.8 1198.1L680.0 1200.6L680.2 1201.0L680.4 1203.8L680.6 1206.5L680.8 1201.3L681.0 1206.7L681.2 1200.7L681.4 1208.5L681.6 1204.3L681.8 1203.4L682.0 1209.3L682.2 1203.5L682.4 1207.6L682.6 1205.4L682.8 1212.3L683.0 1207.5L683.2 1208.5L683.4 1207.2L683.6 1213.8L683.8 1211.3L684.0 1211.6L684.2 1216.8L684.4 1216.3L684.6 1215.2L684.8 1223.7L685.0 1217.7L685.2 1220.4L685.4 1224.2L685.6 1217.5L685.8 1215.7L686.0 1218.6L686.2 1221.9L686.4 1222.4L686.6 1228.2L686.8 1219.1L687.0 1226.3L687.2 1212.9L687.4 1218.1L687.6 1218.9L687.8 1218.1L688.0 1230.4L688.2 1227.9L688.4 1219.7L688.6 1233.9L688.8 1227.4L689.0 1224.6L689.2 1232.2L689.4 1224.0L689.6 1226.2L689.8 1238.5L690.0 1227.2L690.2 1234.9L690.4 1224.7L690.6 1240.5L690.8 1230.0L691.0 1224.8L691.2 1226.8L691.4 1237.8L691.6 1234.5L691.8 1228.5L692.0 1237.5L692.2 1226.6L692.4 1239.0L692.6 1238.9L692.8 1234.3L693.0 1232.2L693.2 1230.2L693.4 1234.7L693.6 1248.4L693.8 1233.2L694.0 1240.6L694.2 1250.1L694.4 1232.7L694.6 1249.2L694.8 1235.6L695.0 1231.2L695.2 1244.6L695.4 1245.6L695.6 1253.5L695.8 1240.0L696.0 1228.4L696.2 1249.4L696.4 1250.6L696.6 1246.0L696.8 1248.7L697.0 1247.2L697.2 1235.4L697.4 1251.8L697.6 1246.8L697.8 1263.1L698.0 1251.9L698.2 1252.6L698.4 1255.5L698.6 1245.7L698.8 1248.9L699.0 1256.0L699.2 1263.1L699.4 1260.0L699.6 1233.9L699.8 1246.1L700.0 1241.1L700.2 1235.1L700.4 1246.6L700.6 1253.4L700.8 1245.9L701.0 1264.2L701.2 1267.1L701.4 1253.0L701.6 1244.0L701.8 1262.9L702.0 1268.9L702.2 1243.7L702.4 1259.4L702.6 1245.0L702.8 1254.2L703.0 1257.7L703.2 1242.3L703.4 1245.0L703.6 1260.2L703.8 1243.8L704.0 1265.4L704.2 1272.0L704.4 1270.2L704.6 1232.7L704.8 1250.9L705.0 1246.0L705.2 1273.5L705.4 1249.4L705.6 1243.5L705.8 1241.8L706.0 1257.8L706.2 1248.8L706.4 1263.4L706.6 1240.8L706.8 1252.8L707.0 1257.2L707.2 1260.3L707.4 1263.9L707.6 1244.6L707.8 1270.9L708.0 1260.5L708.2 1274.4L708.4 1270.3L708.6 1279.5L708.8 1283.4L709.0 1247.1L709.2 1260.6L709.4 1248.6L709.6 1262.6L709.8 1243.0L710.0 1245.8L710.2 1269.8L710.4 1243.1L710.6 1277.5L710.8 1284.7L711.0 1252.4L711.2 1272.5L711.4 1253.0L711.6 1237.3L711.8 1249.3L712.0 1243.9L712.2 1271.7L712.4 1264.1L712.6 1263.3L712.8 1278.5L713.0 1239.7L713.2 1265.3L713.4 1278.1L713.6 1248.2L713.8 1251.1L714.0 1277.9L714.2 1271.7L714.4 1257.0L714.6 1264.3L714.8 1265.6L715.0 1248.0L715.2 1276.7L715.4 1280.8L715.6 1242.8L715.8 1252.2L716.0 1255.6L716.2 1278.6L716.4 1281.3L716.6 1277.0L716.8 1280.7L717.0 1270.5L717.2 1243.6L717.4 1264.3L717.6 1246.3L717.8 1266.3L718.0 1284.5L718.2 1281.7L718.4 1283.4L718.6 1271.7L718.8 1267.2L719.0 1284.3L719.2 1255.7L719.4 1276.2L719.6 1312.0L719.8 1312.0L720.0 1312.0L720.2 1277.5L720.4 1260.2L720.6 1236.8L720.8 1245.7L721.0 1245.9L721.2 1256.3L721.4 1312.0L721.6 1265.7L721.8 1305.9L722.0 1283.4L722.2 1274.5L722.4 1312.0L722.6 1273.0L722.8 1249.8L723.0 1267.1L723.2 1264.6L723.4 1255.5L723.6 1238.3L723.8 1257.4L724.0 1284.3L724.2 1258.3L724.4 1274.9L724.6 1279.8L724.8 1246.7L725.0 1244.3L725.2 1283.7L725.4 1274.1L725.6 1298.0L725.8 1251.7L726.0 1244.4L726.2 1254.0L726.4 1252.0L726.6 1255.7L726.8 1276.8L727.0 1312.0L727.2 1266.2L727.4 1279.4L727.6 1272.8L727.8 1306.6L728.0 1259.1L728.2 1279.0L728.4 1261.8L728.6 1273.2L728.8 1272.0L729.0 1257.0L729.2 1276.2L729.4 1254.8L729.6 1249.1L729.8 1259.0L730.0 1258.9L730.2 1256.6L730.4 1266.4L730.6 1276.8L730.8 1312.0L731.0 1282.0L731.2 1283.2L731.4 1281.2L731.6 1251.8L731.8 1255.2L732.0 1264.3L732.2 1258.7L732.4 1248.2L732.6 1250.1L732.8 1281.8L733.0 1272.4L733.2 1245.5L733.4 1269.0L733.6 1270.4L733.8 1279.3L734.0 1268.0L734.2 1250.6L734.4 1268.8L734.6 1281.1L734.8 1263.4L735.0 1284.9L735.2 1304.5L735.4 1265.6L735.6 1258.4L735.8 1277.5L736.0 1259.2L736.2 1248.4L736.4 1312.0L736.6 1284.8L736.8 1283.6L737.0 1267.6L737.2 1250.9L737.4 1284.3L737.6 1285.0L737.8 1312.0L738.0 1263.7L738.2 1258.9L738.4 1281.0L738.6 1247.4L738.8 1284.8L739.0 1275.6L739.2 1243.8L739.4 1263.0L739.6 1284.6L739.8 1259.8L740.0 1282.7L740.2 1244.2L740.4 1250.1L740.6 1258.9L740.8 1253.5L741.0 1254.1L741.2 1300.3L741.4 1264.5L741.6 1251.0L741.8 1252.4L742.0 1266.8L742.2 1262.3L742.4 1271.3L742.6 1245.4L742.8 1261.5L743.0 1244.3L743.2 1266.2L743.4 1245.1L743.6 1263.5L743.8 1277.6L744.0 1261.4L744.2 1253.0L744.4 1249.5L744.6 1253.8L744.8 1277.9L745.0 1281.0L745.2 1301.4L745.4 1279.2L745.6 1250.4L745.8 1267.4L746.0 1259.1L746.2 1312.0L746.4 1275.5L746.6 1262.7L746.8 1312.0L747.0 1263.0L747.2 1262.7L747.4 1303.8L747.6 1269.9L747.8 1250.8L748.0 1269.3L748.2 1257.8L748.4 1312.0L748.6 1246.3L748.8 1278.4L749.0 1247.6L749.2 1276.2L749.4 1247.8L749.6 1251.8L749.8 1248.9L750.0 1312.0L750.2 1274.4L750.4 1275.0L750.6 1244.6L750.8 1275.9L751.0 1312.0L751.2 1246.5L751.4 1262.0L751.6 1263.9L751.8 1258.0L752.0 1248.9L752.2 1283.3L752.4 1264.6L752.6 1264.5L752.8 1270.2L753.0 1261.0L753.2 1245.4L753.4 1243.8L753.6 1255.5L753.8 1243.5L754.0 1247.6L754.2 1278.4L754.4 1268.5L754.6 1248.6L754.8 1243.0L755.0 1255.7L755.2 1276.6L755.4 1258.9L755.6 1242.8L755.8 1250.5L756.0 1273.5L756.2 1259.3L756.4 1257.2L756.6 1266.4L756.8 1265.0L757.0 1261.2L757.2 1258.7L757.4 1268.2L757.6 1247.9L757.8 1255.5L758.0 1250.9L758.2 1237.6L758.4 1240.0L758.6 1250.8L758.8 1245.2L759.0 1253.7L759.2 1265.2L759.4 1255.9L759.6 1247.8L759.8 1259.4L760.0 1239.0L760.2 1249.9L760.4 1256.8L760.6 1244.3L760.8 1250.0L761.0 1235.7L761.2 1244.9L761.4 1241.6L761.6 1244.3L761.8 1228.3L762.0 1230.2L762.2 1247.3L762.4 1237.1L762.6 1244.1L762.8 1233.7L763.0 1241.0L763.2 1233.4L763.4 1222.9L763.6 1230.2L763.8 1229.1L764.0 1241.6L764.2 1225.5L764.4 1230.4L764.6 1224.2L764.8 1228.0L765.0 1229.8L765.2 1235.0L765.4 1228.3L765.6 1235.4L765.8 1232.3L766.0 1226.5L766.2 1233.3L766.4 1237.1L766.6 1230.4L766.8 1224.5L767.0 1232.5L767.2 1218.0L767.4 1223.2L767.6 1225.8L767.8 1216.6L768.0 1230.5L768.2 1223.5L768.4 1222.0L768.6 1232.7L768.8 1234.2L769.0 1228.3L769.2 1233.4L769.4 1217.5L769.6 1228.0L769.8 1234.2L770.0 1220.5L770.2 1234.1L770.4 1232.2L770.6 1227.7L770.8 1225.2L771.0 1226.3L771.2 1227.3L771.4 1223.9L771.6 1224.0L771.8 1237.6L772.0 1229.5L772.2 1241.4L772.4 1227.4L772.6 1222.3L772.8 1244.6L773.0 1241.3L773.2 1228.5L773.4 1226.6L773.6 1237.9L773.8 1241.0L774.0 1231.7L774.2 1237.5L774.4 1233.6L774.6 1244.6L774.8 1241.4L775.0 1240.0L775.2 1234.4L775.4 1242.8L775.6 1238.8L775.8 1239.7L776.0 1246.4L776.2 1231.7L776.4 1241.4L776.6 1239.4L776.8 1251.7L777.0 1248.7L777.2 1250.8L777.4 1251.8L777.6 1234.0L777.8 1256.9L778.0 1243.6L778.2 1251.5L778.4 1253.5L778.6 1259.2L778.8 1242.9L779.0 1238.7L779.2 1238.3L779.4 1240.9L779.6 1253.5L779.8 1254.9L780.0 1252.1L780.2 1312.0L780.4 1257.8L780.6 1241.7L780.8 1257.9L781.0 1250.7L781.2 1256.7L781.4 1263.4L781.6 1240.4L781.8 1269.4L782.0 1241.2L782.2 1242.3L782.4 1262.7L782.6 1270.0L782.8 1259.3L783.0 1273.5L783.2 1272.6L783.4 1249.6L783.6 1246.2L783.8 1260.6L784.0 1273.8L784.2 1261.0L784.4 1235.0L784.6 1267.2L784.8 1273.6L785.0 1272.2L785.2 1250.6L785.4 1258.6L785.6 1245.1L785.8 1243.0L786.0 1269.4L786.2 1252.9L786.4 1250.7L786.6 1312.0L786.8 1251.6L787.0 1270.5L787.2 1247.0L787.4 1264.5L787.6 1250.5L787.8 1258.7L788.0 1274.1L788.2 1252.2L788.4 1283.9L788.6 1251.0L788.8 1298.0L789.0 1276.2L789.2 1282.6L789.4 1275.6L789.6 1264.5L789.8 1283.0L790.0 1285.9L790.2 1265.1L790.4 1248.9L790.6 1285.3L790.8 1312.0L791.0 1312.0L791.2 1272.4L791.4 1285.2L791.6 1312.0L791.8 1276.1L792.0 1305.2L792.2 1254.1L792.4 1248.9L792.6 1266.5L792.8 1246.5L793.0 1273.7L793.2 1261.4L793.4 1281.9L793.6 1312.0L793.8 1254.3L794.0 1261.8L794.2 1268.9L794.4 1284.4L794.6 1272.8L794.8 1284.5L795.0 1254.4L795.2 1312.0L795.4 1284.2L795.6 1284.5L795.8 1283.2L796.0 1268.6L796.2 1257.7L796.4 1273.9L796.6 1275.8L796.8 1312.0L797.0 1248.8L797.2 1267.4L797.4 1255.3L797.6 1266.8L797.8 1283.5L798.0 1263.3L798.2 1255.0L798.4 1312.0L798.6 1258.0L798.8 1258.1L799.0 1274.8L799.2 1251.2L799.4 1284.2L799.6 1258.1L799.8 1265.2L800.0 1284.3L800.2 1255.6L800.4 1272.9L800.6 1262.7L800.8 1282.2L801.0 1280.1L801.2 1264.2L801.4 1282.9L801.6 1266.5L801.8 1283.1L802.0 1249.9L802.2 1257.1L802.4 1254.8L802.6 1255.3L802.8 1260.4L803.0 1253.0L803.2 1269.4L803.4 1278.9L803.6 1250.8L803.8 1279.8L804.0 1258.9L804.2 1260.0L804.4 1246.9L804.6 1285.6L804.8 1279.7L805.0 1265.2L805.2 1312.0L805.4 1284.3L805.6 1268.3L805.8 1255.1L806.0 1270.0L806.2 1277.6L806.4 1300.2L806.6 1312.0L806.8 1312.0L807.0 1270.3L807.2 1247.6L807.4 1296.9L807.6 1298.5L807.8 1284.3L808.0 1274.4L808.2 1263.6L808.4 1298.0L808.6 1265.6L808.8 1278.6L809.0 1256.1L809.2 1260.3L809.4 1263.3L809.6 1312.0L809.8 1276.6L810.0 1283.4L810.2 1268.3L810.4 1252.8L810.6 1312.0L810.8 1255.2L811.0 1295.9L811.2 1281.1L811.4 1280.7L811.6 1259.7L811.8 1263.7L812.0 1255.5L812.2 1282.4L812.4 1284.0L812.6 1264.8L812.8 1276.0L813.0 1285.5L813.2 1312.0L813.4 1312.0L813.6 1255.8L813.8 1280.7L814.0 1270.0L814.2 1260.6L814.4 1283.6L814.6 1255.5L814.8 1312.0L815.0 1312.0L815.2 1259.4L815.4 1268.4L815.6 1285.1L815.8 1273.8L816.0 1254.0L816.2 1268.6L816.4 1269.4L816.6 1257.3L816.8 1285.4L817.0 1285.4L817.2 1259.3L817.4 1272.5L817.6 1312.0L817.8 1272.0L818.0 1312.0L818.2 1283.8L818.4 1256.8L818.6 1268.3L818.8 1312.0L819.0 1312.0L819.2 1253.1L819.4 1312.0L819.6 1278.6L819.8 1284.1L820.0 1300.3L820.2 1254.3L820.4 1263.5L820.6 1275.0L820.8 1312.0L821.0 1268.5L821.2 1251.5L821.4 1312.0L821.6 1312.0L821.8 1282.6L822.0 1284.1L822.2 1283.9L822.4 1283.7L822.6 1257.8L822.8 1270.8L823.0 1283.6L823.2 1267.5L823.4 1256.8L823.6 1280.2L823.8 1276.2L824.0 1312.0L824.2 1274.3L824.4 1283.7L824.6 1274.4L824.8 1261.4L825.0 1283.8L825.2 1255.8L825.4 1278.7L825.6 1283.9L825.8 1256.1L826.0 1285.9L826.2 1283.9L826.4 1279.0L826.6 1257.9L826.8 1298.4L827.0 1263.0L827.2 1256.3L827.4 1262.3L827.6 1285.1L827.8 1248.5L828.0 1269.3L828.2 1279.7L828.4 1257.7L828.6 1269.4L828.8 1265.8L829.0 1264.1L829.2 1283.7L829.4 1284.2L829.6 1267.9L829.8 1257.5L830.0 1260.0L830.2 1284.1L830.4 1284.6L830.6 1283.7L830.8 1312.0L831.0 1266.7L831.2 1252.0L831.4 1250.5L831.6 1258.2L831.8 1282.5L832.0 1281.6L832.2 1312.0L832.4 1258.7L832.6 1254.0L832.8 1312.0L833.0 1274.0L833.2 1282.7L833.4 1272.0L833.6 1285.0L833.8 1267.9L834.0 1273.3L834.2 1312.0L834.4 1261.1L834.6 1283.8L834.8 1250.1L835.0 1253.7L835.2 1260.9L835.4 1312.0L835.6 1263.6L835.8 1248.6L836.0 1257.6L836.2 1283.7L836.4 1312.0L836.6 1270.6L836.8 1269.2L837.0 1273.4L837.2 1285.9L837.4 1267.6L837.6 1269.0L837.8 1277.8L838.0 1285.9L838.2 1268.0L838.4 1284.2L838.6 1251.8L838.8 1312.0L839.0 1284.7L839.2 1269.9L839.4 1285.1L839.6 1277.8L839.8 1259.0L840.0 1262.3L840.2 1312.0L840.4 1280.6L840.6 1269.5L840.8 1312.0L841.0 1268.3L841.2 1312.0L841.4 1276.0L841.6 1264.6L841.8 1274.0L842.0 1285.0L842.2 1272.6L842.4 1300.6L842.6 1285.4L842.8 1312.0L843.0 1312.0L843.2 1285.6L843.4 1285.1L843.6 1261.7L843.8 1312.0L844.0 1306.4L844.2 1271.0L844.4 1275.4L844.6 1249.4L844.8 1312.0L845.0 1281.3L845.2 1261.5L845.4 1267.7L845.6 1274.1L845.8 1312.0L846.0 1312.0L846.2 1273.3L846.4 1263.9L846.6 1260.5L846.8 1274.4L847.0 1312.0L847.2 1260.9L847.4 1270.1L847.6 1285.2L847.8 1286.0L848.0 1266.9L848.2 1298.0L848.4 1263.0L848.6 1278.6L848.8 1251.9L849.0 1253.6L849.2 1281.6L849.4 1263.1L849.6 1258.2L849.8 1259.8L850.0 1284.6L850.2 1266.1L850.4 1276.9L850.6 1265.0L850.8 1286.0L851.0 1265.1L851.2 1279.3L851.4 1276.4L851.6 1312.0L851.8 1267.7L852.0 1250.1L852.2 1265.4L852.4 1267.8L852.6 1312.0L852.8 1272.9L853.0 1264.6L853.2 1258.3L853.4 1270.3L853.6 1283.8L853.8 1265.2L854.0 1273.8L854.2 1269.9L854.4 1266.4L854.6 1270.1L854.8 1303.7L855.0 1269.8L855.2 1285.5L855.4 1312.0L855.6 1279.6L855.8 1251.1L856.0 1312.0L856.2 1262.9L856.4 1285.2L856.6 1312.0L856.8 1280.4L857.0 1258.7L857.2 1258.6L857.4 1284.5L857.6 1271.0L857.8 1268.5L858.0 1266.8L858.2 1271.6L858.4 1284.0L858.6 1272.4L858.8 1285.1L859.0 1296.8L859.2 1285.0L859.4 1268.3L859.6 1273.9L859.8 1254.3L860.0 1257.3L862.2 1279.8L864.4 1254.7L866.6 1263.3L868.8 1229.6L871.0 1244.7L873.2 1237.2L875.4 1232.1L877.6 1258.1L879.8 1250.4L882.0 1273.9L884.2 1265.5L886.4 1287.8L888.6 1270.1L890.8 1259.5L893.0 1246.3L895.2 1246.9L897.4 1231.0L899.6 1280.2L901.8 1266.2L904.0 1296.7L906.2 1269.8L908.4 1269.2L910.6 1258.0" stroke="#231815" stroke-width="2.8"/>
<path d="M191.4 1286.7L192.4 1286.7L193.4 1286.7L194.4 1286.7L195.4 1286.7L196.4 1286.7L197.4 1286.6L198.4 1286.6L199.4 1286.6L200.4 1286.6L201.4 1286.5L202.4 1286.5L203.4 1286.4L204.4 1286.4L205.4 1286.4L206.4 1286.3L207.4 1286.3L208.4 1286.2L209.4 1286.1L210.4 1286.1L211.4 1286.0L212.4 1285.9L213.4 1285.9L214.4 1285.8L215.4 1285.7L216.4 1285.6L217.4 1285.5L218.4 1285.5L219.4 1285.4L220.4 1285.3L221.4 1285.2L222.4 1285.1L223.4 1285.0L224.4 1284.9L225.4 1284.8L226.4 1284.6L227.4 1284.5L228.4 1284.4L229.4 1284.3L230.4 1284.2L231.4 1284.0L232.4 1283.9L233.4 1283.8L234.4 1283.6L235.4 1283.5L236.4 1283.4L237.4 1283.2L238.4 1283.1L239.4 1282.9L240.4 1282.8L241.4 1282.6L242.4 1282.5L243.4 1282.3L244.4 1282.1L245.4 1282.0L246.4 1281.8L247.4 1281.6L248.4 1281.5L249.4 1281.3L250.4 1281.1L251.4 1280.9L252.4 1280.8L253.4 1280.6L254.4 1280.4L255.4 1280.2L256.4 1280.0L257.4 1279.8L258.4 1279.6L259.4 1279.4L260.4 1279.2L261.4 1279.0L262.4 1278.8L263.4 1278.6L264.4 1278.4L265.4 1278.2L266.4 1278.0L267.4 1277.7L268.4 1277.3L269.4 1276.8L270.4 1276.3L271.4 1275.4L272.4 1274.5L273.4 1273.7L274.4 1273.3L275.4 1273.1L276.4 1273.0L277.4 1272.9L278.4 1272.8L279.4 1272.7L280.4 1272.6L281.4 1272.6L282.4 1272.5L283.4 1272.3L284.4 1272.2L285.4 1272.1L286.4 1272.0L287.4 1271.9L288.4 1271.8L289.4 1271.7L290.4 1271.6L291.4 1271.5L292.4 1271.4L293.4 1271.3L294.4 1271.2L295.4 1271.1L296.4 1271.0L297.4 1270.9L298.4 1270.8L299.4 1270.7L300.4 1270.6L301.4 1270.5L302.4 1270.4L303.4 1270.3L304.4 1270.2L305.4 1270.1L306.4 1270.0L307.4 1269.9L308.4 1269.8L309.4 1269.7L310.4 1269.5L311.4 1269.4L312.4 1269.3L313.4 1269.2L314.4 1269.1L315.4 1269.0L316.4 1268.9L317.4 1268.8L318.4 1268.6L319.4 1268.5L320.4 1268.4L321.4 1268.3L322.4 1268.1L323.4 1268.0L324.4 1267.9L325.4 1267.7L326.4 1267.6L327.4 1267.5L328.4 1267.3L329.4 1267.2L330.4 1267.0L331.4 1266.9L332.4 1266.7L333.4 1266.6L334.4 1266.4L335.4 1266.3L336.4 1266.1L337.4 1265.9L338.4 1265.8L339.4 1265.6L340.4 1265.4L341.4 1265.2L342.4 1265.0L343.4 1264.9L344.4 1264.7L345.4 1264.5L346.4 1264.3L347.4 1264.1L348.4 1263.8L349.4 1263.6L350.4 1263.3L351.4 1263.0L352.4 1262.6L353.4 1262.2L354.4 1261.8L355.4 1261.3L356.4 1260.6L357.4 1259.5L358.4 1258.2L359.4 1255.7L360.4 1251.6L361.4 1246.8L362.4 1242.1L363.4 1236.4L364.4 1230.7L365.4 1226.3L366.4 1223.3L367.4 1220.6L368.4 1218.5L369.4 1217.5L370.4 1217.9L371.4 1219.5L372.4 1221.6L373.4 1224.1L374.4 1228.0L375.4 1232.5L376.4 1236.7L377.4 1240.0L378.4 1243.1L379.4 1245.8L380.4 1247.7L381.4 1249.3L382.4 1250.6L383.4 1251.6L384.4 1252.2L385.4 1252.8L386.4 1253.2L387.4 1253.5L388.4 1253.6L389.4 1253.6L390.4 1253.5L391.4 1253.4L392.4 1253.3L393.4 1253.2L394.4 1253.0L395.4 1252.8L396.4 1252.6L397.4 1252.4L398.4 1252.1L399.4 1251.8L400.4 1251.5L401.4 1251.2L402.4 1250.9L403.4 1250.5L404.4 1250.2L405.4 1249.8L406.4 1249.4L407.4 1249.0L408.4 1248.6L409.4 1248.2L410.4 1247.8L411.4 1247.4L412.4 1246.9L413.4 1246.5L414.4 1246.1L415.4 1245.7L416.4 1245.2L417.4 1244.8L418.4 1244.4L419.4 1244.0L420.4 1243.6L421.4 1243.2L422.4 1242.8L423.4 1242.4L424.4 1242.0L425.4 1241.6L426.4 1241.3L427.4 1240.9L428.4 1240.6L429.4 1240.2L430.4 1239.9L431.4 1239.5L432.4 1239.1L433.4 1238.8L434.4 1238.4L435.4 1238.0L436.4 1237.6L437.4 1237.2L438.4 1236.8L439.4 1236.4L440.4 1235.9L441.4 1235.5L442.4 1235.0L443.4 1234.5L444.4 1234.0L445.4 1233.5L446.4 1232.9L447.4 1232.3L448.4 1231.7L449.4 1231.1L450.4 1230.5L451.4 1229.8L452.4 1228.9L453.4 1227.8L454.4 1226.3L455.4 1223.9L456.4 1220.6L457.4 1216.7L458.4 1212.4L459.4 1207.2L460.4 1200.7L461.4 1193.9L462.4 1187.4L463.4 1180.5L464.4 1174.4L465.4 1170.8L466.4 1168.2L467.4 1166.7L468.4 1166.9L469.4 1168.7L470.4 1171.4L471.4 1175.1L472.4 1180.6L473.4 1187.2L474.4 1193.9L475.4 1201.3L476.4 1209.3L477.4 1216.4L478.4 1222.4L479.4 1227.9L480.4 1231.7L481.4 1234.1L482.4 1235.9L483.4 1236.8L484.4 1236.6L485.4 1236.1L486.4 1235.4L487.4 1234.8L488.4 1234.1L489.4 1233.4L490.4 1232.7L491.4 1232.0L492.4 1231.2L493.4 1230.4L494.4 1229.6L495.4 1228.8L496.4 1228.0L497.4 1227.1L498.4 1226.3L499.4 1225.4L500.4 1224.5L501.4 1223.7L502.4 1222.8L503.4 1221.9L504.4 1221.1L505.4 1220.2L506.4 1219.4L507.4 1218.5L508.4 1217.7L509.4 1216.9L510.4 1216.1L511.4 1215.3L512.4 1214.5L513.4 1213.7L514.4 1212.9L515.4 1212.1L516.4 1211.3L517.4 1210.5L518.4 1209.6L519.4 1208.8L520.4 1207.9L521.4 1207.0L522.4 1206.0L523.4 1205.1L524.4 1204.1L525.4 1203.1L526.4 1202.1L527.4 1201.0L528.4 1199.9L529.4 1198.8L530.4 1197.7L531.4 1196.6L532.4 1195.5L533.4 1194.3L534.4 1193.1L535.4 1191.9L536.4 1190.6L537.4 1189.2L538.4 1187.8L539.4 1186.3L540.4 1184.7L541.4 1183.0L542.4 1181.3L543.4 1179.4L544.4 1177.4L545.4 1175.4L546.4 1173.1L547.4 1170.4L548.4 1167.4L549.4 1163.9L550.4 1160.1L551.4 1156.0L552.4 1151.5L553.4 1146.7L554.4 1141.2L555.4 1134.4L556.4 1126.6L557.4 1118.4L558.4 1110.1L559.4 1101.8L560.4 1092.5L561.4 1083.1L562.4 1074.9L563.4 1068.8L564.4 1063.7L565.4 1060.2L566.4 1058.4L567.4 1057.4L568.4 1057.9L569.4 1059.4L570.4 1062.2L571.4 1067.4L572.4 1073.6L573.4 1081.2L574.4 1090.0L575.4 1099.4L576.4 1108.9L577.4 1120.0L578.4 1131.6L579.4 1141.5L580.4 1147.9L581.4 1153.0L582.4 1157.5L583.4 1161.5L584.4 1165.0L585.4 1168.1L586.4 1170.8L587.4 1173.3L588.4 1175.6L589.4 1177.7L590.4 1179.7L591.4 1181.6L592.4 1183.4L593.4 1185.1L594.4 1186.7L595.4 1188.3L596.4 1189.7L597.4 1191.1L598.4 1192.4L599.4 1193.6L600.4 1194.8L601.4 1195.9L602.4 1197.0L603.4 1198.1L604.4 1199.1L605.4 1200.1L606.4 1201.1L607.4 1202.0L608.4 1202.9L609.4 1203.8L610.4 1204.7L611.4 1205.5L612.4 1206.4L613.4 1207.1L614.4 1207.9L615.4 1208.7L616.4 1209.4L617.4 1210.1L618.4 1210.7L619.4 1211.4L620.4 1212.0L621.4 1212.6L622.4 1213.1L623.4 1213.6L624.4 1214.2L625.4 1214.6L626.4 1215.1L627.4 1215.6L628.4 1216.1L629.4 1216.6L630.4 1217.1L631.4 1217.6L632.4 1218.0L633.4 1218.5L634.4 1218.9L635.4 1219.3L636.4 1219.7L637.4 1220.0L638.4 1220.3L639.4 1220.5L640.4 1220.7L641.4 1220.9L642.4 1221.0L643.4 1221.0L644.4 1221.0L645.4 1221.0L646.4 1220.9L647.4 1220.8L648.4 1220.7L649.4 1220.6L650.4 1220.4L651.4 1219.9L652.4 1219.0L653.4 1217.8L654.4 1216.3L655.4 1213.8L656.4 1210.3L657.4 1206.3L658.4 1202.0L659.4 1196.7L660.4 1190.8L661.4 1185.0L662.4 1180.0L663.4 1174.7L664.4 1169.8L665.4 1166.7L666.4 1166.5L667.4 1168.1L668.4 1170.7L669.4 1173.6L670.4 1178.1L671.4 1184.0L672.4 1190.4L673.4 1197.2L674.4 1204.8L675.4 1212.3L676.4 1219.5L677.4 1226.6L678.4 1232.5L679.4 1237.2L680.4 1241.4L681.4 1244.7L682.4 1246.7L683.4 1248.3L684.4 1249.6L685.4 1250.6L686.4 1251.5L687.4 1252.1L688.4 1252.6L689.4 1253.1L690.4 1253.5L691.4 1254.0L692.4 1254.4L693.4 1254.8L694.4 1255.2L695.4 1255.5L696.4 1255.9L697.4 1256.2L698.4 1256.5L699.4 1256.8L700.4 1257.1L701.4 1257.4L702.4 1257.6L703.4 1257.9L704.4 1258.1L705.4 1258.3L706.4 1258.6L707.4 1258.8L708.4 1259.0L709.4 1259.2L710.4 1259.4L711.4 1259.6L712.4 1259.8L713.4 1260.0L714.4 1260.1L715.4 1260.3L716.4 1260.5L717.4 1260.7L718.4 1260.9L719.4 1261.1L720.4 1261.3L721.4 1261.5L722.4 1261.7L723.4 1261.9L724.4 1262.1L725.4 1262.3L726.4 1262.6L727.4 1262.8L728.4 1263.0L729.4 1263.3L730.4 1263.6L731.4 1263.9L732.4 1264.2L733.4 1264.5L734.4 1264.9L735.4 1265.2L736.4 1265.5L737.4 1265.9L738.4 1266.2L739.4 1266.5L740.4 1266.8L741.4 1267.1L742.4 1267.4L743.4 1267.7L744.4 1268.0L745.4 1268.2L746.4 1268.4L747.4 1268.6L748.4 1268.7L749.4 1268.9L750.4 1268.9L751.4 1269.0L752.4 1269.0L753.4 1269.0L754.4 1269.0L755.4 1269.0L756.4 1268.1L757.4 1265.5L758.4 1262.3L759.4 1258.5L760.4 1253.6L761.4 1248.5L762.4 1243.2L763.4 1237.7L764.4 1233.3L765.4 1230.3L766.4 1227.7L767.4 1226.3L768.4 1226.9L769.4 1228.7L770.4 1231.2L771.4 1234.2L772.4 1238.2L773.4 1242.6L774.4 1246.5L775.4 1250.3L776.4 1253.9L777.4 1256.8L778.4 1259.0L779.4 1261.0L780.4 1262.8L781.4 1264.3L782.4 1265.5L783.4 1266.4L784.4 1267.1L785.4 1267.6L786.4 1268.2L787.4 1268.6L788.4 1269.0L789.4 1269.4L790.4 1269.7L791.4 1270.0L792.4 1270.3L793.4 1270.6L794.4 1270.8L795.4 1271.1L796.4 1271.4L797.4 1271.6L798.4 1271.9L799.4 1272.1L800.4 1272.4L801.4 1272.6L802.4 1272.8L803.4 1273.1L804.4 1273.3L805.4 1273.5L806.4 1273.7L807.4 1273.9L808.4 1274.1L809.4 1274.3L810.4 1274.5L811.4 1274.7L812.4 1274.9L813.4 1275.0L814.4 1275.2L815.4 1275.4L816.4 1275.5L817.4 1275.7L818.4 1275.9L819.4 1276.0L820.4 1276.2L821.4 1276.3L822.4 1276.5L823.4 1276.6L824.4 1276.8L825.4 1276.9L826.4 1277.0L827.4 1277.2L828.4 1277.3L829.4 1277.5L830.4 1277.6L831.4 1277.8L832.4 1277.9L833.4 1278.1L834.4 1278.2L835.4 1278.4L836.4 1278.5L837.4 1278.7L838.4 1278.8L839.4 1278.9L840.4 1279.1L841.4 1279.2L842.4 1279.3L843.4 1279.5L844.4 1279.6L845.4 1279.7L846.4 1279.8L847.4 1279.9L848.4 1280.0L849.4 1280.1L850.4 1280.1L851.4 1280.2L852.4 1280.3L853.4 1280.3L854.4 1280.3L855.4 1280.4L856.4 1280.4L857.4 1280.4L858.4 1280.3L859.4 1279.9L860.4 1279.3L861.4 1278.8L862.4 1278.0L863.4 1277.3L864.4 1277.0L865.4 1277.4L866.4 1278.4L867.4 1279.5L868.4 1281.3L869.4 1283.5L870.4 1285.4L871.4 1286.5L872.4 1287.0L873.4 1287.4L874.4 1287.7L875.4 1287.9L876.4 1288.1L877.4 1288.2L878.4 1288.3L879.4 1288.4L880.4 1288.6L881.4 1288.7L882.4 1288.8L883.4 1288.9L884.4 1289.0L885.4 1289.1L886.4 1289.2L887.4 1289.3L888.4 1289.4L889.4 1289.5L890.4 1289.6L891.4 1289.7L892.4 1289.7L893.4 1289.8L894.4 1289.9L895.4 1290.0L896.4 1290.0L897.4 1290.1L898.4 1290.1L899.4 1290.2L900.4 1290.2L901.4 1290.3L902.4 1290.3L903.4 1290.3L904.4 1290.4L905.4 1290.4L906.4 1290.4L907.4 1290.5L908.4 1290.5L909.4 1290.5L910.4 1290.5L911.4 1290.5L912.4 1290.5" stroke="#0a9a48" stroke-width="5" stroke-linejoin="round" stroke-linecap="butt"/>
</g>
<rect x="192.3" y="488.3" width="720.4" height="818.6" fill="none" stroke="#231815" stroke-width="2.3"/>
<path d="M320.0 661.6H324.2V688.4H329.6L322.1 714.9L314.6 688.4H320.0Z" fill="#e60012"/>
<path d="M792.5 667.5H796.8V686.0H802.1L794.6 712.5L787.1 686.0H792.5Z" fill="#e60012"/>
<path d="M361.7 816.0H365.9V842.5H371.3L363.8 869.0L356.3 842.5H361.7Z" fill="#e60012"/>
<path d="M755.9 814.1H760.1V838.6H765.5L758.0 865.1L750.5 838.6H755.9Z" fill="#e60012"/>
<path d="M422.5 987.5H426.8V1012.5H432.1L424.6 1039.0L417.1 1012.5H422.5Z" fill="#e60012"/>
<path d="M710.6 984.0H714.9V1008.5H720.2L712.7 1035.0L705.2 1008.5H710.6Z" fill="#e60012"/>
<path d="M368.1 1160.9H372.3V1188.4H377.7L370.2 1214.9L362.7 1188.4H368.1Z" fill="#e60012"/>
<path d="M467.2 1109.6H471.5V1136.4H476.9L469.4 1162.9L461.9 1136.4H467.2Z" fill="#e60012"/>
<path d="M664.6 1116.0H668.9V1136.5H674.3L666.8 1163.0L659.3 1136.5H664.6Z" fill="#e60012"/>
<path d="M765.5 1169.9H769.8V1196.4H775.1L767.6 1222.9L760.1 1196.4H765.5Z" fill="#e60012"/>
<g fill="#231815">
<text x="231.8" y="555.6" font-size="38">CeIn<tspan font-size="27.5" dy="9.5">3</tspan><tspan dy="-9.5">(</tspan><tspan font-style="italic">n</tspan><tspan dx="3.7">)/LaIn</tspan><tspan font-size="27.5" dy="9.5">3</tspan><tspan dy="-9.5">(4)</tspan></text>
<text y="718" font-size="38"><tspan x="212.8" font-style="italic">n</tspan><tspan x="249.9">=</tspan><tspan x="283.1">1</tspan></text>
<text x="298.1" y="891.6" font-size="38" text-anchor="middle">2</text>
<text x="297.3" y="1055.7" font-size="38" text-anchor="middle">4</text>
<text x="298.6" y="1226.3" font-size="38" text-anchor="middle">8</text>
<text x="191.9" y="1349.8" font-size="37.5" text-anchor="middle">32</text>
<text x="311.9" y="1349.8" font-size="37.5" text-anchor="middle">34</text>
<text x="431.9" y="1349.8" font-size="37.5" text-anchor="middle">36</text>
<text x="551.9" y="1349.8" font-size="37.5" text-anchor="middle">38</text>
<text x="671.9" y="1349.8" font-size="37.5" text-anchor="middle">40</text>
<text x="791.9" y="1349.8" font-size="37.5" text-anchor="middle">42</text>
<text x="911.9" y="1349.8" font-size="37.5" text-anchor="middle">44</text>
<text y="1398" font-size="37"><tspan x="461.7">2</tspan><tspan x="512.4" font-size="38">/</tspan><tspan x="551.6" font-size="39">(deg)</tspan></text>
<text transform="translate(493.1 1398) scale(1.27 1)" font-family="'Liberation Serif',serif" font-size="38">θ</text>
<text transform="translate(523.1 1398) scale(1.27 1)" font-family="'Liberation Serif',serif" font-size="38">θ</text>
<text transform="translate(164.7 1017.8) rotate(-90)" font-size="38">Intensity (a.u.)</text>
</g>
</svg>
</body></html>
